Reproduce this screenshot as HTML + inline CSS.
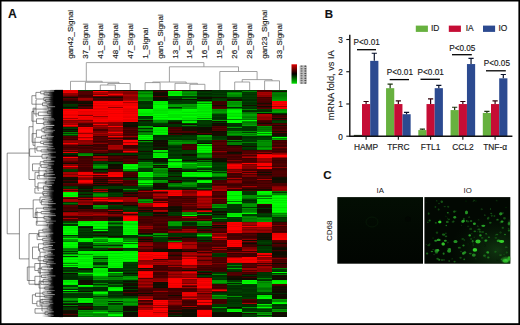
<!DOCTYPE html>
<html><head><meta charset="utf-8">
<style>
html,body{margin:0;padding:0;background:#fff;}
body{width:520px;height:325px;overflow:hidden;position:relative;font-family:"Liberation Sans",sans-serif;}
svg{position:absolute;left:0;top:0;}
svg text{stroke:#1a1a1a;stroke-width:0.15px;}
</style></head><body>
<svg width="520" height="325" viewBox="0 0 520 325" font-family="Liberation Sans, sans-serif">
<defs>
<linearGradient id="cbar" x1="0" y1="0" x2="0" y2="1">
<stop offset="0" stop-color="#e00000"/><stop offset="0.5" stop-color="#000"/><stop offset="1" stop-color="#00e000"/>
</linearGradient>
<linearGradient id="dg" x1="0" y1="0" x2="1" y2="0">
<stop offset="0" stop-color="#000" stop-opacity="0"/><stop offset="0.28" stop-color="#000" stop-opacity="0.35"/><stop offset="0.46" stop-color="#000" stop-opacity="0.8"/><stop offset="0.56" stop-color="#000" stop-opacity="1"/><stop offset="1" stop-color="#000" stop-opacity="1"/>
</linearGradient>
<radialGradient id="haze" cx="0.85" cy="0.8" r="0.55">
<stop offset="0" stop-color="#1c5a1c" stop-opacity="0.55"/><stop offset="1" stop-color="#0a2a0a" stop-opacity="0"/>
</radialGradient>
<radialGradient id="blob"><stop offset="0" stop-color="#3fd03f" stop-opacity="0.85"/><stop offset="0.6" stop-color="#1f8f1f" stop-opacity="0.5"/><stop offset="1" stop-color="#0a3a0a" stop-opacity="0"/></radialGradient>
<radialGradient id="blob2"><stop offset="0" stop-color="#2a9a2a" stop-opacity="0.6"/><stop offset="1" stop-color="#0a3a0a" stop-opacity="0"/></radialGradient>
<filter id="hblur" x="-1%" y="-1%" width="102%" height="102%"><feGaussianBlur stdDeviation="0.25 0.35"/></filter>
<clipPath id="ioclip"><rect x="424.4" y="197.1" width="85.9" height="66.6"/></clipPath>
<linearGradient id="iag" x1="0" y1="0" x2="0" y2="1">
<stop offset="0" stop-color="#030e03"/><stop offset="0.5" stop-color="#020902"/><stop offset="1" stop-color="#010501"/>
</linearGradient>
<filter id="soft" x="-5%" y="-5%" width="110%" height="110%"><feGaussianBlur stdDeviation="0.7"/></filter>
</defs>
<rect x="0" y="0" width="520" height="325" fill="#fff"/>
<g filter="url(#hblur)"><g shape-rendering="crispEdges">
<rect x="63.00" y="90" width="14.98" height="1.02" fill="#ea0000"/>
<rect x="63.00" y="91" width="14.98" height="1.02" fill="#e70000"/>
<rect x="63.00" y="92" width="14.98" height="1.02" fill="#f20000"/>
<rect x="63.00" y="93" width="14.98" height="1.02" fill="#960000"/>
<rect x="63.00" y="94" width="14.98" height="1.02" fill="#920000"/>
<rect x="63.00" y="95" width="14.98" height="1.02" fill="#7d0000"/>
<rect x="63.00" y="96" width="14.98" height="1.02" fill="#510000"/>
<rect x="63.00" y="97" width="14.98" height="1.02" fill="#100800"/>
<rect x="63.00" y="98" width="14.98" height="1.02" fill="#540000"/>
<rect x="63.00" y="99" width="14.98" height="1.02" fill="#450000"/>
<rect x="63.00" y="100" width="14.98" height="1.02" fill="#3a0000"/>
<rect x="63.00" y="101" width="14.98" height="1.02" fill="#100900"/>
<rect x="63.00" y="102" width="14.98" height="1.02" fill="#0f0800"/>
<rect x="63.00" y="103" width="14.98" height="1.02" fill="#140b00"/>
<rect x="63.00" y="104" width="14.98" height="1.02" fill="#003800"/>
<rect x="63.00" y="105" width="14.98" height="1.02" fill="#003400"/>
<rect x="63.00" y="106" width="14.98" height="1.02" fill="#002d00"/>
<rect x="63.00" y="107" width="14.98" height="1.02" fill="#0f0800"/>
<rect x="63.00" y="108" width="14.98" height="1.02" fill="#003500"/>
<rect x="63.00" y="109" width="14.98" height="1.02" fill="#fb0000"/>
<rect x="63.00" y="110" width="14.98" height="1.02" fill="#f00000"/>
<rect x="63.00" y="111" width="14.98" height="1.02" fill="#ff0000"/>
<rect x="63.00" y="112" width="14.98" height="1.02" fill="#fa0000"/>
<rect x="63.00" y="113" width="14.98" height="1.02" fill="#ff0000"/>
<rect x="63.00" y="114" width="14.98" height="1.02" fill="#ef0000"/>
<rect x="63.00" y="115" width="14.98" height="1.02" fill="#e80000"/>
<rect x="63.00" y="116" width="14.98" height="1.02" fill="#ff0000"/>
<rect x="63.00" y="117" width="14.98" height="1.02" fill="#f70000"/>
<rect x="63.00" y="118" width="14.98" height="1.02" fill="#a00000"/>
<rect x="63.00" y="119" width="14.98" height="1.02" fill="#fa0000"/>
<rect x="63.00" y="120" width="14.98" height="1.02" fill="#8a0000"/>
<rect x="63.00" y="121" width="14.98" height="1.02" fill="#9b0000"/>
<rect x="63.00" y="122" width="14.98" height="1.02" fill="#930000"/>
<rect x="63.00" y="123" width="14.98" height="1.02" fill="#b00000"/>
<rect x="63.00" y="124" width="14.98" height="1.02" fill="#9f0000"/>
<rect x="63.00" y="125" width="14.98" height="1.02" fill="#ff0000"/>
<rect x="63.00" y="126" width="14.98" height="1.02" fill="#b30000"/>
<rect x="63.00" y="127" width="14.98" height="1.02" fill="#003200"/>
<rect x="63.00" y="128" width="14.98" height="1.02" fill="#003a00"/>
<rect x="63.00" y="129" width="14.98" height="1.02" fill="#110900"/>
<rect x="63.00" y="130" width="14.98" height="1.02" fill="#002e00"/>
<rect x="63.00" y="131" width="14.98" height="1.02" fill="#130b00"/>
<rect x="63.00" y="132" width="14.98" height="1.02" fill="#007d00"/>
<rect x="63.00" y="133" width="14.98" height="1.02" fill="#003f00"/>
<rect x="63.00" y="134" width="14.98" height="1.02" fill="#008900"/>
<rect x="63.00" y="135" width="14.98" height="1.02" fill="#003f00"/>
<rect x="63.00" y="136" width="14.98" height="1.02" fill="#520000"/>
<rect x="63.00" y="137" width="14.98" height="1.02" fill="#450000"/>
<rect x="63.00" y="138" width="14.98" height="1.02" fill="#530000"/>
<rect x="63.00" y="139" width="14.98" height="1.02" fill="#3d0000"/>
<rect x="63.00" y="140" width="14.98" height="1.02" fill="#850000"/>
<rect x="63.00" y="141" width="14.98" height="1.02" fill="#950000"/>
<rect x="63.00" y="142" width="14.98" height="1.02" fill="#870000"/>
<rect x="63.00" y="143" width="14.98" height="1.02" fill="#f40000"/>
<rect x="63.00" y="144" width="14.98" height="1.02" fill="#990000"/>
<rect x="63.00" y="145" width="14.98" height="1.02" fill="#4d0000"/>
<rect x="63.00" y="146" width="14.98" height="1.02" fill="#4b0000"/>
<rect x="63.00" y="147" width="14.98" height="1.02" fill="#3b0000"/>
<rect x="63.00" y="148" width="14.98" height="1.02" fill="#500000"/>
<rect x="63.00" y="149" width="14.98" height="1.02" fill="#500000"/>
<rect x="63.00" y="150" width="14.98" height="1.02" fill="#8f0000"/>
<rect x="63.00" y="151" width="14.98" height="1.02" fill="#4b0000"/>
<rect x="63.00" y="152" width="14.98" height="1.02" fill="#e60000"/>
<rect x="63.00" y="153" width="14.98" height="1.02" fill="#002f00"/>
<rect x="63.00" y="154" width="14.98" height="1.02" fill="#002d00"/>
<rect x="63.00" y="155" width="14.98" height="1.02" fill="#0f0800"/>
<rect x="63.00" y="156" width="14.98" height="1.02" fill="#440000"/>
<rect x="63.00" y="157" width="14.98" height="1.02" fill="#ff0000"/>
<rect x="63.00" y="158" width="14.98" height="1.02" fill="#800000"/>
<rect x="63.00" y="159" width="14.98" height="1.02" fill="#8c0000"/>
<rect x="63.00" y="160" width="14.98" height="1.02" fill="#7f0000"/>
<rect x="63.00" y="161" width="14.98" height="1.02" fill="#560000"/>
<rect x="63.00" y="162" width="14.98" height="1.02" fill="#470000"/>
<rect x="63.00" y="163" width="14.98" height="1.02" fill="#0f0800"/>
<rect x="63.00" y="164" width="14.98" height="1.02" fill="#870000"/>
<rect x="63.00" y="165" width="14.98" height="1.02" fill="#810000"/>
<rect x="63.00" y="166" width="14.98" height="1.02" fill="#ff0000"/>
<rect x="63.00" y="167" width="14.98" height="1.02" fill="#800000"/>
<rect x="63.00" y="168" width="14.98" height="1.02" fill="#790000"/>
<rect x="63.00" y="169" width="14.98" height="1.02" fill="#004100"/>
<rect x="63.00" y="170" width="14.98" height="1.02" fill="#003b00"/>
<rect x="63.00" y="171" width="14.98" height="1.02" fill="#003400"/>
<rect x="63.00" y="172" width="14.98" height="1.02" fill="#a60000"/>
<rect x="63.00" y="173" width="14.98" height="1.02" fill="#a60000"/>
<rect x="63.00" y="174" width="14.98" height="1.02" fill="#850000"/>
<rect x="63.00" y="175" width="14.98" height="1.02" fill="#b30000"/>
<rect x="63.00" y="176" width="14.98" height="1.02" fill="#a80000"/>
<rect x="63.00" y="177" width="14.98" height="1.02" fill="#130a00"/>
<rect x="63.00" y="178" width="14.98" height="1.02" fill="#120a00"/>
<rect x="63.00" y="179" width="14.98" height="1.02" fill="#0e0800"/>
<rect x="63.00" y="180" width="14.98" height="1.02" fill="#410000"/>
<rect x="63.00" y="181" width="14.98" height="1.02" fill="#130a00"/>
<rect x="63.00" y="182" width="14.98" height="1.02" fill="#110900"/>
<rect x="63.00" y="183" width="14.98" height="1.02" fill="#560000"/>
<rect x="63.00" y="184" width="14.98" height="1.02" fill="#440000"/>
<rect x="63.00" y="185" width="14.98" height="1.02" fill="#400000"/>
<rect x="63.00" y="186" width="14.98" height="1.02" fill="#003000"/>
<rect x="63.00" y="187" width="14.98" height="1.02" fill="#003f00"/>
<rect x="63.00" y="188" width="14.98" height="1.02" fill="#003600"/>
<rect x="63.00" y="189" width="14.98" height="1.02" fill="#a70000"/>
<rect x="63.00" y="190" width="14.98" height="1.02" fill="#4c0000"/>
<rect x="63.00" y="191" width="14.98" height="1.02" fill="#a60000"/>
<rect x="63.00" y="192" width="14.98" height="1.02" fill="#00f100"/>
<rect x="63.00" y="193" width="14.98" height="1.02" fill="#00fd00"/>
<rect x="63.00" y="194" width="14.98" height="1.02" fill="#00fd00"/>
<rect x="63.00" y="195" width="14.98" height="1.02" fill="#00ed00"/>
<rect x="63.00" y="196" width="14.98" height="1.02" fill="#00ff00"/>
<rect x="63.00" y="197" width="14.98" height="1.02" fill="#820000"/>
<rect x="63.00" y="198" width="14.98" height="1.02" fill="#3d0000"/>
<rect x="63.00" y="199" width="14.98" height="1.02" fill="#a80000"/>
<rect x="63.00" y="200" width="14.98" height="1.02" fill="#a90000"/>
<rect x="63.00" y="201" width="14.98" height="1.02" fill="#9f0000"/>
<rect x="63.00" y="202" width="14.98" height="1.02" fill="#003800"/>
<rect x="63.00" y="203" width="14.98" height="1.02" fill="#007000"/>
<rect x="63.00" y="204" width="14.98" height="1.02" fill="#003a00"/>
<rect x="63.00" y="205" width="14.98" height="1.02" fill="#540000"/>
<rect x="63.00" y="206" width="14.98" height="1.02" fill="#520000"/>
<rect x="63.00" y="207" width="14.98" height="1.02" fill="#3f0000"/>
<rect x="63.00" y="208" width="14.98" height="1.02" fill="#420000"/>
<rect x="63.00" y="209" width="14.98" height="1.02" fill="#4a0000"/>
<rect x="63.00" y="210" width="14.98" height="1.02" fill="#450000"/>
<rect x="63.00" y="211" width="14.98" height="1.02" fill="#140b00"/>
<rect x="63.00" y="212" width="14.98" height="1.02" fill="#930000"/>
<rect x="63.00" y="213" width="14.98" height="1.02" fill="#ae0000"/>
<rect x="63.00" y="214" width="14.98" height="1.02" fill="#af0000"/>
<rect x="63.00" y="215" width="14.98" height="1.02" fill="#970000"/>
<rect x="63.00" y="216" width="14.98" height="1.02" fill="#3a0000"/>
<rect x="63.00" y="217" width="14.98" height="1.02" fill="#3e0000"/>
<rect x="63.00" y="218" width="14.98" height="1.02" fill="#a70000"/>
<rect x="63.00" y="219" width="14.98" height="1.02" fill="#470000"/>
<rect x="63.00" y="220" width="14.98" height="1.02" fill="#490000"/>
<rect x="63.00" y="221" width="14.98" height="1.02" fill="#003700"/>
<rect x="63.00" y="222" width="14.98" height="1.02" fill="#003d00"/>
<rect x="63.00" y="223" width="14.98" height="1.02" fill="#008f00"/>
<rect x="63.00" y="224" width="14.98" height="1.02" fill="#003200"/>
<rect x="63.00" y="225" width="14.98" height="1.02" fill="#003700"/>
<rect x="63.00" y="226" width="14.98" height="1.02" fill="#00fc00"/>
<rect x="63.00" y="227" width="14.98" height="1.02" fill="#00ef00"/>
<rect x="63.00" y="228" width="14.98" height="1.02" fill="#00f200"/>
<rect x="63.00" y="229" width="14.98" height="1.02" fill="#00f900"/>
<rect x="63.00" y="230" width="14.98" height="1.02" fill="#00f300"/>
<rect x="63.00" y="231" width="14.98" height="1.02" fill="#00ff00"/>
<rect x="63.00" y="232" width="14.98" height="1.02" fill="#00ff00"/>
<rect x="63.00" y="233" width="14.98" height="1.02" fill="#00e800"/>
<rect x="63.00" y="234" width="14.98" height="1.02" fill="#00ff00"/>
<rect x="63.00" y="235" width="14.98" height="1.02" fill="#002f00"/>
<rect x="63.00" y="236" width="14.98" height="1.02" fill="#008800"/>
<rect x="63.00" y="237" width="14.98" height="1.02" fill="#007d00"/>
<rect x="63.00" y="238" width="14.98" height="1.02" fill="#00f800"/>
<rect x="63.00" y="239" width="14.98" height="1.02" fill="#00a200"/>
<rect x="63.00" y="240" width="14.98" height="1.02" fill="#009800"/>
<rect x="63.00" y="241" width="14.98" height="1.02" fill="#007800"/>
<rect x="63.00" y="242" width="14.98" height="1.02" fill="#00ff00"/>
<rect x="63.00" y="243" width="14.98" height="1.02" fill="#00ff00"/>
<rect x="63.00" y="244" width="14.98" height="1.02" fill="#00f100"/>
<rect x="63.00" y="245" width="14.98" height="1.02" fill="#00fe00"/>
<rect x="63.00" y="246" width="14.98" height="1.02" fill="#00ef00"/>
<rect x="63.00" y="247" width="14.98" height="1.02" fill="#00eb00"/>
<rect x="63.00" y="248" width="14.98" height="1.02" fill="#008100"/>
<rect x="63.00" y="249" width="14.98" height="1.02" fill="#007100"/>
<rect x="63.00" y="250" width="14.98" height="1.02" fill="#008800"/>
<rect x="63.00" y="251" width="14.98" height="1.02" fill="#003300"/>
<rect x="63.00" y="252" width="14.98" height="1.02" fill="#008c00"/>
<rect x="63.00" y="253" width="14.98" height="1.02" fill="#004100"/>
<rect x="63.00" y="254" width="14.98" height="1.02" fill="#00a600"/>
<rect x="63.00" y="255" width="14.98" height="1.02" fill="#00e800"/>
<rect x="63.00" y="256" width="14.98" height="1.02" fill="#003d00"/>
<rect x="63.00" y="257" width="14.98" height="1.02" fill="#00e300"/>
<rect x="63.00" y="258" width="14.98" height="1.02" fill="#00ff00"/>
<rect x="63.00" y="259" width="14.98" height="1.02" fill="#00e800"/>
<rect x="63.00" y="260" width="14.98" height="1.02" fill="#00ff00"/>
<rect x="63.00" y="261" width="14.98" height="1.02" fill="#00f900"/>
<rect x="63.00" y="262" width="14.98" height="1.02" fill="#00e000"/>
<rect x="63.00" y="263" width="14.98" height="1.02" fill="#008700"/>
<rect x="63.00" y="264" width="14.98" height="1.02" fill="#00ff00"/>
<rect x="63.00" y="265" width="14.98" height="1.02" fill="#009c00"/>
<rect x="63.00" y="266" width="14.98" height="1.02" fill="#00ff00"/>
<rect x="63.00" y="267" width="14.98" height="1.02" fill="#003e00"/>
<rect x="63.00" y="268" width="14.98" height="1.02" fill="#003300"/>
<rect x="63.00" y="269" width="14.98" height="1.02" fill="#004000"/>
<rect x="63.00" y="270" width="14.98" height="1.02" fill="#002e00"/>
<rect x="63.00" y="271" width="14.98" height="1.02" fill="#003100"/>
<rect x="63.00" y="272" width="14.98" height="1.02" fill="#007900"/>
<rect x="63.00" y="273" width="14.98" height="1.02" fill="#0f0800"/>
<rect x="63.00" y="274" width="14.98" height="1.02" fill="#003200"/>
<rect x="63.00" y="275" width="14.98" height="1.02" fill="#003200"/>
<rect x="63.00" y="276" width="14.98" height="1.02" fill="#002f00"/>
<rect x="63.00" y="277" width="14.98" height="1.02" fill="#002c00"/>
<rect x="63.00" y="278" width="14.98" height="1.02" fill="#002c00"/>
<rect x="63.00" y="279" width="14.98" height="1.02" fill="#003800"/>
<rect x="63.00" y="280" width="14.98" height="1.02" fill="#00f100"/>
<rect x="63.00" y="281" width="14.98" height="1.02" fill="#00e200"/>
<rect x="63.00" y="282" width="14.98" height="1.02" fill="#00ef00"/>
<rect x="63.00" y="283" width="14.98" height="1.02" fill="#00fe00"/>
<rect x="63.00" y="284" width="14.98" height="1.02" fill="#00f200"/>
<rect x="63.00" y="285" width="14.98" height="1.02" fill="#004100"/>
<rect x="63.00" y="286" width="14.98" height="1.02" fill="#003e00"/>
<rect x="63.00" y="287" width="14.98" height="1.02" fill="#009300"/>
<rect x="63.00" y="288" width="14.98" height="1.02" fill="#008300"/>
<rect x="63.00" y="289" width="14.98" height="1.02" fill="#002e00"/>
<rect x="63.00" y="290" width="14.98" height="1.02" fill="#00fb00"/>
<rect x="63.00" y="291" width="14.98" height="1.02" fill="#002f00"/>
<rect x="63.00" y="292" width="14.98" height="1.02" fill="#009f00"/>
<rect x="63.00" y="293" width="14.98" height="1.02" fill="#003a00"/>
<rect x="63.00" y="294" width="14.98" height="1.02" fill="#003100"/>
<rect x="63.00" y="295" width="14.98" height="1.02" fill="#003600"/>
<rect x="63.00" y="296" width="14.98" height="1.02" fill="#003500"/>
<rect x="63.00" y="297" width="14.98" height="1.02" fill="#004100"/>
<rect x="63.00" y="298" width="14.98" height="1.02" fill="#008e00"/>
<rect x="63.00" y="299" width="14.98" height="1.02" fill="#00a600"/>
<rect x="63.00" y="300" width="14.98" height="1.02" fill="#008300"/>
<rect x="63.00" y="301" width="14.98" height="1.02" fill="#003400"/>
<rect x="63.00" y="302" width="14.98" height="1.02" fill="#008c00"/>
<rect x="63.00" y="303" width="14.98" height="1.02" fill="#003700"/>
<rect x="63.00" y="304" width="14.98" height="1.02" fill="#100900"/>
<rect x="63.00" y="305" width="14.98" height="1.02" fill="#008600"/>
<rect x="63.00" y="306" width="14.98" height="1.02" fill="#0e0800"/>
<rect x="63.00" y="307" width="14.98" height="1.02" fill="#003100"/>
<rect x="63.00" y="308" width="14.98" height="1.02" fill="#003700"/>
<rect x="63.00" y="309" width="14.98" height="1.02" fill="#003a00"/>
<rect x="63.00" y="310" width="14.98" height="1.02" fill="#140b00"/>
<rect x="63.00" y="311" width="14.98" height="1.02" fill="#100900"/>
<rect x="63.00" y="312" width="14.98" height="1.02" fill="#0f0800"/>
<rect x="63.00" y="313" width="14.98" height="1.02" fill="#130a00"/>
<rect x="63.00" y="314" width="14.98" height="1.02" fill="#510000"/>
<rect x="63.00" y="315" width="14.98" height="1.02" fill="#120a00"/>
<rect x="63.00" y="316" width="14.98" height="1.02" fill="#140b00"/>
<rect x="77.93" y="90" width="14.98" height="1.02" fill="#003700"/>
<rect x="77.93" y="91" width="14.98" height="1.02" fill="#510000"/>
<rect x="77.93" y="92" width="14.98" height="1.02" fill="#510000"/>
<rect x="77.93" y="93" width="14.98" height="1.02" fill="#530000"/>
<rect x="77.93" y="94" width="14.98" height="1.02" fill="#4d0000"/>
<rect x="77.93" y="95" width="14.98" height="1.02" fill="#3a0000"/>
<rect x="77.93" y="96" width="14.98" height="1.02" fill="#430000"/>
<rect x="77.93" y="97" width="14.98" height="1.02" fill="#510000"/>
<rect x="77.93" y="98" width="14.98" height="1.02" fill="#9d0000"/>
<rect x="77.93" y="99" width="14.98" height="1.02" fill="#a00000"/>
<rect x="77.93" y="100" width="14.98" height="1.02" fill="#780000"/>
<rect x="77.93" y="101" width="14.98" height="1.02" fill="#130a00"/>
<rect x="77.93" y="102" width="14.98" height="1.02" fill="#120a00"/>
<rect x="77.93" y="103" width="14.98" height="1.02" fill="#0e0800"/>
<rect x="77.93" y="104" width="14.98" height="1.02" fill="#400000"/>
<rect x="77.93" y="105" width="14.98" height="1.02" fill="#100900"/>
<rect x="77.93" y="106" width="14.98" height="1.02" fill="#3f0000"/>
<rect x="77.93" y="107" width="14.98" height="1.02" fill="#550000"/>
<rect x="77.93" y="108" width="14.98" height="1.02" fill="#440000"/>
<rect x="77.93" y="109" width="14.98" height="1.02" fill="#ff0000"/>
<rect x="77.93" y="110" width="14.98" height="1.02" fill="#fc0000"/>
<rect x="77.93" y="111" width="14.98" height="1.02" fill="#e70000"/>
<rect x="77.93" y="112" width="14.98" height="1.02" fill="#ee0000"/>
<rect x="77.93" y="113" width="14.98" height="1.02" fill="#f00000"/>
<rect x="77.93" y="114" width="14.98" height="1.02" fill="#e40000"/>
<rect x="77.93" y="115" width="14.98" height="1.02" fill="#880000"/>
<rect x="77.93" y="116" width="14.98" height="1.02" fill="#ff0000"/>
<rect x="77.93" y="117" width="14.98" height="1.02" fill="#ef0000"/>
<rect x="77.93" y="118" width="14.98" height="1.02" fill="#f60000"/>
<rect x="77.93" y="119" width="14.98" height="1.02" fill="#e80000"/>
<rect x="77.93" y="120" width="14.98" height="1.02" fill="#830000"/>
<rect x="77.93" y="121" width="14.98" height="1.02" fill="#b00000"/>
<rect x="77.93" y="122" width="14.98" height="1.02" fill="#930000"/>
<rect x="77.93" y="123" width="14.98" height="1.02" fill="#550000"/>
<rect x="77.93" y="124" width="14.98" height="1.02" fill="#410000"/>
<rect x="77.93" y="125" width="14.98" height="1.02" fill="#540000"/>
<rect x="77.93" y="126" width="14.98" height="1.02" fill="#4a0000"/>
<rect x="77.93" y="127" width="14.98" height="1.02" fill="#f80000"/>
<rect x="77.93" y="128" width="14.98" height="1.02" fill="#e90000"/>
<rect x="77.93" y="129" width="14.98" height="1.02" fill="#f80000"/>
<rect x="77.93" y="130" width="14.98" height="1.02" fill="#ff0000"/>
<rect x="77.93" y="131" width="14.98" height="1.02" fill="#ff0000"/>
<rect x="77.93" y="132" width="14.98" height="1.02" fill="#e50000"/>
<rect x="77.93" y="133" width="14.98" height="1.02" fill="#950000"/>
<rect x="77.93" y="134" width="14.98" height="1.02" fill="#f00000"/>
<rect x="77.93" y="135" width="14.98" height="1.02" fill="#f10000"/>
<rect x="77.93" y="136" width="14.98" height="1.02" fill="#ff0000"/>
<rect x="77.93" y="137" width="14.98" height="1.02" fill="#a50000"/>
<rect x="77.93" y="138" width="14.98" height="1.02" fill="#e80000"/>
<rect x="77.93" y="139" width="14.98" height="1.02" fill="#ff0000"/>
<rect x="77.93" y="140" width="14.98" height="1.02" fill="#890000"/>
<rect x="77.93" y="141" width="14.98" height="1.02" fill="#8f0000"/>
<rect x="77.93" y="142" width="14.98" height="1.02" fill="#9b0000"/>
<rect x="77.93" y="143" width="14.98" height="1.02" fill="#910000"/>
<rect x="77.93" y="144" width="14.98" height="1.02" fill="#7a0000"/>
<rect x="77.93" y="145" width="14.98" height="1.02" fill="#140b00"/>
<rect x="77.93" y="146" width="14.98" height="1.02" fill="#540000"/>
<rect x="77.93" y="147" width="14.98" height="1.02" fill="#410000"/>
<rect x="77.93" y="148" width="14.98" height="1.02" fill="#3f0000"/>
<rect x="77.93" y="149" width="14.98" height="1.02" fill="#550000"/>
<rect x="77.93" y="150" width="14.98" height="1.02" fill="#500000"/>
<rect x="77.93" y="151" width="14.98" height="1.02" fill="#530000"/>
<rect x="77.93" y="152" width="14.98" height="1.02" fill="#490000"/>
<rect x="77.93" y="153" width="14.98" height="1.02" fill="#007200"/>
<rect x="77.93" y="154" width="14.98" height="1.02" fill="#008900"/>
<rect x="77.93" y="155" width="14.98" height="1.02" fill="#009400"/>
<rect x="77.93" y="156" width="14.98" height="1.02" fill="#3b0000"/>
<rect x="77.93" y="157" width="14.98" height="1.02" fill="#3d0000"/>
<rect x="77.93" y="158" width="14.98" height="1.02" fill="#430000"/>
<rect x="77.93" y="159" width="14.98" height="1.02" fill="#4e0000"/>
<rect x="77.93" y="160" width="14.98" height="1.02" fill="#410000"/>
<rect x="77.93" y="161" width="14.98" height="1.02" fill="#420000"/>
<rect x="77.93" y="162" width="14.98" height="1.02" fill="#440000"/>
<rect x="77.93" y="163" width="14.98" height="1.02" fill="#3e0000"/>
<rect x="77.93" y="164" width="14.98" height="1.02" fill="#530000"/>
<rect x="77.93" y="165" width="14.98" height="1.02" fill="#3f0000"/>
<rect x="77.93" y="166" width="14.98" height="1.02" fill="#560000"/>
<rect x="77.93" y="167" width="14.98" height="1.02" fill="#3d0000"/>
<rect x="77.93" y="168" width="14.98" height="1.02" fill="#3c0000"/>
<rect x="77.93" y="169" width="14.98" height="1.02" fill="#3c0000"/>
<rect x="77.93" y="170" width="14.98" height="1.02" fill="#410000"/>
<rect x="77.93" y="171" width="14.98" height="1.02" fill="#530000"/>
<rect x="77.93" y="172" width="14.98" height="1.02" fill="#f40000"/>
<rect x="77.93" y="173" width="14.98" height="1.02" fill="#f80000"/>
<rect x="77.93" y="174" width="14.98" height="1.02" fill="#f10000"/>
<rect x="77.93" y="175" width="14.98" height="1.02" fill="#880000"/>
<rect x="77.93" y="176" width="14.98" height="1.02" fill="#e90000"/>
<rect x="77.93" y="177" width="14.98" height="1.02" fill="#9d0000"/>
<rect x="77.93" y="178" width="14.98" height="1.02" fill="#840000"/>
<rect x="77.93" y="179" width="14.98" height="1.02" fill="#860000"/>
<rect x="77.93" y="180" width="14.98" height="1.02" fill="#f50000"/>
<rect x="77.93" y="181" width="14.98" height="1.02" fill="#ff0000"/>
<rect x="77.93" y="182" width="14.98" height="1.02" fill="#e50000"/>
<rect x="77.93" y="183" width="14.98" height="1.02" fill="#a20000"/>
<rect x="77.93" y="184" width="14.98" height="1.02" fill="#470000"/>
<rect x="77.93" y="185" width="14.98" height="1.02" fill="#390000"/>
<rect x="77.93" y="186" width="14.98" height="1.02" fill="#150b00"/>
<rect x="77.93" y="187" width="14.98" height="1.02" fill="#140b00"/>
<rect x="77.93" y="188" width="14.98" height="1.02" fill="#100800"/>
<rect x="77.93" y="189" width="14.98" height="1.02" fill="#002f00"/>
<rect x="77.93" y="190" width="14.98" height="1.02" fill="#130a00"/>
<rect x="77.93" y="191" width="14.98" height="1.02" fill="#130a00"/>
<rect x="77.93" y="192" width="14.98" height="1.02" fill="#003c00"/>
<rect x="77.93" y="193" width="14.98" height="1.02" fill="#003800"/>
<rect x="77.93" y="194" width="14.98" height="1.02" fill="#140b00"/>
<rect x="77.93" y="195" width="14.98" height="1.02" fill="#004000"/>
<rect x="77.93" y="196" width="14.98" height="1.02" fill="#003200"/>
<rect x="77.93" y="197" width="14.98" height="1.02" fill="#400000"/>
<rect x="77.93" y="198" width="14.98" height="1.02" fill="#a10000"/>
<rect x="77.93" y="199" width="14.98" height="1.02" fill="#3b0000"/>
<rect x="77.93" y="200" width="14.98" height="1.02" fill="#9a0000"/>
<rect x="77.93" y="201" width="14.98" height="1.02" fill="#850000"/>
<rect x="77.93" y="202" width="14.98" height="1.02" fill="#780000"/>
<rect x="77.93" y="203" width="14.98" height="1.02" fill="#930000"/>
<rect x="77.93" y="204" width="14.98" height="1.02" fill="#9e0000"/>
<rect x="77.93" y="205" width="14.98" height="1.02" fill="#110900"/>
<rect x="77.93" y="206" width="14.98" height="1.02" fill="#100800"/>
<rect x="77.93" y="207" width="14.98" height="1.02" fill="#130a00"/>
<rect x="77.93" y="208" width="14.98" height="1.02" fill="#0e0800"/>
<rect x="77.93" y="209" width="14.98" height="1.02" fill="#4d0000"/>
<rect x="77.93" y="210" width="14.98" height="1.02" fill="#410000"/>
<rect x="77.93" y="211" width="14.98" height="1.02" fill="#540000"/>
<rect x="77.93" y="212" width="14.98" height="1.02" fill="#7a0000"/>
<rect x="77.93" y="213" width="14.98" height="1.02" fill="#910000"/>
<rect x="77.93" y="214" width="14.98" height="1.02" fill="#830000"/>
<rect x="77.93" y="215" width="14.98" height="1.02" fill="#a40000"/>
<rect x="77.93" y="216" width="14.98" height="1.02" fill="#3f0000"/>
<rect x="77.93" y="217" width="14.98" height="1.02" fill="#420000"/>
<rect x="77.93" y="218" width="14.98" height="1.02" fill="#400000"/>
<rect x="77.93" y="219" width="14.98" height="1.02" fill="#4f0000"/>
<rect x="77.93" y="220" width="14.98" height="1.02" fill="#550000"/>
<rect x="77.93" y="221" width="14.98" height="1.02" fill="#00e500"/>
<rect x="77.93" y="222" width="14.98" height="1.02" fill="#00ee00"/>
<rect x="77.93" y="223" width="14.98" height="1.02" fill="#00ff00"/>
<rect x="77.93" y="224" width="14.98" height="1.02" fill="#00ed00"/>
<rect x="77.93" y="225" width="14.98" height="1.02" fill="#00ff00"/>
<rect x="77.93" y="226" width="14.98" height="1.02" fill="#002d00"/>
<rect x="77.93" y="227" width="14.98" height="1.02" fill="#110900"/>
<rect x="77.93" y="228" width="14.98" height="1.02" fill="#003f00"/>
<rect x="77.93" y="229" width="14.98" height="1.02" fill="#004100"/>
<rect x="77.93" y="230" width="14.98" height="1.02" fill="#003300"/>
<rect x="77.93" y="231" width="14.98" height="1.02" fill="#004000"/>
<rect x="77.93" y="232" width="14.98" height="1.02" fill="#002c00"/>
<rect x="77.93" y="233" width="14.98" height="1.02" fill="#003400"/>
<rect x="77.93" y="234" width="14.98" height="1.02" fill="#003300"/>
<rect x="77.93" y="235" width="14.98" height="1.02" fill="#002c00"/>
<rect x="77.93" y="236" width="14.98" height="1.02" fill="#003300"/>
<rect x="77.93" y="237" width="14.98" height="1.02" fill="#002e00"/>
<rect x="77.93" y="238" width="14.98" height="1.02" fill="#00e600"/>
<rect x="77.93" y="239" width="14.98" height="1.02" fill="#00fe00"/>
<rect x="77.93" y="240" width="14.98" height="1.02" fill="#00ef00"/>
<rect x="77.93" y="241" width="14.98" height="1.02" fill="#00f000"/>
<rect x="77.93" y="242" width="14.98" height="1.02" fill="#004000"/>
<rect x="77.93" y="243" width="14.98" height="1.02" fill="#003400"/>
<rect x="77.93" y="244" width="14.98" height="1.02" fill="#002c00"/>
<rect x="77.93" y="245" width="14.98" height="1.02" fill="#003d00"/>
<rect x="77.93" y="246" width="14.98" height="1.02" fill="#002c00"/>
<rect x="77.93" y="247" width="14.98" height="1.02" fill="#0e0800"/>
<rect x="77.93" y="248" width="14.98" height="1.02" fill="#003100"/>
<rect x="77.93" y="249" width="14.98" height="1.02" fill="#003f00"/>
<rect x="77.93" y="250" width="14.98" height="1.02" fill="#003100"/>
<rect x="77.93" y="251" width="14.98" height="1.02" fill="#00f600"/>
<rect x="77.93" y="252" width="14.98" height="1.02" fill="#00fa00"/>
<rect x="77.93" y="253" width="14.98" height="1.02" fill="#00e900"/>
<rect x="77.93" y="254" width="14.98" height="1.02" fill="#009a00"/>
<rect x="77.93" y="255" width="14.98" height="1.02" fill="#00f700"/>
<rect x="77.93" y="256" width="14.98" height="1.02" fill="#00df00"/>
<rect x="77.93" y="257" width="14.98" height="1.02" fill="#00f100"/>
<rect x="77.93" y="258" width="14.98" height="1.02" fill="#00ff00"/>
<rect x="77.93" y="259" width="14.98" height="1.02" fill="#00e800"/>
<rect x="77.93" y="260" width="14.98" height="1.02" fill="#00f100"/>
<rect x="77.93" y="261" width="14.98" height="1.02" fill="#00e500"/>
<rect x="77.93" y="262" width="14.98" height="1.02" fill="#00fb00"/>
<rect x="77.93" y="263" width="14.98" height="1.02" fill="#00fc00"/>
<rect x="77.93" y="264" width="14.98" height="1.02" fill="#00eb00"/>
<rect x="77.93" y="265" width="14.98" height="1.02" fill="#00ec00"/>
<rect x="77.93" y="266" width="14.98" height="1.02" fill="#00e100"/>
<rect x="77.93" y="267" width="14.98" height="1.02" fill="#00fb00"/>
<rect x="77.93" y="268" width="14.98" height="1.02" fill="#002d00"/>
<rect x="77.93" y="269" width="14.98" height="1.02" fill="#120a00"/>
<rect x="77.93" y="270" width="14.98" height="1.02" fill="#004100"/>
<rect x="77.93" y="271" width="14.98" height="1.02" fill="#004100"/>
<rect x="77.93" y="272" width="14.98" height="1.02" fill="#007400"/>
<rect x="77.93" y="273" width="14.98" height="1.02" fill="#00f100"/>
<rect x="77.93" y="274" width="14.98" height="1.02" fill="#008900"/>
<rect x="77.93" y="275" width="14.98" height="1.02" fill="#008700"/>
<rect x="77.93" y="276" width="14.98" height="1.02" fill="#003a00"/>
<rect x="77.93" y="277" width="14.98" height="1.02" fill="#003e00"/>
<rect x="77.93" y="278" width="14.98" height="1.02" fill="#002e00"/>
<rect x="77.93" y="279" width="14.98" height="1.02" fill="#003200"/>
<rect x="77.93" y="280" width="14.98" height="1.02" fill="#110900"/>
<rect x="77.93" y="281" width="14.98" height="1.02" fill="#0f0800"/>
<rect x="77.93" y="282" width="14.98" height="1.02" fill="#100800"/>
<rect x="77.93" y="283" width="14.98" height="1.02" fill="#140b00"/>
<rect x="77.93" y="284" width="14.98" height="1.02" fill="#100900"/>
<rect x="77.93" y="285" width="14.98" height="1.02" fill="#00ff00"/>
<rect x="77.93" y="286" width="14.98" height="1.02" fill="#00e700"/>
<rect x="77.93" y="287" width="14.98" height="1.02" fill="#003a00"/>
<rect x="77.93" y="288" width="14.98" height="1.02" fill="#002e00"/>
<rect x="77.93" y="289" width="14.98" height="1.02" fill="#003e00"/>
<rect x="77.93" y="290" width="14.98" height="1.02" fill="#004000"/>
<rect x="77.93" y="291" width="14.98" height="1.02" fill="#100900"/>
<rect x="77.93" y="292" width="14.98" height="1.02" fill="#007a00"/>
<rect x="77.93" y="293" width="14.98" height="1.02" fill="#003800"/>
<rect x="77.93" y="294" width="14.98" height="1.02" fill="#003400"/>
<rect x="77.93" y="295" width="14.98" height="1.02" fill="#003500"/>
<rect x="77.93" y="296" width="14.98" height="1.02" fill="#003d00"/>
<rect x="77.93" y="297" width="14.98" height="1.02" fill="#002e00"/>
<rect x="77.93" y="298" width="14.98" height="1.02" fill="#00f600"/>
<rect x="77.93" y="299" width="14.98" height="1.02" fill="#00ec00"/>
<rect x="77.93" y="300" width="14.98" height="1.02" fill="#00e600"/>
<rect x="77.93" y="301" width="14.98" height="1.02" fill="#00f500"/>
<rect x="77.93" y="302" width="14.98" height="1.02" fill="#00e600"/>
<rect x="77.93" y="303" width="14.98" height="1.02" fill="#100900"/>
<rect x="77.93" y="304" width="14.98" height="1.02" fill="#003000"/>
<rect x="77.93" y="305" width="14.98" height="1.02" fill="#003000"/>
<rect x="77.93" y="306" width="14.98" height="1.02" fill="#120a00"/>
<rect x="77.93" y="307" width="14.98" height="1.02" fill="#3c0000"/>
<rect x="77.93" y="308" width="14.98" height="1.02" fill="#120a00"/>
<rect x="77.93" y="309" width="14.98" height="1.02" fill="#0f0800"/>
<rect x="77.93" y="310" width="14.98" height="1.02" fill="#009600"/>
<rect x="77.93" y="311" width="14.98" height="1.02" fill="#007f00"/>
<rect x="77.93" y="312" width="14.98" height="1.02" fill="#00a500"/>
<rect x="77.93" y="313" width="14.98" height="1.02" fill="#008f00"/>
<rect x="77.93" y="314" width="14.98" height="1.02" fill="#008700"/>
<rect x="77.93" y="315" width="14.98" height="1.02" fill="#00a700"/>
<rect x="77.93" y="316" width="14.98" height="1.02" fill="#007b00"/>
<rect x="92.87" y="90" width="14.98" height="1.02" fill="#0f0800"/>
<rect x="92.87" y="91" width="14.98" height="1.02" fill="#ff0000"/>
<rect x="92.87" y="92" width="14.98" height="1.02" fill="#a90000"/>
<rect x="92.87" y="93" width="14.98" height="1.02" fill="#ac0000"/>
<rect x="92.87" y="94" width="14.98" height="1.02" fill="#810000"/>
<rect x="92.87" y="95" width="14.98" height="1.02" fill="#fa0000"/>
<rect x="92.87" y="96" width="14.98" height="1.02" fill="#530000"/>
<rect x="92.87" y="97" width="14.98" height="1.02" fill="#120a00"/>
<rect x="92.87" y="98" width="14.98" height="1.02" fill="#480000"/>
<rect x="92.87" y="99" width="14.98" height="1.02" fill="#410000"/>
<rect x="92.87" y="100" width="14.98" height="1.02" fill="#540000"/>
<rect x="92.87" y="101" width="14.98" height="1.02" fill="#f70000"/>
<rect x="92.87" y="102" width="14.98" height="1.02" fill="#ff0000"/>
<rect x="92.87" y="103" width="14.98" height="1.02" fill="#e90000"/>
<rect x="92.87" y="104" width="14.98" height="1.02" fill="#ff0000"/>
<rect x="92.87" y="105" width="14.98" height="1.02" fill="#e60000"/>
<rect x="92.87" y="106" width="14.98" height="1.02" fill="#f30000"/>
<rect x="92.87" y="107" width="14.98" height="1.02" fill="#fc0000"/>
<rect x="92.87" y="108" width="14.98" height="1.02" fill="#ea0000"/>
<rect x="92.87" y="109" width="14.98" height="1.02" fill="#ec0000"/>
<rect x="92.87" y="110" width="14.98" height="1.02" fill="#ff0000"/>
<rect x="92.87" y="111" width="14.98" height="1.02" fill="#eb0000"/>
<rect x="92.87" y="112" width="14.98" height="1.02" fill="#f40000"/>
<rect x="92.87" y="113" width="14.98" height="1.02" fill="#f30000"/>
<rect x="92.87" y="114" width="14.98" height="1.02" fill="#ed0000"/>
<rect x="92.87" y="115" width="14.98" height="1.02" fill="#ff0000"/>
<rect x="92.87" y="116" width="14.98" height="1.02" fill="#990000"/>
<rect x="92.87" y="117" width="14.98" height="1.02" fill="#e50000"/>
<rect x="92.87" y="118" width="14.98" height="1.02" fill="#e80000"/>
<rect x="92.87" y="119" width="14.98" height="1.02" fill="#f90000"/>
<rect x="92.87" y="120" width="14.98" height="1.02" fill="#f00000"/>
<rect x="92.87" y="121" width="14.98" height="1.02" fill="#fb0000"/>
<rect x="92.87" y="122" width="14.98" height="1.02" fill="#9f0000"/>
<rect x="92.87" y="123" width="14.98" height="1.02" fill="#920000"/>
<rect x="92.87" y="124" width="14.98" height="1.02" fill="#fc0000"/>
<rect x="92.87" y="125" width="14.98" height="1.02" fill="#860000"/>
<rect x="92.87" y="126" width="14.98" height="1.02" fill="#a60000"/>
<rect x="92.87" y="127" width="14.98" height="1.02" fill="#820000"/>
<rect x="92.87" y="128" width="14.98" height="1.02" fill="#7e0000"/>
<rect x="92.87" y="129" width="14.98" height="1.02" fill="#460000"/>
<rect x="92.87" y="130" width="14.98" height="1.02" fill="#460000"/>
<rect x="92.87" y="131" width="14.98" height="1.02" fill="#7a0000"/>
<rect x="92.87" y="132" width="14.98" height="1.02" fill="#7c0000"/>
<rect x="92.87" y="133" width="14.98" height="1.02" fill="#a60000"/>
<rect x="92.87" y="134" width="14.98" height="1.02" fill="#7b0000"/>
<rect x="92.87" y="135" width="14.98" height="1.02" fill="#8e0000"/>
<rect x="92.87" y="136" width="14.98" height="1.02" fill="#3d0000"/>
<rect x="92.87" y="137" width="14.98" height="1.02" fill="#560000"/>
<rect x="92.87" y="138" width="14.98" height="1.02" fill="#510000"/>
<rect x="92.87" y="139" width="14.98" height="1.02" fill="#550000"/>
<rect x="92.87" y="140" width="14.98" height="1.02" fill="#550000"/>
<rect x="92.87" y="141" width="14.98" height="1.02" fill="#3e0000"/>
<rect x="92.87" y="142" width="14.98" height="1.02" fill="#540000"/>
<rect x="92.87" y="143" width="14.98" height="1.02" fill="#8d0000"/>
<rect x="92.87" y="144" width="14.98" height="1.02" fill="#3e0000"/>
<rect x="92.87" y="145" width="14.98" height="1.02" fill="#410000"/>
<rect x="92.87" y="146" width="14.98" height="1.02" fill="#3d0000"/>
<rect x="92.87" y="147" width="14.98" height="1.02" fill="#540000"/>
<rect x="92.87" y="148" width="14.98" height="1.02" fill="#410000"/>
<rect x="92.87" y="149" width="14.98" height="1.02" fill="#420000"/>
<rect x="92.87" y="150" width="14.98" height="1.02" fill="#820000"/>
<rect x="92.87" y="151" width="14.98" height="1.02" fill="#540000"/>
<rect x="92.87" y="152" width="14.98" height="1.02" fill="#530000"/>
<rect x="92.87" y="153" width="14.98" height="1.02" fill="#140b00"/>
<rect x="92.87" y="154" width="14.98" height="1.02" fill="#003700"/>
<rect x="92.87" y="155" width="14.98" height="1.02" fill="#100900"/>
<rect x="92.87" y="156" width="14.98" height="1.02" fill="#990000"/>
<rect x="92.87" y="157" width="14.98" height="1.02" fill="#ac0000"/>
<rect x="92.87" y="158" width="14.98" height="1.02" fill="#560000"/>
<rect x="92.87" y="159" width="14.98" height="1.02" fill="#8f0000"/>
<rect x="92.87" y="160" width="14.98" height="1.02" fill="#870000"/>
<rect x="92.87" y="161" width="14.98" height="1.02" fill="#003800"/>
<rect x="92.87" y="162" width="14.98" height="1.02" fill="#003c00"/>
<rect x="92.87" y="163" width="14.98" height="1.02" fill="#002f00"/>
<rect x="92.87" y="164" width="14.98" height="1.02" fill="#007200"/>
<rect x="92.87" y="165" width="14.98" height="1.02" fill="#007e00"/>
<rect x="92.87" y="166" width="14.98" height="1.02" fill="#00a700"/>
<rect x="92.87" y="167" width="14.98" height="1.02" fill="#009500"/>
<rect x="92.87" y="168" width="14.98" height="1.02" fill="#007000"/>
<rect x="92.87" y="169" width="14.98" height="1.02" fill="#0f0800"/>
<rect x="92.87" y="170" width="14.98" height="1.02" fill="#003500"/>
<rect x="92.87" y="171" width="14.98" height="1.02" fill="#003f00"/>
<rect x="92.87" y="172" width="14.98" height="1.02" fill="#400000"/>
<rect x="92.87" y="173" width="14.98" height="1.02" fill="#790000"/>
<rect x="92.87" y="174" width="14.98" height="1.02" fill="#f20000"/>
<rect x="92.87" y="175" width="14.98" height="1.02" fill="#430000"/>
<rect x="92.87" y="176" width="14.98" height="1.02" fill="#9b0000"/>
<rect x="92.87" y="177" width="14.98" height="1.02" fill="#3f0000"/>
<rect x="92.87" y="178" width="14.98" height="1.02" fill="#470000"/>
<rect x="92.87" y="179" width="14.98" height="1.02" fill="#150b00"/>
<rect x="92.87" y="180" width="14.98" height="1.02" fill="#3d0000"/>
<rect x="92.87" y="181" width="14.98" height="1.02" fill="#120a00"/>
<rect x="92.87" y="182" width="14.98" height="1.02" fill="#500000"/>
<rect x="92.87" y="183" width="14.98" height="1.02" fill="#100900"/>
<rect x="92.87" y="184" width="14.98" height="1.02" fill="#4c0000"/>
<rect x="92.87" y="185" width="14.98" height="1.02" fill="#100900"/>
<rect x="92.87" y="186" width="14.98" height="1.02" fill="#003500"/>
<rect x="92.87" y="187" width="14.98" height="1.02" fill="#003c00"/>
<rect x="92.87" y="188" width="14.98" height="1.02" fill="#003f00"/>
<rect x="92.87" y="189" width="14.98" height="1.02" fill="#970000"/>
<rect x="92.87" y="190" width="14.98" height="1.02" fill="#400000"/>
<rect x="92.87" y="191" width="14.98" height="1.02" fill="#a60000"/>
<rect x="92.87" y="192" width="14.98" height="1.02" fill="#003800"/>
<rect x="92.87" y="193" width="14.98" height="1.02" fill="#007700"/>
<rect x="92.87" y="194" width="14.98" height="1.02" fill="#009200"/>
<rect x="92.87" y="195" width="14.98" height="1.02" fill="#009300"/>
<rect x="92.87" y="196" width="14.98" height="1.02" fill="#007900"/>
<rect x="92.87" y="197" width="14.98" height="1.02" fill="#8a0000"/>
<rect x="92.87" y="198" width="14.98" height="1.02" fill="#ff0000"/>
<rect x="92.87" y="199" width="14.98" height="1.02" fill="#a20000"/>
<rect x="92.87" y="200" width="14.98" height="1.02" fill="#ff0000"/>
<rect x="92.87" y="201" width="14.98" height="1.02" fill="#930000"/>
<rect x="92.87" y="202" width="14.98" height="1.02" fill="#460000"/>
<rect x="92.87" y="203" width="14.98" height="1.02" fill="#3c0000"/>
<rect x="92.87" y="204" width="14.98" height="1.02" fill="#3a0000"/>
<rect x="92.87" y="205" width="14.98" height="1.02" fill="#009900"/>
<rect x="92.87" y="206" width="14.98" height="1.02" fill="#009f00"/>
<rect x="92.87" y="207" width="14.98" height="1.02" fill="#007e00"/>
<rect x="92.87" y="208" width="14.98" height="1.02" fill="#008800"/>
<rect x="92.87" y="209" width="14.98" height="1.02" fill="#480000"/>
<rect x="92.87" y="210" width="14.98" height="1.02" fill="#4c0000"/>
<rect x="92.87" y="211" width="14.98" height="1.02" fill="#3f0000"/>
<rect x="92.87" y="212" width="14.98" height="1.02" fill="#780000"/>
<rect x="92.87" y="213" width="14.98" height="1.02" fill="#860000"/>
<rect x="92.87" y="214" width="14.98" height="1.02" fill="#b00000"/>
<rect x="92.87" y="215" width="14.98" height="1.02" fill="#8b0000"/>
<rect x="92.87" y="216" width="14.98" height="1.02" fill="#430000"/>
<rect x="92.87" y="217" width="14.98" height="1.02" fill="#530000"/>
<rect x="92.87" y="218" width="14.98" height="1.02" fill="#4d0000"/>
<rect x="92.87" y="219" width="14.98" height="1.02" fill="#550000"/>
<rect x="92.87" y="220" width="14.98" height="1.02" fill="#510000"/>
<rect x="92.87" y="221" width="14.98" height="1.02" fill="#00ff00"/>
<rect x="92.87" y="222" width="14.98" height="1.02" fill="#00fa00"/>
<rect x="92.87" y="223" width="14.98" height="1.02" fill="#00ea00"/>
<rect x="92.87" y="224" width="14.98" height="1.02" fill="#00f600"/>
<rect x="92.87" y="225" width="14.98" height="1.02" fill="#00ff00"/>
<rect x="92.87" y="226" width="14.98" height="1.02" fill="#00df00"/>
<rect x="92.87" y="227" width="14.98" height="1.02" fill="#00ff00"/>
<rect x="92.87" y="228" width="14.98" height="1.02" fill="#00e400"/>
<rect x="92.87" y="229" width="14.98" height="1.02" fill="#007200"/>
<rect x="92.87" y="230" width="14.98" height="1.02" fill="#00f700"/>
<rect x="92.87" y="231" width="14.98" height="1.02" fill="#003c00"/>
<rect x="92.87" y="232" width="14.98" height="1.02" fill="#120a00"/>
<rect x="92.87" y="233" width="14.98" height="1.02" fill="#003d00"/>
<rect x="92.87" y="234" width="14.98" height="1.02" fill="#003f00"/>
<rect x="92.87" y="235" width="14.98" height="1.02" fill="#140b00"/>
<rect x="92.87" y="236" width="14.98" height="1.02" fill="#004000"/>
<rect x="92.87" y="237" width="14.98" height="1.02" fill="#007b00"/>
<rect x="92.87" y="238" width="14.98" height="1.02" fill="#00df00"/>
<rect x="92.87" y="239" width="14.98" height="1.02" fill="#009d00"/>
<rect x="92.87" y="240" width="14.98" height="1.02" fill="#009e00"/>
<rect x="92.87" y="241" width="14.98" height="1.02" fill="#008000"/>
<rect x="92.87" y="242" width="14.98" height="1.02" fill="#00e200"/>
<rect x="92.87" y="243" width="14.98" height="1.02" fill="#007b00"/>
<rect x="92.87" y="244" width="14.98" height="1.02" fill="#008700"/>
<rect x="92.87" y="245" width="14.98" height="1.02" fill="#003100"/>
<rect x="92.87" y="246" width="14.98" height="1.02" fill="#009800"/>
<rect x="92.87" y="247" width="14.98" height="1.02" fill="#008100"/>
<rect x="92.87" y="248" width="14.98" height="1.02" fill="#003700"/>
<rect x="92.87" y="249" width="14.98" height="1.02" fill="#003900"/>
<rect x="92.87" y="250" width="14.98" height="1.02" fill="#110900"/>
<rect x="92.87" y="251" width="14.98" height="1.02" fill="#00fc00"/>
<rect x="92.87" y="252" width="14.98" height="1.02" fill="#00f900"/>
<rect x="92.87" y="253" width="14.98" height="1.02" fill="#00e700"/>
<rect x="92.87" y="254" width="14.98" height="1.02" fill="#00e200"/>
<rect x="92.87" y="255" width="14.98" height="1.02" fill="#00e500"/>
<rect x="92.87" y="256" width="14.98" height="1.02" fill="#007b00"/>
<rect x="92.87" y="257" width="14.98" height="1.02" fill="#00a600"/>
<rect x="92.87" y="258" width="14.98" height="1.02" fill="#003600"/>
<rect x="92.87" y="259" width="14.98" height="1.02" fill="#009c00"/>
<rect x="92.87" y="260" width="14.98" height="1.02" fill="#008b00"/>
<rect x="92.87" y="261" width="14.98" height="1.02" fill="#009e00"/>
<rect x="92.87" y="262" width="14.98" height="1.02" fill="#004000"/>
<rect x="92.87" y="263" width="14.98" height="1.02" fill="#003000"/>
<rect x="92.87" y="264" width="14.98" height="1.02" fill="#003600"/>
<rect x="92.87" y="265" width="14.98" height="1.02" fill="#009300"/>
<rect x="92.87" y="266" width="14.98" height="1.02" fill="#009c00"/>
<rect x="92.87" y="267" width="14.98" height="1.02" fill="#003d00"/>
<rect x="92.87" y="268" width="14.98" height="1.02" fill="#00ec00"/>
<rect x="92.87" y="269" width="14.98" height="1.02" fill="#00ed00"/>
<rect x="92.87" y="270" width="14.98" height="1.02" fill="#00e100"/>
<rect x="92.87" y="271" width="14.98" height="1.02" fill="#00df00"/>
<rect x="92.87" y="272" width="14.98" height="1.02" fill="#00e800"/>
<rect x="92.87" y="273" width="14.98" height="1.02" fill="#00f200"/>
<rect x="92.87" y="274" width="14.98" height="1.02" fill="#00ff00"/>
<rect x="92.87" y="275" width="14.98" height="1.02" fill="#00f000"/>
<rect x="92.87" y="276" width="14.98" height="1.02" fill="#009a00"/>
<rect x="92.87" y="277" width="14.98" height="1.02" fill="#009400"/>
<rect x="92.87" y="278" width="14.98" height="1.02" fill="#008200"/>
<rect x="92.87" y="279" width="14.98" height="1.02" fill="#009f00"/>
<rect x="92.87" y="280" width="14.98" height="1.02" fill="#003c00"/>
<rect x="92.87" y="281" width="14.98" height="1.02" fill="#003500"/>
<rect x="92.87" y="282" width="14.98" height="1.02" fill="#003800"/>
<rect x="92.87" y="283" width="14.98" height="1.02" fill="#008900"/>
<rect x="92.87" y="284" width="14.98" height="1.02" fill="#003100"/>
<rect x="92.87" y="285" width="14.98" height="1.02" fill="#008000"/>
<rect x="92.87" y="286" width="14.98" height="1.02" fill="#009f00"/>
<rect x="92.87" y="287" width="14.98" height="1.02" fill="#002f00"/>
<rect x="92.87" y="288" width="14.98" height="1.02" fill="#003300"/>
<rect x="92.87" y="289" width="14.98" height="1.02" fill="#002f00"/>
<rect x="92.87" y="290" width="14.98" height="1.02" fill="#003000"/>
<rect x="92.87" y="291" width="14.98" height="1.02" fill="#009800"/>
<rect x="92.87" y="292" width="14.98" height="1.02" fill="#00ff00"/>
<rect x="92.87" y="293" width="14.98" height="1.02" fill="#00ed00"/>
<rect x="92.87" y="294" width="14.98" height="1.02" fill="#009c00"/>
<rect x="92.87" y="295" width="14.98" height="1.02" fill="#008800"/>
<rect x="92.87" y="296" width="14.98" height="1.02" fill="#003a00"/>
<rect x="92.87" y="297" width="14.98" height="1.02" fill="#007b00"/>
<rect x="92.87" y="298" width="14.98" height="1.02" fill="#007100"/>
<rect x="92.87" y="299" width="14.98" height="1.02" fill="#009c00"/>
<rect x="92.87" y="300" width="14.98" height="1.02" fill="#008c00"/>
<rect x="92.87" y="301" width="14.98" height="1.02" fill="#008900"/>
<rect x="92.87" y="302" width="14.98" height="1.02" fill="#009100"/>
<rect x="92.87" y="303" width="14.98" height="1.02" fill="#009900"/>
<rect x="92.87" y="304" width="14.98" height="1.02" fill="#008800"/>
<rect x="92.87" y="305" width="14.98" height="1.02" fill="#009900"/>
<rect x="92.87" y="306" width="14.98" height="1.02" fill="#003100"/>
<rect x="92.87" y="307" width="14.98" height="1.02" fill="#003f00"/>
<rect x="92.87" y="308" width="14.98" height="1.02" fill="#003b00"/>
<rect x="92.87" y="309" width="14.98" height="1.02" fill="#003a00"/>
<rect x="92.87" y="310" width="14.98" height="1.02" fill="#008900"/>
<rect x="92.87" y="311" width="14.98" height="1.02" fill="#009300"/>
<rect x="92.87" y="312" width="14.98" height="1.02" fill="#00ee00"/>
<rect x="92.87" y="313" width="14.98" height="1.02" fill="#009700"/>
<rect x="92.87" y="314" width="14.98" height="1.02" fill="#007e00"/>
<rect x="92.87" y="315" width="14.98" height="1.02" fill="#008900"/>
<rect x="92.87" y="316" width="14.98" height="1.02" fill="#008600"/>
<rect x="107.80" y="90" width="14.98" height="1.02" fill="#150b00"/>
<rect x="107.80" y="91" width="14.98" height="1.02" fill="#9f0000"/>
<rect x="107.80" y="92" width="14.98" height="1.02" fill="#8f0000"/>
<rect x="107.80" y="93" width="14.98" height="1.02" fill="#b20000"/>
<rect x="107.80" y="94" width="14.98" height="1.02" fill="#f90000"/>
<rect x="107.80" y="95" width="14.98" height="1.02" fill="#a60000"/>
<rect x="107.80" y="96" width="14.98" height="1.02" fill="#480000"/>
<rect x="107.80" y="97" width="14.98" height="1.02" fill="#120a00"/>
<rect x="107.80" y="98" width="14.98" height="1.02" fill="#4e0000"/>
<rect x="107.80" y="99" width="14.98" height="1.02" fill="#4c0000"/>
<rect x="107.80" y="100" width="14.98" height="1.02" fill="#480000"/>
<rect x="107.80" y="101" width="14.98" height="1.02" fill="#ff0000"/>
<rect x="107.80" y="102" width="14.98" height="1.02" fill="#ff0000"/>
<rect x="107.80" y="103" width="14.98" height="1.02" fill="#ff0000"/>
<rect x="107.80" y="104" width="14.98" height="1.02" fill="#ff0000"/>
<rect x="107.80" y="105" width="14.98" height="1.02" fill="#e60000"/>
<rect x="107.80" y="106" width="14.98" height="1.02" fill="#f40000"/>
<rect x="107.80" y="107" width="14.98" height="1.02" fill="#910000"/>
<rect x="107.80" y="108" width="14.98" height="1.02" fill="#ff0000"/>
<rect x="107.80" y="109" width="14.98" height="1.02" fill="#ee0000"/>
<rect x="107.80" y="110" width="14.98" height="1.02" fill="#ff0000"/>
<rect x="107.80" y="111" width="14.98" height="1.02" fill="#f90000"/>
<rect x="107.80" y="112" width="14.98" height="1.02" fill="#ff0000"/>
<rect x="107.80" y="113" width="14.98" height="1.02" fill="#ec0000"/>
<rect x="107.80" y="114" width="14.98" height="1.02" fill="#ff0000"/>
<rect x="107.80" y="115" width="14.98" height="1.02" fill="#fd0000"/>
<rect x="107.80" y="116" width="14.98" height="1.02" fill="#fa0000"/>
<rect x="107.80" y="117" width="14.98" height="1.02" fill="#ff0000"/>
<rect x="107.80" y="118" width="14.98" height="1.02" fill="#fd0000"/>
<rect x="107.80" y="119" width="14.98" height="1.02" fill="#ff0000"/>
<rect x="107.80" y="120" width="14.98" height="1.02" fill="#ef0000"/>
<rect x="107.80" y="121" width="14.98" height="1.02" fill="#e90000"/>
<rect x="107.80" y="122" width="14.98" height="1.02" fill="#8d0000"/>
<rect x="107.80" y="123" width="14.98" height="1.02" fill="#880000"/>
<rect x="107.80" y="124" width="14.98" height="1.02" fill="#870000"/>
<rect x="107.80" y="125" width="14.98" height="1.02" fill="#830000"/>
<rect x="107.80" y="126" width="14.98" height="1.02" fill="#ff0000"/>
<rect x="107.80" y="127" width="14.98" height="1.02" fill="#860000"/>
<rect x="107.80" y="128" width="14.98" height="1.02" fill="#940000"/>
<rect x="107.80" y="129" width="14.98" height="1.02" fill="#9e0000"/>
<rect x="107.80" y="130" width="14.98" height="1.02" fill="#8d0000"/>
<rect x="107.80" y="131" width="14.98" height="1.02" fill="#ab0000"/>
<rect x="107.80" y="132" width="14.98" height="1.02" fill="#ff0000"/>
<rect x="107.80" y="133" width="14.98" height="1.02" fill="#a70000"/>
<rect x="107.80" y="134" width="14.98" height="1.02" fill="#a90000"/>
<rect x="107.80" y="135" width="14.98" height="1.02" fill="#780000"/>
<rect x="107.80" y="136" width="14.98" height="1.02" fill="#ff0000"/>
<rect x="107.80" y="137" width="14.98" height="1.02" fill="#870000"/>
<rect x="107.80" y="138" width="14.98" height="1.02" fill="#3d0000"/>
<rect x="107.80" y="139" width="14.98" height="1.02" fill="#a60000"/>
<rect x="107.80" y="140" width="14.98" height="1.02" fill="#3d0000"/>
<rect x="107.80" y="141" width="14.98" height="1.02" fill="#500000"/>
<rect x="107.80" y="142" width="14.98" height="1.02" fill="#530000"/>
<rect x="107.80" y="143" width="14.98" height="1.02" fill="#500000"/>
<rect x="107.80" y="144" width="14.98" height="1.02" fill="#530000"/>
<rect x="107.80" y="145" width="14.98" height="1.02" fill="#aa0000"/>
<rect x="107.80" y="146" width="14.98" height="1.02" fill="#a10000"/>
<rect x="107.80" y="147" width="14.98" height="1.02" fill="#a40000"/>
<rect x="107.80" y="148" width="14.98" height="1.02" fill="#ac0000"/>
<rect x="107.80" y="149" width="14.98" height="1.02" fill="#870000"/>
<rect x="107.80" y="150" width="14.98" height="1.02" fill="#3d0000"/>
<rect x="107.80" y="151" width="14.98" height="1.02" fill="#3b0000"/>
<rect x="107.80" y="152" width="14.98" height="1.02" fill="#3d0000"/>
<rect x="107.80" y="153" width="14.98" height="1.02" fill="#003600"/>
<rect x="107.80" y="154" width="14.98" height="1.02" fill="#003e00"/>
<rect x="107.80" y="155" width="14.98" height="1.02" fill="#140b00"/>
<rect x="107.80" y="156" width="14.98" height="1.02" fill="#490000"/>
<rect x="107.80" y="157" width="14.98" height="1.02" fill="#510000"/>
<rect x="107.80" y="158" width="14.98" height="1.02" fill="#450000"/>
<rect x="107.80" y="159" width="14.98" height="1.02" fill="#3b0000"/>
<rect x="107.80" y="160" width="14.98" height="1.02" fill="#4b0000"/>
<rect x="107.80" y="161" width="14.98" height="1.02" fill="#120a00"/>
<rect x="107.80" y="162" width="14.98" height="1.02" fill="#004000"/>
<rect x="107.80" y="163" width="14.98" height="1.02" fill="#004100"/>
<rect x="107.80" y="164" width="14.98" height="1.02" fill="#110900"/>
<rect x="107.80" y="165" width="14.98" height="1.02" fill="#0e0800"/>
<rect x="107.80" y="166" width="14.98" height="1.02" fill="#120a00"/>
<rect x="107.80" y="167" width="14.98" height="1.02" fill="#140b00"/>
<rect x="107.80" y="168" width="14.98" height="1.02" fill="#110900"/>
<rect x="107.80" y="169" width="14.98" height="1.02" fill="#4f0000"/>
<rect x="107.80" y="170" width="14.98" height="1.02" fill="#460000"/>
<rect x="107.80" y="171" width="14.98" height="1.02" fill="#490000"/>
<rect x="107.80" y="172" width="14.98" height="1.02" fill="#ef0000"/>
<rect x="107.80" y="173" width="14.98" height="1.02" fill="#f40000"/>
<rect x="107.80" y="174" width="14.98" height="1.02" fill="#ee0000"/>
<rect x="107.80" y="175" width="14.98" height="1.02" fill="#ff0000"/>
<rect x="107.80" y="176" width="14.98" height="1.02" fill="#ff0000"/>
<rect x="107.80" y="177" width="14.98" height="1.02" fill="#420000"/>
<rect x="107.80" y="178" width="14.98" height="1.02" fill="#4a0000"/>
<rect x="107.80" y="179" width="14.98" height="1.02" fill="#500000"/>
<rect x="107.80" y="180" width="14.98" height="1.02" fill="#a30000"/>
<rect x="107.80" y="181" width="14.98" height="1.02" fill="#490000"/>
<rect x="107.80" y="182" width="14.98" height="1.02" fill="#8a0000"/>
<rect x="107.80" y="183" width="14.98" height="1.02" fill="#3f0000"/>
<rect x="107.80" y="184" width="14.98" height="1.02" fill="#120a00"/>
<rect x="107.80" y="185" width="14.98" height="1.02" fill="#140b00"/>
<rect x="107.80" y="186" width="14.98" height="1.02" fill="#003900"/>
<rect x="107.80" y="187" width="14.98" height="1.02" fill="#003900"/>
<rect x="107.80" y="188" width="14.98" height="1.02" fill="#003900"/>
<rect x="107.80" y="189" width="14.98" height="1.02" fill="#0f0800"/>
<rect x="107.80" y="190" width="14.98" height="1.02" fill="#110900"/>
<rect x="107.80" y="191" width="14.98" height="1.02" fill="#0f0800"/>
<rect x="107.80" y="192" width="14.98" height="1.02" fill="#002c00"/>
<rect x="107.80" y="193" width="14.98" height="1.02" fill="#004000"/>
<rect x="107.80" y="194" width="14.98" height="1.02" fill="#003400"/>
<rect x="107.80" y="195" width="14.98" height="1.02" fill="#003d00"/>
<rect x="107.80" y="196" width="14.98" height="1.02" fill="#003100"/>
<rect x="107.80" y="197" width="14.98" height="1.02" fill="#910000"/>
<rect x="107.80" y="198" width="14.98" height="1.02" fill="#910000"/>
<rect x="107.80" y="199" width="14.98" height="1.02" fill="#b00000"/>
<rect x="107.80" y="200" width="14.98" height="1.02" fill="#fa0000"/>
<rect x="107.80" y="201" width="14.98" height="1.02" fill="#e80000"/>
<rect x="107.80" y="202" width="14.98" height="1.02" fill="#120a00"/>
<rect x="107.80" y="203" width="14.98" height="1.02" fill="#110900"/>
<rect x="107.80" y="204" width="14.98" height="1.02" fill="#440000"/>
<rect x="107.80" y="205" width="14.98" height="1.02" fill="#004000"/>
<rect x="107.80" y="206" width="14.98" height="1.02" fill="#003600"/>
<rect x="107.80" y="207" width="14.98" height="1.02" fill="#002e00"/>
<rect x="107.80" y="208" width="14.98" height="1.02" fill="#003000"/>
<rect x="107.80" y="209" width="14.98" height="1.02" fill="#3a0000"/>
<rect x="107.80" y="210" width="14.98" height="1.02" fill="#a10000"/>
<rect x="107.80" y="211" width="14.98" height="1.02" fill="#150b00"/>
<rect x="107.80" y="212" width="14.98" height="1.02" fill="#520000"/>
<rect x="107.80" y="213" width="14.98" height="1.02" fill="#3a0000"/>
<rect x="107.80" y="214" width="14.98" height="1.02" fill="#860000"/>
<rect x="107.80" y="215" width="14.98" height="1.02" fill="#830000"/>
<rect x="107.80" y="216" width="14.98" height="1.02" fill="#4f0000"/>
<rect x="107.80" y="217" width="14.98" height="1.02" fill="#140b00"/>
<rect x="107.80" y="218" width="14.98" height="1.02" fill="#0f0800"/>
<rect x="107.80" y="219" width="14.98" height="1.02" fill="#130a00"/>
<rect x="107.80" y="220" width="14.98" height="1.02" fill="#150b00"/>
<rect x="107.80" y="221" width="14.98" height="1.02" fill="#00a600"/>
<rect x="107.80" y="222" width="14.98" height="1.02" fill="#007000"/>
<rect x="107.80" y="223" width="14.98" height="1.02" fill="#003a00"/>
<rect x="107.80" y="224" width="14.98" height="1.02" fill="#007400"/>
<rect x="107.80" y="225" width="14.98" height="1.02" fill="#009800"/>
<rect x="107.80" y="226" width="14.98" height="1.02" fill="#003e00"/>
<rect x="107.80" y="227" width="14.98" height="1.02" fill="#002d00"/>
<rect x="107.80" y="228" width="14.98" height="1.02" fill="#003800"/>
<rect x="107.80" y="229" width="14.98" height="1.02" fill="#003a00"/>
<rect x="107.80" y="230" width="14.98" height="1.02" fill="#003d00"/>
<rect x="107.80" y="231" width="14.98" height="1.02" fill="#003a00"/>
<rect x="107.80" y="232" width="14.98" height="1.02" fill="#003500"/>
<rect x="107.80" y="233" width="14.98" height="1.02" fill="#003d00"/>
<rect x="107.80" y="234" width="14.98" height="1.02" fill="#003d00"/>
<rect x="107.80" y="235" width="14.98" height="1.02" fill="#003200"/>
<rect x="107.80" y="236" width="14.98" height="1.02" fill="#150b00"/>
<rect x="107.80" y="237" width="14.98" height="1.02" fill="#003e00"/>
<rect x="107.80" y="238" width="14.98" height="1.02" fill="#00f600"/>
<rect x="107.80" y="239" width="14.98" height="1.02" fill="#00fe00"/>
<rect x="107.80" y="240" width="14.98" height="1.02" fill="#00ea00"/>
<rect x="107.80" y="241" width="14.98" height="1.02" fill="#00ff00"/>
<rect x="107.80" y="242" width="14.98" height="1.02" fill="#009600"/>
<rect x="107.80" y="243" width="14.98" height="1.02" fill="#00a200"/>
<rect x="107.80" y="244" width="14.98" height="1.02" fill="#007f00"/>
<rect x="107.80" y="245" width="14.98" height="1.02" fill="#003100"/>
<rect x="107.80" y="246" width="14.98" height="1.02" fill="#009000"/>
<rect x="107.80" y="247" width="14.98" height="1.02" fill="#00a100"/>
<rect x="107.80" y="248" width="14.98" height="1.02" fill="#510000"/>
<rect x="107.80" y="249" width="14.98" height="1.02" fill="#140b00"/>
<rect x="107.80" y="250" width="14.98" height="1.02" fill="#100900"/>
<rect x="107.80" y="251" width="14.98" height="1.02" fill="#00fd00"/>
<rect x="107.80" y="252" width="14.98" height="1.02" fill="#00ff00"/>
<rect x="107.80" y="253" width="14.98" height="1.02" fill="#00e100"/>
<rect x="107.80" y="254" width="14.98" height="1.02" fill="#00fd00"/>
<rect x="107.80" y="255" width="14.98" height="1.02" fill="#00fb00"/>
<rect x="107.80" y="256" width="14.98" height="1.02" fill="#00e700"/>
<rect x="107.80" y="257" width="14.98" height="1.02" fill="#00f800"/>
<rect x="107.80" y="258" width="14.98" height="1.02" fill="#00e600"/>
<rect x="107.80" y="259" width="14.98" height="1.02" fill="#00fb00"/>
<rect x="107.80" y="260" width="14.98" height="1.02" fill="#00f000"/>
<rect x="107.80" y="261" width="14.98" height="1.02" fill="#00fd00"/>
<rect x="107.80" y="262" width="14.98" height="1.02" fill="#00e700"/>
<rect x="107.80" y="263" width="14.98" height="1.02" fill="#00ff00"/>
<rect x="107.80" y="264" width="14.98" height="1.02" fill="#00f200"/>
<rect x="107.80" y="265" width="14.98" height="1.02" fill="#00f500"/>
<rect x="107.80" y="266" width="14.98" height="1.02" fill="#00e600"/>
<rect x="107.80" y="267" width="14.98" height="1.02" fill="#00f900"/>
<rect x="107.80" y="268" width="14.98" height="1.02" fill="#003800"/>
<rect x="107.80" y="269" width="14.98" height="1.02" fill="#003700"/>
<rect x="107.80" y="270" width="14.98" height="1.02" fill="#002c00"/>
<rect x="107.80" y="271" width="14.98" height="1.02" fill="#003400"/>
<rect x="107.80" y="272" width="14.98" height="1.02" fill="#00f700"/>
<rect x="107.80" y="273" width="14.98" height="1.02" fill="#007800"/>
<rect x="107.80" y="274" width="14.98" height="1.02" fill="#008300"/>
<rect x="107.80" y="275" width="14.98" height="1.02" fill="#007100"/>
<rect x="107.80" y="276" width="14.98" height="1.02" fill="#004100"/>
<rect x="107.80" y="277" width="14.98" height="1.02" fill="#008b00"/>
<rect x="107.80" y="278" width="14.98" height="1.02" fill="#007e00"/>
<rect x="107.80" y="279" width="14.98" height="1.02" fill="#008700"/>
<rect x="107.80" y="280" width="14.98" height="1.02" fill="#003c00"/>
<rect x="107.80" y="281" width="14.98" height="1.02" fill="#004100"/>
<rect x="107.80" y="282" width="14.98" height="1.02" fill="#002c00"/>
<rect x="107.80" y="283" width="14.98" height="1.02" fill="#002f00"/>
<rect x="107.80" y="284" width="14.98" height="1.02" fill="#007200"/>
<rect x="107.80" y="285" width="14.98" height="1.02" fill="#003f00"/>
<rect x="107.80" y="286" width="14.98" height="1.02" fill="#004000"/>
<rect x="107.80" y="287" width="14.98" height="1.02" fill="#00e100"/>
<rect x="107.80" y="288" width="14.98" height="1.02" fill="#00ee00"/>
<rect x="107.80" y="289" width="14.98" height="1.02" fill="#00ff00"/>
<rect x="107.80" y="290" width="14.98" height="1.02" fill="#00f400"/>
<rect x="107.80" y="291" width="14.98" height="1.02" fill="#004100"/>
<rect x="107.80" y="292" width="14.98" height="1.02" fill="#003400"/>
<rect x="107.80" y="293" width="14.98" height="1.02" fill="#002f00"/>
<rect x="107.80" y="294" width="14.98" height="1.02" fill="#004100"/>
<rect x="107.80" y="295" width="14.98" height="1.02" fill="#002c00"/>
<rect x="107.80" y="296" width="14.98" height="1.02" fill="#003300"/>
<rect x="107.80" y="297" width="14.98" height="1.02" fill="#003f00"/>
<rect x="107.80" y="298" width="14.98" height="1.02" fill="#007200"/>
<rect x="107.80" y="299" width="14.98" height="1.02" fill="#009700"/>
<rect x="107.80" y="300" width="14.98" height="1.02" fill="#00a700"/>
<rect x="107.80" y="301" width="14.98" height="1.02" fill="#002f00"/>
<rect x="107.80" y="302" width="14.98" height="1.02" fill="#00a400"/>
<rect x="107.80" y="303" width="14.98" height="1.02" fill="#003200"/>
<rect x="107.80" y="304" width="14.98" height="1.02" fill="#003c00"/>
<rect x="107.80" y="305" width="14.98" height="1.02" fill="#008200"/>
<rect x="107.80" y="306" width="14.98" height="1.02" fill="#007600"/>
<rect x="107.80" y="307" width="14.98" height="1.02" fill="#007900"/>
<rect x="107.80" y="308" width="14.98" height="1.02" fill="#007800"/>
<rect x="107.80" y="309" width="14.98" height="1.02" fill="#007000"/>
<rect x="107.80" y="310" width="14.98" height="1.02" fill="#007a00"/>
<rect x="107.80" y="311" width="14.98" height="1.02" fill="#004000"/>
<rect x="107.80" y="312" width="14.98" height="1.02" fill="#00a400"/>
<rect x="107.80" y="313" width="14.98" height="1.02" fill="#00a100"/>
<rect x="107.80" y="314" width="14.98" height="1.02" fill="#00ef00"/>
<rect x="107.80" y="315" width="14.98" height="1.02" fill="#00ff00"/>
<rect x="107.80" y="316" width="14.98" height="1.02" fill="#009300"/>
<rect x="122.73" y="90" width="14.98" height="1.02" fill="#100900"/>
<rect x="122.73" y="91" width="14.98" height="1.02" fill="#940000"/>
<rect x="122.73" y="92" width="14.98" height="1.02" fill="#800000"/>
<rect x="122.73" y="93" width="14.98" height="1.02" fill="#7b0000"/>
<rect x="122.73" y="94" width="14.98" height="1.02" fill="#990000"/>
<rect x="122.73" y="95" width="14.98" height="1.02" fill="#ac0000"/>
<rect x="122.73" y="96" width="14.98" height="1.02" fill="#900000"/>
<rect x="122.73" y="97" width="14.98" height="1.02" fill="#880000"/>
<rect x="122.73" y="98" width="14.98" height="1.02" fill="#8c0000"/>
<rect x="122.73" y="99" width="14.98" height="1.02" fill="#950000"/>
<rect x="122.73" y="100" width="14.98" height="1.02" fill="#ae0000"/>
<rect x="122.73" y="101" width="14.98" height="1.02" fill="#ff0000"/>
<rect x="122.73" y="102" width="14.98" height="1.02" fill="#ad0000"/>
<rect x="122.73" y="103" width="14.98" height="1.02" fill="#ec0000"/>
<rect x="122.73" y="104" width="14.98" height="1.02" fill="#ef0000"/>
<rect x="122.73" y="105" width="14.98" height="1.02" fill="#ec0000"/>
<rect x="122.73" y="106" width="14.98" height="1.02" fill="#ff0000"/>
<rect x="122.73" y="107" width="14.98" height="1.02" fill="#ff0000"/>
<rect x="122.73" y="108" width="14.98" height="1.02" fill="#ef0000"/>
<rect x="122.73" y="109" width="14.98" height="1.02" fill="#e60000"/>
<rect x="122.73" y="110" width="14.98" height="1.02" fill="#ef0000"/>
<rect x="122.73" y="111" width="14.98" height="1.02" fill="#e40000"/>
<rect x="122.73" y="112" width="14.98" height="1.02" fill="#f10000"/>
<rect x="122.73" y="113" width="14.98" height="1.02" fill="#e40000"/>
<rect x="122.73" y="114" width="14.98" height="1.02" fill="#f90000"/>
<rect x="122.73" y="115" width="14.98" height="1.02" fill="#f50000"/>
<rect x="122.73" y="116" width="14.98" height="1.02" fill="#ec0000"/>
<rect x="122.73" y="117" width="14.98" height="1.02" fill="#e90000"/>
<rect x="122.73" y="118" width="14.98" height="1.02" fill="#ff0000"/>
<rect x="122.73" y="119" width="14.98" height="1.02" fill="#eb0000"/>
<rect x="122.73" y="120" width="14.98" height="1.02" fill="#e70000"/>
<rect x="122.73" y="121" width="14.98" height="1.02" fill="#f70000"/>
<rect x="122.73" y="122" width="14.98" height="1.02" fill="#0f0800"/>
<rect x="122.73" y="123" width="14.98" height="1.02" fill="#130a00"/>
<rect x="122.73" y="124" width="14.98" height="1.02" fill="#120a00"/>
<rect x="122.73" y="125" width="14.98" height="1.02" fill="#0e0800"/>
<rect x="122.73" y="126" width="14.98" height="1.02" fill="#110900"/>
<rect x="122.73" y="127" width="14.98" height="1.02" fill="#3b0000"/>
<rect x="122.73" y="128" width="14.98" height="1.02" fill="#430000"/>
<rect x="122.73" y="129" width="14.98" height="1.02" fill="#520000"/>
<rect x="122.73" y="130" width="14.98" height="1.02" fill="#3a0000"/>
<rect x="122.73" y="131" width="14.98" height="1.02" fill="#470000"/>
<rect x="122.73" y="132" width="14.98" height="1.02" fill="#410000"/>
<rect x="122.73" y="133" width="14.98" height="1.02" fill="#510000"/>
<rect x="122.73" y="134" width="14.98" height="1.02" fill="#3e0000"/>
<rect x="122.73" y="135" width="14.98" height="1.02" fill="#4a0000"/>
<rect x="122.73" y="136" width="14.98" height="1.02" fill="#970000"/>
<rect x="122.73" y="137" width="14.98" height="1.02" fill="#480000"/>
<rect x="122.73" y="138" width="14.98" height="1.02" fill="#130a00"/>
<rect x="122.73" y="139" width="14.98" height="1.02" fill="#520000"/>
<rect x="122.73" y="140" width="14.98" height="1.02" fill="#ff0000"/>
<rect x="122.73" y="141" width="14.98" height="1.02" fill="#ff0000"/>
<rect x="122.73" y="142" width="14.98" height="1.02" fill="#ac0000"/>
<rect x="122.73" y="143" width="14.98" height="1.02" fill="#f70000"/>
<rect x="122.73" y="144" width="14.98" height="1.02" fill="#f90000"/>
<rect x="122.73" y="145" width="14.98" height="1.02" fill="#3a0000"/>
<rect x="122.73" y="146" width="14.98" height="1.02" fill="#400000"/>
<rect x="122.73" y="147" width="14.98" height="1.02" fill="#3c0000"/>
<rect x="122.73" y="148" width="14.98" height="1.02" fill="#510000"/>
<rect x="122.73" y="149" width="14.98" height="1.02" fill="#7d0000"/>
<rect x="122.73" y="150" width="14.98" height="1.02" fill="#830000"/>
<rect x="122.73" y="151" width="14.98" height="1.02" fill="#fb0000"/>
<rect x="122.73" y="152" width="14.98" height="1.02" fill="#970000"/>
<rect x="122.73" y="153" width="14.98" height="1.02" fill="#002e00"/>
<rect x="122.73" y="154" width="14.98" height="1.02" fill="#003b00"/>
<rect x="122.73" y="155" width="14.98" height="1.02" fill="#0f0800"/>
<rect x="122.73" y="156" width="14.98" height="1.02" fill="#480000"/>
<rect x="122.73" y="157" width="14.98" height="1.02" fill="#3d0000"/>
<rect x="122.73" y="158" width="14.98" height="1.02" fill="#3d0000"/>
<rect x="122.73" y="159" width="14.98" height="1.02" fill="#520000"/>
<rect x="122.73" y="160" width="14.98" height="1.02" fill="#4a0000"/>
<rect x="122.73" y="161" width="14.98" height="1.02" fill="#3e0000"/>
<rect x="122.73" y="162" width="14.98" height="1.02" fill="#540000"/>
<rect x="122.73" y="163" width="14.98" height="1.02" fill="#450000"/>
<rect x="122.73" y="164" width="14.98" height="1.02" fill="#00f200"/>
<rect x="122.73" y="165" width="14.98" height="1.02" fill="#00ff00"/>
<rect x="122.73" y="166" width="14.98" height="1.02" fill="#00eb00"/>
<rect x="122.73" y="167" width="14.98" height="1.02" fill="#00eb00"/>
<rect x="122.73" y="168" width="14.98" height="1.02" fill="#00ff00"/>
<rect x="122.73" y="169" width="14.98" height="1.02" fill="#00a300"/>
<rect x="122.73" y="170" width="14.98" height="1.02" fill="#009f00"/>
<rect x="122.73" y="171" width="14.98" height="1.02" fill="#003700"/>
<rect x="122.73" y="172" width="14.98" height="1.02" fill="#540000"/>
<rect x="122.73" y="173" width="14.98" height="1.02" fill="#450000"/>
<rect x="122.73" y="174" width="14.98" height="1.02" fill="#440000"/>
<rect x="122.73" y="175" width="14.98" height="1.02" fill="#3b0000"/>
<rect x="122.73" y="176" width="14.98" height="1.02" fill="#480000"/>
<rect x="122.73" y="177" width="14.98" height="1.02" fill="#0f0800"/>
<rect x="122.73" y="178" width="14.98" height="1.02" fill="#003d00"/>
<rect x="122.73" y="179" width="14.98" height="1.02" fill="#003900"/>
<rect x="122.73" y="180" width="14.98" height="1.02" fill="#530000"/>
<rect x="122.73" y="181" width="14.98" height="1.02" fill="#3a0000"/>
<rect x="122.73" y="182" width="14.98" height="1.02" fill="#410000"/>
<rect x="122.73" y="183" width="14.98" height="1.02" fill="#410000"/>
<rect x="122.73" y="184" width="14.98" height="1.02" fill="#540000"/>
<rect x="122.73" y="185" width="14.98" height="1.02" fill="#400000"/>
<rect x="122.73" y="186" width="14.98" height="1.02" fill="#003500"/>
<rect x="122.73" y="187" width="14.98" height="1.02" fill="#003200"/>
<rect x="122.73" y="188" width="14.98" height="1.02" fill="#003a00"/>
<rect x="122.73" y="189" width="14.98" height="1.02" fill="#009100"/>
<rect x="122.73" y="190" width="14.98" height="1.02" fill="#003700"/>
<rect x="122.73" y="191" width="14.98" height="1.02" fill="#003600"/>
<rect x="122.73" y="192" width="14.98" height="1.02" fill="#3d0000"/>
<rect x="122.73" y="193" width="14.98" height="1.02" fill="#0f0800"/>
<rect x="122.73" y="194" width="14.98" height="1.02" fill="#450000"/>
<rect x="122.73" y="195" width="14.98" height="1.02" fill="#400000"/>
<rect x="122.73" y="196" width="14.98" height="1.02" fill="#120a00"/>
<rect x="122.73" y="197" width="14.98" height="1.02" fill="#9c0000"/>
<rect x="122.73" y="198" width="14.98" height="1.02" fill="#9f0000"/>
<rect x="122.73" y="199" width="14.98" height="1.02" fill="#a20000"/>
<rect x="122.73" y="200" width="14.98" height="1.02" fill="#980000"/>
<rect x="122.73" y="201" width="14.98" height="1.02" fill="#940000"/>
<rect x="122.73" y="202" width="14.98" height="1.02" fill="#400000"/>
<rect x="122.73" y="203" width="14.98" height="1.02" fill="#480000"/>
<rect x="122.73" y="204" width="14.98" height="1.02" fill="#4a0000"/>
<rect x="122.73" y="205" width="14.98" height="1.02" fill="#100900"/>
<rect x="122.73" y="206" width="14.98" height="1.02" fill="#003100"/>
<rect x="122.73" y="207" width="14.98" height="1.02" fill="#003600"/>
<rect x="122.73" y="208" width="14.98" height="1.02" fill="#004100"/>
<rect x="122.73" y="209" width="14.98" height="1.02" fill="#003c00"/>
<rect x="122.73" y="210" width="14.98" height="1.02" fill="#002d00"/>
<rect x="122.73" y="211" width="14.98" height="1.02" fill="#003500"/>
<rect x="122.73" y="212" width="14.98" height="1.02" fill="#f30000"/>
<rect x="122.73" y="213" width="14.98" height="1.02" fill="#a40000"/>
<rect x="122.73" y="214" width="14.98" height="1.02" fill="#400000"/>
<rect x="122.73" y="215" width="14.98" height="1.02" fill="#a40000"/>
<rect x="122.73" y="216" width="14.98" height="1.02" fill="#f10000"/>
<rect x="122.73" y="217" width="14.98" height="1.02" fill="#fe0000"/>
<rect x="122.73" y="218" width="14.98" height="1.02" fill="#ff0000"/>
<rect x="122.73" y="219" width="14.98" height="1.02" fill="#f80000"/>
<rect x="122.73" y="220" width="14.98" height="1.02" fill="#ff0000"/>
<rect x="122.73" y="221" width="14.98" height="1.02" fill="#00f100"/>
<rect x="122.73" y="222" width="14.98" height="1.02" fill="#00fa00"/>
<rect x="122.73" y="223" width="14.98" height="1.02" fill="#00e300"/>
<rect x="122.73" y="224" width="14.98" height="1.02" fill="#00de00"/>
<rect x="122.73" y="225" width="14.98" height="1.02" fill="#00f500"/>
<rect x="122.73" y="226" width="14.98" height="1.02" fill="#00ff00"/>
<rect x="122.73" y="227" width="14.98" height="1.02" fill="#00ee00"/>
<rect x="122.73" y="228" width="14.98" height="1.02" fill="#00ff00"/>
<rect x="122.73" y="229" width="14.98" height="1.02" fill="#00ed00"/>
<rect x="122.73" y="230" width="14.98" height="1.02" fill="#00f000"/>
<rect x="122.73" y="231" width="14.98" height="1.02" fill="#00e900"/>
<rect x="122.73" y="232" width="14.98" height="1.02" fill="#00f400"/>
<rect x="122.73" y="233" width="14.98" height="1.02" fill="#00eb00"/>
<rect x="122.73" y="234" width="14.98" height="1.02" fill="#00ff00"/>
<rect x="122.73" y="235" width="14.98" height="1.02" fill="#003500"/>
<rect x="122.73" y="236" width="14.98" height="1.02" fill="#003200"/>
<rect x="122.73" y="237" width="14.98" height="1.02" fill="#003800"/>
<rect x="122.73" y="238" width="14.98" height="1.02" fill="#007400"/>
<rect x="122.73" y="239" width="14.98" height="1.02" fill="#008200"/>
<rect x="122.73" y="240" width="14.98" height="1.02" fill="#009e00"/>
<rect x="122.73" y="241" width="14.98" height="1.02" fill="#007b00"/>
<rect x="122.73" y="242" width="14.98" height="1.02" fill="#00ff00"/>
<rect x="122.73" y="243" width="14.98" height="1.02" fill="#007200"/>
<rect x="122.73" y="244" width="14.98" height="1.02" fill="#00f100"/>
<rect x="122.73" y="245" width="14.98" height="1.02" fill="#00fc00"/>
<rect x="122.73" y="246" width="14.98" height="1.02" fill="#00ff00"/>
<rect x="122.73" y="247" width="14.98" height="1.02" fill="#00f200"/>
<rect x="122.73" y="248" width="14.98" height="1.02" fill="#003400"/>
<rect x="122.73" y="249" width="14.98" height="1.02" fill="#003900"/>
<rect x="122.73" y="250" width="14.98" height="1.02" fill="#004000"/>
<rect x="122.73" y="251" width="14.98" height="1.02" fill="#00f200"/>
<rect x="122.73" y="252" width="14.98" height="1.02" fill="#00ed00"/>
<rect x="122.73" y="253" width="14.98" height="1.02" fill="#00f400"/>
<rect x="122.73" y="254" width="14.98" height="1.02" fill="#00ff00"/>
<rect x="122.73" y="255" width="14.98" height="1.02" fill="#00f100"/>
<rect x="122.73" y="256" width="14.98" height="1.02" fill="#00f600"/>
<rect x="122.73" y="257" width="14.98" height="1.02" fill="#00eb00"/>
<rect x="122.73" y="258" width="14.98" height="1.02" fill="#00fe00"/>
<rect x="122.73" y="259" width="14.98" height="1.02" fill="#00ea00"/>
<rect x="122.73" y="260" width="14.98" height="1.02" fill="#00fe00"/>
<rect x="122.73" y="261" width="14.98" height="1.02" fill="#00e200"/>
<rect x="122.73" y="262" width="14.98" height="1.02" fill="#003b00"/>
<rect x="122.73" y="263" width="14.98" height="1.02" fill="#004100"/>
<rect x="122.73" y="264" width="14.98" height="1.02" fill="#003500"/>
<rect x="122.73" y="265" width="14.98" height="1.02" fill="#003200"/>
<rect x="122.73" y="266" width="14.98" height="1.02" fill="#003700"/>
<rect x="122.73" y="267" width="14.98" height="1.02" fill="#003000"/>
<rect x="122.73" y="268" width="14.98" height="1.02" fill="#003900"/>
<rect x="122.73" y="269" width="14.98" height="1.02" fill="#004100"/>
<rect x="122.73" y="270" width="14.98" height="1.02" fill="#002c00"/>
<rect x="122.73" y="271" width="14.98" height="1.02" fill="#003d00"/>
<rect x="122.73" y="272" width="14.98" height="1.02" fill="#003b00"/>
<rect x="122.73" y="273" width="14.98" height="1.02" fill="#100900"/>
<rect x="122.73" y="274" width="14.98" height="1.02" fill="#003800"/>
<rect x="122.73" y="275" width="14.98" height="1.02" fill="#003000"/>
<rect x="122.73" y="276" width="14.98" height="1.02" fill="#008e00"/>
<rect x="122.73" y="277" width="14.98" height="1.02" fill="#009400"/>
<rect x="122.73" y="278" width="14.98" height="1.02" fill="#00a700"/>
<rect x="122.73" y="279" width="14.98" height="1.02" fill="#008700"/>
<rect x="122.73" y="280" width="14.98" height="1.02" fill="#002f00"/>
<rect x="122.73" y="281" width="14.98" height="1.02" fill="#0f0800"/>
<rect x="122.73" y="282" width="14.98" height="1.02" fill="#002f00"/>
<rect x="122.73" y="283" width="14.98" height="1.02" fill="#140b00"/>
<rect x="122.73" y="284" width="14.98" height="1.02" fill="#140b00"/>
<rect x="122.73" y="285" width="14.98" height="1.02" fill="#0e0800"/>
<rect x="122.73" y="286" width="14.98" height="1.02" fill="#003300"/>
<rect x="122.73" y="287" width="14.98" height="1.02" fill="#100900"/>
<rect x="122.73" y="288" width="14.98" height="1.02" fill="#100900"/>
<rect x="122.73" y="289" width="14.98" height="1.02" fill="#003f00"/>
<rect x="122.73" y="290" width="14.98" height="1.02" fill="#100900"/>
<rect x="122.73" y="291" width="14.98" height="1.02" fill="#110900"/>
<rect x="122.73" y="292" width="14.98" height="1.02" fill="#530000"/>
<rect x="122.73" y="293" width="14.98" height="1.02" fill="#150b00"/>
<rect x="122.73" y="294" width="14.98" height="1.02" fill="#120a00"/>
<rect x="122.73" y="295" width="14.98" height="1.02" fill="#0e0800"/>
<rect x="122.73" y="296" width="14.98" height="1.02" fill="#003e00"/>
<rect x="122.73" y="297" width="14.98" height="1.02" fill="#003f00"/>
<rect x="122.73" y="298" width="14.98" height="1.02" fill="#008100"/>
<rect x="122.73" y="299" width="14.98" height="1.02" fill="#00a500"/>
<rect x="122.73" y="300" width="14.98" height="1.02" fill="#00a500"/>
<rect x="122.73" y="301" width="14.98" height="1.02" fill="#008500"/>
<rect x="122.73" y="302" width="14.98" height="1.02" fill="#007c00"/>
<rect x="122.73" y="303" width="14.98" height="1.02" fill="#00a100"/>
<rect x="122.73" y="304" width="14.98" height="1.02" fill="#009c00"/>
<rect x="122.73" y="305" width="14.98" height="1.02" fill="#007900"/>
<rect x="122.73" y="306" width="14.98" height="1.02" fill="#0f0800"/>
<rect x="122.73" y="307" width="14.98" height="1.02" fill="#100900"/>
<rect x="122.73" y="308" width="14.98" height="1.02" fill="#0f0800"/>
<rect x="122.73" y="309" width="14.98" height="1.02" fill="#110900"/>
<rect x="122.73" y="310" width="14.98" height="1.02" fill="#0e0800"/>
<rect x="122.73" y="311" width="14.98" height="1.02" fill="#003e00"/>
<rect x="122.73" y="312" width="14.98" height="1.02" fill="#100800"/>
<rect x="122.73" y="313" width="14.98" height="1.02" fill="#100900"/>
<rect x="122.73" y="314" width="14.98" height="1.02" fill="#0e0800"/>
<rect x="122.73" y="315" width="14.98" height="1.02" fill="#100900"/>
<rect x="122.73" y="316" width="14.98" height="1.02" fill="#130a00"/>
<rect x="137.67" y="90" width="14.98" height="1.02" fill="#003100"/>
<rect x="137.67" y="91" width="14.98" height="1.02" fill="#007700"/>
<rect x="137.67" y="92" width="14.98" height="1.02" fill="#009e00"/>
<rect x="137.67" y="93" width="14.98" height="1.02" fill="#007800"/>
<rect x="137.67" y="94" width="14.98" height="1.02" fill="#009800"/>
<rect x="137.67" y="95" width="14.98" height="1.02" fill="#00a500"/>
<rect x="137.67" y="96" width="14.98" height="1.02" fill="#00a500"/>
<rect x="137.67" y="97" width="14.98" height="1.02" fill="#007c00"/>
<rect x="137.67" y="98" width="14.98" height="1.02" fill="#007700"/>
<rect x="137.67" y="99" width="14.98" height="1.02" fill="#007e00"/>
<rect x="137.67" y="100" width="14.98" height="1.02" fill="#009000"/>
<rect x="137.67" y="101" width="14.98" height="1.02" fill="#003100"/>
<rect x="137.67" y="102" width="14.98" height="1.02" fill="#003000"/>
<rect x="137.67" y="103" width="14.98" height="1.02" fill="#002e00"/>
<rect x="137.67" y="104" width="14.98" height="1.02" fill="#003700"/>
<rect x="137.67" y="105" width="14.98" height="1.02" fill="#003c00"/>
<rect x="137.67" y="106" width="14.98" height="1.02" fill="#003a00"/>
<rect x="137.67" y="107" width="14.98" height="1.02" fill="#003200"/>
<rect x="137.67" y="108" width="14.98" height="1.02" fill="#002d00"/>
<rect x="137.67" y="109" width="14.98" height="1.02" fill="#00ff00"/>
<rect x="137.67" y="110" width="14.98" height="1.02" fill="#00f800"/>
<rect x="137.67" y="111" width="14.98" height="1.02" fill="#00f400"/>
<rect x="137.67" y="112" width="14.98" height="1.02" fill="#00f200"/>
<rect x="137.67" y="113" width="14.98" height="1.02" fill="#00e100"/>
<rect x="137.67" y="114" width="14.98" height="1.02" fill="#00e700"/>
<rect x="137.67" y="115" width="14.98" height="1.02" fill="#00fa00"/>
<rect x="137.67" y="116" width="14.98" height="1.02" fill="#003400"/>
<rect x="137.67" y="117" width="14.98" height="1.02" fill="#003d00"/>
<rect x="137.67" y="118" width="14.98" height="1.02" fill="#003e00"/>
<rect x="137.67" y="119" width="14.98" height="1.02" fill="#007f00"/>
<rect x="137.67" y="120" width="14.98" height="1.02" fill="#130a00"/>
<rect x="137.67" y="121" width="14.98" height="1.02" fill="#003300"/>
<rect x="137.67" y="122" width="14.98" height="1.02" fill="#003a00"/>
<rect x="137.67" y="123" width="14.98" height="1.02" fill="#003100"/>
<rect x="137.67" y="124" width="14.98" height="1.02" fill="#003300"/>
<rect x="137.67" y="125" width="14.98" height="1.02" fill="#002f00"/>
<rect x="137.67" y="126" width="14.98" height="1.02" fill="#00a300"/>
<rect x="137.67" y="127" width="14.98" height="1.02" fill="#009700"/>
<rect x="137.67" y="128" width="14.98" height="1.02" fill="#002c00"/>
<rect x="137.67" y="129" width="14.98" height="1.02" fill="#007b00"/>
<rect x="137.67" y="130" width="14.98" height="1.02" fill="#008500"/>
<rect x="137.67" y="131" width="14.98" height="1.02" fill="#003200"/>
<rect x="137.67" y="132" width="14.98" height="1.02" fill="#007a00"/>
<rect x="137.67" y="133" width="14.98" height="1.02" fill="#008f00"/>
<rect x="137.67" y="134" width="14.98" height="1.02" fill="#007e00"/>
<rect x="137.67" y="135" width="14.98" height="1.02" fill="#00f900"/>
<rect x="137.67" y="136" width="14.98" height="1.02" fill="#00de00"/>
<rect x="137.67" y="137" width="14.98" height="1.02" fill="#00fc00"/>
<rect x="137.67" y="138" width="14.98" height="1.02" fill="#00e000"/>
<rect x="137.67" y="139" width="14.98" height="1.02" fill="#00f600"/>
<rect x="137.67" y="140" width="14.98" height="1.02" fill="#100800"/>
<rect x="137.67" y="141" width="14.98" height="1.02" fill="#009c00"/>
<rect x="137.67" y="142" width="14.98" height="1.02" fill="#004000"/>
<rect x="137.67" y="143" width="14.98" height="1.02" fill="#002d00"/>
<rect x="137.67" y="144" width="14.98" height="1.02" fill="#003400"/>
<rect x="137.67" y="145" width="14.98" height="1.02" fill="#003e00"/>
<rect x="137.67" y="146" width="14.98" height="1.02" fill="#002d00"/>
<rect x="137.67" y="147" width="14.98" height="1.02" fill="#003500"/>
<rect x="137.67" y="148" width="14.98" height="1.02" fill="#003b00"/>
<rect x="137.67" y="149" width="14.98" height="1.02" fill="#003e00"/>
<rect x="137.67" y="150" width="14.98" height="1.02" fill="#003500"/>
<rect x="137.67" y="151" width="14.98" height="1.02" fill="#130a00"/>
<rect x="137.67" y="152" width="14.98" height="1.02" fill="#003700"/>
<rect x="137.67" y="153" width="14.98" height="1.02" fill="#002e00"/>
<rect x="137.67" y="154" width="14.98" height="1.02" fill="#002c00"/>
<rect x="137.67" y="155" width="14.98" height="1.02" fill="#003d00"/>
<rect x="137.67" y="156" width="14.98" height="1.02" fill="#003800"/>
<rect x="137.67" y="157" width="14.98" height="1.02" fill="#003a00"/>
<rect x="137.67" y="158" width="14.98" height="1.02" fill="#003100"/>
<rect x="137.67" y="159" width="14.98" height="1.02" fill="#100900"/>
<rect x="137.67" y="160" width="14.98" height="1.02" fill="#003000"/>
<rect x="137.67" y="161" width="14.98" height="1.02" fill="#002f00"/>
<rect x="137.67" y="162" width="14.98" height="1.02" fill="#009500"/>
<rect x="137.67" y="163" width="14.98" height="1.02" fill="#007d00"/>
<rect x="137.67" y="164" width="14.98" height="1.02" fill="#008800"/>
<rect x="137.67" y="165" width="14.98" height="1.02" fill="#008300"/>
<rect x="137.67" y="166" width="14.98" height="1.02" fill="#00a100"/>
<rect x="137.67" y="167" width="14.98" height="1.02" fill="#008f00"/>
<rect x="137.67" y="168" width="14.98" height="1.02" fill="#003d00"/>
<rect x="137.67" y="169" width="14.98" height="1.02" fill="#003c00"/>
<rect x="137.67" y="170" width="14.98" height="1.02" fill="#003a00"/>
<rect x="137.67" y="171" width="14.98" height="1.02" fill="#003600"/>
<rect x="137.67" y="172" width="14.98" height="1.02" fill="#00fe00"/>
<rect x="137.67" y="173" width="14.98" height="1.02" fill="#00e900"/>
<rect x="137.67" y="174" width="14.98" height="1.02" fill="#00e600"/>
<rect x="137.67" y="175" width="14.98" height="1.02" fill="#00e900"/>
<rect x="137.67" y="176" width="14.98" height="1.02" fill="#00f900"/>
<rect x="137.67" y="177" width="14.98" height="1.02" fill="#007600"/>
<rect x="137.67" y="178" width="14.98" height="1.02" fill="#008a00"/>
<rect x="137.67" y="179" width="14.98" height="1.02" fill="#007900"/>
<rect x="137.67" y="180" width="14.98" height="1.02" fill="#00df00"/>
<rect x="137.67" y="181" width="14.98" height="1.02" fill="#00fb00"/>
<rect x="137.67" y="182" width="14.98" height="1.02" fill="#00fa00"/>
<rect x="137.67" y="183" width="14.98" height="1.02" fill="#008f00"/>
<rect x="137.67" y="184" width="14.98" height="1.02" fill="#00f100"/>
<rect x="137.67" y="185" width="14.98" height="1.02" fill="#007a00"/>
<rect x="137.67" y="186" width="14.98" height="1.02" fill="#007000"/>
<rect x="137.67" y="187" width="14.98" height="1.02" fill="#003a00"/>
<rect x="137.67" y="188" width="14.98" height="1.02" fill="#004000"/>
<rect x="137.67" y="189" width="14.98" height="1.02" fill="#003100"/>
<rect x="137.67" y="190" width="14.98" height="1.02" fill="#3d0000"/>
<rect x="137.67" y="191" width="14.98" height="1.02" fill="#a60000"/>
<rect x="137.67" y="192" width="14.98" height="1.02" fill="#420000"/>
<rect x="137.67" y="193" width="14.98" height="1.02" fill="#4b0000"/>
<rect x="137.67" y="194" width="14.98" height="1.02" fill="#540000"/>
<rect x="137.67" y="195" width="14.98" height="1.02" fill="#500000"/>
<rect x="137.67" y="196" width="14.98" height="1.02" fill="#4e0000"/>
<rect x="137.67" y="197" width="14.98" height="1.02" fill="#3e0000"/>
<rect x="137.67" y="198" width="14.98" height="1.02" fill="#420000"/>
<rect x="137.67" y="199" width="14.98" height="1.02" fill="#008e00"/>
<rect x="137.67" y="200" width="14.98" height="1.02" fill="#009e00"/>
<rect x="137.67" y="201" width="14.98" height="1.02" fill="#007200"/>
<rect x="137.67" y="202" width="14.98" height="1.02" fill="#009300"/>
<rect x="137.67" y="203" width="14.98" height="1.02" fill="#a20000"/>
<rect x="137.67" y="204" width="14.98" height="1.02" fill="#b00000"/>
<rect x="137.67" y="205" width="14.98" height="1.02" fill="#950000"/>
<rect x="137.67" y="206" width="14.98" height="1.02" fill="#890000"/>
<rect x="137.67" y="207" width="14.98" height="1.02" fill="#3b0000"/>
<rect x="137.67" y="208" width="14.98" height="1.02" fill="#3e0000"/>
<rect x="137.67" y="209" width="14.98" height="1.02" fill="#550000"/>
<rect x="137.67" y="210" width="14.98" height="1.02" fill="#0e0800"/>
<rect x="137.67" y="211" width="14.98" height="1.02" fill="#3f0000"/>
<rect x="137.67" y="212" width="14.98" height="1.02" fill="#002c00"/>
<rect x="137.67" y="213" width="14.98" height="1.02" fill="#003e00"/>
<rect x="137.67" y="214" width="14.98" height="1.02" fill="#003500"/>
<rect x="137.67" y="215" width="14.98" height="1.02" fill="#003a00"/>
<rect x="137.67" y="216" width="14.98" height="1.02" fill="#450000"/>
<rect x="137.67" y="217" width="14.98" height="1.02" fill="#460000"/>
<rect x="137.67" y="218" width="14.98" height="1.02" fill="#510000"/>
<rect x="137.67" y="219" width="14.98" height="1.02" fill="#3e0000"/>
<rect x="137.67" y="220" width="14.98" height="1.02" fill="#460000"/>
<rect x="137.67" y="221" width="14.98" height="1.02" fill="#430000"/>
<rect x="137.67" y="222" width="14.98" height="1.02" fill="#3c0000"/>
<rect x="137.67" y="223" width="14.98" height="1.02" fill="#460000"/>
<rect x="137.67" y="224" width="14.98" height="1.02" fill="#530000"/>
<rect x="137.67" y="225" width="14.98" height="1.02" fill="#550000"/>
<rect x="137.67" y="226" width="14.98" height="1.02" fill="#9d0000"/>
<rect x="137.67" y="227" width="14.98" height="1.02" fill="#7b0000"/>
<rect x="137.67" y="228" width="14.98" height="1.02" fill="#9c0000"/>
<rect x="137.67" y="229" width="14.98" height="1.02" fill="#4a0000"/>
<rect x="137.67" y="230" width="14.98" height="1.02" fill="#470000"/>
<rect x="137.67" y="231" width="14.98" height="1.02" fill="#420000"/>
<rect x="137.67" y="232" width="14.98" height="1.02" fill="#530000"/>
<rect x="137.67" y="233" width="14.98" height="1.02" fill="#0f0800"/>
<rect x="137.67" y="234" width="14.98" height="1.02" fill="#003500"/>
<rect x="137.67" y="235" width="14.98" height="1.02" fill="#009400"/>
<rect x="137.67" y="236" width="14.98" height="1.02" fill="#003800"/>
<rect x="137.67" y="237" width="14.98" height="1.02" fill="#480000"/>
<rect x="137.67" y="238" width="14.98" height="1.02" fill="#450000"/>
<rect x="137.67" y="239" width="14.98" height="1.02" fill="#0f0800"/>
<rect x="137.67" y="240" width="14.98" height="1.02" fill="#490000"/>
<rect x="137.67" y="241" width="14.98" height="1.02" fill="#140b00"/>
<rect x="137.67" y="242" width="14.98" height="1.02" fill="#7d0000"/>
<rect x="137.67" y="243" width="14.98" height="1.02" fill="#870000"/>
<rect x="137.67" y="244" width="14.98" height="1.02" fill="#990000"/>
<rect x="137.67" y="245" width="14.98" height="1.02" fill="#9a0000"/>
<rect x="137.67" y="246" width="14.98" height="1.02" fill="#480000"/>
<rect x="137.67" y="247" width="14.98" height="1.02" fill="#7c0000"/>
<rect x="137.67" y="248" width="14.98" height="1.02" fill="#7c0000"/>
<rect x="137.67" y="249" width="14.98" height="1.02" fill="#520000"/>
<rect x="137.67" y="250" width="14.98" height="1.02" fill="#4e0000"/>
<rect x="137.67" y="251" width="14.98" height="1.02" fill="#3c0000"/>
<rect x="137.67" y="252" width="14.98" height="1.02" fill="#ff0000"/>
<rect x="137.67" y="253" width="14.98" height="1.02" fill="#ff0000"/>
<rect x="137.67" y="254" width="14.98" height="1.02" fill="#ea0000"/>
<rect x="137.67" y="255" width="14.98" height="1.02" fill="#fa0000"/>
<rect x="137.67" y="256" width="14.98" height="1.02" fill="#e90000"/>
<rect x="137.67" y="257" width="14.98" height="1.02" fill="#e60000"/>
<rect x="137.67" y="258" width="14.98" height="1.02" fill="#f20000"/>
<rect x="137.67" y="259" width="14.98" height="1.02" fill="#fb0000"/>
<rect x="137.67" y="260" width="14.98" height="1.02" fill="#890000"/>
<rect x="137.67" y="261" width="14.98" height="1.02" fill="#910000"/>
<rect x="137.67" y="262" width="14.98" height="1.02" fill="#9d0000"/>
<rect x="137.67" y="263" width="14.98" height="1.02" fill="#990000"/>
<rect x="137.67" y="264" width="14.98" height="1.02" fill="#ac0000"/>
<rect x="137.67" y="265" width="14.98" height="1.02" fill="#ff0000"/>
<rect x="137.67" y="266" width="14.98" height="1.02" fill="#ff0000"/>
<rect x="137.67" y="267" width="14.98" height="1.02" fill="#ff0000"/>
<rect x="137.67" y="268" width="14.98" height="1.02" fill="#110900"/>
<rect x="137.67" y="269" width="14.98" height="1.02" fill="#540000"/>
<rect x="137.67" y="270" width="14.98" height="1.02" fill="#3a0000"/>
<rect x="137.67" y="271" width="14.98" height="1.02" fill="#e80000"/>
<rect x="137.67" y="272" width="14.98" height="1.02" fill="#ff0000"/>
<rect x="137.67" y="273" width="14.98" height="1.02" fill="#ff0000"/>
<rect x="137.67" y="274" width="14.98" height="1.02" fill="#ee0000"/>
<rect x="137.67" y="275" width="14.98" height="1.02" fill="#f50000"/>
<rect x="137.67" y="276" width="14.98" height="1.02" fill="#fb0000"/>
<rect x="137.67" y="277" width="14.98" height="1.02" fill="#e40000"/>
<rect x="137.67" y="278" width="14.98" height="1.02" fill="#500000"/>
<rect x="137.67" y="279" width="14.98" height="1.02" fill="#990000"/>
<rect x="137.67" y="280" width="14.98" height="1.02" fill="#a10000"/>
<rect x="137.67" y="281" width="14.98" height="1.02" fill="#800000"/>
<rect x="137.67" y="282" width="14.98" height="1.02" fill="#980000"/>
<rect x="137.67" y="283" width="14.98" height="1.02" fill="#a80000"/>
<rect x="137.67" y="284" width="14.98" height="1.02" fill="#780000"/>
<rect x="137.67" y="285" width="14.98" height="1.02" fill="#810000"/>
<rect x="137.67" y="286" width="14.98" height="1.02" fill="#ac0000"/>
<rect x="137.67" y="287" width="14.98" height="1.02" fill="#7a0000"/>
<rect x="137.67" y="288" width="14.98" height="1.02" fill="#510000"/>
<rect x="137.67" y="289" width="14.98" height="1.02" fill="#440000"/>
<rect x="137.67" y="290" width="14.98" height="1.02" fill="#3e0000"/>
<rect x="137.67" y="291" width="14.98" height="1.02" fill="#440000"/>
<rect x="137.67" y="292" width="14.98" height="1.02" fill="#4b0000"/>
<rect x="137.67" y="293" width="14.98" height="1.02" fill="#100900"/>
<rect x="137.67" y="294" width="14.98" height="1.02" fill="#530000"/>
<rect x="137.67" y="295" width="14.98" height="1.02" fill="#3a0000"/>
<rect x="137.67" y="296" width="14.98" height="1.02" fill="#8d0000"/>
<rect x="137.67" y="297" width="14.98" height="1.02" fill="#9a0000"/>
<rect x="137.67" y="298" width="14.98" height="1.02" fill="#8d0000"/>
<rect x="137.67" y="299" width="14.98" height="1.02" fill="#fb0000"/>
<rect x="137.67" y="300" width="14.98" height="1.02" fill="#3a0000"/>
<rect x="137.67" y="301" width="14.98" height="1.02" fill="#560000"/>
<rect x="137.67" y="302" width="14.98" height="1.02" fill="#800000"/>
<rect x="137.67" y="303" width="14.98" height="1.02" fill="#410000"/>
<rect x="137.67" y="304" width="14.98" height="1.02" fill="#480000"/>
<rect x="137.67" y="305" width="14.98" height="1.02" fill="#9a0000"/>
<rect x="137.67" y="306" width="14.98" height="1.02" fill="#b10000"/>
<rect x="137.67" y="307" width="14.98" height="1.02" fill="#7a0000"/>
<rect x="137.67" y="308" width="14.98" height="1.02" fill="#a60000"/>
<rect x="137.67" y="309" width="14.98" height="1.02" fill="#a60000"/>
<rect x="137.67" y="310" width="14.98" height="1.02" fill="#fd0000"/>
<rect x="137.67" y="311" width="14.98" height="1.02" fill="#ef0000"/>
<rect x="137.67" y="312" width="14.98" height="1.02" fill="#ff0000"/>
<rect x="137.67" y="313" width="14.98" height="1.02" fill="#ff0000"/>
<rect x="137.67" y="314" width="14.98" height="1.02" fill="#ff0000"/>
<rect x="137.67" y="315" width="14.98" height="1.02" fill="#f80000"/>
<rect x="137.67" y="316" width="14.98" height="1.02" fill="#f20000"/>
<rect x="152.60" y="90" width="14.98" height="1.02" fill="#110900"/>
<rect x="152.60" y="91" width="14.98" height="1.02" fill="#430000"/>
<rect x="152.60" y="92" width="14.98" height="1.02" fill="#150b00"/>
<rect x="152.60" y="93" width="14.98" height="1.02" fill="#110900"/>
<rect x="152.60" y="94" width="14.98" height="1.02" fill="#100800"/>
<rect x="152.60" y="95" width="14.98" height="1.02" fill="#0f0800"/>
<rect x="152.60" y="96" width="14.98" height="1.02" fill="#520000"/>
<rect x="152.60" y="97" width="14.98" height="1.02" fill="#110900"/>
<rect x="152.60" y="98" width="14.98" height="1.02" fill="#100900"/>
<rect x="152.60" y="99" width="14.98" height="1.02" fill="#0e0800"/>
<rect x="152.60" y="100" width="14.98" height="1.02" fill="#100900"/>
<rect x="152.60" y="101" width="14.98" height="1.02" fill="#00f300"/>
<rect x="152.60" y="102" width="14.98" height="1.02" fill="#00eb00"/>
<rect x="152.60" y="103" width="14.98" height="1.02" fill="#00f500"/>
<rect x="152.60" y="104" width="14.98" height="1.02" fill="#00e500"/>
<rect x="152.60" y="105" width="14.98" height="1.02" fill="#00ff00"/>
<rect x="152.60" y="106" width="14.98" height="1.02" fill="#00fc00"/>
<rect x="152.60" y="107" width="14.98" height="1.02" fill="#00ff00"/>
<rect x="152.60" y="108" width="14.98" height="1.02" fill="#00f100"/>
<rect x="152.60" y="109" width="14.98" height="1.02" fill="#00e900"/>
<rect x="152.60" y="110" width="14.98" height="1.02" fill="#00df00"/>
<rect x="152.60" y="111" width="14.98" height="1.02" fill="#00e900"/>
<rect x="152.60" y="112" width="14.98" height="1.02" fill="#00e700"/>
<rect x="152.60" y="113" width="14.98" height="1.02" fill="#00e600"/>
<rect x="152.60" y="114" width="14.98" height="1.02" fill="#00ff00"/>
<rect x="152.60" y="115" width="14.98" height="1.02" fill="#00e600"/>
<rect x="152.60" y="116" width="14.98" height="1.02" fill="#00ff00"/>
<rect x="152.60" y="117" width="14.98" height="1.02" fill="#00e100"/>
<rect x="152.60" y="118" width="14.98" height="1.02" fill="#00ff00"/>
<rect x="152.60" y="119" width="14.98" height="1.02" fill="#00e300"/>
<rect x="152.60" y="120" width="14.98" height="1.02" fill="#008e00"/>
<rect x="152.60" y="121" width="14.98" height="1.02" fill="#009300"/>
<rect x="152.60" y="122" width="14.98" height="1.02" fill="#007b00"/>
<rect x="152.60" y="123" width="14.98" height="1.02" fill="#003c00"/>
<rect x="152.60" y="124" width="14.98" height="1.02" fill="#003400"/>
<rect x="152.60" y="125" width="14.98" height="1.02" fill="#003300"/>
<rect x="152.60" y="126" width="14.98" height="1.02" fill="#110900"/>
<rect x="152.60" y="127" width="14.98" height="1.02" fill="#00f600"/>
<rect x="152.60" y="128" width="14.98" height="1.02" fill="#00f100"/>
<rect x="152.60" y="129" width="14.98" height="1.02" fill="#00e800"/>
<rect x="152.60" y="130" width="14.98" height="1.02" fill="#00df00"/>
<rect x="152.60" y="131" width="14.98" height="1.02" fill="#00f400"/>
<rect x="152.60" y="132" width="14.98" height="1.02" fill="#00e000"/>
<rect x="152.60" y="133" width="14.98" height="1.02" fill="#00fa00"/>
<rect x="152.60" y="134" width="14.98" height="1.02" fill="#00e200"/>
<rect x="152.60" y="135" width="14.98" height="1.02" fill="#002f00"/>
<rect x="152.60" y="136" width="14.98" height="1.02" fill="#002d00"/>
<rect x="152.60" y="137" width="14.98" height="1.02" fill="#003500"/>
<rect x="152.60" y="138" width="14.98" height="1.02" fill="#003800"/>
<rect x="152.60" y="139" width="14.98" height="1.02" fill="#003a00"/>
<rect x="152.60" y="140" width="14.98" height="1.02" fill="#100900"/>
<rect x="152.60" y="141" width="14.98" height="1.02" fill="#100900"/>
<rect x="152.60" y="142" width="14.98" height="1.02" fill="#130b00"/>
<rect x="152.60" y="143" width="14.98" height="1.02" fill="#100900"/>
<rect x="152.60" y="144" width="14.98" height="1.02" fill="#150b00"/>
<rect x="152.60" y="145" width="14.98" height="1.02" fill="#100900"/>
<rect x="152.60" y="146" width="14.98" height="1.02" fill="#150b00"/>
<rect x="152.60" y="147" width="14.98" height="1.02" fill="#002c00"/>
<rect x="152.60" y="148" width="14.98" height="1.02" fill="#130a00"/>
<rect x="152.60" y="149" width="14.98" height="1.02" fill="#110900"/>
<rect x="152.60" y="150" width="14.98" height="1.02" fill="#00e700"/>
<rect x="152.60" y="151" width="14.98" height="1.02" fill="#00e200"/>
<rect x="152.60" y="152" width="14.98" height="1.02" fill="#007700"/>
<rect x="152.60" y="153" width="14.98" height="1.02" fill="#00f200"/>
<rect x="152.60" y="154" width="14.98" height="1.02" fill="#00e500"/>
<rect x="152.60" y="155" width="14.98" height="1.02" fill="#00ec00"/>
<rect x="152.60" y="156" width="14.98" height="1.02" fill="#00e500"/>
<rect x="152.60" y="157" width="14.98" height="1.02" fill="#00ff00"/>
<rect x="152.60" y="158" width="14.98" height="1.02" fill="#0e0800"/>
<rect x="152.60" y="159" width="14.98" height="1.02" fill="#100800"/>
<rect x="152.60" y="160" width="14.98" height="1.02" fill="#110900"/>
<rect x="152.60" y="161" width="14.98" height="1.02" fill="#100900"/>
<rect x="152.60" y="162" width="14.98" height="1.02" fill="#003600"/>
<rect x="152.60" y="163" width="14.98" height="1.02" fill="#003f00"/>
<rect x="152.60" y="164" width="14.98" height="1.02" fill="#009900"/>
<rect x="152.60" y="165" width="14.98" height="1.02" fill="#130a00"/>
<rect x="152.60" y="166" width="14.98" height="1.02" fill="#003f00"/>
<rect x="152.60" y="167" width="14.98" height="1.02" fill="#120a00"/>
<rect x="152.60" y="168" width="14.98" height="1.02" fill="#00a300"/>
<rect x="152.60" y="169" width="14.98" height="1.02" fill="#009300"/>
<rect x="152.60" y="170" width="14.98" height="1.02" fill="#007e00"/>
<rect x="152.60" y="171" width="14.98" height="1.02" fill="#008800"/>
<rect x="152.60" y="172" width="14.98" height="1.02" fill="#007b00"/>
<rect x="152.60" y="173" width="14.98" height="1.02" fill="#009300"/>
<rect x="152.60" y="174" width="14.98" height="1.02" fill="#00a700"/>
<rect x="152.60" y="175" width="14.98" height="1.02" fill="#008f00"/>
<rect x="152.60" y="176" width="14.98" height="1.02" fill="#00a000"/>
<rect x="152.60" y="177" width="14.98" height="1.02" fill="#003100"/>
<rect x="152.60" y="178" width="14.98" height="1.02" fill="#003e00"/>
<rect x="152.60" y="179" width="14.98" height="1.02" fill="#003300"/>
<rect x="152.60" y="180" width="14.98" height="1.02" fill="#00a100"/>
<rect x="152.60" y="181" width="14.98" height="1.02" fill="#009600"/>
<rect x="152.60" y="182" width="14.98" height="1.02" fill="#008900"/>
<rect x="152.60" y="183" width="14.98" height="1.02" fill="#140b00"/>
<rect x="152.60" y="184" width="14.98" height="1.02" fill="#140b00"/>
<rect x="152.60" y="185" width="14.98" height="1.02" fill="#140b00"/>
<rect x="152.60" y="186" width="14.98" height="1.02" fill="#0f0800"/>
<rect x="152.60" y="187" width="14.98" height="1.02" fill="#150b00"/>
<rect x="152.60" y="188" width="14.98" height="1.02" fill="#0e0800"/>
<rect x="152.60" y="189" width="14.98" height="1.02" fill="#004100"/>
<rect x="152.60" y="190" width="14.98" height="1.02" fill="#ff0000"/>
<rect x="152.60" y="191" width="14.98" height="1.02" fill="#a40000"/>
<rect x="152.60" y="192" width="14.98" height="1.02" fill="#3e0000"/>
<rect x="152.60" y="193" width="14.98" height="1.02" fill="#7d0000"/>
<rect x="152.60" y="194" width="14.98" height="1.02" fill="#af0000"/>
<rect x="152.60" y="195" width="14.98" height="1.02" fill="#ac0000"/>
<rect x="152.60" y="196" width="14.98" height="1.02" fill="#790000"/>
<rect x="152.60" y="197" width="14.98" height="1.02" fill="#a70000"/>
<rect x="152.60" y="198" width="14.98" height="1.02" fill="#7a0000"/>
<rect x="152.60" y="199" width="14.98" height="1.02" fill="#400000"/>
<rect x="152.60" y="200" width="14.98" height="1.02" fill="#3c0000"/>
<rect x="152.60" y="201" width="14.98" height="1.02" fill="#b30000"/>
<rect x="152.60" y="202" width="14.98" height="1.02" fill="#520000"/>
<rect x="152.60" y="203" width="14.98" height="1.02" fill="#f70000"/>
<rect x="152.60" y="204" width="14.98" height="1.02" fill="#f50000"/>
<rect x="152.60" y="205" width="14.98" height="1.02" fill="#ff0000"/>
<rect x="152.60" y="206" width="14.98" height="1.02" fill="#ff0000"/>
<rect x="152.60" y="207" width="14.98" height="1.02" fill="#3c0000"/>
<rect x="152.60" y="208" width="14.98" height="1.02" fill="#470000"/>
<rect x="152.60" y="209" width="14.98" height="1.02" fill="#430000"/>
<rect x="152.60" y="210" width="14.98" height="1.02" fill="#b20000"/>
<rect x="152.60" y="211" width="14.98" height="1.02" fill="#a30000"/>
<rect x="152.60" y="212" width="14.98" height="1.02" fill="#0f0800"/>
<rect x="152.60" y="213" width="14.98" height="1.02" fill="#0e0800"/>
<rect x="152.60" y="214" width="14.98" height="1.02" fill="#480000"/>
<rect x="152.60" y="215" width="14.98" height="1.02" fill="#120a00"/>
<rect x="152.60" y="216" width="14.98" height="1.02" fill="#390000"/>
<rect x="152.60" y="217" width="14.98" height="1.02" fill="#4c0000"/>
<rect x="152.60" y="218" width="14.98" height="1.02" fill="#490000"/>
<rect x="152.60" y="219" width="14.98" height="1.02" fill="#550000"/>
<rect x="152.60" y="220" width="14.98" height="1.02" fill="#4e0000"/>
<rect x="152.60" y="221" width="14.98" height="1.02" fill="#420000"/>
<rect x="152.60" y="222" width="14.98" height="1.02" fill="#550000"/>
<rect x="152.60" y="223" width="14.98" height="1.02" fill="#440000"/>
<rect x="152.60" y="224" width="14.98" height="1.02" fill="#3d0000"/>
<rect x="152.60" y="225" width="14.98" height="1.02" fill="#390000"/>
<rect x="152.60" y="226" width="14.98" height="1.02" fill="#540000"/>
<rect x="152.60" y="227" width="14.98" height="1.02" fill="#4b0000"/>
<rect x="152.60" y="228" width="14.98" height="1.02" fill="#400000"/>
<rect x="152.60" y="229" width="14.98" height="1.02" fill="#3c0000"/>
<rect x="152.60" y="230" width="14.98" height="1.02" fill="#500000"/>
<rect x="152.60" y="231" width="14.98" height="1.02" fill="#3b0000"/>
<rect x="152.60" y="232" width="14.98" height="1.02" fill="#420000"/>
<rect x="152.60" y="233" width="14.98" height="1.02" fill="#008e00"/>
<rect x="152.60" y="234" width="14.98" height="1.02" fill="#00a600"/>
<rect x="152.60" y="235" width="14.98" height="1.02" fill="#003c00"/>
<rect x="152.60" y="236" width="14.98" height="1.02" fill="#008c00"/>
<rect x="152.60" y="237" width="14.98" height="1.02" fill="#004100"/>
<rect x="152.60" y="238" width="14.98" height="1.02" fill="#003900"/>
<rect x="152.60" y="239" width="14.98" height="1.02" fill="#003400"/>
<rect x="152.60" y="240" width="14.98" height="1.02" fill="#003400"/>
<rect x="152.60" y="241" width="14.98" height="1.02" fill="#003900"/>
<rect x="152.60" y="242" width="14.98" height="1.02" fill="#420000"/>
<rect x="152.60" y="243" width="14.98" height="1.02" fill="#490000"/>
<rect x="152.60" y="244" width="14.98" height="1.02" fill="#4b0000"/>
<rect x="152.60" y="245" width="14.98" height="1.02" fill="#530000"/>
<rect x="152.60" y="246" width="14.98" height="1.02" fill="#4e0000"/>
<rect x="152.60" y="247" width="14.98" height="1.02" fill="#470000"/>
<rect x="152.60" y="248" width="14.98" height="1.02" fill="#3d0000"/>
<rect x="152.60" y="249" width="14.98" height="1.02" fill="#120a00"/>
<rect x="152.60" y="250" width="14.98" height="1.02" fill="#120a00"/>
<rect x="152.60" y="251" width="14.98" height="1.02" fill="#100800"/>
<rect x="152.60" y="252" width="14.98" height="1.02" fill="#ff0000"/>
<rect x="152.60" y="253" width="14.98" height="1.02" fill="#fd0000"/>
<rect x="152.60" y="254" width="14.98" height="1.02" fill="#ff0000"/>
<rect x="152.60" y="255" width="14.98" height="1.02" fill="#e50000"/>
<rect x="152.60" y="256" width="14.98" height="1.02" fill="#ff0000"/>
<rect x="152.60" y="257" width="14.98" height="1.02" fill="#e90000"/>
<rect x="152.60" y="258" width="14.98" height="1.02" fill="#ee0000"/>
<rect x="152.60" y="259" width="14.98" height="1.02" fill="#430000"/>
<rect x="152.60" y="260" width="14.98" height="1.02" fill="#970000"/>
<rect x="152.60" y="261" width="14.98" height="1.02" fill="#7d0000"/>
<rect x="152.60" y="262" width="14.98" height="1.02" fill="#b30000"/>
<rect x="152.60" y="263" width="14.98" height="1.02" fill="#920000"/>
<rect x="152.60" y="264" width="14.98" height="1.02" fill="#a70000"/>
<rect x="152.60" y="265" width="14.98" height="1.02" fill="#3d0000"/>
<rect x="152.60" y="266" width="14.98" height="1.02" fill="#440000"/>
<rect x="152.60" y="267" width="14.98" height="1.02" fill="#400000"/>
<rect x="152.60" y="268" width="14.98" height="1.02" fill="#430000"/>
<rect x="152.60" y="269" width="14.98" height="1.02" fill="#3a0000"/>
<rect x="152.60" y="270" width="14.98" height="1.02" fill="#4a0000"/>
<rect x="152.60" y="271" width="14.98" height="1.02" fill="#820000"/>
<rect x="152.60" y="272" width="14.98" height="1.02" fill="#410000"/>
<rect x="152.60" y="273" width="14.98" height="1.02" fill="#400000"/>
<rect x="152.60" y="274" width="14.98" height="1.02" fill="#3c0000"/>
<rect x="152.60" y="275" width="14.98" height="1.02" fill="#520000"/>
<rect x="152.60" y="276" width="14.98" height="1.02" fill="#450000"/>
<rect x="152.60" y="277" width="14.98" height="1.02" fill="#4b0000"/>
<rect x="152.60" y="278" width="14.98" height="1.02" fill="#7a0000"/>
<rect x="152.60" y="279" width="14.98" height="1.02" fill="#8e0000"/>
<rect x="152.60" y="280" width="14.98" height="1.02" fill="#890000"/>
<rect x="152.60" y="281" width="14.98" height="1.02" fill="#9e0000"/>
<rect x="152.60" y="282" width="14.98" height="1.02" fill="#100900"/>
<rect x="152.60" y="283" width="14.98" height="1.02" fill="#120a00"/>
<rect x="152.60" y="284" width="14.98" height="1.02" fill="#0f0800"/>
<rect x="152.60" y="285" width="14.98" height="1.02" fill="#130a00"/>
<rect x="152.60" y="286" width="14.98" height="1.02" fill="#130a00"/>
<rect x="152.60" y="287" width="14.98" height="1.02" fill="#0e0800"/>
<rect x="152.60" y="288" width="14.98" height="1.02" fill="#440000"/>
<rect x="152.60" y="289" width="14.98" height="1.02" fill="#470000"/>
<rect x="152.60" y="290" width="14.98" height="1.02" fill="#4f0000"/>
<rect x="152.60" y="291" width="14.98" height="1.02" fill="#9b0000"/>
<rect x="152.60" y="292" width="14.98" height="1.02" fill="#460000"/>
<rect x="152.60" y="293" width="14.98" height="1.02" fill="#450000"/>
<rect x="152.60" y="294" width="14.98" height="1.02" fill="#530000"/>
<rect x="152.60" y="295" width="14.98" height="1.02" fill="#470000"/>
<rect x="152.60" y="296" width="14.98" height="1.02" fill="#510000"/>
<rect x="152.60" y="297" width="14.98" height="1.02" fill="#4e0000"/>
<rect x="152.60" y="298" width="14.98" height="1.02" fill="#3a0000"/>
<rect x="152.60" y="299" width="14.98" height="1.02" fill="#490000"/>
<rect x="152.60" y="300" width="14.98" height="1.02" fill="#ff0000"/>
<rect x="152.60" y="301" width="14.98" height="1.02" fill="#ec0000"/>
<rect x="152.60" y="302" width="14.98" height="1.02" fill="#ff0000"/>
<rect x="152.60" y="303" width="14.98" height="1.02" fill="#e70000"/>
<rect x="152.60" y="304" width="14.98" height="1.02" fill="#fa0000"/>
<rect x="152.60" y="305" width="14.98" height="1.02" fill="#a00000"/>
<rect x="152.60" y="306" width="14.98" height="1.02" fill="#f70000"/>
<rect x="152.60" y="307" width="14.98" height="1.02" fill="#a10000"/>
<rect x="152.60" y="308" width="14.98" height="1.02" fill="#fb0000"/>
<rect x="152.60" y="309" width="14.98" height="1.02" fill="#ff0000"/>
<rect x="152.60" y="310" width="14.98" height="1.02" fill="#e90000"/>
<rect x="152.60" y="311" width="14.98" height="1.02" fill="#f80000"/>
<rect x="152.60" y="312" width="14.98" height="1.02" fill="#b30000"/>
<rect x="152.60" y="313" width="14.98" height="1.02" fill="#ee0000"/>
<rect x="152.60" y="314" width="14.98" height="1.02" fill="#ee0000"/>
<rect x="152.60" y="315" width="14.98" height="1.02" fill="#fa0000"/>
<rect x="152.60" y="316" width="14.98" height="1.02" fill="#f40000"/>
<rect x="167.53" y="90" width="14.98" height="1.02" fill="#420000"/>
<rect x="167.53" y="91" width="14.98" height="1.02" fill="#00fd00"/>
<rect x="167.53" y="92" width="14.98" height="1.02" fill="#00e800"/>
<rect x="167.53" y="93" width="14.98" height="1.02" fill="#00e000"/>
<rect x="167.53" y="94" width="14.98" height="1.02" fill="#00ed00"/>
<rect x="167.53" y="95" width="14.98" height="1.02" fill="#00f100"/>
<rect x="167.53" y="96" width="14.98" height="1.02" fill="#003400"/>
<rect x="167.53" y="97" width="14.98" height="1.02" fill="#003000"/>
<rect x="167.53" y="98" width="14.98" height="1.02" fill="#003800"/>
<rect x="167.53" y="99" width="14.98" height="1.02" fill="#100900"/>
<rect x="167.53" y="100" width="14.98" height="1.02" fill="#003400"/>
<rect x="167.53" y="101" width="14.98" height="1.02" fill="#003300"/>
<rect x="167.53" y="102" width="14.98" height="1.02" fill="#003d00"/>
<rect x="167.53" y="103" width="14.98" height="1.02" fill="#003b00"/>
<rect x="167.53" y="104" width="14.98" height="1.02" fill="#009100"/>
<rect x="167.53" y="105" width="14.98" height="1.02" fill="#00a400"/>
<rect x="167.53" y="106" width="14.98" height="1.02" fill="#00a100"/>
<rect x="167.53" y="107" width="14.98" height="1.02" fill="#003500"/>
<rect x="167.53" y="108" width="14.98" height="1.02" fill="#007200"/>
<rect x="167.53" y="109" width="14.98" height="1.02" fill="#00e100"/>
<rect x="167.53" y="110" width="14.98" height="1.02" fill="#00e500"/>
<rect x="167.53" y="111" width="14.98" height="1.02" fill="#00f400"/>
<rect x="167.53" y="112" width="14.98" height="1.02" fill="#00f100"/>
<rect x="167.53" y="113" width="14.98" height="1.02" fill="#00f800"/>
<rect x="167.53" y="114" width="14.98" height="1.02" fill="#00e600"/>
<rect x="167.53" y="115" width="14.98" height="1.02" fill="#00e400"/>
<rect x="167.53" y="116" width="14.98" height="1.02" fill="#00e600"/>
<rect x="167.53" y="117" width="14.98" height="1.02" fill="#00e200"/>
<rect x="167.53" y="118" width="14.98" height="1.02" fill="#00ff00"/>
<rect x="167.53" y="119" width="14.98" height="1.02" fill="#00f800"/>
<rect x="167.53" y="120" width="14.98" height="1.02" fill="#003f00"/>
<rect x="167.53" y="121" width="14.98" height="1.02" fill="#002f00"/>
<rect x="167.53" y="122" width="14.98" height="1.02" fill="#130a00"/>
<rect x="167.53" y="123" width="14.98" height="1.02" fill="#140b00"/>
<rect x="167.53" y="124" width="14.98" height="1.02" fill="#003100"/>
<rect x="167.53" y="125" width="14.98" height="1.02" fill="#003300"/>
<rect x="167.53" y="126" width="14.98" height="1.02" fill="#002f00"/>
<rect x="167.53" y="127" width="14.98" height="1.02" fill="#420000"/>
<rect x="167.53" y="128" width="14.98" height="1.02" fill="#3d0000"/>
<rect x="167.53" y="129" width="14.98" height="1.02" fill="#550000"/>
<rect x="167.53" y="130" width="14.98" height="1.02" fill="#3a0000"/>
<rect x="167.53" y="131" width="14.98" height="1.02" fill="#4c0000"/>
<rect x="167.53" y="132" width="14.98" height="1.02" fill="#490000"/>
<rect x="167.53" y="133" width="14.98" height="1.02" fill="#110900"/>
<rect x="167.53" y="134" width="14.98" height="1.02" fill="#450000"/>
<rect x="167.53" y="135" width="14.98" height="1.02" fill="#002e00"/>
<rect x="167.53" y="136" width="14.98" height="1.02" fill="#002e00"/>
<rect x="167.53" y="137" width="14.98" height="1.02" fill="#004100"/>
<rect x="167.53" y="138" width="14.98" height="1.02" fill="#003700"/>
<rect x="167.53" y="139" width="14.98" height="1.02" fill="#003300"/>
<rect x="167.53" y="140" width="14.98" height="1.02" fill="#008b00"/>
<rect x="167.53" y="141" width="14.98" height="1.02" fill="#007500"/>
<rect x="167.53" y="142" width="14.98" height="1.02" fill="#00a000"/>
<rect x="167.53" y="143" width="14.98" height="1.02" fill="#008e00"/>
<rect x="167.53" y="144" width="14.98" height="1.02" fill="#007700"/>
<rect x="167.53" y="145" width="14.98" height="1.02" fill="#003f00"/>
<rect x="167.53" y="146" width="14.98" height="1.02" fill="#003000"/>
<rect x="167.53" y="147" width="14.98" height="1.02" fill="#002c00"/>
<rect x="167.53" y="148" width="14.98" height="1.02" fill="#004100"/>
<rect x="167.53" y="149" width="14.98" height="1.02" fill="#004000"/>
<rect x="167.53" y="150" width="14.98" height="1.02" fill="#002d00"/>
<rect x="167.53" y="151" width="14.98" height="1.02" fill="#003500"/>
<rect x="167.53" y="152" width="14.98" height="1.02" fill="#003c00"/>
<rect x="167.53" y="153" width="14.98" height="1.02" fill="#003d00"/>
<rect x="167.53" y="154" width="14.98" height="1.02" fill="#002d00"/>
<rect x="167.53" y="155" width="14.98" height="1.02" fill="#002e00"/>
<rect x="167.53" y="156" width="14.98" height="1.02" fill="#003d00"/>
<rect x="167.53" y="157" width="14.98" height="1.02" fill="#003600"/>
<rect x="167.53" y="158" width="14.98" height="1.02" fill="#003700"/>
<rect x="167.53" y="159" width="14.98" height="1.02" fill="#00f700"/>
<rect x="167.53" y="160" width="14.98" height="1.02" fill="#00f500"/>
<rect x="167.53" y="161" width="14.98" height="1.02" fill="#008400"/>
<rect x="167.53" y="162" width="14.98" height="1.02" fill="#00e400"/>
<rect x="167.53" y="163" width="14.98" height="1.02" fill="#00ff00"/>
<rect x="167.53" y="164" width="14.98" height="1.02" fill="#00ff00"/>
<rect x="167.53" y="165" width="14.98" height="1.02" fill="#00f100"/>
<rect x="167.53" y="166" width="14.98" height="1.02" fill="#00e200"/>
<rect x="167.53" y="167" width="14.98" height="1.02" fill="#00e300"/>
<rect x="167.53" y="168" width="14.98" height="1.02" fill="#120a00"/>
<rect x="167.53" y="169" width="14.98" height="1.02" fill="#003600"/>
<rect x="167.53" y="170" width="14.98" height="1.02" fill="#120a00"/>
<rect x="167.53" y="171" width="14.98" height="1.02" fill="#110900"/>
<rect x="167.53" y="172" width="14.98" height="1.02" fill="#003400"/>
<rect x="167.53" y="173" width="14.98" height="1.02" fill="#002e00"/>
<rect x="167.53" y="174" width="14.98" height="1.02" fill="#003f00"/>
<rect x="167.53" y="175" width="14.98" height="1.02" fill="#003f00"/>
<rect x="167.53" y="176" width="14.98" height="1.02" fill="#150b00"/>
<rect x="167.53" y="177" width="14.98" height="1.02" fill="#003d00"/>
<rect x="167.53" y="178" width="14.98" height="1.02" fill="#003b00"/>
<rect x="167.53" y="179" width="14.98" height="1.02" fill="#003c00"/>
<rect x="167.53" y="180" width="14.98" height="1.02" fill="#100900"/>
<rect x="167.53" y="181" width="14.98" height="1.02" fill="#440000"/>
<rect x="167.53" y="182" width="14.98" height="1.02" fill="#100900"/>
<rect x="167.53" y="183" width="14.98" height="1.02" fill="#007400"/>
<rect x="167.53" y="184" width="14.98" height="1.02" fill="#007d00"/>
<rect x="167.53" y="185" width="14.98" height="1.02" fill="#009b00"/>
<rect x="167.53" y="186" width="14.98" height="1.02" fill="#007300"/>
<rect x="167.53" y="187" width="14.98" height="1.02" fill="#003900"/>
<rect x="167.53" y="188" width="14.98" height="1.02" fill="#002c00"/>
<rect x="167.53" y="189" width="14.98" height="1.02" fill="#003b00"/>
<rect x="167.53" y="190" width="14.98" height="1.02" fill="#f10000"/>
<rect x="167.53" y="191" width="14.98" height="1.02" fill="#f60000"/>
<rect x="167.53" y="192" width="14.98" height="1.02" fill="#e40000"/>
<rect x="167.53" y="193" width="14.98" height="1.02" fill="#f40000"/>
<rect x="167.53" y="194" width="14.98" height="1.02" fill="#e70000"/>
<rect x="167.53" y="195" width="14.98" height="1.02" fill="#ff0000"/>
<rect x="167.53" y="196" width="14.98" height="1.02" fill="#3d0000"/>
<rect x="167.53" y="197" width="14.98" height="1.02" fill="#3d0000"/>
<rect x="167.53" y="198" width="14.98" height="1.02" fill="#3f0000"/>
<rect x="167.53" y="199" width="14.98" height="1.02" fill="#550000"/>
<rect x="167.53" y="200" width="14.98" height="1.02" fill="#500000"/>
<rect x="167.53" y="201" width="14.98" height="1.02" fill="#470000"/>
<rect x="167.53" y="202" width="14.98" height="1.02" fill="#530000"/>
<rect x="167.53" y="203" width="14.98" height="1.02" fill="#4b0000"/>
<rect x="167.53" y="204" width="14.98" height="1.02" fill="#4b0000"/>
<rect x="167.53" y="205" width="14.98" height="1.02" fill="#500000"/>
<rect x="167.53" y="206" width="14.98" height="1.02" fill="#130a00"/>
<rect x="167.53" y="207" width="14.98" height="1.02" fill="#0f0800"/>
<rect x="167.53" y="208" width="14.98" height="1.02" fill="#130a00"/>
<rect x="167.53" y="209" width="14.98" height="1.02" fill="#0f0800"/>
<rect x="167.53" y="210" width="14.98" height="1.02" fill="#150b00"/>
<rect x="167.53" y="211" width="14.98" height="1.02" fill="#130a00"/>
<rect x="167.53" y="212" width="14.98" height="1.02" fill="#003d00"/>
<rect x="167.53" y="213" width="14.98" height="1.02" fill="#003500"/>
<rect x="167.53" y="214" width="14.98" height="1.02" fill="#003d00"/>
<rect x="167.53" y="215" width="14.98" height="1.02" fill="#003200"/>
<rect x="167.53" y="216" width="14.98" height="1.02" fill="#480000"/>
<rect x="167.53" y="217" width="14.98" height="1.02" fill="#3c0000"/>
<rect x="167.53" y="218" width="14.98" height="1.02" fill="#500000"/>
<rect x="167.53" y="219" width="14.98" height="1.02" fill="#510000"/>
<rect x="167.53" y="220" width="14.98" height="1.02" fill="#3f0000"/>
<rect x="167.53" y="221" width="14.98" height="1.02" fill="#007d00"/>
<rect x="167.53" y="222" width="14.98" height="1.02" fill="#00a200"/>
<rect x="167.53" y="223" width="14.98" height="1.02" fill="#009700"/>
<rect x="167.53" y="224" width="14.98" height="1.02" fill="#009b00"/>
<rect x="167.53" y="225" width="14.98" height="1.02" fill="#009600"/>
<rect x="167.53" y="226" width="14.98" height="1.02" fill="#003e00"/>
<rect x="167.53" y="227" width="14.98" height="1.02" fill="#002d00"/>
<rect x="167.53" y="228" width="14.98" height="1.02" fill="#003e00"/>
<rect x="167.53" y="229" width="14.98" height="1.02" fill="#4a0000"/>
<rect x="167.53" y="230" width="14.98" height="1.02" fill="#500000"/>
<rect x="167.53" y="231" width="14.98" height="1.02" fill="#950000"/>
<rect x="167.53" y="232" width="14.98" height="1.02" fill="#7e0000"/>
<rect x="167.53" y="233" width="14.98" height="1.02" fill="#003500"/>
<rect x="167.53" y="234" width="14.98" height="1.02" fill="#003600"/>
<rect x="167.53" y="235" width="14.98" height="1.02" fill="#003000"/>
<rect x="167.53" y="236" width="14.98" height="1.02" fill="#003e00"/>
<rect x="167.53" y="237" width="14.98" height="1.02" fill="#420000"/>
<rect x="167.53" y="238" width="14.98" height="1.02" fill="#100900"/>
<rect x="167.53" y="239" width="14.98" height="1.02" fill="#460000"/>
<rect x="167.53" y="240" width="14.98" height="1.02" fill="#003d00"/>
<rect x="167.53" y="241" width="14.98" height="1.02" fill="#009600"/>
<rect x="167.53" y="242" width="14.98" height="1.02" fill="#a90000"/>
<rect x="167.53" y="243" width="14.98" height="1.02" fill="#ee0000"/>
<rect x="167.53" y="244" width="14.98" height="1.02" fill="#f20000"/>
<rect x="167.53" y="245" width="14.98" height="1.02" fill="#ff0000"/>
<rect x="167.53" y="246" width="14.98" height="1.02" fill="#ff0000"/>
<rect x="167.53" y="247" width="14.98" height="1.02" fill="#f70000"/>
<rect x="167.53" y="248" width="14.98" height="1.02" fill="#f80000"/>
<rect x="167.53" y="249" width="14.98" height="1.02" fill="#0f0800"/>
<rect x="167.53" y="250" width="14.98" height="1.02" fill="#0f0800"/>
<rect x="167.53" y="251" width="14.98" height="1.02" fill="#0e0800"/>
<rect x="167.53" y="252" width="14.98" height="1.02" fill="#540000"/>
<rect x="167.53" y="253" width="14.98" height="1.02" fill="#500000"/>
<rect x="167.53" y="254" width="14.98" height="1.02" fill="#430000"/>
<rect x="167.53" y="255" width="14.98" height="1.02" fill="#120a00"/>
<rect x="167.53" y="256" width="14.98" height="1.02" fill="#480000"/>
<rect x="167.53" y="257" width="14.98" height="1.02" fill="#540000"/>
<rect x="167.53" y="258" width="14.98" height="1.02" fill="#4c0000"/>
<rect x="167.53" y="259" width="14.98" height="1.02" fill="#4b0000"/>
<rect x="167.53" y="260" width="14.98" height="1.02" fill="#b10000"/>
<rect x="167.53" y="261" width="14.98" height="1.02" fill="#9f0000"/>
<rect x="167.53" y="262" width="14.98" height="1.02" fill="#8e0000"/>
<rect x="167.53" y="263" width="14.98" height="1.02" fill="#a00000"/>
<rect x="167.53" y="264" width="14.98" height="1.02" fill="#950000"/>
<rect x="167.53" y="265" width="14.98" height="1.02" fill="#550000"/>
<rect x="167.53" y="266" width="14.98" height="1.02" fill="#aa0000"/>
<rect x="167.53" y="267" width="14.98" height="1.02" fill="#490000"/>
<rect x="167.53" y="268" width="14.98" height="1.02" fill="#4f0000"/>
<rect x="167.53" y="269" width="14.98" height="1.02" fill="#4e0000"/>
<rect x="167.53" y="270" width="14.98" height="1.02" fill="#3a0000"/>
<rect x="167.53" y="271" width="14.98" height="1.02" fill="#800000"/>
<rect x="167.53" y="272" width="14.98" height="1.02" fill="#ad0000"/>
<rect x="167.53" y="273" width="14.98" height="1.02" fill="#9b0000"/>
<rect x="167.53" y="274" width="14.98" height="1.02" fill="#7a0000"/>
<rect x="167.53" y="275" width="14.98" height="1.02" fill="#a40000"/>
<rect x="167.53" y="276" width="14.98" height="1.02" fill="#880000"/>
<rect x="167.53" y="277" width="14.98" height="1.02" fill="#890000"/>
<rect x="167.53" y="278" width="14.98" height="1.02" fill="#f40000"/>
<rect x="167.53" y="279" width="14.98" height="1.02" fill="#fd0000"/>
<rect x="167.53" y="280" width="14.98" height="1.02" fill="#ff0000"/>
<rect x="167.53" y="281" width="14.98" height="1.02" fill="#ff0000"/>
<rect x="167.53" y="282" width="14.98" height="1.02" fill="#ff0000"/>
<rect x="167.53" y="283" width="14.98" height="1.02" fill="#ea0000"/>
<rect x="167.53" y="284" width="14.98" height="1.02" fill="#ff0000"/>
<rect x="167.53" y="285" width="14.98" height="1.02" fill="#f10000"/>
<rect x="167.53" y="286" width="14.98" height="1.02" fill="#f80000"/>
<rect x="167.53" y="287" width="14.98" height="1.02" fill="#ea0000"/>
<rect x="167.53" y="288" width="14.98" height="1.02" fill="#3e0000"/>
<rect x="167.53" y="289" width="14.98" height="1.02" fill="#3b0000"/>
<rect x="167.53" y="290" width="14.98" height="1.02" fill="#440000"/>
<rect x="167.53" y="291" width="14.98" height="1.02" fill="#550000"/>
<rect x="167.53" y="292" width="14.98" height="1.02" fill="#420000"/>
<rect x="167.53" y="293" width="14.98" height="1.02" fill="#3f0000"/>
<rect x="167.53" y="294" width="14.98" height="1.02" fill="#460000"/>
<rect x="167.53" y="295" width="14.98" height="1.02" fill="#100900"/>
<rect x="167.53" y="296" width="14.98" height="1.02" fill="#440000"/>
<rect x="167.53" y="297" width="14.98" height="1.02" fill="#410000"/>
<rect x="167.53" y="298" width="14.98" height="1.02" fill="#530000"/>
<rect x="167.53" y="299" width="14.98" height="1.02" fill="#510000"/>
<rect x="167.53" y="300" width="14.98" height="1.02" fill="#a60000"/>
<rect x="167.53" y="301" width="14.98" height="1.02" fill="#810000"/>
<rect x="167.53" y="302" width="14.98" height="1.02" fill="#940000"/>
<rect x="167.53" y="303" width="14.98" height="1.02" fill="#a00000"/>
<rect x="167.53" y="304" width="14.98" height="1.02" fill="#880000"/>
<rect x="167.53" y="305" width="14.98" height="1.02" fill="#540000"/>
<rect x="167.53" y="306" width="14.98" height="1.02" fill="#410000"/>
<rect x="167.53" y="307" width="14.98" height="1.02" fill="#410000"/>
<rect x="167.53" y="308" width="14.98" height="1.02" fill="#3a0000"/>
<rect x="167.53" y="309" width="14.98" height="1.02" fill="#490000"/>
<rect x="167.53" y="310" width="14.98" height="1.02" fill="#150b00"/>
<rect x="167.53" y="311" width="14.98" height="1.02" fill="#100800"/>
<rect x="167.53" y="312" width="14.98" height="1.02" fill="#490000"/>
<rect x="167.53" y="313" width="14.98" height="1.02" fill="#130a00"/>
<rect x="167.53" y="314" width="14.98" height="1.02" fill="#140b00"/>
<rect x="167.53" y="315" width="14.98" height="1.02" fill="#003200"/>
<rect x="167.53" y="316" width="14.98" height="1.02" fill="#150b00"/>
<rect x="182.47" y="90" width="14.98" height="1.02" fill="#130a00"/>
<rect x="182.47" y="91" width="14.98" height="1.02" fill="#008600"/>
<rect x="182.47" y="92" width="14.98" height="1.02" fill="#009900"/>
<rect x="182.47" y="93" width="14.98" height="1.02" fill="#008500"/>
<rect x="182.47" y="94" width="14.98" height="1.02" fill="#008300"/>
<rect x="182.47" y="95" width="14.98" height="1.02" fill="#00a000"/>
<rect x="182.47" y="96" width="14.98" height="1.02" fill="#003700"/>
<rect x="182.47" y="97" width="14.98" height="1.02" fill="#003f00"/>
<rect x="182.47" y="98" width="14.98" height="1.02" fill="#008200"/>
<rect x="182.47" y="99" width="14.98" height="1.02" fill="#110900"/>
<rect x="182.47" y="100" width="14.98" height="1.02" fill="#003e00"/>
<rect x="182.47" y="101" width="14.98" height="1.02" fill="#003800"/>
<rect x="182.47" y="102" width="14.98" height="1.02" fill="#003800"/>
<rect x="182.47" y="103" width="14.98" height="1.02" fill="#003e00"/>
<rect x="182.47" y="104" width="14.98" height="1.02" fill="#009e00"/>
<rect x="182.47" y="105" width="14.98" height="1.02" fill="#009500"/>
<rect x="182.47" y="106" width="14.98" height="1.02" fill="#008c00"/>
<rect x="182.47" y="107" width="14.98" height="1.02" fill="#00a200"/>
<rect x="182.47" y="108" width="14.98" height="1.02" fill="#009d00"/>
<rect x="182.47" y="109" width="14.98" height="1.02" fill="#00ff00"/>
<rect x="182.47" y="110" width="14.98" height="1.02" fill="#00f900"/>
<rect x="182.47" y="111" width="14.98" height="1.02" fill="#00f600"/>
<rect x="182.47" y="112" width="14.98" height="1.02" fill="#00e100"/>
<rect x="182.47" y="113" width="14.98" height="1.02" fill="#00fe00"/>
<rect x="182.47" y="114" width="14.98" height="1.02" fill="#00e600"/>
<rect x="182.47" y="115" width="14.98" height="1.02" fill="#00e200"/>
<rect x="182.47" y="116" width="14.98" height="1.02" fill="#00ff00"/>
<rect x="182.47" y="117" width="14.98" height="1.02" fill="#00ec00"/>
<rect x="182.47" y="118" width="14.98" height="1.02" fill="#00e100"/>
<rect x="182.47" y="119" width="14.98" height="1.02" fill="#00eb00"/>
<rect x="182.47" y="120" width="14.98" height="1.02" fill="#009300"/>
<rect x="182.47" y="121" width="14.98" height="1.02" fill="#00e900"/>
<rect x="182.47" y="122" width="14.98" height="1.02" fill="#00ef00"/>
<rect x="182.47" y="123" width="14.98" height="1.02" fill="#003d00"/>
<rect x="182.47" y="124" width="14.98" height="1.02" fill="#140b00"/>
<rect x="182.47" y="125" width="14.98" height="1.02" fill="#007c00"/>
<rect x="182.47" y="126" width="14.98" height="1.02" fill="#003300"/>
<rect x="182.47" y="127" width="14.98" height="1.02" fill="#120a00"/>
<rect x="182.47" y="128" width="14.98" height="1.02" fill="#140b00"/>
<rect x="182.47" y="129" width="14.98" height="1.02" fill="#140b00"/>
<rect x="182.47" y="130" width="14.98" height="1.02" fill="#120a00"/>
<rect x="182.47" y="131" width="14.98" height="1.02" fill="#500000"/>
<rect x="182.47" y="132" width="14.98" height="1.02" fill="#480000"/>
<rect x="182.47" y="133" width="14.98" height="1.02" fill="#0e0800"/>
<rect x="182.47" y="134" width="14.98" height="1.02" fill="#130a00"/>
<rect x="182.47" y="135" width="14.98" height="1.02" fill="#003400"/>
<rect x="182.47" y="136" width="14.98" height="1.02" fill="#003800"/>
<rect x="182.47" y="137" width="14.98" height="1.02" fill="#003f00"/>
<rect x="182.47" y="138" width="14.98" height="1.02" fill="#003d00"/>
<rect x="182.47" y="139" width="14.98" height="1.02" fill="#003300"/>
<rect x="182.47" y="140" width="14.98" height="1.02" fill="#007300"/>
<rect x="182.47" y="141" width="14.98" height="1.02" fill="#007700"/>
<rect x="182.47" y="142" width="14.98" height="1.02" fill="#009600"/>
<rect x="182.47" y="143" width="14.98" height="1.02" fill="#008900"/>
<rect x="182.47" y="144" width="14.98" height="1.02" fill="#3f0000"/>
<rect x="182.47" y="145" width="14.98" height="1.02" fill="#410000"/>
<rect x="182.47" y="146" width="14.98" height="1.02" fill="#4e0000"/>
<rect x="182.47" y="147" width="14.98" height="1.02" fill="#460000"/>
<rect x="182.47" y="148" width="14.98" height="1.02" fill="#4d0000"/>
<rect x="182.47" y="149" width="14.98" height="1.02" fill="#410000"/>
<rect x="182.47" y="150" width="14.98" height="1.02" fill="#003b00"/>
<rect x="182.47" y="151" width="14.98" height="1.02" fill="#003c00"/>
<rect x="182.47" y="152" width="14.98" height="1.02" fill="#004000"/>
<rect x="182.47" y="153" width="14.98" height="1.02" fill="#003b00"/>
<rect x="182.47" y="154" width="14.98" height="1.02" fill="#0f0800"/>
<rect x="182.47" y="155" width="14.98" height="1.02" fill="#140b00"/>
<rect x="182.47" y="156" width="14.98" height="1.02" fill="#003900"/>
<rect x="182.47" y="157" width="14.98" height="1.02" fill="#003300"/>
<rect x="182.47" y="158" width="14.98" height="1.02" fill="#003900"/>
<rect x="182.47" y="159" width="14.98" height="1.02" fill="#003200"/>
<rect x="182.47" y="160" width="14.98" height="1.02" fill="#0f0800"/>
<rect x="182.47" y="161" width="14.98" height="1.02" fill="#003f00"/>
<rect x="182.47" y="162" width="14.98" height="1.02" fill="#008900"/>
<rect x="182.47" y="163" width="14.98" height="1.02" fill="#00e200"/>
<rect x="182.47" y="164" width="14.98" height="1.02" fill="#009b00"/>
<rect x="182.47" y="165" width="14.98" height="1.02" fill="#00a700"/>
<rect x="182.47" y="166" width="14.98" height="1.02" fill="#009c00"/>
<rect x="182.47" y="167" width="14.98" height="1.02" fill="#009e00"/>
<rect x="182.47" y="168" width="14.98" height="1.02" fill="#007600"/>
<rect x="182.47" y="169" width="14.98" height="1.02" fill="#003700"/>
<rect x="182.47" y="170" width="14.98" height="1.02" fill="#003100"/>
<rect x="182.47" y="171" width="14.98" height="1.02" fill="#140b00"/>
<rect x="182.47" y="172" width="14.98" height="1.02" fill="#00ff00"/>
<rect x="182.47" y="173" width="14.98" height="1.02" fill="#00ef00"/>
<rect x="182.47" y="174" width="14.98" height="1.02" fill="#00ed00"/>
<rect x="182.47" y="175" width="14.98" height="1.02" fill="#00ff00"/>
<rect x="182.47" y="176" width="14.98" height="1.02" fill="#00df00"/>
<rect x="182.47" y="177" width="14.98" height="1.02" fill="#003800"/>
<rect x="182.47" y="178" width="14.98" height="1.02" fill="#002c00"/>
<rect x="182.47" y="179" width="14.98" height="1.02" fill="#003d00"/>
<rect x="182.47" y="180" width="14.98" height="1.02" fill="#002c00"/>
<rect x="182.47" y="181" width="14.98" height="1.02" fill="#003700"/>
<rect x="182.47" y="182" width="14.98" height="1.02" fill="#008200"/>
<rect x="182.47" y="183" width="14.98" height="1.02" fill="#00a100"/>
<rect x="182.47" y="184" width="14.98" height="1.02" fill="#009300"/>
<rect x="182.47" y="185" width="14.98" height="1.02" fill="#007d00"/>
<rect x="182.47" y="186" width="14.98" height="1.02" fill="#008500"/>
<rect x="182.47" y="187" width="14.98" height="1.02" fill="#003900"/>
<rect x="182.47" y="188" width="14.98" height="1.02" fill="#003000"/>
<rect x="182.47" y="189" width="14.98" height="1.02" fill="#120a00"/>
<rect x="182.47" y="190" width="14.98" height="1.02" fill="#a20000"/>
<rect x="182.47" y="191" width="14.98" height="1.02" fill="#7c0000"/>
<rect x="182.47" y="192" width="14.98" height="1.02" fill="#7b0000"/>
<rect x="182.47" y="193" width="14.98" height="1.02" fill="#900000"/>
<rect x="182.47" y="194" width="14.98" height="1.02" fill="#a20000"/>
<rect x="182.47" y="195" width="14.98" height="1.02" fill="#9e0000"/>
<rect x="182.47" y="196" width="14.98" height="1.02" fill="#470000"/>
<rect x="182.47" y="197" width="14.98" height="1.02" fill="#530000"/>
<rect x="182.47" y="198" width="14.98" height="1.02" fill="#3b0000"/>
<rect x="182.47" y="199" width="14.98" height="1.02" fill="#560000"/>
<rect x="182.47" y="200" width="14.98" height="1.02" fill="#440000"/>
<rect x="182.47" y="201" width="14.98" height="1.02" fill="#510000"/>
<rect x="182.47" y="202" width="14.98" height="1.02" fill="#4e0000"/>
<rect x="182.47" y="203" width="14.98" height="1.02" fill="#7d0000"/>
<rect x="182.47" y="204" width="14.98" height="1.02" fill="#500000"/>
<rect x="182.47" y="205" width="14.98" height="1.02" fill="#7a0000"/>
<rect x="182.47" y="206" width="14.98" height="1.02" fill="#540000"/>
<rect x="182.47" y="207" width="14.98" height="1.02" fill="#4c0000"/>
<rect x="182.47" y="208" width="14.98" height="1.02" fill="#4b0000"/>
<rect x="182.47" y="209" width="14.98" height="1.02" fill="#410000"/>
<rect x="182.47" y="210" width="14.98" height="1.02" fill="#790000"/>
<rect x="182.47" y="211" width="14.98" height="1.02" fill="#7e0000"/>
<rect x="182.47" y="212" width="14.98" height="1.02" fill="#009700"/>
<rect x="182.47" y="213" width="14.98" height="1.02" fill="#009d00"/>
<rect x="182.47" y="214" width="14.98" height="1.02" fill="#008c00"/>
<rect x="182.47" y="215" width="14.98" height="1.02" fill="#00fd00"/>
<rect x="182.47" y="216" width="14.98" height="1.02" fill="#530000"/>
<rect x="182.47" y="217" width="14.98" height="1.02" fill="#ab0000"/>
<rect x="182.47" y="218" width="14.98" height="1.02" fill="#510000"/>
<rect x="182.47" y="219" width="14.98" height="1.02" fill="#4b0000"/>
<rect x="182.47" y="220" width="14.98" height="1.02" fill="#500000"/>
<rect x="182.47" y="221" width="14.98" height="1.02" fill="#007300"/>
<rect x="182.47" y="222" width="14.98" height="1.02" fill="#003200"/>
<rect x="182.47" y="223" width="14.98" height="1.02" fill="#002c00"/>
<rect x="182.47" y="224" width="14.98" height="1.02" fill="#002c00"/>
<rect x="182.47" y="225" width="14.98" height="1.02" fill="#003d00"/>
<rect x="182.47" y="226" width="14.98" height="1.02" fill="#3d0000"/>
<rect x="182.47" y="227" width="14.98" height="1.02" fill="#3f0000"/>
<rect x="182.47" y="228" width="14.98" height="1.02" fill="#3c0000"/>
<rect x="182.47" y="229" width="14.98" height="1.02" fill="#980000"/>
<rect x="182.47" y="230" width="14.98" height="1.02" fill="#7d0000"/>
<rect x="182.47" y="231" width="14.98" height="1.02" fill="#aa0000"/>
<rect x="182.47" y="232" width="14.98" height="1.02" fill="#7e0000"/>
<rect x="182.47" y="233" width="14.98" height="1.02" fill="#003200"/>
<rect x="182.47" y="234" width="14.98" height="1.02" fill="#002f00"/>
<rect x="182.47" y="235" width="14.98" height="1.02" fill="#004100"/>
<rect x="182.47" y="236" width="14.98" height="1.02" fill="#002c00"/>
<rect x="182.47" y="237" width="14.98" height="1.02" fill="#0f0800"/>
<rect x="182.47" y="238" width="14.98" height="1.02" fill="#4a0000"/>
<rect x="182.47" y="239" width="14.98" height="1.02" fill="#460000"/>
<rect x="182.47" y="240" width="14.98" height="1.02" fill="#4b0000"/>
<rect x="182.47" y="241" width="14.98" height="1.02" fill="#530000"/>
<rect x="182.47" y="242" width="14.98" height="1.02" fill="#a70000"/>
<rect x="182.47" y="243" width="14.98" height="1.02" fill="#aa0000"/>
<rect x="182.47" y="244" width="14.98" height="1.02" fill="#790000"/>
<rect x="182.47" y="245" width="14.98" height="1.02" fill="#aa0000"/>
<rect x="182.47" y="246" width="14.98" height="1.02" fill="#ac0000"/>
<rect x="182.47" y="247" width="14.98" height="1.02" fill="#b00000"/>
<rect x="182.47" y="248" width="14.98" height="1.02" fill="#a20000"/>
<rect x="182.47" y="249" width="14.98" height="1.02" fill="#420000"/>
<rect x="182.47" y="250" width="14.98" height="1.02" fill="#420000"/>
<rect x="182.47" y="251" width="14.98" height="1.02" fill="#110900"/>
<rect x="182.47" y="252" width="14.98" height="1.02" fill="#9f0000"/>
<rect x="182.47" y="253" width="14.98" height="1.02" fill="#a50000"/>
<rect x="182.47" y="254" width="14.98" height="1.02" fill="#b30000"/>
<rect x="182.47" y="255" width="14.98" height="1.02" fill="#880000"/>
<rect x="182.47" y="256" width="14.98" height="1.02" fill="#900000"/>
<rect x="182.47" y="257" width="14.98" height="1.02" fill="#ed0000"/>
<rect x="182.47" y="258" width="14.98" height="1.02" fill="#af0000"/>
<rect x="182.47" y="259" width="14.98" height="1.02" fill="#ff0000"/>
<rect x="182.47" y="260" width="14.98" height="1.02" fill="#ff0000"/>
<rect x="182.47" y="261" width="14.98" height="1.02" fill="#f90000"/>
<rect x="182.47" y="262" width="14.98" height="1.02" fill="#ff0000"/>
<rect x="182.47" y="263" width="14.98" height="1.02" fill="#fd0000"/>
<rect x="182.47" y="264" width="14.98" height="1.02" fill="#f90000"/>
<rect x="182.47" y="265" width="14.98" height="1.02" fill="#810000"/>
<rect x="182.47" y="266" width="14.98" height="1.02" fill="#9e0000"/>
<rect x="182.47" y="267" width="14.98" height="1.02" fill="#b00000"/>
<rect x="182.47" y="268" width="14.98" height="1.02" fill="#530000"/>
<rect x="182.47" y="269" width="14.98" height="1.02" fill="#550000"/>
<rect x="182.47" y="270" width="14.98" height="1.02" fill="#0f0800"/>
<rect x="182.47" y="271" width="14.98" height="1.02" fill="#ae0000"/>
<rect x="182.47" y="272" width="14.98" height="1.02" fill="#ee0000"/>
<rect x="182.47" y="273" width="14.98" height="1.02" fill="#b30000"/>
<rect x="182.47" y="274" width="14.98" height="1.02" fill="#920000"/>
<rect x="182.47" y="275" width="14.98" height="1.02" fill="#a10000"/>
<rect x="182.47" y="276" width="14.98" height="1.02" fill="#a50000"/>
<rect x="182.47" y="277" width="14.98" height="1.02" fill="#870000"/>
<rect x="182.47" y="278" width="14.98" height="1.02" fill="#ff0000"/>
<rect x="182.47" y="279" width="14.98" height="1.02" fill="#870000"/>
<rect x="182.47" y="280" width="14.98" height="1.02" fill="#9e0000"/>
<rect x="182.47" y="281" width="14.98" height="1.02" fill="#9f0000"/>
<rect x="182.47" y="282" width="14.98" height="1.02" fill="#a10000"/>
<rect x="182.47" y="283" width="14.98" height="1.02" fill="#7b0000"/>
<rect x="182.47" y="284" width="14.98" height="1.02" fill="#e40000"/>
<rect x="182.47" y="285" width="14.98" height="1.02" fill="#800000"/>
<rect x="182.47" y="286" width="14.98" height="1.02" fill="#470000"/>
<rect x="182.47" y="287" width="14.98" height="1.02" fill="#a10000"/>
<rect x="182.47" y="288" width="14.98" height="1.02" fill="#4f0000"/>
<rect x="182.47" y="289" width="14.98" height="1.02" fill="#3c0000"/>
<rect x="182.47" y="290" width="14.98" height="1.02" fill="#450000"/>
<rect x="182.47" y="291" width="14.98" height="1.02" fill="#460000"/>
<rect x="182.47" y="292" width="14.98" height="1.02" fill="#e70000"/>
<rect x="182.47" y="293" width="14.98" height="1.02" fill="#f10000"/>
<rect x="182.47" y="294" width="14.98" height="1.02" fill="#e50000"/>
<rect x="182.47" y="295" width="14.98" height="1.02" fill="#ed0000"/>
<rect x="182.47" y="296" width="14.98" height="1.02" fill="#a80000"/>
<rect x="182.47" y="297" width="14.98" height="1.02" fill="#880000"/>
<rect x="182.47" y="298" width="14.98" height="1.02" fill="#eb0000"/>
<rect x="182.47" y="299" width="14.98" height="1.02" fill="#810000"/>
<rect x="182.47" y="300" width="14.98" height="1.02" fill="#4a0000"/>
<rect x="182.47" y="301" width="14.98" height="1.02" fill="#3e0000"/>
<rect x="182.47" y="302" width="14.98" height="1.02" fill="#3c0000"/>
<rect x="182.47" y="303" width="14.98" height="1.02" fill="#440000"/>
<rect x="182.47" y="304" width="14.98" height="1.02" fill="#4a0000"/>
<rect x="182.47" y="305" width="14.98" height="1.02" fill="#3b0000"/>
<rect x="182.47" y="306" width="14.98" height="1.02" fill="#ab0000"/>
<rect x="182.47" y="307" width="14.98" height="1.02" fill="#150b00"/>
<rect x="182.47" y="308" width="14.98" height="1.02" fill="#4e0000"/>
<rect x="182.47" y="309" width="14.98" height="1.02" fill="#140b00"/>
<rect x="182.47" y="310" width="14.98" height="1.02" fill="#110900"/>
<rect x="182.47" y="311" width="14.98" height="1.02" fill="#0f0800"/>
<rect x="182.47" y="312" width="14.98" height="1.02" fill="#140b00"/>
<rect x="182.47" y="313" width="14.98" height="1.02" fill="#110900"/>
<rect x="182.47" y="314" width="14.98" height="1.02" fill="#100800"/>
<rect x="182.47" y="315" width="14.98" height="1.02" fill="#0f0800"/>
<rect x="182.47" y="316" width="14.98" height="1.02" fill="#110900"/>
<rect x="197.40" y="90" width="14.98" height="1.02" fill="#110900"/>
<rect x="197.40" y="91" width="14.98" height="1.02" fill="#002d00"/>
<rect x="197.40" y="92" width="14.98" height="1.02" fill="#003e00"/>
<rect x="197.40" y="93" width="14.98" height="1.02" fill="#002c00"/>
<rect x="197.40" y="94" width="14.98" height="1.02" fill="#002e00"/>
<rect x="197.40" y="95" width="14.98" height="1.02" fill="#003b00"/>
<rect x="197.40" y="96" width="14.98" height="1.02" fill="#002e00"/>
<rect x="197.40" y="97" width="14.98" height="1.02" fill="#0f0800"/>
<rect x="197.40" y="98" width="14.98" height="1.02" fill="#110900"/>
<rect x="197.40" y="99" width="14.98" height="1.02" fill="#002d00"/>
<rect x="197.40" y="100" width="14.98" height="1.02" fill="#110900"/>
<rect x="197.40" y="101" width="14.98" height="1.02" fill="#008f00"/>
<rect x="197.40" y="102" width="14.98" height="1.02" fill="#00e700"/>
<rect x="197.40" y="103" width="14.98" height="1.02" fill="#008f00"/>
<rect x="197.40" y="104" width="14.98" height="1.02" fill="#00ff00"/>
<rect x="197.40" y="105" width="14.98" height="1.02" fill="#00e200"/>
<rect x="197.40" y="106" width="14.98" height="1.02" fill="#00f200"/>
<rect x="197.40" y="107" width="14.98" height="1.02" fill="#00e500"/>
<rect x="197.40" y="108" width="14.98" height="1.02" fill="#00e600"/>
<rect x="197.40" y="109" width="14.98" height="1.02" fill="#00e800"/>
<rect x="197.40" y="110" width="14.98" height="1.02" fill="#00f000"/>
<rect x="197.40" y="111" width="14.98" height="1.02" fill="#00e100"/>
<rect x="197.40" y="112" width="14.98" height="1.02" fill="#00ea00"/>
<rect x="197.40" y="113" width="14.98" height="1.02" fill="#00f800"/>
<rect x="197.40" y="114" width="14.98" height="1.02" fill="#00e300"/>
<rect x="197.40" y="115" width="14.98" height="1.02" fill="#00f100"/>
<rect x="197.40" y="116" width="14.98" height="1.02" fill="#00df00"/>
<rect x="197.40" y="117" width="14.98" height="1.02" fill="#00f200"/>
<rect x="197.40" y="118" width="14.98" height="1.02" fill="#008a00"/>
<rect x="197.40" y="119" width="14.98" height="1.02" fill="#00f300"/>
<rect x="197.40" y="120" width="14.98" height="1.02" fill="#003600"/>
<rect x="197.40" y="121" width="14.98" height="1.02" fill="#003a00"/>
<rect x="197.40" y="122" width="14.98" height="1.02" fill="#003d00"/>
<rect x="197.40" y="123" width="14.98" height="1.02" fill="#003c00"/>
<rect x="197.40" y="124" width="14.98" height="1.02" fill="#003400"/>
<rect x="197.40" y="125" width="14.98" height="1.02" fill="#002f00"/>
<rect x="197.40" y="126" width="14.98" height="1.02" fill="#003900"/>
<rect x="197.40" y="127" width="14.98" height="1.02" fill="#0e0800"/>
<rect x="197.40" y="128" width="14.98" height="1.02" fill="#0e0800"/>
<rect x="197.40" y="129" width="14.98" height="1.02" fill="#0f0800"/>
<rect x="197.40" y="130" width="14.98" height="1.02" fill="#130a00"/>
<rect x="197.40" y="131" width="14.98" height="1.02" fill="#150b00"/>
<rect x="197.40" y="132" width="14.98" height="1.02" fill="#130a00"/>
<rect x="197.40" y="133" width="14.98" height="1.02" fill="#540000"/>
<rect x="197.40" y="134" width="14.98" height="1.02" fill="#110900"/>
<rect x="197.40" y="135" width="14.98" height="1.02" fill="#00a500"/>
<rect x="197.40" y="136" width="14.98" height="1.02" fill="#00a700"/>
<rect x="197.40" y="137" width="14.98" height="1.02" fill="#007c00"/>
<rect x="197.40" y="138" width="14.98" height="1.02" fill="#007b00"/>
<rect x="197.40" y="139" width="14.98" height="1.02" fill="#008900"/>
<rect x="197.40" y="140" width="14.98" height="1.02" fill="#004100"/>
<rect x="197.40" y="141" width="14.98" height="1.02" fill="#003400"/>
<rect x="197.40" y="142" width="14.98" height="1.02" fill="#003a00"/>
<rect x="197.40" y="143" width="14.98" height="1.02" fill="#110900"/>
<rect x="197.40" y="144" width="14.98" height="1.02" fill="#00fe00"/>
<rect x="197.40" y="145" width="14.98" height="1.02" fill="#009200"/>
<rect x="197.40" y="146" width="14.98" height="1.02" fill="#00f000"/>
<rect x="197.40" y="147" width="14.98" height="1.02" fill="#00fa00"/>
<rect x="197.40" y="148" width="14.98" height="1.02" fill="#00e700"/>
<rect x="197.40" y="149" width="14.98" height="1.02" fill="#00ff00"/>
<rect x="197.40" y="150" width="14.98" height="1.02" fill="#00e300"/>
<rect x="197.40" y="151" width="14.98" height="1.02" fill="#00f500"/>
<rect x="197.40" y="152" width="14.98" height="1.02" fill="#00e000"/>
<rect x="197.40" y="153" width="14.98" height="1.02" fill="#007900"/>
<rect x="197.40" y="154" width="14.98" height="1.02" fill="#008900"/>
<rect x="197.40" y="155" width="14.98" height="1.02" fill="#00a100"/>
<rect x="197.40" y="156" width="14.98" height="1.02" fill="#00a000"/>
<rect x="197.40" y="157" width="14.98" height="1.02" fill="#007f00"/>
<rect x="197.40" y="158" width="14.98" height="1.02" fill="#003400"/>
<rect x="197.40" y="159" width="14.98" height="1.02" fill="#140b00"/>
<rect x="197.40" y="160" width="14.98" height="1.02" fill="#007000"/>
<rect x="197.40" y="161" width="14.98" height="1.02" fill="#003200"/>
<rect x="197.40" y="162" width="14.98" height="1.02" fill="#00a000"/>
<rect x="197.40" y="163" width="14.98" height="1.02" fill="#008d00"/>
<rect x="197.40" y="164" width="14.98" height="1.02" fill="#009d00"/>
<rect x="197.40" y="165" width="14.98" height="1.02" fill="#008c00"/>
<rect x="197.40" y="166" width="14.98" height="1.02" fill="#00e800"/>
<rect x="197.40" y="167" width="14.98" height="1.02" fill="#009000"/>
<rect x="197.40" y="168" width="14.98" height="1.02" fill="#003f00"/>
<rect x="197.40" y="169" width="14.98" height="1.02" fill="#003000"/>
<rect x="197.40" y="170" width="14.98" height="1.02" fill="#00a200"/>
<rect x="197.40" y="171" width="14.98" height="1.02" fill="#002f00"/>
<rect x="197.40" y="172" width="14.98" height="1.02" fill="#00e800"/>
<rect x="197.40" y="173" width="14.98" height="1.02" fill="#00ec00"/>
<rect x="197.40" y="174" width="14.98" height="1.02" fill="#00f800"/>
<rect x="197.40" y="175" width="14.98" height="1.02" fill="#00fb00"/>
<rect x="197.40" y="176" width="14.98" height="1.02" fill="#00f000"/>
<rect x="197.40" y="177" width="14.98" height="1.02" fill="#003d00"/>
<rect x="197.40" y="178" width="14.98" height="1.02" fill="#110900"/>
<rect x="197.40" y="179" width="14.98" height="1.02" fill="#003b00"/>
<rect x="197.40" y="180" width="14.98" height="1.02" fill="#00e500"/>
<rect x="197.40" y="181" width="14.98" height="1.02" fill="#00fd00"/>
<rect x="197.40" y="182" width="14.98" height="1.02" fill="#00ef00"/>
<rect x="197.40" y="183" width="14.98" height="1.02" fill="#003000"/>
<rect x="197.40" y="184" width="14.98" height="1.02" fill="#004100"/>
<rect x="197.40" y="185" width="14.98" height="1.02" fill="#003100"/>
<rect x="197.40" y="186" width="14.98" height="1.02" fill="#003300"/>
<rect x="197.40" y="187" width="14.98" height="1.02" fill="#003c00"/>
<rect x="197.40" y="188" width="14.98" height="1.02" fill="#007c00"/>
<rect x="197.40" y="189" width="14.98" height="1.02" fill="#003100"/>
<rect x="197.40" y="190" width="14.98" height="1.02" fill="#800000"/>
<rect x="197.40" y="191" width="14.98" height="1.02" fill="#f40000"/>
<rect x="197.40" y="192" width="14.98" height="1.02" fill="#fb0000"/>
<rect x="197.40" y="193" width="14.98" height="1.02" fill="#fb0000"/>
<rect x="197.40" y="194" width="14.98" height="1.02" fill="#ff0000"/>
<rect x="197.40" y="195" width="14.98" height="1.02" fill="#eb0000"/>
<rect x="197.40" y="196" width="14.98" height="1.02" fill="#790000"/>
<rect x="197.40" y="197" width="14.98" height="1.02" fill="#810000"/>
<rect x="197.40" y="198" width="14.98" height="1.02" fill="#b10000"/>
<rect x="197.40" y="199" width="14.98" height="1.02" fill="#aa0000"/>
<rect x="197.40" y="200" width="14.98" height="1.02" fill="#9e0000"/>
<rect x="197.40" y="201" width="14.98" height="1.02" fill="#b10000"/>
<rect x="197.40" y="202" width="14.98" height="1.02" fill="#a50000"/>
<rect x="197.40" y="203" width="14.98" height="1.02" fill="#870000"/>
<rect x="197.40" y="204" width="14.98" height="1.02" fill="#9c0000"/>
<rect x="197.40" y="205" width="14.98" height="1.02" fill="#ac0000"/>
<rect x="197.40" y="206" width="14.98" height="1.02" fill="#830000"/>
<rect x="197.40" y="207" width="14.98" height="1.02" fill="#980000"/>
<rect x="197.40" y="208" width="14.98" height="1.02" fill="#410000"/>
<rect x="197.40" y="209" width="14.98" height="1.02" fill="#0e0800"/>
<rect x="197.40" y="210" width="14.98" height="1.02" fill="#a10000"/>
<rect x="197.40" y="211" width="14.98" height="1.02" fill="#ed0000"/>
<rect x="197.40" y="212" width="14.98" height="1.02" fill="#003b00"/>
<rect x="197.40" y="213" width="14.98" height="1.02" fill="#002c00"/>
<rect x="197.40" y="214" width="14.98" height="1.02" fill="#00a400"/>
<rect x="197.40" y="215" width="14.98" height="1.02" fill="#002f00"/>
<rect x="197.40" y="216" width="14.98" height="1.02" fill="#480000"/>
<rect x="197.40" y="217" width="14.98" height="1.02" fill="#450000"/>
<rect x="197.40" y="218" width="14.98" height="1.02" fill="#410000"/>
<rect x="197.40" y="219" width="14.98" height="1.02" fill="#7d0000"/>
<rect x="197.40" y="220" width="14.98" height="1.02" fill="#3c0000"/>
<rect x="197.40" y="221" width="14.98" height="1.02" fill="#009700"/>
<rect x="197.40" y="222" width="14.98" height="1.02" fill="#009c00"/>
<rect x="197.40" y="223" width="14.98" height="1.02" fill="#008300"/>
<rect x="197.40" y="224" width="14.98" height="1.02" fill="#007a00"/>
<rect x="197.40" y="225" width="14.98" height="1.02" fill="#008f00"/>
<rect x="197.40" y="226" width="14.98" height="1.02" fill="#0f0800"/>
<rect x="197.40" y="227" width="14.98" height="1.02" fill="#003400"/>
<rect x="197.40" y="228" width="14.98" height="1.02" fill="#003100"/>
<rect x="197.40" y="229" width="14.98" height="1.02" fill="#500000"/>
<rect x="197.40" y="230" width="14.98" height="1.02" fill="#120a00"/>
<rect x="197.40" y="231" width="14.98" height="1.02" fill="#4d0000"/>
<rect x="197.40" y="232" width="14.98" height="1.02" fill="#500000"/>
<rect x="197.40" y="233" width="14.98" height="1.02" fill="#007500"/>
<rect x="197.40" y="234" width="14.98" height="1.02" fill="#008f00"/>
<rect x="197.40" y="235" width="14.98" height="1.02" fill="#00e600"/>
<rect x="197.40" y="236" width="14.98" height="1.02" fill="#007600"/>
<rect x="197.40" y="237" width="14.98" height="1.02" fill="#003100"/>
<rect x="197.40" y="238" width="14.98" height="1.02" fill="#003500"/>
<rect x="197.40" y="239" width="14.98" height="1.02" fill="#003b00"/>
<rect x="197.40" y="240" width="14.98" height="1.02" fill="#130a00"/>
<rect x="197.40" y="241" width="14.98" height="1.02" fill="#003200"/>
<rect x="197.40" y="242" width="14.98" height="1.02" fill="#4d0000"/>
<rect x="197.40" y="243" width="14.98" height="1.02" fill="#530000"/>
<rect x="197.40" y="244" width="14.98" height="1.02" fill="#420000"/>
<rect x="197.40" y="245" width="14.98" height="1.02" fill="#410000"/>
<rect x="197.40" y="246" width="14.98" height="1.02" fill="#400000"/>
<rect x="197.40" y="247" width="14.98" height="1.02" fill="#510000"/>
<rect x="197.40" y="248" width="14.98" height="1.02" fill="#550000"/>
<rect x="197.40" y="249" width="14.98" height="1.02" fill="#420000"/>
<rect x="197.40" y="250" width="14.98" height="1.02" fill="#4e0000"/>
<rect x="197.40" y="251" width="14.98" height="1.02" fill="#9c0000"/>
<rect x="197.40" y="252" width="14.98" height="1.02" fill="#3b0000"/>
<rect x="197.40" y="253" width="14.98" height="1.02" fill="#810000"/>
<rect x="197.40" y="254" width="14.98" height="1.02" fill="#ac0000"/>
<rect x="197.40" y="255" width="14.98" height="1.02" fill="#830000"/>
<rect x="197.40" y="256" width="14.98" height="1.02" fill="#480000"/>
<rect x="197.40" y="257" width="14.98" height="1.02" fill="#8d0000"/>
<rect x="197.40" y="258" width="14.98" height="1.02" fill="#970000"/>
<rect x="197.40" y="259" width="14.98" height="1.02" fill="#7e0000"/>
<rect x="197.40" y="260" width="14.98" height="1.02" fill="#440000"/>
<rect x="197.40" y="261" width="14.98" height="1.02" fill="#870000"/>
<rect x="197.40" y="262" width="14.98" height="1.02" fill="#850000"/>
<rect x="197.40" y="263" width="14.98" height="1.02" fill="#940000"/>
<rect x="197.40" y="264" width="14.98" height="1.02" fill="#a60000"/>
<rect x="197.40" y="265" width="14.98" height="1.02" fill="#460000"/>
<rect x="197.40" y="266" width="14.98" height="1.02" fill="#540000"/>
<rect x="197.40" y="267" width="14.98" height="1.02" fill="#3c0000"/>
<rect x="197.40" y="268" width="14.98" height="1.02" fill="#4b0000"/>
<rect x="197.40" y="269" width="14.98" height="1.02" fill="#3a0000"/>
<rect x="197.40" y="270" width="14.98" height="1.02" fill="#530000"/>
<rect x="197.40" y="271" width="14.98" height="1.02" fill="#003600"/>
<rect x="197.40" y="272" width="14.98" height="1.02" fill="#100900"/>
<rect x="197.40" y="273" width="14.98" height="1.02" fill="#4f0000"/>
<rect x="197.40" y="274" width="14.98" height="1.02" fill="#110900"/>
<rect x="197.40" y="275" width="14.98" height="1.02" fill="#003400"/>
<rect x="197.40" y="276" width="14.98" height="1.02" fill="#004100"/>
<rect x="197.40" y="277" width="14.98" height="1.02" fill="#410000"/>
<rect x="197.40" y="278" width="14.98" height="1.02" fill="#e90000"/>
<rect x="197.40" y="279" width="14.98" height="1.02" fill="#e60000"/>
<rect x="197.40" y="280" width="14.98" height="1.02" fill="#f90000"/>
<rect x="197.40" y="281" width="14.98" height="1.02" fill="#ea0000"/>
<rect x="197.40" y="282" width="14.98" height="1.02" fill="#ff0000"/>
<rect x="197.40" y="283" width="14.98" height="1.02" fill="#f10000"/>
<rect x="197.40" y="284" width="14.98" height="1.02" fill="#ed0000"/>
<rect x="197.40" y="285" width="14.98" height="1.02" fill="#e80000"/>
<rect x="197.40" y="286" width="14.98" height="1.02" fill="#ff0000"/>
<rect x="197.40" y="287" width="14.98" height="1.02" fill="#ff0000"/>
<rect x="197.40" y="288" width="14.98" height="1.02" fill="#b10000"/>
<rect x="197.40" y="289" width="14.98" height="1.02" fill="#890000"/>
<rect x="197.40" y="290" width="14.98" height="1.02" fill="#a20000"/>
<rect x="197.40" y="291" width="14.98" height="1.02" fill="#7f0000"/>
<rect x="197.40" y="292" width="14.98" height="1.02" fill="#b10000"/>
<rect x="197.40" y="293" width="14.98" height="1.02" fill="#510000"/>
<rect x="197.40" y="294" width="14.98" height="1.02" fill="#860000"/>
<rect x="197.40" y="295" width="14.98" height="1.02" fill="#940000"/>
<rect x="197.40" y="296" width="14.98" height="1.02" fill="#800000"/>
<rect x="197.40" y="297" width="14.98" height="1.02" fill="#8b0000"/>
<rect x="197.40" y="298" width="14.98" height="1.02" fill="#a40000"/>
<rect x="197.40" y="299" width="14.98" height="1.02" fill="#830000"/>
<rect x="197.40" y="300" width="14.98" height="1.02" fill="#ff0000"/>
<rect x="197.40" y="301" width="14.98" height="1.02" fill="#fa0000"/>
<rect x="197.40" y="302" width="14.98" height="1.02" fill="#a50000"/>
<rect x="197.40" y="303" width="14.98" height="1.02" fill="#ff0000"/>
<rect x="197.40" y="304" width="14.98" height="1.02" fill="#f10000"/>
<rect x="197.40" y="305" width="14.98" height="1.02" fill="#510000"/>
<rect x="197.40" y="306" width="14.98" height="1.02" fill="#440000"/>
<rect x="197.40" y="307" width="14.98" height="1.02" fill="#430000"/>
<rect x="197.40" y="308" width="14.98" height="1.02" fill="#3c0000"/>
<rect x="197.40" y="309" width="14.98" height="1.02" fill="#530000"/>
<rect x="197.40" y="310" width="14.98" height="1.02" fill="#fd0000"/>
<rect x="197.40" y="311" width="14.98" height="1.02" fill="#ff0000"/>
<rect x="197.40" y="312" width="14.98" height="1.02" fill="#ff0000"/>
<rect x="197.40" y="313" width="14.98" height="1.02" fill="#ff0000"/>
<rect x="197.40" y="314" width="14.98" height="1.02" fill="#ff0000"/>
<rect x="197.40" y="315" width="14.98" height="1.02" fill="#ee0000"/>
<rect x="197.40" y="316" width="14.98" height="1.02" fill="#f30000"/>
<rect x="212.33" y="90" width="14.98" height="1.02" fill="#002e00"/>
<rect x="212.33" y="91" width="14.98" height="1.02" fill="#003300"/>
<rect x="212.33" y="92" width="14.98" height="1.02" fill="#003300"/>
<rect x="212.33" y="93" width="14.98" height="1.02" fill="#003e00"/>
<rect x="212.33" y="94" width="14.98" height="1.02" fill="#002f00"/>
<rect x="212.33" y="95" width="14.98" height="1.02" fill="#003c00"/>
<rect x="212.33" y="96" width="14.98" height="1.02" fill="#003a00"/>
<rect x="212.33" y="97" width="14.98" height="1.02" fill="#140b00"/>
<rect x="212.33" y="98" width="14.98" height="1.02" fill="#003600"/>
<rect x="212.33" y="99" width="14.98" height="1.02" fill="#003d00"/>
<rect x="212.33" y="100" width="14.98" height="1.02" fill="#003f00"/>
<rect x="212.33" y="101" width="14.98" height="1.02" fill="#430000"/>
<rect x="212.33" y="102" width="14.98" height="1.02" fill="#3c0000"/>
<rect x="212.33" y="103" width="14.98" height="1.02" fill="#3a0000"/>
<rect x="212.33" y="104" width="14.98" height="1.02" fill="#400000"/>
<rect x="212.33" y="105" width="14.98" height="1.02" fill="#0e0800"/>
<rect x="212.33" y="106" width="14.98" height="1.02" fill="#3f0000"/>
<rect x="212.33" y="107" width="14.98" height="1.02" fill="#450000"/>
<rect x="212.33" y="108" width="14.98" height="1.02" fill="#550000"/>
<rect x="212.33" y="109" width="14.98" height="1.02" fill="#009300"/>
<rect x="212.33" y="110" width="14.98" height="1.02" fill="#008a00"/>
<rect x="212.33" y="111" width="14.98" height="1.02" fill="#009900"/>
<rect x="212.33" y="112" width="14.98" height="1.02" fill="#00a000"/>
<rect x="212.33" y="113" width="14.98" height="1.02" fill="#007500"/>
<rect x="212.33" y="114" width="14.98" height="1.02" fill="#003e00"/>
<rect x="212.33" y="115" width="14.98" height="1.02" fill="#003600"/>
<rect x="212.33" y="116" width="14.98" height="1.02" fill="#003f00"/>
<rect x="212.33" y="117" width="14.98" height="1.02" fill="#003000"/>
<rect x="212.33" y="118" width="14.98" height="1.02" fill="#003300"/>
<rect x="212.33" y="119" width="14.98" height="1.02" fill="#003b00"/>
<rect x="212.33" y="120" width="14.98" height="1.02" fill="#00a300"/>
<rect x="212.33" y="121" width="14.98" height="1.02" fill="#120a00"/>
<rect x="212.33" y="122" width="14.98" height="1.02" fill="#003b00"/>
<rect x="212.33" y="123" width="14.98" height="1.02" fill="#0f0800"/>
<rect x="212.33" y="124" width="14.98" height="1.02" fill="#140b00"/>
<rect x="212.33" y="125" width="14.98" height="1.02" fill="#100900"/>
<rect x="212.33" y="126" width="14.98" height="1.02" fill="#4f0000"/>
<rect x="212.33" y="127" width="14.98" height="1.02" fill="#3f0000"/>
<rect x="212.33" y="128" width="14.98" height="1.02" fill="#560000"/>
<rect x="212.33" y="129" width="14.98" height="1.02" fill="#440000"/>
<rect x="212.33" y="130" width="14.98" height="1.02" fill="#540000"/>
<rect x="212.33" y="131" width="14.98" height="1.02" fill="#100900"/>
<rect x="212.33" y="132" width="14.98" height="1.02" fill="#130a00"/>
<rect x="212.33" y="133" width="14.98" height="1.02" fill="#120a00"/>
<rect x="212.33" y="134" width="14.98" height="1.02" fill="#130a00"/>
<rect x="212.33" y="135" width="14.98" height="1.02" fill="#150b00"/>
<rect x="212.33" y="136" width="14.98" height="1.02" fill="#003800"/>
<rect x="212.33" y="137" width="14.98" height="1.02" fill="#003000"/>
<rect x="212.33" y="138" width="14.98" height="1.02" fill="#003800"/>
<rect x="212.33" y="139" width="14.98" height="1.02" fill="#003f00"/>
<rect x="212.33" y="140" width="14.98" height="1.02" fill="#540000"/>
<rect x="212.33" y="141" width="14.98" height="1.02" fill="#3a0000"/>
<rect x="212.33" y="142" width="14.98" height="1.02" fill="#530000"/>
<rect x="212.33" y="143" width="14.98" height="1.02" fill="#550000"/>
<rect x="212.33" y="144" width="14.98" height="1.02" fill="#540000"/>
<rect x="212.33" y="145" width="14.98" height="1.02" fill="#3d0000"/>
<rect x="212.33" y="146" width="14.98" height="1.02" fill="#500000"/>
<rect x="212.33" y="147" width="14.98" height="1.02" fill="#4a0000"/>
<rect x="212.33" y="148" width="14.98" height="1.02" fill="#410000"/>
<rect x="212.33" y="149" width="14.98" height="1.02" fill="#480000"/>
<rect x="212.33" y="150" width="14.98" height="1.02" fill="#3c0000"/>
<rect x="212.33" y="151" width="14.98" height="1.02" fill="#8c0000"/>
<rect x="212.33" y="152" width="14.98" height="1.02" fill="#4f0000"/>
<rect x="212.33" y="153" width="14.98" height="1.02" fill="#400000"/>
<rect x="212.33" y="154" width="14.98" height="1.02" fill="#3e0000"/>
<rect x="212.33" y="155" width="14.98" height="1.02" fill="#530000"/>
<rect x="212.33" y="156" width="14.98" height="1.02" fill="#4a0000"/>
<rect x="212.33" y="157" width="14.98" height="1.02" fill="#4f0000"/>
<rect x="212.33" y="158" width="14.98" height="1.02" fill="#130a00"/>
<rect x="212.33" y="159" width="14.98" height="1.02" fill="#140b00"/>
<rect x="212.33" y="160" width="14.98" height="1.02" fill="#0e0800"/>
<rect x="212.33" y="161" width="14.98" height="1.02" fill="#110900"/>
<rect x="212.33" y="162" width="14.98" height="1.02" fill="#002d00"/>
<rect x="212.33" y="163" width="14.98" height="1.02" fill="#003a00"/>
<rect x="212.33" y="164" width="14.98" height="1.02" fill="#003600"/>
<rect x="212.33" y="165" width="14.98" height="1.02" fill="#004100"/>
<rect x="212.33" y="166" width="14.98" height="1.02" fill="#003c00"/>
<rect x="212.33" y="167" width="14.98" height="1.02" fill="#003000"/>
<rect x="212.33" y="168" width="14.98" height="1.02" fill="#003500"/>
<rect x="212.33" y="169" width="14.98" height="1.02" fill="#003200"/>
<rect x="212.33" y="170" width="14.98" height="1.02" fill="#003000"/>
<rect x="212.33" y="171" width="14.98" height="1.02" fill="#007a00"/>
<rect x="212.33" y="172" width="14.98" height="1.02" fill="#003700"/>
<rect x="212.33" y="173" width="14.98" height="1.02" fill="#008a00"/>
<rect x="212.33" y="174" width="14.98" height="1.02" fill="#00a600"/>
<rect x="212.33" y="175" width="14.98" height="1.02" fill="#00a400"/>
<rect x="212.33" y="176" width="14.98" height="1.02" fill="#007b00"/>
<rect x="212.33" y="177" width="14.98" height="1.02" fill="#002f00"/>
<rect x="212.33" y="178" width="14.98" height="1.02" fill="#002d00"/>
<rect x="212.33" y="179" width="14.98" height="1.02" fill="#004100"/>
<rect x="212.33" y="180" width="14.98" height="1.02" fill="#430000"/>
<rect x="212.33" y="181" width="14.98" height="1.02" fill="#430000"/>
<rect x="212.33" y="182" width="14.98" height="1.02" fill="#440000"/>
<rect x="212.33" y="183" width="14.98" height="1.02" fill="#520000"/>
<rect x="212.33" y="184" width="14.98" height="1.02" fill="#390000"/>
<rect x="212.33" y="185" width="14.98" height="1.02" fill="#4e0000"/>
<rect x="212.33" y="186" width="14.98" height="1.02" fill="#9d0000"/>
<rect x="212.33" y="187" width="14.98" height="1.02" fill="#900000"/>
<rect x="212.33" y="188" width="14.98" height="1.02" fill="#890000"/>
<rect x="212.33" y="189" width="14.98" height="1.02" fill="#9f0000"/>
<rect x="212.33" y="190" width="14.98" height="1.02" fill="#b00000"/>
<rect x="212.33" y="191" width="14.98" height="1.02" fill="#440000"/>
<rect x="212.33" y="192" width="14.98" height="1.02" fill="#500000"/>
<rect x="212.33" y="193" width="14.98" height="1.02" fill="#4d0000"/>
<rect x="212.33" y="194" width="14.98" height="1.02" fill="#540000"/>
<rect x="212.33" y="195" width="14.98" height="1.02" fill="#450000"/>
<rect x="212.33" y="196" width="14.98" height="1.02" fill="#3c0000"/>
<rect x="212.33" y="197" width="14.98" height="1.02" fill="#500000"/>
<rect x="212.33" y="198" width="14.98" height="1.02" fill="#8b0000"/>
<rect x="212.33" y="199" width="14.98" height="1.02" fill="#470000"/>
<rect x="212.33" y="200" width="14.98" height="1.02" fill="#530000"/>
<rect x="212.33" y="201" width="14.98" height="1.02" fill="#480000"/>
<rect x="212.33" y="202" width="14.98" height="1.02" fill="#4c0000"/>
<rect x="212.33" y="203" width="14.98" height="1.02" fill="#430000"/>
<rect x="212.33" y="204" width="14.98" height="1.02" fill="#009200"/>
<rect x="212.33" y="205" width="14.98" height="1.02" fill="#007e00"/>
<rect x="212.33" y="206" width="14.98" height="1.02" fill="#008500"/>
<rect x="212.33" y="207" width="14.98" height="1.02" fill="#00a300"/>
<rect x="212.33" y="208" width="14.98" height="1.02" fill="#003200"/>
<rect x="212.33" y="209" width="14.98" height="1.02" fill="#003e00"/>
<rect x="212.33" y="210" width="14.98" height="1.02" fill="#003b00"/>
<rect x="212.33" y="211" width="14.98" height="1.02" fill="#0f0800"/>
<rect x="212.33" y="212" width="14.98" height="1.02" fill="#140b00"/>
<rect x="212.33" y="213" width="14.98" height="1.02" fill="#003100"/>
<rect x="212.33" y="214" width="14.98" height="1.02" fill="#100900"/>
<rect x="212.33" y="215" width="14.98" height="1.02" fill="#003b00"/>
<rect x="212.33" y="216" width="14.98" height="1.02" fill="#004000"/>
<rect x="212.33" y="217" width="14.98" height="1.02" fill="#004000"/>
<rect x="212.33" y="218" width="14.98" height="1.02" fill="#00a300"/>
<rect x="212.33" y="219" width="14.98" height="1.02" fill="#003000"/>
<rect x="212.33" y="220" width="14.98" height="1.02" fill="#003e00"/>
<rect x="212.33" y="221" width="14.98" height="1.02" fill="#002e00"/>
<rect x="212.33" y="222" width="14.98" height="1.02" fill="#4f0000"/>
<rect x="212.33" y="223" width="14.98" height="1.02" fill="#550000"/>
<rect x="212.33" y="224" width="14.98" height="1.02" fill="#7b0000"/>
<rect x="212.33" y="225" width="14.98" height="1.02" fill="#0e0800"/>
<rect x="212.33" y="226" width="14.98" height="1.02" fill="#4b0000"/>
<rect x="212.33" y="227" width="14.98" height="1.02" fill="#0f0800"/>
<rect x="212.33" y="228" width="14.98" height="1.02" fill="#4b0000"/>
<rect x="212.33" y="229" width="14.98" height="1.02" fill="#550000"/>
<rect x="212.33" y="230" width="14.98" height="1.02" fill="#550000"/>
<rect x="212.33" y="231" width="14.98" height="1.02" fill="#440000"/>
<rect x="212.33" y="232" width="14.98" height="1.02" fill="#400000"/>
<rect x="212.33" y="233" width="14.98" height="1.02" fill="#b30000"/>
<rect x="212.33" y="234" width="14.98" height="1.02" fill="#820000"/>
<rect x="212.33" y="235" width="14.98" height="1.02" fill="#810000"/>
<rect x="212.33" y="236" width="14.98" height="1.02" fill="#a40000"/>
<rect x="212.33" y="237" width="14.98" height="1.02" fill="#f90000"/>
<rect x="212.33" y="238" width="14.98" height="1.02" fill="#7a0000"/>
<rect x="212.33" y="239" width="14.98" height="1.02" fill="#a70000"/>
<rect x="212.33" y="240" width="14.98" height="1.02" fill="#460000"/>
<rect x="212.33" y="241" width="14.98" height="1.02" fill="#4a0000"/>
<rect x="212.33" y="242" width="14.98" height="1.02" fill="#450000"/>
<rect x="212.33" y="243" width="14.98" height="1.02" fill="#520000"/>
<rect x="212.33" y="244" width="14.98" height="1.02" fill="#490000"/>
<rect x="212.33" y="245" width="14.98" height="1.02" fill="#3e0000"/>
<rect x="212.33" y="246" width="14.98" height="1.02" fill="#4d0000"/>
<rect x="212.33" y="247" width="14.98" height="1.02" fill="#a80000"/>
<rect x="212.33" y="248" width="14.98" height="1.02" fill="#480000"/>
<rect x="212.33" y="249" width="14.98" height="1.02" fill="#a70000"/>
<rect x="212.33" y="250" width="14.98" height="1.02" fill="#4c0000"/>
<rect x="212.33" y="251" width="14.98" height="1.02" fill="#4e0000"/>
<rect x="212.33" y="252" width="14.98" height="1.02" fill="#550000"/>
<rect x="212.33" y="253" width="14.98" height="1.02" fill="#004000"/>
<rect x="212.33" y="254" width="14.98" height="1.02" fill="#003200"/>
<rect x="212.33" y="255" width="14.98" height="1.02" fill="#003100"/>
<rect x="212.33" y="256" width="14.98" height="1.02" fill="#003d00"/>
<rect x="212.33" y="257" width="14.98" height="1.02" fill="#510000"/>
<rect x="212.33" y="258" width="14.98" height="1.02" fill="#4d0000"/>
<rect x="212.33" y="259" width="14.98" height="1.02" fill="#4f0000"/>
<rect x="212.33" y="260" width="14.98" height="1.02" fill="#4b0000"/>
<rect x="212.33" y="261" width="14.98" height="1.02" fill="#520000"/>
<rect x="212.33" y="262" width="14.98" height="1.02" fill="#410000"/>
<rect x="212.33" y="263" width="14.98" height="1.02" fill="#7c0000"/>
<rect x="212.33" y="264" width="14.98" height="1.02" fill="#4f0000"/>
<rect x="212.33" y="265" width="14.98" height="1.02" fill="#4f0000"/>
<rect x="212.33" y="266" width="14.98" height="1.02" fill="#530000"/>
<rect x="212.33" y="267" width="14.98" height="1.02" fill="#450000"/>
<rect x="212.33" y="268" width="14.98" height="1.02" fill="#3c0000"/>
<rect x="212.33" y="269" width="14.98" height="1.02" fill="#3c0000"/>
<rect x="212.33" y="270" width="14.98" height="1.02" fill="#3c0000"/>
<rect x="212.33" y="271" width="14.98" height="1.02" fill="#460000"/>
<rect x="212.33" y="272" width="14.98" height="1.02" fill="#003100"/>
<rect x="212.33" y="273" width="14.98" height="1.02" fill="#003a00"/>
<rect x="212.33" y="274" width="14.98" height="1.02" fill="#008b00"/>
<rect x="212.33" y="275" width="14.98" height="1.02" fill="#003000"/>
<rect x="212.33" y="276" width="14.98" height="1.02" fill="#003200"/>
<rect x="212.33" y="277" width="14.98" height="1.02" fill="#004000"/>
<rect x="212.33" y="278" width="14.98" height="1.02" fill="#004100"/>
<rect x="212.33" y="279" width="14.98" height="1.02" fill="#003800"/>
<rect x="212.33" y="280" width="14.98" height="1.02" fill="#009a00"/>
<rect x="212.33" y="281" width="14.98" height="1.02" fill="#00a000"/>
<rect x="212.33" y="282" width="14.98" height="1.02" fill="#00a500"/>
<rect x="212.33" y="283" width="14.98" height="1.02" fill="#007600"/>
<rect x="212.33" y="284" width="14.98" height="1.02" fill="#3d0000"/>
<rect x="212.33" y="285" width="14.98" height="1.02" fill="#3b0000"/>
<rect x="212.33" y="286" width="14.98" height="1.02" fill="#490000"/>
<rect x="212.33" y="287" width="14.98" height="1.02" fill="#3d0000"/>
<rect x="212.33" y="288" width="14.98" height="1.02" fill="#440000"/>
<rect x="212.33" y="289" width="14.98" height="1.02" fill="#a80000"/>
<rect x="212.33" y="290" width="14.98" height="1.02" fill="#f70000"/>
<rect x="212.33" y="291" width="14.98" height="1.02" fill="#520000"/>
<rect x="212.33" y="292" width="14.98" height="1.02" fill="#002c00"/>
<rect x="212.33" y="293" width="14.98" height="1.02" fill="#003600"/>
<rect x="212.33" y="294" width="14.98" height="1.02" fill="#003c00"/>
<rect x="212.33" y="295" width="14.98" height="1.02" fill="#00a400"/>
<rect x="212.33" y="296" width="14.98" height="1.02" fill="#007700"/>
<rect x="212.33" y="297" width="14.98" height="1.02" fill="#007600"/>
<rect x="212.33" y="298" width="14.98" height="1.02" fill="#008c00"/>
<rect x="212.33" y="299" width="14.98" height="1.02" fill="#3e0000"/>
<rect x="212.33" y="300" width="14.98" height="1.02" fill="#470000"/>
<rect x="212.33" y="301" width="14.98" height="1.02" fill="#400000"/>
<rect x="212.33" y="302" width="14.98" height="1.02" fill="#3f0000"/>
<rect x="212.33" y="303" width="14.98" height="1.02" fill="#4b0000"/>
<rect x="212.33" y="304" width="14.98" height="1.02" fill="#003c00"/>
<rect x="212.33" y="305" width="14.98" height="1.02" fill="#003700"/>
<rect x="212.33" y="306" width="14.98" height="1.02" fill="#003500"/>
<rect x="212.33" y="307" width="14.98" height="1.02" fill="#00a300"/>
<rect x="212.33" y="308" width="14.98" height="1.02" fill="#003b00"/>
<rect x="212.33" y="309" width="14.98" height="1.02" fill="#003100"/>
<rect x="212.33" y="310" width="14.98" height="1.02" fill="#003e00"/>
<rect x="212.33" y="311" width="14.98" height="1.02" fill="#004000"/>
<rect x="212.33" y="312" width="14.98" height="1.02" fill="#130a00"/>
<rect x="212.33" y="313" width="14.98" height="1.02" fill="#110900"/>
<rect x="212.33" y="314" width="14.98" height="1.02" fill="#0f0800"/>
<rect x="212.33" y="315" width="14.98" height="1.02" fill="#110900"/>
<rect x="212.33" y="316" width="14.98" height="1.02" fill="#110900"/>
<rect x="227.27" y="90" width="14.98" height="1.02" fill="#003c00"/>
<rect x="227.27" y="91" width="14.98" height="1.02" fill="#002f00"/>
<rect x="227.27" y="92" width="14.98" height="1.02" fill="#008400"/>
<rect x="227.27" y="93" width="14.98" height="1.02" fill="#00a600"/>
<rect x="227.27" y="94" width="14.98" height="1.02" fill="#009000"/>
<rect x="227.27" y="95" width="14.98" height="1.02" fill="#008500"/>
<rect x="227.27" y="96" width="14.98" height="1.02" fill="#008100"/>
<rect x="227.27" y="97" width="14.98" height="1.02" fill="#003000"/>
<rect x="227.27" y="98" width="14.98" height="1.02" fill="#003200"/>
<rect x="227.27" y="99" width="14.98" height="1.02" fill="#120a00"/>
<rect x="227.27" y="100" width="14.98" height="1.02" fill="#130a00"/>
<rect x="227.27" y="101" width="14.98" height="1.02" fill="#00a500"/>
<rect x="227.27" y="102" width="14.98" height="1.02" fill="#008e00"/>
<rect x="227.27" y="103" width="14.98" height="1.02" fill="#009500"/>
<rect x="227.27" y="104" width="14.98" height="1.02" fill="#009100"/>
<rect x="227.27" y="105" width="14.98" height="1.02" fill="#00a600"/>
<rect x="227.27" y="106" width="14.98" height="1.02" fill="#00a600"/>
<rect x="227.27" y="107" width="14.98" height="1.02" fill="#002c00"/>
<rect x="227.27" y="108" width="14.98" height="1.02" fill="#007b00"/>
<rect x="227.27" y="109" width="14.98" height="1.02" fill="#00e300"/>
<rect x="227.27" y="110" width="14.98" height="1.02" fill="#00f800"/>
<rect x="227.27" y="111" width="14.98" height="1.02" fill="#00ff00"/>
<rect x="227.27" y="112" width="14.98" height="1.02" fill="#00f800"/>
<rect x="227.27" y="113" width="14.98" height="1.02" fill="#00de00"/>
<rect x="227.27" y="114" width="14.98" height="1.02" fill="#00ef00"/>
<rect x="227.27" y="115" width="14.98" height="1.02" fill="#00ea00"/>
<rect x="227.27" y="116" width="14.98" height="1.02" fill="#00de00"/>
<rect x="227.27" y="117" width="14.98" height="1.02" fill="#00ff00"/>
<rect x="227.27" y="118" width="14.98" height="1.02" fill="#00fe00"/>
<rect x="227.27" y="119" width="14.98" height="1.02" fill="#007b00"/>
<rect x="227.27" y="120" width="14.98" height="1.02" fill="#00fe00"/>
<rect x="227.27" y="121" width="14.98" height="1.02" fill="#00ff00"/>
<rect x="227.27" y="122" width="14.98" height="1.02" fill="#00ff00"/>
<rect x="227.27" y="123" width="14.98" height="1.02" fill="#003300"/>
<rect x="227.27" y="124" width="14.98" height="1.02" fill="#003400"/>
<rect x="227.27" y="125" width="14.98" height="1.02" fill="#002d00"/>
<rect x="227.27" y="126" width="14.98" height="1.02" fill="#004100"/>
<rect x="227.27" y="127" width="14.98" height="1.02" fill="#009900"/>
<rect x="227.27" y="128" width="14.98" height="1.02" fill="#002f00"/>
<rect x="227.27" y="129" width="14.98" height="1.02" fill="#003a00"/>
<rect x="227.27" y="130" width="14.98" height="1.02" fill="#004100"/>
<rect x="227.27" y="131" width="14.98" height="1.02" fill="#009200"/>
<rect x="227.27" y="132" width="14.98" height="1.02" fill="#007900"/>
<rect x="227.27" y="133" width="14.98" height="1.02" fill="#008e00"/>
<rect x="227.27" y="134" width="14.98" height="1.02" fill="#00a200"/>
<rect x="227.27" y="135" width="14.98" height="1.02" fill="#007700"/>
<rect x="227.27" y="136" width="14.98" height="1.02" fill="#0f0800"/>
<rect x="227.27" y="137" width="14.98" height="1.02" fill="#140b00"/>
<rect x="227.27" y="138" width="14.98" height="1.02" fill="#120a00"/>
<rect x="227.27" y="139" width="14.98" height="1.02" fill="#120a00"/>
<rect x="227.27" y="140" width="14.98" height="1.02" fill="#008e00"/>
<rect x="227.27" y="141" width="14.98" height="1.02" fill="#002d00"/>
<rect x="227.27" y="142" width="14.98" height="1.02" fill="#007d00"/>
<rect x="227.27" y="143" width="14.98" height="1.02" fill="#007d00"/>
<rect x="227.27" y="144" width="14.98" height="1.02" fill="#007d00"/>
<rect x="227.27" y="145" width="14.98" height="1.02" fill="#110900"/>
<rect x="227.27" y="146" width="14.98" height="1.02" fill="#430000"/>
<rect x="227.27" y="147" width="14.98" height="1.02" fill="#400000"/>
<rect x="227.27" y="148" width="14.98" height="1.02" fill="#510000"/>
<rect x="227.27" y="149" width="14.98" height="1.02" fill="#480000"/>
<rect x="227.27" y="150" width="14.98" height="1.02" fill="#4a0000"/>
<rect x="227.27" y="151" width="14.98" height="1.02" fill="#3b0000"/>
<rect x="227.27" y="152" width="14.98" height="1.02" fill="#100900"/>
<rect x="227.27" y="153" width="14.98" height="1.02" fill="#130a00"/>
<rect x="227.27" y="154" width="14.98" height="1.02" fill="#420000"/>
<rect x="227.27" y="155" width="14.98" height="1.02" fill="#540000"/>
<rect x="227.27" y="156" width="14.98" height="1.02" fill="#3e0000"/>
<rect x="227.27" y="157" width="14.98" height="1.02" fill="#420000"/>
<rect x="227.27" y="158" width="14.98" height="1.02" fill="#4d0000"/>
<rect x="227.27" y="159" width="14.98" height="1.02" fill="#3e0000"/>
<rect x="227.27" y="160" width="14.98" height="1.02" fill="#7f0000"/>
<rect x="227.27" y="161" width="14.98" height="1.02" fill="#4c0000"/>
<rect x="227.27" y="162" width="14.98" height="1.02" fill="#4b0000"/>
<rect x="227.27" y="163" width="14.98" height="1.02" fill="#960000"/>
<rect x="227.27" y="164" width="14.98" height="1.02" fill="#e80000"/>
<rect x="227.27" y="165" width="14.98" height="1.02" fill="#ff0000"/>
<rect x="227.27" y="166" width="14.98" height="1.02" fill="#ea0000"/>
<rect x="227.27" y="167" width="14.98" height="1.02" fill="#f50000"/>
<rect x="227.27" y="168" width="14.98" height="1.02" fill="#e70000"/>
<rect x="227.27" y="169" width="14.98" height="1.02" fill="#780000"/>
<rect x="227.27" y="170" width="14.98" height="1.02" fill="#8f0000"/>
<rect x="227.27" y="171" width="14.98" height="1.02" fill="#7d0000"/>
<rect x="227.27" y="172" width="14.98" height="1.02" fill="#b30000"/>
<rect x="227.27" y="173" width="14.98" height="1.02" fill="#410000"/>
<rect x="227.27" y="174" width="14.98" height="1.02" fill="#400000"/>
<rect x="227.27" y="175" width="14.98" height="1.02" fill="#4d0000"/>
<rect x="227.27" y="176" width="14.98" height="1.02" fill="#3e0000"/>
<rect x="227.27" y="177" width="14.98" height="1.02" fill="#490000"/>
<rect x="227.27" y="178" width="14.98" height="1.02" fill="#af0000"/>
<rect x="227.27" y="179" width="14.98" height="1.02" fill="#480000"/>
<rect x="227.27" y="180" width="14.98" height="1.02" fill="#830000"/>
<rect x="227.27" y="181" width="14.98" height="1.02" fill="#950000"/>
<rect x="227.27" y="182" width="14.98" height="1.02" fill="#890000"/>
<rect x="227.27" y="183" width="14.98" height="1.02" fill="#510000"/>
<rect x="227.27" y="184" width="14.98" height="1.02" fill="#3d0000"/>
<rect x="227.27" y="185" width="14.98" height="1.02" fill="#3d0000"/>
<rect x="227.27" y="186" width="14.98" height="1.02" fill="#4d0000"/>
<rect x="227.27" y="187" width="14.98" height="1.02" fill="#550000"/>
<rect x="227.27" y="188" width="14.98" height="1.02" fill="#a20000"/>
<rect x="227.27" y="189" width="14.98" height="1.02" fill="#3c0000"/>
<rect x="227.27" y="190" width="14.98" height="1.02" fill="#3b0000"/>
<rect x="227.27" y="191" width="14.98" height="1.02" fill="#00fa00"/>
<rect x="227.27" y="192" width="14.98" height="1.02" fill="#00f900"/>
<rect x="227.27" y="193" width="14.98" height="1.02" fill="#00fa00"/>
<rect x="227.27" y="194" width="14.98" height="1.02" fill="#00ff00"/>
<rect x="227.27" y="195" width="14.98" height="1.02" fill="#00de00"/>
<rect x="227.27" y="196" width="14.98" height="1.02" fill="#00fa00"/>
<rect x="227.27" y="197" width="14.98" height="1.02" fill="#00f700"/>
<rect x="227.27" y="198" width="14.98" height="1.02" fill="#00ff00"/>
<rect x="227.27" y="199" width="14.98" height="1.02" fill="#00e300"/>
<rect x="227.27" y="200" width="14.98" height="1.02" fill="#00f800"/>
<rect x="227.27" y="201" width="14.98" height="1.02" fill="#007200"/>
<rect x="227.27" y="202" width="14.98" height="1.02" fill="#00ff00"/>
<rect x="227.27" y="203" width="14.98" height="1.02" fill="#00ea00"/>
<rect x="227.27" y="204" width="14.98" height="1.02" fill="#003d00"/>
<rect x="227.27" y="205" width="14.98" height="1.02" fill="#003800"/>
<rect x="227.27" y="206" width="14.98" height="1.02" fill="#003a00"/>
<rect x="227.27" y="207" width="14.98" height="1.02" fill="#003800"/>
<rect x="227.27" y="208" width="14.98" height="1.02" fill="#003700"/>
<rect x="227.27" y="209" width="14.98" height="1.02" fill="#003300"/>
<rect x="227.27" y="210" width="14.98" height="1.02" fill="#003700"/>
<rect x="227.27" y="211" width="14.98" height="1.02" fill="#003000"/>
<rect x="227.27" y="212" width="14.98" height="1.02" fill="#003700"/>
<rect x="227.27" y="213" width="14.98" height="1.02" fill="#00ee00"/>
<rect x="227.27" y="214" width="14.98" height="1.02" fill="#00e500"/>
<rect x="227.27" y="215" width="14.98" height="1.02" fill="#00e900"/>
<rect x="227.27" y="216" width="14.98" height="1.02" fill="#00f900"/>
<rect x="227.27" y="217" width="14.98" height="1.02" fill="#003700"/>
<rect x="227.27" y="218" width="14.98" height="1.02" fill="#004000"/>
<rect x="227.27" y="219" width="14.98" height="1.02" fill="#003400"/>
<rect x="227.27" y="220" width="14.98" height="1.02" fill="#003400"/>
<rect x="227.27" y="221" width="14.98" height="1.02" fill="#003e00"/>
<rect x="227.27" y="222" width="14.98" height="1.02" fill="#ff0000"/>
<rect x="227.27" y="223" width="14.98" height="1.02" fill="#f60000"/>
<rect x="227.27" y="224" width="14.98" height="1.02" fill="#f00000"/>
<rect x="227.27" y="225" width="14.98" height="1.02" fill="#ff0000"/>
<rect x="227.27" y="226" width="14.98" height="1.02" fill="#ec0000"/>
<rect x="227.27" y="227" width="14.98" height="1.02" fill="#ff0000"/>
<rect x="227.27" y="228" width="14.98" height="1.02" fill="#fe0000"/>
<rect x="227.27" y="229" width="14.98" height="1.02" fill="#ff0000"/>
<rect x="227.27" y="230" width="14.98" height="1.02" fill="#e60000"/>
<rect x="227.27" y="231" width="14.98" height="1.02" fill="#e50000"/>
<rect x="227.27" y="232" width="14.98" height="1.02" fill="#f80000"/>
<rect x="227.27" y="233" width="14.98" height="1.02" fill="#550000"/>
<rect x="227.27" y="234" width="14.98" height="1.02" fill="#400000"/>
<rect x="227.27" y="235" width="14.98" height="1.02" fill="#3c0000"/>
<rect x="227.27" y="236" width="14.98" height="1.02" fill="#4e0000"/>
<rect x="227.27" y="237" width="14.98" height="1.02" fill="#440000"/>
<rect x="227.27" y="238" width="14.98" height="1.02" fill="#470000"/>
<rect x="227.27" y="239" width="14.98" height="1.02" fill="#530000"/>
<rect x="227.27" y="240" width="14.98" height="1.02" fill="#ff0000"/>
<rect x="227.27" y="241" width="14.98" height="1.02" fill="#f40000"/>
<rect x="227.27" y="242" width="14.98" height="1.02" fill="#ff0000"/>
<rect x="227.27" y="243" width="14.98" height="1.02" fill="#ea0000"/>
<rect x="227.27" y="244" width="14.98" height="1.02" fill="#ff0000"/>
<rect x="227.27" y="245" width="14.98" height="1.02" fill="#f10000"/>
<rect x="227.27" y="246" width="14.98" height="1.02" fill="#ff0000"/>
<rect x="227.27" y="247" width="14.98" height="1.02" fill="#3f0000"/>
<rect x="227.27" y="248" width="14.98" height="1.02" fill="#440000"/>
<rect x="227.27" y="249" width="14.98" height="1.02" fill="#140b00"/>
<rect x="227.27" y="250" width="14.98" height="1.02" fill="#450000"/>
<rect x="227.27" y="251" width="14.98" height="1.02" fill="#400000"/>
<rect x="227.27" y="252" width="14.98" height="1.02" fill="#8f0000"/>
<rect x="227.27" y="253" width="14.98" height="1.02" fill="#390000"/>
<rect x="227.27" y="254" width="14.98" height="1.02" fill="#4f0000"/>
<rect x="227.27" y="255" width="14.98" height="1.02" fill="#4d0000"/>
<rect x="227.27" y="256" width="14.98" height="1.02" fill="#3f0000"/>
<rect x="227.27" y="257" width="14.98" height="1.02" fill="#a00000"/>
<rect x="227.27" y="258" width="14.98" height="1.02" fill="#ef0000"/>
<rect x="227.27" y="259" width="14.98" height="1.02" fill="#ff0000"/>
<rect x="227.27" y="260" width="14.98" height="1.02" fill="#ed0000"/>
<rect x="227.27" y="261" width="14.98" height="1.02" fill="#fa0000"/>
<rect x="227.27" y="262" width="14.98" height="1.02" fill="#e50000"/>
<rect x="227.27" y="263" width="14.98" height="1.02" fill="#003a00"/>
<rect x="227.27" y="264" width="14.98" height="1.02" fill="#003700"/>
<rect x="227.27" y="265" width="14.98" height="1.02" fill="#007b00"/>
<rect x="227.27" y="266" width="14.98" height="1.02" fill="#003500"/>
<rect x="227.27" y="267" width="14.98" height="1.02" fill="#003f00"/>
<rect x="227.27" y="268" width="14.98" height="1.02" fill="#00a700"/>
<rect x="227.27" y="269" width="14.98" height="1.02" fill="#003e00"/>
<rect x="227.27" y="270" width="14.98" height="1.02" fill="#003800"/>
<rect x="227.27" y="271" width="14.98" height="1.02" fill="#002c00"/>
<rect x="227.27" y="272" width="14.98" height="1.02" fill="#500000"/>
<rect x="227.27" y="273" width="14.98" height="1.02" fill="#4f0000"/>
<rect x="227.27" y="274" width="14.98" height="1.02" fill="#560000"/>
<rect x="227.27" y="275" width="14.98" height="1.02" fill="#440000"/>
<rect x="227.27" y="276" width="14.98" height="1.02" fill="#120a00"/>
<rect x="227.27" y="277" width="14.98" height="1.02" fill="#140b00"/>
<rect x="227.27" y="278" width="14.98" height="1.02" fill="#110900"/>
<rect x="227.27" y="279" width="14.98" height="1.02" fill="#0f0800"/>
<rect x="227.27" y="280" width="14.98" height="1.02" fill="#003c00"/>
<rect x="227.27" y="281" width="14.98" height="1.02" fill="#004100"/>
<rect x="227.27" y="282" width="14.98" height="1.02" fill="#008900"/>
<rect x="227.27" y="283" width="14.98" height="1.02" fill="#002c00"/>
<rect x="227.27" y="284" width="14.98" height="1.02" fill="#007500"/>
<rect x="227.27" y="285" width="14.98" height="1.02" fill="#003500"/>
<rect x="227.27" y="286" width="14.98" height="1.02" fill="#003200"/>
<rect x="227.27" y="287" width="14.98" height="1.02" fill="#003700"/>
<rect x="227.27" y="288" width="14.98" height="1.02" fill="#002f00"/>
<rect x="227.27" y="289" width="14.98" height="1.02" fill="#003600"/>
<rect x="227.27" y="290" width="14.98" height="1.02" fill="#003e00"/>
<rect x="227.27" y="291" width="14.98" height="1.02" fill="#003f00"/>
<rect x="227.27" y="292" width="14.98" height="1.02" fill="#003300"/>
<rect x="227.27" y="293" width="14.98" height="1.02" fill="#003800"/>
<rect x="227.27" y="294" width="14.98" height="1.02" fill="#002d00"/>
<rect x="227.27" y="295" width="14.98" height="1.02" fill="#003400"/>
<rect x="227.27" y="296" width="14.98" height="1.02" fill="#009400"/>
<rect x="227.27" y="297" width="14.98" height="1.02" fill="#003300"/>
<rect x="227.27" y="298" width="14.98" height="1.02" fill="#003e00"/>
<rect x="227.27" y="299" width="14.98" height="1.02" fill="#003500"/>
<rect x="227.27" y="300" width="14.98" height="1.02" fill="#003300"/>
<rect x="227.27" y="301" width="14.98" height="1.02" fill="#002f00"/>
<rect x="227.27" y="302" width="14.98" height="1.02" fill="#003a00"/>
<rect x="227.27" y="303" width="14.98" height="1.02" fill="#003400"/>
<rect x="227.27" y="304" width="14.98" height="1.02" fill="#003d00"/>
<rect x="227.27" y="305" width="14.98" height="1.02" fill="#003e00"/>
<rect x="227.27" y="306" width="14.98" height="1.02" fill="#003c00"/>
<rect x="227.27" y="307" width="14.98" height="1.02" fill="#0f0800"/>
<rect x="227.27" y="308" width="14.98" height="1.02" fill="#003b00"/>
<rect x="227.27" y="309" width="14.98" height="1.02" fill="#00f100"/>
<rect x="227.27" y="310" width="14.98" height="1.02" fill="#00e600"/>
<rect x="227.27" y="311" width="14.98" height="1.02" fill="#00f700"/>
<rect x="227.27" y="312" width="14.98" height="1.02" fill="#100900"/>
<rect x="227.27" y="313" width="14.98" height="1.02" fill="#0f0800"/>
<rect x="227.27" y="314" width="14.98" height="1.02" fill="#0f0800"/>
<rect x="227.27" y="315" width="14.98" height="1.02" fill="#100900"/>
<rect x="227.27" y="316" width="14.98" height="1.02" fill="#0f0800"/>
<rect x="242.20" y="90" width="14.98" height="1.02" fill="#003900"/>
<rect x="242.20" y="91" width="14.98" height="1.02" fill="#008100"/>
<rect x="242.20" y="92" width="14.98" height="1.02" fill="#003800"/>
<rect x="242.20" y="93" width="14.98" height="1.02" fill="#003d00"/>
<rect x="242.20" y="94" width="14.98" height="1.02" fill="#003000"/>
<rect x="242.20" y="95" width="14.98" height="1.02" fill="#003e00"/>
<rect x="242.20" y="96" width="14.98" height="1.02" fill="#003c00"/>
<rect x="242.20" y="97" width="14.98" height="1.02" fill="#003500"/>
<rect x="242.20" y="98" width="14.98" height="1.02" fill="#003e00"/>
<rect x="242.20" y="99" width="14.98" height="1.02" fill="#002e00"/>
<rect x="242.20" y="100" width="14.98" height="1.02" fill="#002c00"/>
<rect x="242.20" y="101" width="14.98" height="1.02" fill="#004100"/>
<rect x="242.20" y="102" width="14.98" height="1.02" fill="#003100"/>
<rect x="242.20" y="103" width="14.98" height="1.02" fill="#002f00"/>
<rect x="242.20" y="104" width="14.98" height="1.02" fill="#003700"/>
<rect x="242.20" y="105" width="14.98" height="1.02" fill="#140b00"/>
<rect x="242.20" y="106" width="14.98" height="1.02" fill="#003e00"/>
<rect x="242.20" y="107" width="14.98" height="1.02" fill="#003700"/>
<rect x="242.20" y="108" width="14.98" height="1.02" fill="#003000"/>
<rect x="242.20" y="109" width="14.98" height="1.02" fill="#008200"/>
<rect x="242.20" y="110" width="14.98" height="1.02" fill="#003300"/>
<rect x="242.20" y="111" width="14.98" height="1.02" fill="#002d00"/>
<rect x="242.20" y="112" width="14.98" height="1.02" fill="#007600"/>
<rect x="242.20" y="113" width="14.98" height="1.02" fill="#008000"/>
<rect x="242.20" y="114" width="14.98" height="1.02" fill="#00a300"/>
<rect x="242.20" y="115" width="14.98" height="1.02" fill="#00a000"/>
<rect x="242.20" y="116" width="14.98" height="1.02" fill="#008800"/>
<rect x="242.20" y="117" width="14.98" height="1.02" fill="#007f00"/>
<rect x="242.20" y="118" width="14.98" height="1.02" fill="#009d00"/>
<rect x="242.20" y="119" width="14.98" height="1.02" fill="#007c00"/>
<rect x="242.20" y="120" width="14.98" height="1.02" fill="#00ff00"/>
<rect x="242.20" y="121" width="14.98" height="1.02" fill="#009200"/>
<rect x="242.20" y="122" width="14.98" height="1.02" fill="#007800"/>
<rect x="242.20" y="123" width="14.98" height="1.02" fill="#008900"/>
<rect x="242.20" y="124" width="14.98" height="1.02" fill="#008900"/>
<rect x="242.20" y="125" width="14.98" height="1.02" fill="#00a500"/>
<rect x="242.20" y="126" width="14.98" height="1.02" fill="#003c00"/>
<rect x="242.20" y="127" width="14.98" height="1.02" fill="#003100"/>
<rect x="242.20" y="128" width="14.98" height="1.02" fill="#003400"/>
<rect x="242.20" y="129" width="14.98" height="1.02" fill="#003000"/>
<rect x="242.20" y="130" width="14.98" height="1.02" fill="#003400"/>
<rect x="242.20" y="131" width="14.98" height="1.02" fill="#008c00"/>
<rect x="242.20" y="132" width="14.98" height="1.02" fill="#003c00"/>
<rect x="242.20" y="133" width="14.98" height="1.02" fill="#00a100"/>
<rect x="242.20" y="134" width="14.98" height="1.02" fill="#007b00"/>
<rect x="242.20" y="135" width="14.98" height="1.02" fill="#009900"/>
<rect x="242.20" y="136" width="14.98" height="1.02" fill="#003400"/>
<rect x="242.20" y="137" width="14.98" height="1.02" fill="#002f00"/>
<rect x="242.20" y="138" width="14.98" height="1.02" fill="#003600"/>
<rect x="242.20" y="139" width="14.98" height="1.02" fill="#003d00"/>
<rect x="242.20" y="140" width="14.98" height="1.02" fill="#003b00"/>
<rect x="242.20" y="141" width="14.98" height="1.02" fill="#003d00"/>
<rect x="242.20" y="142" width="14.98" height="1.02" fill="#007f00"/>
<rect x="242.20" y="143" width="14.98" height="1.02" fill="#003600"/>
<rect x="242.20" y="144" width="14.98" height="1.02" fill="#003800"/>
<rect x="242.20" y="145" width="14.98" height="1.02" fill="#003500"/>
<rect x="242.20" y="146" width="14.98" height="1.02" fill="#140b00"/>
<rect x="242.20" y="147" width="14.98" height="1.02" fill="#003e00"/>
<rect x="242.20" y="148" width="14.98" height="1.02" fill="#003900"/>
<rect x="242.20" y="149" width="14.98" height="1.02" fill="#002e00"/>
<rect x="242.20" y="150" width="14.98" height="1.02" fill="#420000"/>
<rect x="242.20" y="151" width="14.98" height="1.02" fill="#500000"/>
<rect x="242.20" y="152" width="14.98" height="1.02" fill="#510000"/>
<rect x="242.20" y="153" width="14.98" height="1.02" fill="#4c0000"/>
<rect x="242.20" y="154" width="14.98" height="1.02" fill="#830000"/>
<rect x="242.20" y="155" width="14.98" height="1.02" fill="#450000"/>
<rect x="242.20" y="156" width="14.98" height="1.02" fill="#800000"/>
<rect x="242.20" y="157" width="14.98" height="1.02" fill="#ab0000"/>
<rect x="242.20" y="158" width="14.98" height="1.02" fill="#3d0000"/>
<rect x="242.20" y="159" width="14.98" height="1.02" fill="#4a0000"/>
<rect x="242.20" y="160" width="14.98" height="1.02" fill="#470000"/>
<rect x="242.20" y="161" width="14.98" height="1.02" fill="#460000"/>
<rect x="242.20" y="162" width="14.98" height="1.02" fill="#510000"/>
<rect x="242.20" y="163" width="14.98" height="1.02" fill="#ff0000"/>
<rect x="242.20" y="164" width="14.98" height="1.02" fill="#7a0000"/>
<rect x="242.20" y="165" width="14.98" height="1.02" fill="#9a0000"/>
<rect x="242.20" y="166" width="14.98" height="1.02" fill="#850000"/>
<rect x="242.20" y="167" width="14.98" height="1.02" fill="#8a0000"/>
<rect x="242.20" y="168" width="14.98" height="1.02" fill="#850000"/>
<rect x="242.20" y="169" width="14.98" height="1.02" fill="#4c0000"/>
<rect x="242.20" y="170" width="14.98" height="1.02" fill="#470000"/>
<rect x="242.20" y="171" width="14.98" height="1.02" fill="#9e0000"/>
<rect x="242.20" y="172" width="14.98" height="1.02" fill="#3e0000"/>
<rect x="242.20" y="173" width="14.98" height="1.02" fill="#a30000"/>
<rect x="242.20" y="174" width="14.98" height="1.02" fill="#510000"/>
<rect x="242.20" y="175" width="14.98" height="1.02" fill="#7b0000"/>
<rect x="242.20" y="176" width="14.98" height="1.02" fill="#7d0000"/>
<rect x="242.20" y="177" width="14.98" height="1.02" fill="#3c0000"/>
<rect x="242.20" y="178" width="14.98" height="1.02" fill="#400000"/>
<rect x="242.20" y="179" width="14.98" height="1.02" fill="#460000"/>
<rect x="242.20" y="180" width="14.98" height="1.02" fill="#500000"/>
<rect x="242.20" y="181" width="14.98" height="1.02" fill="#3c0000"/>
<rect x="242.20" y="182" width="14.98" height="1.02" fill="#390000"/>
<rect x="242.20" y="183" width="14.98" height="1.02" fill="#3c0000"/>
<rect x="242.20" y="184" width="14.98" height="1.02" fill="#500000"/>
<rect x="242.20" y="185" width="14.98" height="1.02" fill="#3f0000"/>
<rect x="242.20" y="186" width="14.98" height="1.02" fill="#a50000"/>
<rect x="242.20" y="187" width="14.98" height="1.02" fill="#540000"/>
<rect x="242.20" y="188" width="14.98" height="1.02" fill="#420000"/>
<rect x="242.20" y="189" width="14.98" height="1.02" fill="#150b00"/>
<rect x="242.20" y="190" width="14.98" height="1.02" fill="#460000"/>
<rect x="242.20" y="191" width="14.98" height="1.02" fill="#003c00"/>
<rect x="242.20" y="192" width="14.98" height="1.02" fill="#003600"/>
<rect x="242.20" y="193" width="14.98" height="1.02" fill="#003400"/>
<rect x="242.20" y="194" width="14.98" height="1.02" fill="#003400"/>
<rect x="242.20" y="195" width="14.98" height="1.02" fill="#008f00"/>
<rect x="242.20" y="196" width="14.98" height="1.02" fill="#009000"/>
<rect x="242.20" y="197" width="14.98" height="1.02" fill="#008f00"/>
<rect x="242.20" y="198" width="14.98" height="1.02" fill="#007400"/>
<rect x="242.20" y="199" width="14.98" height="1.02" fill="#003f00"/>
<rect x="242.20" y="200" width="14.98" height="1.02" fill="#002c00"/>
<rect x="242.20" y="201" width="14.98" height="1.02" fill="#003900"/>
<rect x="242.20" y="202" width="14.98" height="1.02" fill="#003600"/>
<rect x="242.20" y="203" width="14.98" height="1.02" fill="#008000"/>
<rect x="242.20" y="204" width="14.98" height="1.02" fill="#009800"/>
<rect x="242.20" y="205" width="14.98" height="1.02" fill="#009300"/>
<rect x="242.20" y="206" width="14.98" height="1.02" fill="#009400"/>
<rect x="242.20" y="207" width="14.98" height="1.02" fill="#003500"/>
<rect x="242.20" y="208" width="14.98" height="1.02" fill="#009100"/>
<rect x="242.20" y="209" width="14.98" height="1.02" fill="#007700"/>
<rect x="242.20" y="210" width="14.98" height="1.02" fill="#008000"/>
<rect x="242.20" y="211" width="14.98" height="1.02" fill="#008100"/>
<rect x="242.20" y="212" width="14.98" height="1.02" fill="#009d00"/>
<rect x="242.20" y="213" width="14.98" height="1.02" fill="#00fa00"/>
<rect x="242.20" y="214" width="14.98" height="1.02" fill="#004000"/>
<rect x="242.20" y="215" width="14.98" height="1.02" fill="#003b00"/>
<rect x="242.20" y="216" width="14.98" height="1.02" fill="#007a00"/>
<rect x="242.20" y="217" width="14.98" height="1.02" fill="#008c00"/>
<rect x="242.20" y="218" width="14.98" height="1.02" fill="#007600"/>
<rect x="242.20" y="219" width="14.98" height="1.02" fill="#008000"/>
<rect x="242.20" y="220" width="14.98" height="1.02" fill="#008500"/>
<rect x="242.20" y="221" width="14.98" height="1.02" fill="#007c00"/>
<rect x="242.20" y="222" width="14.98" height="1.02" fill="#8b0000"/>
<rect x="242.20" y="223" width="14.98" height="1.02" fill="#a90000"/>
<rect x="242.20" y="224" width="14.98" height="1.02" fill="#a50000"/>
<rect x="242.20" y="225" width="14.98" height="1.02" fill="#7e0000"/>
<rect x="242.20" y="226" width="14.98" height="1.02" fill="#f50000"/>
<rect x="242.20" y="227" width="14.98" height="1.02" fill="#840000"/>
<rect x="242.20" y="228" width="14.98" height="1.02" fill="#a50000"/>
<rect x="242.20" y="229" width="14.98" height="1.02" fill="#810000"/>
<rect x="242.20" y="230" width="14.98" height="1.02" fill="#910000"/>
<rect x="242.20" y="231" width="14.98" height="1.02" fill="#ad0000"/>
<rect x="242.20" y="232" width="14.98" height="1.02" fill="#990000"/>
<rect x="242.20" y="233" width="14.98" height="1.02" fill="#3a0000"/>
<rect x="242.20" y="234" width="14.98" height="1.02" fill="#530000"/>
<rect x="242.20" y="235" width="14.98" height="1.02" fill="#4a0000"/>
<rect x="242.20" y="236" width="14.98" height="1.02" fill="#3b0000"/>
<rect x="242.20" y="237" width="14.98" height="1.02" fill="#3c0000"/>
<rect x="242.20" y="238" width="14.98" height="1.02" fill="#4e0000"/>
<rect x="242.20" y="239" width="14.98" height="1.02" fill="#8e0000"/>
<rect x="242.20" y="240" width="14.98" height="1.02" fill="#110900"/>
<rect x="242.20" y="241" width="14.98" height="1.02" fill="#810000"/>
<rect x="242.20" y="242" width="14.98" height="1.02" fill="#3b0000"/>
<rect x="242.20" y="243" width="14.98" height="1.02" fill="#0f0800"/>
<rect x="242.20" y="244" width="14.98" height="1.02" fill="#3d0000"/>
<rect x="242.20" y="245" width="14.98" height="1.02" fill="#450000"/>
<rect x="242.20" y="246" width="14.98" height="1.02" fill="#400000"/>
<rect x="242.20" y="247" width="14.98" height="1.02" fill="#7a0000"/>
<rect x="242.20" y="248" width="14.98" height="1.02" fill="#7d0000"/>
<rect x="242.20" y="249" width="14.98" height="1.02" fill="#900000"/>
<rect x="242.20" y="250" width="14.98" height="1.02" fill="#ab0000"/>
<rect x="242.20" y="251" width="14.98" height="1.02" fill="#3b0000"/>
<rect x="242.20" y="252" width="14.98" height="1.02" fill="#9b0000"/>
<rect x="242.20" y="253" width="14.98" height="1.02" fill="#410000"/>
<rect x="242.20" y="254" width="14.98" height="1.02" fill="#3e0000"/>
<rect x="242.20" y="255" width="14.98" height="1.02" fill="#410000"/>
<rect x="242.20" y="256" width="14.98" height="1.02" fill="#420000"/>
<rect x="242.20" y="257" width="14.98" height="1.02" fill="#fd0000"/>
<rect x="242.20" y="258" width="14.98" height="1.02" fill="#ff0000"/>
<rect x="242.20" y="259" width="14.98" height="1.02" fill="#ed0000"/>
<rect x="242.20" y="260" width="14.98" height="1.02" fill="#f80000"/>
<rect x="242.20" y="261" width="14.98" height="1.02" fill="#ff0000"/>
<rect x="242.20" y="262" width="14.98" height="1.02" fill="#f40000"/>
<rect x="242.20" y="263" width="14.98" height="1.02" fill="#410000"/>
<rect x="242.20" y="264" width="14.98" height="1.02" fill="#530000"/>
<rect x="242.20" y="265" width="14.98" height="1.02" fill="#540000"/>
<rect x="242.20" y="266" width="14.98" height="1.02" fill="#510000"/>
<rect x="242.20" y="267" width="14.98" height="1.02" fill="#3f0000"/>
<rect x="242.20" y="268" width="14.98" height="1.02" fill="#9e0000"/>
<rect x="242.20" y="269" width="14.98" height="1.02" fill="#990000"/>
<rect x="242.20" y="270" width="14.98" height="1.02" fill="#520000"/>
<rect x="242.20" y="271" width="14.98" height="1.02" fill="#870000"/>
<rect x="242.20" y="272" width="14.98" height="1.02" fill="#3f0000"/>
<rect x="242.20" y="273" width="14.98" height="1.02" fill="#4e0000"/>
<rect x="242.20" y="274" width="14.98" height="1.02" fill="#130a00"/>
<rect x="242.20" y="275" width="14.98" height="1.02" fill="#003600"/>
<rect x="242.20" y="276" width="14.98" height="1.02" fill="#130a00"/>
<rect x="242.20" y="277" width="14.98" height="1.02" fill="#3f0000"/>
<rect x="242.20" y="278" width="14.98" height="1.02" fill="#110900"/>
<rect x="242.20" y="279" width="14.98" height="1.02" fill="#110900"/>
<rect x="242.20" y="280" width="14.98" height="1.02" fill="#00fb00"/>
<rect x="242.20" y="281" width="14.98" height="1.02" fill="#00ee00"/>
<rect x="242.20" y="282" width="14.98" height="1.02" fill="#00f200"/>
<rect x="242.20" y="283" width="14.98" height="1.02" fill="#00ff00"/>
<rect x="242.20" y="284" width="14.98" height="1.02" fill="#003d00"/>
<rect x="242.20" y="285" width="14.98" height="1.02" fill="#003600"/>
<rect x="242.20" y="286" width="14.98" height="1.02" fill="#003100"/>
<rect x="242.20" y="287" width="14.98" height="1.02" fill="#003b00"/>
<rect x="242.20" y="288" width="14.98" height="1.02" fill="#003e00"/>
<rect x="242.20" y="289" width="14.98" height="1.02" fill="#003100"/>
<rect x="242.20" y="290" width="14.98" height="1.02" fill="#003600"/>
<rect x="242.20" y="291" width="14.98" height="1.02" fill="#003400"/>
<rect x="242.20" y="292" width="14.98" height="1.02" fill="#003e00"/>
<rect x="242.20" y="293" width="14.98" height="1.02" fill="#003a00"/>
<rect x="242.20" y="294" width="14.98" height="1.02" fill="#002f00"/>
<rect x="242.20" y="295" width="14.98" height="1.02" fill="#003000"/>
<rect x="242.20" y="296" width="14.98" height="1.02" fill="#002e00"/>
<rect x="242.20" y="297" width="14.98" height="1.02" fill="#003b00"/>
<rect x="242.20" y="298" width="14.98" height="1.02" fill="#003e00"/>
<rect x="242.20" y="299" width="14.98" height="1.02" fill="#520000"/>
<rect x="242.20" y="300" width="14.98" height="1.02" fill="#410000"/>
<rect x="242.20" y="301" width="14.98" height="1.02" fill="#390000"/>
<rect x="242.20" y="302" width="14.98" height="1.02" fill="#440000"/>
<rect x="242.20" y="303" width="14.98" height="1.02" fill="#ab0000"/>
<rect x="242.20" y="304" width="14.98" height="1.02" fill="#002c00"/>
<rect x="242.20" y="305" width="14.98" height="1.02" fill="#003100"/>
<rect x="242.20" y="306" width="14.98" height="1.02" fill="#002c00"/>
<rect x="242.20" y="307" width="14.98" height="1.02" fill="#009700"/>
<rect x="242.20" y="308" width="14.98" height="1.02" fill="#003700"/>
<rect x="242.20" y="309" width="14.98" height="1.02" fill="#003200"/>
<rect x="242.20" y="310" width="14.98" height="1.02" fill="#003400"/>
<rect x="242.20" y="311" width="14.98" height="1.02" fill="#003f00"/>
<rect x="242.20" y="312" width="14.98" height="1.02" fill="#009f00"/>
<rect x="242.20" y="313" width="14.98" height="1.02" fill="#130a00"/>
<rect x="242.20" y="314" width="14.98" height="1.02" fill="#003b00"/>
<rect x="242.20" y="315" width="14.98" height="1.02" fill="#003d00"/>
<rect x="242.20" y="316" width="14.98" height="1.02" fill="#003700"/>
<rect x="257.13" y="90" width="14.98" height="1.02" fill="#450000"/>
<rect x="257.13" y="91" width="14.98" height="1.02" fill="#4d0000"/>
<rect x="257.13" y="92" width="14.98" height="1.02" fill="#a60000"/>
<rect x="257.13" y="93" width="14.98" height="1.02" fill="#9b0000"/>
<rect x="257.13" y="94" width="14.98" height="1.02" fill="#a80000"/>
<rect x="257.13" y="95" width="14.98" height="1.02" fill="#8b0000"/>
<rect x="257.13" y="96" width="14.98" height="1.02" fill="#8e0000"/>
<rect x="257.13" y="97" width="14.98" height="1.02" fill="#430000"/>
<rect x="257.13" y="98" width="14.98" height="1.02" fill="#540000"/>
<rect x="257.13" y="99" width="14.98" height="1.02" fill="#4c0000"/>
<rect x="257.13" y="100" width="14.98" height="1.02" fill="#500000"/>
<rect x="257.13" y="101" width="14.98" height="1.02" fill="#460000"/>
<rect x="257.13" y="102" width="14.98" height="1.02" fill="#420000"/>
<rect x="257.13" y="103" width="14.98" height="1.02" fill="#120a00"/>
<rect x="257.13" y="104" width="14.98" height="1.02" fill="#400000"/>
<rect x="257.13" y="105" width="14.98" height="1.02" fill="#530000"/>
<rect x="257.13" y="106" width="14.98" height="1.02" fill="#0f0800"/>
<rect x="257.13" y="107" width="14.98" height="1.02" fill="#430000"/>
<rect x="257.13" y="108" width="14.98" height="1.02" fill="#560000"/>
<rect x="257.13" y="109" width="14.98" height="1.02" fill="#003d00"/>
<rect x="257.13" y="110" width="14.98" height="1.02" fill="#002f00"/>
<rect x="257.13" y="111" width="14.98" height="1.02" fill="#002f00"/>
<rect x="257.13" y="112" width="14.98" height="1.02" fill="#008900"/>
<rect x="257.13" y="113" width="14.98" height="1.02" fill="#110900"/>
<rect x="257.13" y="114" width="14.98" height="1.02" fill="#b10000"/>
<rect x="257.13" y="115" width="14.98" height="1.02" fill="#aa0000"/>
<rect x="257.13" y="116" width="14.98" height="1.02" fill="#9b0000"/>
<rect x="257.13" y="117" width="14.98" height="1.02" fill="#8a0000"/>
<rect x="257.13" y="118" width="14.98" height="1.02" fill="#8f0000"/>
<rect x="257.13" y="119" width="14.98" height="1.02" fill="#960000"/>
<rect x="257.13" y="120" width="14.98" height="1.02" fill="#4b0000"/>
<rect x="257.13" y="121" width="14.98" height="1.02" fill="#3f0000"/>
<rect x="257.13" y="122" width="14.98" height="1.02" fill="#390000"/>
<rect x="257.13" y="123" width="14.98" height="1.02" fill="#0e0800"/>
<rect x="257.13" y="124" width="14.98" height="1.02" fill="#510000"/>
<rect x="257.13" y="125" width="14.98" height="1.02" fill="#550000"/>
<rect x="257.13" y="126" width="14.98" height="1.02" fill="#009000"/>
<rect x="257.13" y="127" width="14.98" height="1.02" fill="#007000"/>
<rect x="257.13" y="128" width="14.98" height="1.02" fill="#007e00"/>
<rect x="257.13" y="129" width="14.98" height="1.02" fill="#007300"/>
<rect x="257.13" y="130" width="14.98" height="1.02" fill="#008500"/>
<rect x="257.13" y="131" width="14.98" height="1.02" fill="#008600"/>
<rect x="257.13" y="132" width="14.98" height="1.02" fill="#00fa00"/>
<rect x="257.13" y="133" width="14.98" height="1.02" fill="#009100"/>
<rect x="257.13" y="134" width="14.98" height="1.02" fill="#00f500"/>
<rect x="257.13" y="135" width="14.98" height="1.02" fill="#00a700"/>
<rect x="257.13" y="136" width="14.98" height="1.02" fill="#002d00"/>
<rect x="257.13" y="137" width="14.98" height="1.02" fill="#003a00"/>
<rect x="257.13" y="138" width="14.98" height="1.02" fill="#004000"/>
<rect x="257.13" y="139" width="14.98" height="1.02" fill="#003f00"/>
<rect x="257.13" y="140" width="14.98" height="1.02" fill="#009000"/>
<rect x="257.13" y="141" width="14.98" height="1.02" fill="#008000"/>
<rect x="257.13" y="142" width="14.98" height="1.02" fill="#009200"/>
<rect x="257.13" y="143" width="14.98" height="1.02" fill="#008e00"/>
<rect x="257.13" y="144" width="14.98" height="1.02" fill="#008f00"/>
<rect x="257.13" y="145" width="14.98" height="1.02" fill="#008f00"/>
<rect x="257.13" y="146" width="14.98" height="1.02" fill="#007100"/>
<rect x="257.13" y="147" width="14.98" height="1.02" fill="#008e00"/>
<rect x="257.13" y="148" width="14.98" height="1.02" fill="#00a600"/>
<rect x="257.13" y="149" width="14.98" height="1.02" fill="#008a00"/>
<rect x="257.13" y="150" width="14.98" height="1.02" fill="#480000"/>
<rect x="257.13" y="151" width="14.98" height="1.02" fill="#540000"/>
<rect x="257.13" y="152" width="14.98" height="1.02" fill="#8b0000"/>
<rect x="257.13" y="153" width="14.98" height="1.02" fill="#3b0000"/>
<rect x="257.13" y="154" width="14.98" height="1.02" fill="#e50000"/>
<rect x="257.13" y="155" width="14.98" height="1.02" fill="#ff0000"/>
<rect x="257.13" y="156" width="14.98" height="1.02" fill="#f30000"/>
<rect x="257.13" y="157" width="14.98" height="1.02" fill="#ff0000"/>
<rect x="257.13" y="158" width="14.98" height="1.02" fill="#9c0000"/>
<rect x="257.13" y="159" width="14.98" height="1.02" fill="#9b0000"/>
<rect x="257.13" y="160" width="14.98" height="1.02" fill="#a60000"/>
<rect x="257.13" y="161" width="14.98" height="1.02" fill="#860000"/>
<rect x="257.13" y="162" width="14.98" height="1.02" fill="#8f0000"/>
<rect x="257.13" y="163" width="14.98" height="1.02" fill="#ff0000"/>
<rect x="257.13" y="164" width="14.98" height="1.02" fill="#fa0000"/>
<rect x="257.13" y="165" width="14.98" height="1.02" fill="#ff0000"/>
<rect x="257.13" y="166" width="14.98" height="1.02" fill="#880000"/>
<rect x="257.13" y="167" width="14.98" height="1.02" fill="#ff0000"/>
<rect x="257.13" y="168" width="14.98" height="1.02" fill="#ff0000"/>
<rect x="257.13" y="169" width="14.98" height="1.02" fill="#490000"/>
<rect x="257.13" y="170" width="14.98" height="1.02" fill="#3b0000"/>
<rect x="257.13" y="171" width="14.98" height="1.02" fill="#3e0000"/>
<rect x="257.13" y="172" width="14.98" height="1.02" fill="#100900"/>
<rect x="257.13" y="173" width="14.98" height="1.02" fill="#4a0000"/>
<rect x="257.13" y="174" width="14.98" height="1.02" fill="#140b00"/>
<rect x="257.13" y="175" width="14.98" height="1.02" fill="#3d0000"/>
<rect x="257.13" y="176" width="14.98" height="1.02" fill="#510000"/>
<rect x="257.13" y="177" width="14.98" height="1.02" fill="#540000"/>
<rect x="257.13" y="178" width="14.98" height="1.02" fill="#400000"/>
<rect x="257.13" y="179" width="14.98" height="1.02" fill="#ac0000"/>
<rect x="257.13" y="180" width="14.98" height="1.02" fill="#3c0000"/>
<rect x="257.13" y="181" width="14.98" height="1.02" fill="#4f0000"/>
<rect x="257.13" y="182" width="14.98" height="1.02" fill="#510000"/>
<rect x="257.13" y="183" width="14.98" height="1.02" fill="#430000"/>
<rect x="257.13" y="184" width="14.98" height="1.02" fill="#540000"/>
<rect x="257.13" y="185" width="14.98" height="1.02" fill="#4d0000"/>
<rect x="257.13" y="186" width="14.98" height="1.02" fill="#520000"/>
<rect x="257.13" y="187" width="14.98" height="1.02" fill="#410000"/>
<rect x="257.13" y="188" width="14.98" height="1.02" fill="#490000"/>
<rect x="257.13" y="189" width="14.98" height="1.02" fill="#140b00"/>
<rect x="257.13" y="190" width="14.98" height="1.02" fill="#400000"/>
<rect x="257.13" y="191" width="14.98" height="1.02" fill="#00f800"/>
<rect x="257.13" y="192" width="14.98" height="1.02" fill="#00fc00"/>
<rect x="257.13" y="193" width="14.98" height="1.02" fill="#00ea00"/>
<rect x="257.13" y="194" width="14.98" height="1.02" fill="#00e900"/>
<rect x="257.13" y="195" width="14.98" height="1.02" fill="#008a00"/>
<rect x="257.13" y="196" width="14.98" height="1.02" fill="#007800"/>
<rect x="257.13" y="197" width="14.98" height="1.02" fill="#00ec00"/>
<rect x="257.13" y="198" width="14.98" height="1.02" fill="#007900"/>
<rect x="257.13" y="199" width="14.98" height="1.02" fill="#00fb00"/>
<rect x="257.13" y="200" width="14.98" height="1.02" fill="#00f800"/>
<rect x="257.13" y="201" width="14.98" height="1.02" fill="#00e800"/>
<rect x="257.13" y="202" width="14.98" height="1.02" fill="#00ff00"/>
<rect x="257.13" y="203" width="14.98" height="1.02" fill="#00f000"/>
<rect x="257.13" y="204" width="14.98" height="1.02" fill="#430000"/>
<rect x="257.13" y="205" width="14.98" height="1.02" fill="#140b00"/>
<rect x="257.13" y="206" width="14.98" height="1.02" fill="#140b00"/>
<rect x="257.13" y="207" width="14.98" height="1.02" fill="#130a00"/>
<rect x="257.13" y="208" width="14.98" height="1.02" fill="#003400"/>
<rect x="257.13" y="209" width="14.98" height="1.02" fill="#100900"/>
<rect x="257.13" y="210" width="14.98" height="1.02" fill="#0f0800"/>
<rect x="257.13" y="211" width="14.98" height="1.02" fill="#100900"/>
<rect x="257.13" y="212" width="14.98" height="1.02" fill="#120a00"/>
<rect x="257.13" y="213" width="14.98" height="1.02" fill="#003400"/>
<rect x="257.13" y="214" width="14.98" height="1.02" fill="#004000"/>
<rect x="257.13" y="215" width="14.98" height="1.02" fill="#003800"/>
<rect x="257.13" y="216" width="14.98" height="1.02" fill="#003100"/>
<rect x="257.13" y="217" width="14.98" height="1.02" fill="#007500"/>
<rect x="257.13" y="218" width="14.98" height="1.02" fill="#009b00"/>
<rect x="257.13" y="219" width="14.98" height="1.02" fill="#008800"/>
<rect x="257.13" y="220" width="14.98" height="1.02" fill="#008a00"/>
<rect x="257.13" y="221" width="14.98" height="1.02" fill="#009f00"/>
<rect x="257.13" y="222" width="14.98" height="1.02" fill="#f30000"/>
<rect x="257.13" y="223" width="14.98" height="1.02" fill="#fd0000"/>
<rect x="257.13" y="224" width="14.98" height="1.02" fill="#ff0000"/>
<rect x="257.13" y="225" width="14.98" height="1.02" fill="#f00000"/>
<rect x="257.13" y="226" width="14.98" height="1.02" fill="#ef0000"/>
<rect x="257.13" y="227" width="14.98" height="1.02" fill="#940000"/>
<rect x="257.13" y="228" width="14.98" height="1.02" fill="#ae0000"/>
<rect x="257.13" y="229" width="14.98" height="1.02" fill="#940000"/>
<rect x="257.13" y="230" width="14.98" height="1.02" fill="#800000"/>
<rect x="257.13" y="231" width="14.98" height="1.02" fill="#9e0000"/>
<rect x="257.13" y="232" width="14.98" height="1.02" fill="#900000"/>
<rect x="257.13" y="233" width="14.98" height="1.02" fill="#0e0800"/>
<rect x="257.13" y="234" width="14.98" height="1.02" fill="#140b00"/>
<rect x="257.13" y="235" width="14.98" height="1.02" fill="#140b00"/>
<rect x="257.13" y="236" width="14.98" height="1.02" fill="#130b00"/>
<rect x="257.13" y="237" width="14.98" height="1.02" fill="#110900"/>
<rect x="257.13" y="238" width="14.98" height="1.02" fill="#140b00"/>
<rect x="257.13" y="239" width="14.98" height="1.02" fill="#0f0800"/>
<rect x="257.13" y="240" width="14.98" height="1.02" fill="#003000"/>
<rect x="257.13" y="241" width="14.98" height="1.02" fill="#003500"/>
<rect x="257.13" y="242" width="14.98" height="1.02" fill="#003f00"/>
<rect x="257.13" y="243" width="14.98" height="1.02" fill="#003900"/>
<rect x="257.13" y="244" width="14.98" height="1.02" fill="#002e00"/>
<rect x="257.13" y="245" width="14.98" height="1.02" fill="#120a00"/>
<rect x="257.13" y="246" width="14.98" height="1.02" fill="#003500"/>
<rect x="257.13" y="247" width="14.98" height="1.02" fill="#003500"/>
<rect x="257.13" y="248" width="14.98" height="1.02" fill="#003500"/>
<rect x="257.13" y="249" width="14.98" height="1.02" fill="#004000"/>
<rect x="257.13" y="250" width="14.98" height="1.02" fill="#003700"/>
<rect x="257.13" y="251" width="14.98" height="1.02" fill="#003100"/>
<rect x="257.13" y="252" width="14.98" height="1.02" fill="#003600"/>
<rect x="257.13" y="253" width="14.98" height="1.02" fill="#ff0000"/>
<rect x="257.13" y="254" width="14.98" height="1.02" fill="#ec0000"/>
<rect x="257.13" y="255" width="14.98" height="1.02" fill="#810000"/>
<rect x="257.13" y="256" width="14.98" height="1.02" fill="#ff0000"/>
<rect x="257.13" y="257" width="14.98" height="1.02" fill="#860000"/>
<rect x="257.13" y="258" width="14.98" height="1.02" fill="#920000"/>
<rect x="257.13" y="259" width="14.98" height="1.02" fill="#970000"/>
<rect x="257.13" y="260" width="14.98" height="1.02" fill="#e60000"/>
<rect x="257.13" y="261" width="14.98" height="1.02" fill="#a10000"/>
<rect x="257.13" y="262" width="14.98" height="1.02" fill="#af0000"/>
<rect x="257.13" y="263" width="14.98" height="1.02" fill="#420000"/>
<rect x="257.13" y="264" width="14.98" height="1.02" fill="#990000"/>
<rect x="257.13" y="265" width="14.98" height="1.02" fill="#400000"/>
<rect x="257.13" y="266" width="14.98" height="1.02" fill="#950000"/>
<rect x="257.13" y="267" width="14.98" height="1.02" fill="#a40000"/>
<rect x="257.13" y="268" width="14.98" height="1.02" fill="#880000"/>
<rect x="257.13" y="269" width="14.98" height="1.02" fill="#850000"/>
<rect x="257.13" y="270" width="14.98" height="1.02" fill="#820000"/>
<rect x="257.13" y="271" width="14.98" height="1.02" fill="#930000"/>
<rect x="257.13" y="272" width="14.98" height="1.02" fill="#003300"/>
<rect x="257.13" y="273" width="14.98" height="1.02" fill="#003900"/>
<rect x="257.13" y="274" width="14.98" height="1.02" fill="#003400"/>
<rect x="257.13" y="275" width="14.98" height="1.02" fill="#003000"/>
<rect x="257.13" y="276" width="14.98" height="1.02" fill="#003a00"/>
<rect x="257.13" y="277" width="14.98" height="1.02" fill="#003a00"/>
<rect x="257.13" y="278" width="14.98" height="1.02" fill="#008200"/>
<rect x="257.13" y="279" width="14.98" height="1.02" fill="#003e00"/>
<rect x="257.13" y="280" width="14.98" height="1.02" fill="#003500"/>
<rect x="257.13" y="281" width="14.98" height="1.02" fill="#009b00"/>
<rect x="257.13" y="282" width="14.98" height="1.02" fill="#008000"/>
<rect x="257.13" y="283" width="14.98" height="1.02" fill="#009700"/>
<rect x="257.13" y="284" width="14.98" height="1.02" fill="#009800"/>
<rect x="257.13" y="285" width="14.98" height="1.02" fill="#009a00"/>
<rect x="257.13" y="286" width="14.98" height="1.02" fill="#009d00"/>
<rect x="257.13" y="287" width="14.98" height="1.02" fill="#008500"/>
<rect x="257.13" y="288" width="14.98" height="1.02" fill="#007000"/>
<rect x="257.13" y="289" width="14.98" height="1.02" fill="#007100"/>
<rect x="257.13" y="290" width="14.98" height="1.02" fill="#008500"/>
<rect x="257.13" y="291" width="14.98" height="1.02" fill="#008100"/>
<rect x="257.13" y="292" width="14.98" height="1.02" fill="#003d00"/>
<rect x="257.13" y="293" width="14.98" height="1.02" fill="#003c00"/>
<rect x="257.13" y="294" width="14.98" height="1.02" fill="#002c00"/>
<rect x="257.13" y="295" width="14.98" height="1.02" fill="#00e700"/>
<rect x="257.13" y="296" width="14.98" height="1.02" fill="#00de00"/>
<rect x="257.13" y="297" width="14.98" height="1.02" fill="#00f800"/>
<rect x="257.13" y="298" width="14.98" height="1.02" fill="#00f700"/>
<rect x="257.13" y="299" width="14.98" height="1.02" fill="#003c00"/>
<rect x="257.13" y="300" width="14.98" height="1.02" fill="#003000"/>
<rect x="257.13" y="301" width="14.98" height="1.02" fill="#003900"/>
<rect x="257.13" y="302" width="14.98" height="1.02" fill="#003000"/>
<rect x="257.13" y="303" width="14.98" height="1.02" fill="#003300"/>
<rect x="257.13" y="304" width="14.98" height="1.02" fill="#00ec00"/>
<rect x="257.13" y="305" width="14.98" height="1.02" fill="#009000"/>
<rect x="257.13" y="306" width="14.98" height="1.02" fill="#009800"/>
<rect x="257.13" y="307" width="14.98" height="1.02" fill="#00fb00"/>
<rect x="257.13" y="308" width="14.98" height="1.02" fill="#007500"/>
<rect x="257.13" y="309" width="14.98" height="1.02" fill="#003700"/>
<rect x="257.13" y="310" width="14.98" height="1.02" fill="#003f00"/>
<rect x="257.13" y="311" width="14.98" height="1.02" fill="#003200"/>
<rect x="257.13" y="312" width="14.98" height="1.02" fill="#009600"/>
<rect x="257.13" y="313" width="14.98" height="1.02" fill="#007e00"/>
<rect x="257.13" y="314" width="14.98" height="1.02" fill="#00a500"/>
<rect x="257.13" y="315" width="14.98" height="1.02" fill="#003300"/>
<rect x="257.13" y="316" width="14.98" height="1.02" fill="#007b00"/>
<rect x="272.07" y="90" width="14.98" height="1.02" fill="#003f00"/>
<rect x="272.07" y="91" width="14.98" height="1.02" fill="#140b00"/>
<rect x="272.07" y="92" width="14.98" height="1.02" fill="#007000"/>
<rect x="272.07" y="93" width="14.98" height="1.02" fill="#007f00"/>
<rect x="272.07" y="94" width="14.98" height="1.02" fill="#007600"/>
<rect x="272.07" y="95" width="14.98" height="1.02" fill="#007600"/>
<rect x="272.07" y="96" width="14.98" height="1.02" fill="#007e00"/>
<rect x="272.07" y="97" width="14.98" height="1.02" fill="#008800"/>
<rect x="272.07" y="98" width="14.98" height="1.02" fill="#008d00"/>
<rect x="272.07" y="99" width="14.98" height="1.02" fill="#009800"/>
<rect x="272.07" y="100" width="14.98" height="1.02" fill="#00a300"/>
<rect x="272.07" y="101" width="14.98" height="1.02" fill="#fa0000"/>
<rect x="272.07" y="102" width="14.98" height="1.02" fill="#f10000"/>
<rect x="272.07" y="103" width="14.98" height="1.02" fill="#ff0000"/>
<rect x="272.07" y="104" width="14.98" height="1.02" fill="#e80000"/>
<rect x="272.07" y="105" width="14.98" height="1.02" fill="#ff0000"/>
<rect x="272.07" y="106" width="14.98" height="1.02" fill="#a20000"/>
<rect x="272.07" y="107" width="14.98" height="1.02" fill="#f90000"/>
<rect x="272.07" y="108" width="14.98" height="1.02" fill="#f20000"/>
<rect x="272.07" y="109" width="14.98" height="1.02" fill="#009500"/>
<rect x="272.07" y="110" width="14.98" height="1.02" fill="#009300"/>
<rect x="272.07" y="111" width="14.98" height="1.02" fill="#00a700"/>
<rect x="272.07" y="112" width="14.98" height="1.02" fill="#009700"/>
<rect x="272.07" y="113" width="14.98" height="1.02" fill="#003200"/>
<rect x="272.07" y="114" width="14.98" height="1.02" fill="#0f0800"/>
<rect x="272.07" y="115" width="14.98" height="1.02" fill="#3e0000"/>
<rect x="272.07" y="116" width="14.98" height="1.02" fill="#3c0000"/>
<rect x="272.07" y="117" width="14.98" height="1.02" fill="#520000"/>
<rect x="272.07" y="118" width="14.98" height="1.02" fill="#0f0800"/>
<rect x="272.07" y="119" width="14.98" height="1.02" fill="#470000"/>
<rect x="272.07" y="120" width="14.98" height="1.02" fill="#003300"/>
<rect x="272.07" y="121" width="14.98" height="1.02" fill="#004100"/>
<rect x="272.07" y="122" width="14.98" height="1.02" fill="#004100"/>
<rect x="272.07" y="123" width="14.98" height="1.02" fill="#3f0000"/>
<rect x="272.07" y="124" width="14.98" height="1.02" fill="#540000"/>
<rect x="272.07" y="125" width="14.98" height="1.02" fill="#140b00"/>
<rect x="272.07" y="126" width="14.98" height="1.02" fill="#4f0000"/>
<rect x="272.07" y="127" width="14.98" height="1.02" fill="#3c0000"/>
<rect x="272.07" y="128" width="14.98" height="1.02" fill="#3c0000"/>
<rect x="272.07" y="129" width="14.98" height="1.02" fill="#4e0000"/>
<rect x="272.07" y="130" width="14.98" height="1.02" fill="#4d0000"/>
<rect x="272.07" y="131" width="14.98" height="1.02" fill="#130b00"/>
<rect x="272.07" y="132" width="14.98" height="1.02" fill="#540000"/>
<rect x="272.07" y="133" width="14.98" height="1.02" fill="#140b00"/>
<rect x="272.07" y="134" width="14.98" height="1.02" fill="#140b00"/>
<rect x="272.07" y="135" width="14.98" height="1.02" fill="#120a00"/>
<rect x="272.07" y="136" width="14.98" height="1.02" fill="#003600"/>
<rect x="272.07" y="137" width="14.98" height="1.02" fill="#00ff00"/>
<rect x="272.07" y="138" width="14.98" height="1.02" fill="#008700"/>
<rect x="272.07" y="139" width="14.98" height="1.02" fill="#00a500"/>
<rect x="272.07" y="140" width="14.98" height="1.02" fill="#3b0000"/>
<rect x="272.07" y="141" width="14.98" height="1.02" fill="#4e0000"/>
<rect x="272.07" y="142" width="14.98" height="1.02" fill="#3a0000"/>
<rect x="272.07" y="143" width="14.98" height="1.02" fill="#460000"/>
<rect x="272.07" y="144" width="14.98" height="1.02" fill="#510000"/>
<rect x="272.07" y="145" width="14.98" height="1.02" fill="#3a0000"/>
<rect x="272.07" y="146" width="14.98" height="1.02" fill="#410000"/>
<rect x="272.07" y="147" width="14.98" height="1.02" fill="#800000"/>
<rect x="272.07" y="148" width="14.98" height="1.02" fill="#4e0000"/>
<rect x="272.07" y="149" width="14.98" height="1.02" fill="#3d0000"/>
<rect x="272.07" y="150" width="14.98" height="1.02" fill="#4c0000"/>
<rect x="272.07" y="151" width="14.98" height="1.02" fill="#3d0000"/>
<rect x="272.07" y="152" width="14.98" height="1.02" fill="#540000"/>
<rect x="272.07" y="153" width="14.98" height="1.02" fill="#910000"/>
<rect x="272.07" y="154" width="14.98" height="1.02" fill="#b30000"/>
<rect x="272.07" y="155" width="14.98" height="1.02" fill="#ff0000"/>
<rect x="272.07" y="156" width="14.98" height="1.02" fill="#ff0000"/>
<rect x="272.07" y="157" width="14.98" height="1.02" fill="#a10000"/>
<rect x="272.07" y="158" width="14.98" height="1.02" fill="#470000"/>
<rect x="272.07" y="159" width="14.98" height="1.02" fill="#480000"/>
<rect x="272.07" y="160" width="14.98" height="1.02" fill="#3d0000"/>
<rect x="272.07" y="161" width="14.98" height="1.02" fill="#450000"/>
<rect x="272.07" y="162" width="14.98" height="1.02" fill="#400000"/>
<rect x="272.07" y="163" width="14.98" height="1.02" fill="#4c0000"/>
<rect x="272.07" y="164" width="14.98" height="1.02" fill="#530000"/>
<rect x="272.07" y="165" width="14.98" height="1.02" fill="#480000"/>
<rect x="272.07" y="166" width="14.98" height="1.02" fill="#3f0000"/>
<rect x="272.07" y="167" width="14.98" height="1.02" fill="#8b0000"/>
<rect x="272.07" y="168" width="14.98" height="1.02" fill="#3d0000"/>
<rect x="272.07" y="169" width="14.98" height="1.02" fill="#3a0000"/>
<rect x="272.07" y="170" width="14.98" height="1.02" fill="#470000"/>
<rect x="272.07" y="171" width="14.98" height="1.02" fill="#4d0000"/>
<rect x="272.07" y="172" width="14.98" height="1.02" fill="#4f0000"/>
<rect x="272.07" y="173" width="14.98" height="1.02" fill="#4e0000"/>
<rect x="272.07" y="174" width="14.98" height="1.02" fill="#490000"/>
<rect x="272.07" y="175" width="14.98" height="1.02" fill="#4f0000"/>
<rect x="272.07" y="176" width="14.98" height="1.02" fill="#430000"/>
<rect x="272.07" y="177" width="14.98" height="1.02" fill="#140b00"/>
<rect x="272.07" y="178" width="14.98" height="1.02" fill="#0f0800"/>
<rect x="272.07" y="179" width="14.98" height="1.02" fill="#0f0800"/>
<rect x="272.07" y="180" width="14.98" height="1.02" fill="#130a00"/>
<rect x="272.07" y="181" width="14.98" height="1.02" fill="#140b00"/>
<rect x="272.07" y="182" width="14.98" height="1.02" fill="#120a00"/>
<rect x="272.07" y="183" width="14.98" height="1.02" fill="#4c0000"/>
<rect x="272.07" y="184" width="14.98" height="1.02" fill="#4a0000"/>
<rect x="272.07" y="185" width="14.98" height="1.02" fill="#4f0000"/>
<rect x="272.07" y="186" width="14.98" height="1.02" fill="#7f0000"/>
<rect x="272.07" y="187" width="14.98" height="1.02" fill="#910000"/>
<rect x="272.07" y="188" width="14.98" height="1.02" fill="#990000"/>
<rect x="272.07" y="189" width="14.98" height="1.02" fill="#8f0000"/>
<rect x="272.07" y="190" width="14.98" height="1.02" fill="#8e0000"/>
<rect x="272.07" y="191" width="14.98" height="1.02" fill="#007500"/>
<rect x="272.07" y="192" width="14.98" height="1.02" fill="#003b00"/>
<rect x="272.07" y="193" width="14.98" height="1.02" fill="#008900"/>
<rect x="272.07" y="194" width="14.98" height="1.02" fill="#008400"/>
<rect x="272.07" y="195" width="14.98" height="1.02" fill="#00df00"/>
<rect x="272.07" y="196" width="14.98" height="1.02" fill="#00ff00"/>
<rect x="272.07" y="197" width="14.98" height="1.02" fill="#00f000"/>
<rect x="272.07" y="198" width="14.98" height="1.02" fill="#00e000"/>
<rect x="272.07" y="199" width="14.98" height="1.02" fill="#00ff00"/>
<rect x="272.07" y="200" width="14.98" height="1.02" fill="#00e800"/>
<rect x="272.07" y="201" width="14.98" height="1.02" fill="#00fd00"/>
<rect x="272.07" y="202" width="14.98" height="1.02" fill="#00ed00"/>
<rect x="272.07" y="203" width="14.98" height="1.02" fill="#00fd00"/>
<rect x="272.07" y="204" width="14.98" height="1.02" fill="#00ff00"/>
<rect x="272.07" y="205" width="14.98" height="1.02" fill="#00f500"/>
<rect x="272.07" y="206" width="14.98" height="1.02" fill="#00fa00"/>
<rect x="272.07" y="207" width="14.98" height="1.02" fill="#00e400"/>
<rect x="272.07" y="208" width="14.98" height="1.02" fill="#00fa00"/>
<rect x="272.07" y="209" width="14.98" height="1.02" fill="#00fd00"/>
<rect x="272.07" y="210" width="14.98" height="1.02" fill="#00f000"/>
<rect x="272.07" y="211" width="14.98" height="1.02" fill="#00ff00"/>
<rect x="272.07" y="212" width="14.98" height="1.02" fill="#00e200"/>
<rect x="272.07" y="213" width="14.98" height="1.02" fill="#008700"/>
<rect x="272.07" y="214" width="14.98" height="1.02" fill="#00a400"/>
<rect x="272.07" y="215" width="14.98" height="1.02" fill="#007600"/>
<rect x="272.07" y="216" width="14.98" height="1.02" fill="#008300"/>
<rect x="272.07" y="217" width="14.98" height="1.02" fill="#003300"/>
<rect x="272.07" y="218" width="14.98" height="1.02" fill="#003d00"/>
<rect x="272.07" y="219" width="14.98" height="1.02" fill="#003b00"/>
<rect x="272.07" y="220" width="14.98" height="1.02" fill="#004000"/>
<rect x="272.07" y="221" width="14.98" height="1.02" fill="#003300"/>
<rect x="272.07" y="222" width="14.98" height="1.02" fill="#3c0000"/>
<rect x="272.07" y="223" width="14.98" height="1.02" fill="#4b0000"/>
<rect x="272.07" y="224" width="14.98" height="1.02" fill="#430000"/>
<rect x="272.07" y="225" width="14.98" height="1.02" fill="#7f0000"/>
<rect x="272.07" y="226" width="14.98" height="1.02" fill="#3e0000"/>
<rect x="272.07" y="227" width="14.98" height="1.02" fill="#4b0000"/>
<rect x="272.07" y="228" width="14.98" height="1.02" fill="#480000"/>
<rect x="272.07" y="229" width="14.98" height="1.02" fill="#4a0000"/>
<rect x="272.07" y="230" width="14.98" height="1.02" fill="#500000"/>
<rect x="272.07" y="231" width="14.98" height="1.02" fill="#410000"/>
<rect x="272.07" y="232" width="14.98" height="1.02" fill="#530000"/>
<rect x="272.07" y="233" width="14.98" height="1.02" fill="#eb0000"/>
<rect x="272.07" y="234" width="14.98" height="1.02" fill="#ec0000"/>
<rect x="272.07" y="235" width="14.98" height="1.02" fill="#f30000"/>
<rect x="272.07" y="236" width="14.98" height="1.02" fill="#f40000"/>
<rect x="272.07" y="237" width="14.98" height="1.02" fill="#f30000"/>
<rect x="272.07" y="238" width="14.98" height="1.02" fill="#ff0000"/>
<rect x="272.07" y="239" width="14.98" height="1.02" fill="#ff0000"/>
<rect x="272.07" y="240" width="14.98" height="1.02" fill="#550000"/>
<rect x="272.07" y="241" width="14.98" height="1.02" fill="#4d0000"/>
<rect x="272.07" y="242" width="14.98" height="1.02" fill="#410000"/>
<rect x="272.07" y="243" width="14.98" height="1.02" fill="#140b00"/>
<rect x="272.07" y="244" width="14.98" height="1.02" fill="#4d0000"/>
<rect x="272.07" y="245" width="14.98" height="1.02" fill="#480000"/>
<rect x="272.07" y="246" width="14.98" height="1.02" fill="#3e0000"/>
<rect x="272.07" y="247" width="14.98" height="1.02" fill="#130a00"/>
<rect x="272.07" y="248" width="14.98" height="1.02" fill="#0e0800"/>
<rect x="272.07" y="249" width="14.98" height="1.02" fill="#110900"/>
<rect x="272.07" y="250" width="14.98" height="1.02" fill="#410000"/>
<rect x="272.07" y="251" width="14.98" height="1.02" fill="#140b00"/>
<rect x="272.07" y="252" width="14.98" height="1.02" fill="#100900"/>
<rect x="272.07" y="253" width="14.98" height="1.02" fill="#100900"/>
<rect x="272.07" y="254" width="14.98" height="1.02" fill="#100900"/>
<rect x="272.07" y="255" width="14.98" height="1.02" fill="#140b00"/>
<rect x="272.07" y="256" width="14.98" height="1.02" fill="#140b00"/>
<rect x="272.07" y="257" width="14.98" height="1.02" fill="#3c0000"/>
<rect x="272.07" y="258" width="14.98" height="1.02" fill="#810000"/>
<rect x="272.07" y="259" width="14.98" height="1.02" fill="#480000"/>
<rect x="272.07" y="260" width="14.98" height="1.02" fill="#4a0000"/>
<rect x="272.07" y="261" width="14.98" height="1.02" fill="#400000"/>
<rect x="272.07" y="262" width="14.98" height="1.02" fill="#4f0000"/>
<rect x="272.07" y="263" width="14.98" height="1.02" fill="#0e0800"/>
<rect x="272.07" y="264" width="14.98" height="1.02" fill="#400000"/>
<rect x="272.07" y="265" width="14.98" height="1.02" fill="#3c0000"/>
<rect x="272.07" y="266" width="14.98" height="1.02" fill="#430000"/>
<rect x="272.07" y="267" width="14.98" height="1.02" fill="#420000"/>
<rect x="272.07" y="268" width="14.98" height="1.02" fill="#007b00"/>
<rect x="272.07" y="269" width="14.98" height="1.02" fill="#004100"/>
<rect x="272.07" y="270" width="14.98" height="1.02" fill="#003a00"/>
<rect x="272.07" y="271" width="14.98" height="1.02" fill="#003100"/>
<rect x="272.07" y="272" width="14.98" height="1.02" fill="#00ff00"/>
<rect x="272.07" y="273" width="14.98" height="1.02" fill="#003900"/>
<rect x="272.07" y="274" width="14.98" height="1.02" fill="#007a00"/>
<rect x="272.07" y="275" width="14.98" height="1.02" fill="#150b00"/>
<rect x="272.07" y="276" width="14.98" height="1.02" fill="#0f0800"/>
<rect x="272.07" y="277" width="14.98" height="1.02" fill="#130a00"/>
<rect x="272.07" y="278" width="14.98" height="1.02" fill="#0f0800"/>
<rect x="272.07" y="279" width="14.98" height="1.02" fill="#0f0800"/>
<rect x="272.07" y="280" width="14.98" height="1.02" fill="#00e800"/>
<rect x="272.07" y="281" width="14.98" height="1.02" fill="#00f100"/>
<rect x="272.07" y="282" width="14.98" height="1.02" fill="#00fa00"/>
<rect x="272.07" y="283" width="14.98" height="1.02" fill="#00f000"/>
<rect x="272.07" y="284" width="14.98" height="1.02" fill="#510000"/>
<rect x="272.07" y="285" width="14.98" height="1.02" fill="#420000"/>
<rect x="272.07" y="286" width="14.98" height="1.02" fill="#120a00"/>
<rect x="272.07" y="287" width="14.98" height="1.02" fill="#0f0800"/>
<rect x="272.07" y="288" width="14.98" height="1.02" fill="#140b00"/>
<rect x="272.07" y="289" width="14.98" height="1.02" fill="#0f0800"/>
<rect x="272.07" y="290" width="14.98" height="1.02" fill="#140b00"/>
<rect x="272.07" y="291" width="14.98" height="1.02" fill="#0f0800"/>
<rect x="272.07" y="292" width="14.98" height="1.02" fill="#100900"/>
<rect x="272.07" y="293" width="14.98" height="1.02" fill="#002f00"/>
<rect x="272.07" y="294" width="14.98" height="1.02" fill="#0f0800"/>
<rect x="272.07" y="295" width="14.98" height="1.02" fill="#120a00"/>
<rect x="272.07" y="296" width="14.98" height="1.02" fill="#110900"/>
<rect x="272.07" y="297" width="14.98" height="1.02" fill="#0f0800"/>
<rect x="272.07" y="298" width="14.98" height="1.02" fill="#150b00"/>
<rect x="272.07" y="299" width="14.98" height="1.02" fill="#00a300"/>
<rect x="272.07" y="300" width="14.98" height="1.02" fill="#008e00"/>
<rect x="272.07" y="301" width="14.98" height="1.02" fill="#009000"/>
<rect x="272.07" y="302" width="14.98" height="1.02" fill="#00e800"/>
<rect x="272.07" y="303" width="14.98" height="1.02" fill="#00ff00"/>
<rect x="272.07" y="304" width="14.98" height="1.02" fill="#003400"/>
<rect x="272.07" y="305" width="14.98" height="1.02" fill="#002e00"/>
<rect x="272.07" y="306" width="14.98" height="1.02" fill="#003d00"/>
<rect x="272.07" y="307" width="14.98" height="1.02" fill="#003f00"/>
<rect x="272.07" y="308" width="14.98" height="1.02" fill="#002f00"/>
<rect x="272.07" y="309" width="14.98" height="1.02" fill="#009600"/>
<rect x="272.07" y="310" width="14.98" height="1.02" fill="#008300"/>
<rect x="272.07" y="311" width="14.98" height="1.02" fill="#009e00"/>
<rect x="272.07" y="312" width="14.98" height="1.02" fill="#140b00"/>
<rect x="272.07" y="313" width="14.98" height="1.02" fill="#100900"/>
<rect x="272.07" y="314" width="14.98" height="1.02" fill="#130a00"/>
<rect x="272.07" y="315" width="14.98" height="1.02" fill="#100900"/>
<rect x="272.07" y="316" width="14.98" height="1.02" fill="#110900"/>
</g></g>
<path d="M58.4 90.8L58.4 91.1M58.4 90.8L63.0 90.8M58.4 91.1L63.0 91.1M59.1 90.5L59.1 90.9M59.1 90.5L63.0 90.5M59.1 90.9L59.7 90.9M55.2 90.2L55.2 90.7M55.2 90.2L63.0 90.2M55.2 90.7L59.1 90.7M58.1 91.4L58.1 91.7M58.1 91.4L63.0 91.4M58.1 91.7L63.0 91.7M57.1 91.6L57.1 92.0M57.1 91.6L58.1 91.6M57.1 92.0L63.0 92.0M50.5 90.4L50.5 91.8M50.5 90.4L55.2 90.4M50.5 91.8L57.1 91.8M59.5 92.2L59.5 92.6M59.5 92.2L63.0 92.2M59.5 92.6L63.0 92.6M59.2 92.9L59.2 93.2M59.2 92.9L63.0 92.9M59.2 93.2L63.0 93.2M55.3 92.4L55.3 93.0M55.3 92.4L59.5 92.4M55.3 93.0L59.2 93.0M58.6 93.6L58.6 93.9M58.6 93.6L63.0 93.6M58.6 93.9L63.0 93.9M58.6 94.2L58.6 94.5M58.6 94.2L63.0 94.2M58.6 94.5L63.0 94.5M52.6 93.8L52.6 94.4M52.6 93.8L58.6 93.8M52.6 94.4L58.6 94.4M58.5 94.9L58.5 95.2M58.5 94.9L63.0 94.9M58.5 95.2L63.0 95.2M54.6 95.0L54.6 95.6M54.6 95.0L58.5 95.0M54.6 95.6L63.0 95.6M54.5 95.3L54.5 96.0M54.5 95.3L55.1 95.3M54.5 96.0L63.0 96.0M48.4 94.1L48.4 95.6M48.4 94.1L52.6 94.1M48.4 95.6L54.5 95.6M44.1 92.7L44.1 94.9M44.1 92.7L55.3 92.7M44.1 94.9L48.4 94.9M40.7 91.1L40.7 93.8M40.7 91.1L50.5 91.1M40.7 93.8L44.1 93.8M59.3 96.5L59.3 96.8M59.3 96.5L63.0 96.5M59.3 96.8L63.0 96.8M58.3 96.2L58.3 96.7M58.3 96.2L63.0 96.2M58.3 96.7L59.3 96.7M56.2 96.5L56.2 97.0M56.2 96.5L58.3 96.5M56.2 97.0L63.0 97.0M54.1 96.7L54.1 97.4M54.1 96.7L56.2 96.7M54.1 97.4L63.0 97.4M59.0 97.8L59.0 98.1M59.0 97.8L63.0 97.8M59.0 98.1L63.0 98.1M56.0 97.9L56.0 98.4M56.0 97.9L59.0 97.9M56.0 98.4L63.0 98.4M51.4 97.1L51.4 98.2M51.4 97.1L54.1 97.1M51.4 98.2L56.0 98.2M59.1 98.8L59.1 99.1M59.1 98.8L63.0 98.8M59.1 99.1L63.0 99.1M59.5 100.3L59.5 100.7M59.5 100.3L63.0 100.3M59.5 100.7L63.0 100.7M56.5 99.9L56.5 100.5M56.5 99.9L63.0 99.9M56.5 100.5L59.5 100.5M51.0 99.5L51.0 100.2M51.0 99.5L63.0 99.5M51.0 100.2L56.5 100.2M50.4 99.0L50.4 99.9M50.4 99.0L59.1 99.0M50.4 99.9L51.0 99.9M58.9 101.0L58.9 101.4M58.9 101.0L63.0 101.0M58.9 101.4L63.0 101.4M58.5 101.7L58.5 102.0M58.5 101.7L63.0 101.7M58.5 102.0L63.0 102.0M54.8 101.2L54.8 101.8M54.8 101.2L58.9 101.2M54.8 101.8L58.5 101.8M45.6 99.4L45.6 101.5M45.6 99.4L50.4 99.4M45.6 101.5L54.8 101.5M43.9 97.6L43.9 100.5M43.9 97.6L51.4 97.6M43.9 100.5L45.6 100.5M35.9 92.4L35.9 99.0M35.9 92.4L40.7 92.4M35.9 99.0L43.9 99.0M59.2 102.4L59.2 102.7M59.2 102.4L63.0 102.4M59.2 102.7L63.0 102.7M58.2 103.2L58.2 103.5M58.2 103.2L63.0 103.2M58.2 103.5L63.0 103.5M55.1 102.9L55.1 103.4M55.1 102.9L63.0 102.9M55.1 103.4L58.2 103.4M54.0 102.5L54.0 103.2M54.0 102.5L59.2 102.5M54.0 103.2L55.1 103.2M58.1 103.9L58.1 104.2M58.1 103.9L63.0 103.9M58.1 104.2L63.0 104.2M59.5 104.9L59.5 105.2M59.5 104.9L63.0 104.9M59.5 105.2L63.0 105.2M56.3 104.6L56.3 105.1M56.3 104.6L63.0 104.6M56.3 105.1L59.5 105.1M58.7 105.6L58.7 105.9M58.7 105.6L63.0 105.6M58.7 105.9L63.0 105.9M52.9 104.9L52.9 105.7M52.9 104.9L56.3 104.9M52.9 105.7L58.7 105.7M48.6 104.0L48.6 105.3M48.6 104.0L58.1 104.0M48.6 105.3L52.9 105.3M58.9 106.7L58.9 107.1M58.9 106.7L63.0 106.7M58.9 107.1L63.0 107.1M55.6 106.3L55.6 106.9M55.6 106.3L63.0 106.3M55.6 106.9L58.9 106.9M47.0 104.7L47.0 106.6M47.0 104.7L48.6 104.7M47.0 106.6L55.6 106.6M42.5 102.9L42.5 105.6M42.5 102.9L54.0 102.9M42.5 105.6L47.0 105.6M31.9 95.7L31.9 104.2M31.9 95.7L35.9 95.7M31.9 104.2L42.5 104.2M58.2 107.2L58.2 107.5M58.2 107.2L63.0 107.2M58.2 107.5L63.0 107.5M56.7 107.4L56.7 107.9M56.7 107.4L58.2 107.4M56.7 107.9L63.0 107.9M59.4 108.6L59.4 108.9M59.4 108.6L63.0 108.6M59.4 108.9L63.0 108.9M55.6 108.3L55.6 108.8M55.6 108.3L63.0 108.3M55.6 108.8L59.4 108.8M52.2 108.5L52.2 109.3M52.2 108.5L55.6 108.5M52.2 109.3L63.0 109.3M47.7 107.6L47.7 108.9M47.7 107.6L56.7 107.6M47.7 108.9L52.2 108.9M58.5 110.1L58.5 110.4M58.5 110.1L63.0 110.1M58.5 110.4L63.0 110.4M54.7 109.8L54.7 110.2M54.7 109.8L63.0 109.8M54.7 110.2L58.5 110.2M48.4 108.3L48.4 110.0M48.4 108.3L49.0 108.3M48.4 110.0L54.7 110.0M56.6 111.2L56.6 111.6M56.6 111.2L63.0 111.2M56.6 111.6L63.0 111.6M53.0 110.8L53.0 111.4M53.0 110.8L63.0 110.8M53.0 111.4L56.6 111.4M59.2 112.3L59.2 112.6M59.2 112.3L63.0 112.3M59.2 112.6L63.0 112.6M56.7 112.0L56.7 112.4M56.7 112.0L63.0 112.0M56.7 112.4L59.2 112.4M54.5 112.2L54.5 113.0M54.5 112.2L56.7 112.2M54.5 113.0L63.0 113.0M59.0 113.7L59.0 114.1M59.0 113.7L63.0 113.7M59.0 114.1L63.0 114.1M57.0 113.4L57.0 113.9M57.0 113.4L63.0 113.4M57.0 113.9L59.0 113.9M47.6 112.6L47.6 113.6M47.6 112.6L54.5 112.6M47.6 113.6L57.0 113.6M47.6 111.1L47.6 113.1M47.6 111.1L53.0 111.1M47.6 113.1L48.2 113.1M58.7 114.4L58.7 114.6M58.7 114.4L63.0 114.4M58.7 114.6L63.0 114.6M55.5 114.5L55.5 115.0M55.5 114.5L58.7 114.5M55.5 115.0L63.0 115.0M52.4 114.8L52.4 115.4M52.4 114.8L55.5 114.8M52.4 115.4L63.0 115.4M58.6 116.3L58.6 116.6M58.6 116.3L63.0 116.3M58.6 116.6L63.0 116.6M58.1 116.1L58.1 116.5M58.1 116.1L63.0 116.1M58.1 116.5L58.7 116.5M52.4 116.3L52.4 117.0M52.4 116.3L58.1 116.3M52.4 117.0L63.0 117.0M53.8 115.8L53.8 116.7M53.8 115.8L63.0 115.8M53.8 116.7L54.4 116.7M49.3 115.1L49.3 116.2M49.3 115.1L52.4 115.1M49.3 116.2L53.8 116.2M38.4 112.1L38.4 115.6M38.4 112.1L47.6 112.1M38.4 115.6L49.3 115.6M33.9 109.1L33.9 113.9M33.9 109.1L48.4 109.1M33.9 113.9L38.4 113.9M58.2 117.5L58.2 117.8M58.2 117.5L63.0 117.5M58.2 117.8L63.0 117.8M55.8 117.6L55.8 118.1M55.8 117.6L58.2 117.6M55.8 118.1L63.0 118.1M58.5 118.5L58.5 118.9M58.5 118.5L63.0 118.5M58.5 118.9L63.0 118.9M55.0 119.2L55.0 119.7M55.0 119.2L63.0 119.2M55.0 119.7L63.0 119.7M50.3 118.7L50.3 119.5M50.3 118.7L58.5 118.7M50.3 119.5L55.0 119.5M58.7 120.1L58.7 120.4M58.7 120.1L63.0 120.1M58.7 120.4L63.0 120.4M55.2 120.3L55.2 120.7M55.2 120.3L58.7 120.3M55.2 120.7L63.0 120.7M48.3 119.1L48.3 120.5M48.3 119.1L50.3 119.1M48.3 120.5L55.2 120.5M43.4 117.9L43.4 119.8M43.4 117.9L55.8 117.9M43.4 119.8L48.3 119.8M58.2 121.0L58.2 121.3M58.2 121.0L63.0 121.0M58.2 121.3L63.0 121.3M58.6 121.2L58.6 121.6M58.6 121.2L59.2 121.2M58.6 121.6L63.0 121.6M58.3 121.7L58.3 122.0M58.3 121.7L63.0 121.7M58.3 122.0L63.0 122.0M58.4 122.3L58.4 122.6M58.4 122.3L63.0 122.3M58.4 122.6L63.0 122.6M55.7 121.9L55.7 122.5M55.7 121.9L58.3 121.9M55.7 122.5L58.4 122.5M58.7 123.1L58.7 123.4M58.7 123.1L63.0 123.1M58.7 123.4L63.0 123.4M51.0 122.2L51.0 123.3M51.0 122.2L55.7 122.2M51.0 123.3L58.7 123.3M47.6 121.4L47.6 122.7M47.6 121.4L58.6 121.4M47.6 122.7L51.0 122.7M58.2 123.8L58.2 124.2M58.2 123.8L63.0 123.8M58.2 124.2L63.0 124.2M59.6 124.6L59.6 124.9M59.6 124.6L63.0 124.6M59.6 124.9L63.0 124.9M53.7 124.0L53.7 124.7M53.7 124.0L58.2 124.0M53.7 124.7L59.6 124.7M59.3 125.6L59.3 125.9M59.3 125.6L63.0 125.6M59.3 125.9L63.0 125.9M55.4 125.2L55.4 125.8M55.4 125.2L63.0 125.2M55.4 125.8L59.3 125.8M50.6 124.3L50.6 125.5M50.6 124.3L53.7 124.3M50.6 125.5L55.4 125.5M43.8 122.0L43.8 124.9M43.8 122.0L47.6 122.0M43.8 124.9L50.6 124.9M36.5 118.8L36.5 123.5M36.5 118.8L43.4 118.8M36.5 123.5L43.8 123.5M31.9 111.5L31.9 121.2M31.9 111.5L33.9 111.5M31.9 121.2L36.5 121.2M36.0 100.0L36.0 116.3M36.0 100.0L36.6 100.0M36.0 116.3L36.6 116.3M59.4 126.6L59.4 127.0M59.4 126.6L63.0 126.6M59.4 127.0L63.0 127.0M55.7 126.2L55.7 126.8M55.7 126.2L63.0 126.2M55.7 126.8L59.4 126.8M59.2 127.3L59.2 127.6M59.2 127.3L63.0 127.3M59.2 127.6L63.0 127.6M55.4 127.5L55.4 128.0M55.4 127.5L59.2 127.5M55.4 128.0L63.0 128.0M52.6 127.7L52.6 128.4M52.6 127.7L55.4 127.7M52.6 128.4L63.0 128.4M46.2 126.5L46.2 128.1M46.2 126.5L55.7 126.5M46.2 128.1L52.6 128.1M59.2 129.2L59.2 129.5M59.2 129.2L63.0 129.2M59.2 129.5L63.0 129.5M56.0 128.8L56.0 129.4M56.0 128.8L63.0 128.8M56.0 129.4L59.2 129.4M43.7 127.3L43.7 129.1M43.7 127.3L46.2 127.3M43.7 129.1L56.0 129.1M59.5 129.8L59.5 130.2M59.5 129.8L63.0 129.8M59.5 130.2L63.0 130.2M58.5 130.7L58.5 131.0M58.5 130.7L63.0 130.7M58.5 131.0L63.0 131.0M58.3 130.5L58.3 130.9M58.3 130.5L63.0 130.5M58.3 130.9L58.9 130.9M52.1 130.0L52.1 130.7M52.1 130.0L59.5 130.0M52.1 130.7L58.3 130.7M59.1 131.4L59.1 131.7M59.1 131.4L63.0 131.4M59.1 131.7L63.0 131.7M51.4 130.3L51.4 131.5M51.4 130.3L52.1 130.3M51.4 131.5L59.1 131.5M58.9 131.9L58.9 132.3M58.9 131.9L63.0 131.9M58.9 132.3L63.0 132.3M59.4 132.6L59.4 132.9M59.4 132.6L63.0 132.6M59.4 132.9L63.0 132.9M55.6 133.3L55.6 133.8M55.6 133.3L63.0 133.3M55.6 133.8L63.0 133.8M52.6 132.7L52.6 133.5M52.6 132.7L59.4 132.7M52.6 133.5L55.6 133.5M52.7 132.1L52.7 133.1M52.7 132.1L58.9 132.1M52.7 133.1L53.3 133.1M44.0 130.9L44.0 132.6M44.0 130.9L51.4 130.9M44.0 132.6L52.7 132.6M41.9 128.2L41.9 131.8M41.9 128.2L43.7 128.2M41.9 131.8L44.0 131.8M59.6 134.4L59.6 134.7M59.6 134.4L63.0 134.4M59.6 134.7L63.0 134.7M58.9 134.1L58.9 134.6M58.9 134.1L63.0 134.1M58.9 134.6L59.6 134.6M59.2 135.0L59.2 135.2M59.2 135.0L63.0 135.0M59.2 135.2L63.0 135.2M58.6 135.5L58.6 135.8M58.6 135.5L63.0 135.5M58.6 135.8L63.0 135.8M55.4 135.7L55.4 136.2M55.4 135.7L58.6 135.7M55.4 136.2L63.0 136.2M53.0 135.1L53.0 135.9M53.0 135.1L59.2 135.1M53.0 135.9L55.4 135.9M48.4 134.4L48.4 135.5M48.4 134.4L58.9 134.4M48.4 135.5L53.0 135.5M58.2 136.5L58.2 136.8M58.2 136.5L63.0 136.5M58.2 136.8L63.0 136.8M56.2 136.6L56.2 137.1M56.2 136.6L58.2 136.6M56.2 137.1L63.0 137.1M45.5 134.9L45.5 136.9M45.5 134.9L48.4 134.9M45.5 136.9L56.2 136.9M58.6 137.6L58.6 137.9M58.6 137.6L63.0 137.6M58.6 137.9L63.0 137.9M59.0 138.2L59.0 138.6M59.0 138.2L63.0 138.2M59.0 138.6L63.0 138.6M55.0 137.7L55.0 138.4M55.0 137.7L58.6 137.7M55.0 138.4L59.0 138.4M58.2 138.9L58.2 139.2M58.2 138.9L63.0 138.9M58.2 139.2L63.0 139.2M54.9 139.1L54.9 139.6M54.9 139.1L58.2 139.1M54.9 139.6L63.0 139.6M47.2 138.1L47.2 139.3M47.2 138.1L55.0 138.1M47.2 139.3L54.9 139.3M41.5 135.9L41.5 138.7M41.5 135.9L45.5 135.9M41.5 138.7L47.2 138.7M36.4 130.0L36.4 137.3M36.4 130.0L41.9 130.0M36.4 137.3L41.5 137.3M58.1 139.9L58.1 140.2M58.1 139.9L63.0 139.9M58.1 140.2L63.0 140.2M59.2 140.1L59.2 140.4M59.2 140.1L59.8 140.1M59.2 140.4L63.0 140.4M58.8 140.7L58.8 141.0M58.8 140.7L63.0 140.7M58.8 141.0L63.0 141.0M53.3 140.3L53.3 140.9M53.3 140.3L59.2 140.3M53.3 140.9L58.8 140.9M59.1 141.4L59.1 141.7M59.1 141.4L63.0 141.4M59.1 141.7L63.0 141.7M49.5 140.6L49.5 141.5M49.5 140.6L53.3 140.6M49.5 141.5L59.1 141.5M58.7 142.1L58.7 142.5M58.7 142.1L63.0 142.1M58.7 142.5L63.0 142.5M58.4 142.9L58.4 143.3M58.4 142.9L63.0 142.9M58.4 143.3L63.0 143.3M58.8 142.7L58.8 143.1M58.8 142.7L63.0 142.7M58.8 143.1L59.4 143.1M53.6 142.3L53.6 142.9M53.6 142.3L58.7 142.3M53.6 142.9L58.8 142.9M59.1 143.7L59.1 144.1M59.1 143.7L63.0 143.7M59.1 144.1L63.0 144.1M58.3 144.9L58.3 145.2M58.3 144.9L63.0 144.9M58.3 145.2L63.0 145.2M55.9 145.1L55.9 145.5M55.9 145.1L58.3 145.1M55.9 145.5L63.0 145.5M54.9 144.5L54.9 145.3M54.9 144.5L63.0 144.5M54.9 145.3L55.9 145.3M49.2 143.9L49.2 144.9M49.2 143.9L59.1 143.9M49.2 144.9L54.9 144.9M43.4 142.6L43.4 144.4M43.4 142.6L53.6 142.6M43.4 144.4L49.2 144.4M40.7 141.1L40.7 143.5M40.7 141.1L49.5 141.1M40.7 143.5L43.4 143.5M32.1 133.6L32.1 142.3M32.1 133.6L36.4 133.6M32.1 142.3L40.7 142.3M58.6 145.9L58.6 146.2M58.6 145.9L63.0 145.9M58.6 146.2L63.0 146.2M56.4 146.1L56.4 146.6M56.4 146.1L58.6 146.1M56.4 146.6L63.0 146.6M59.1 146.9L59.1 147.2M59.1 146.9L63.0 146.9M59.1 147.2L63.0 147.2M55.0 147.0L55.0 147.6M55.0 147.0L59.1 147.0M55.0 147.6L63.0 147.6M51.8 146.3L51.8 147.3M51.8 146.3L56.4 146.3M51.8 147.3L55.0 147.3M58.8 148.4L58.8 148.8M58.8 148.4L63.0 148.4M58.8 148.8L63.0 148.8M55.7 148.0L55.7 148.6M55.7 148.0L63.0 148.0M55.7 148.6L58.8 148.6M58.1 149.5L58.1 150.0M58.1 149.5L63.0 149.5M58.1 150.0L63.0 150.0M55.6 149.2L55.6 149.7M55.6 149.2L63.0 149.2M55.6 149.7L58.1 149.7M47.0 148.3L47.0 149.5M47.0 148.3L55.7 148.3M47.0 149.5L55.6 149.5M58.7 150.3L58.7 150.7M58.7 150.3L63.0 150.3M58.7 150.7L63.0 150.7M56.2 150.5L56.2 151.1M56.2 150.5L58.7 150.5M56.2 151.1L63.0 151.1M48.1 148.9L48.1 150.8M48.1 148.9L48.7 148.9M48.1 150.8L56.2 150.8M58.1 152.4L58.1 152.7M58.1 152.4L63.0 152.4M58.1 152.7L63.0 152.7M55.8 152.0L55.8 152.6M55.8 152.0L63.0 152.0M55.8 152.6L58.1 152.6M53.1 151.5L53.1 152.3M53.1 151.5L63.0 151.5M53.1 152.3L55.8 152.3M41.1 149.9L41.1 151.9M41.1 149.9L48.1 149.9M41.1 151.9L53.1 151.9M36.9 146.8L36.9 150.9M36.9 146.8L51.8 146.8M36.9 150.9L41.1 150.9M59.3 153.5L59.3 153.8M59.3 153.5L63.0 153.5M59.3 153.8L63.0 153.8M56.0 153.0L56.0 153.6M56.0 153.0L63.0 153.0M56.0 153.6L59.3 153.6M50.7 153.3L50.7 154.2M50.7 153.3L56.0 153.3M50.7 154.2L63.0 154.2M58.4 154.5L58.4 154.8M58.4 154.5L63.0 154.5M58.4 154.8L63.0 154.8M58.5 155.7L58.5 156.1M58.5 155.7L63.0 155.7M58.5 156.1L63.0 156.1M54.7 155.3L54.7 155.9M54.7 155.3L63.0 155.3M54.7 155.9L58.5 155.9M50.3 154.7L50.3 155.6M50.3 154.7L58.4 154.7M50.3 155.6L54.7 155.6M48.6 153.8L48.6 155.1M48.6 153.8L50.7 153.8M48.6 155.1L50.3 155.1M59.2 156.4L59.2 156.7M59.2 156.4L63.0 156.4M59.2 156.7L63.0 156.7M58.8 157.1L58.8 157.4M58.8 157.1L63.0 157.1M58.8 157.4L63.0 157.4M55.0 156.6L55.0 157.3M55.0 156.6L59.2 156.6M55.0 157.3L58.8 157.3M59.0 157.8L59.0 158.2M59.0 157.8L63.0 157.8M59.0 158.2L63.0 158.2M52.3 156.9L52.3 158.0M52.3 156.9L55.0 156.9M52.3 158.0L59.0 158.0M59.3 158.5L59.3 158.8M59.3 158.5L63.0 158.5M59.3 158.8L63.0 158.8M58.3 159.1L58.3 159.3M58.3 159.1L63.0 159.1M58.3 159.3L63.0 159.3M58.3 159.6L58.3 159.8M58.3 159.6L63.0 159.6M58.3 159.8L63.0 159.8M55.5 159.2L55.5 159.7M55.5 159.2L58.3 159.2M55.5 159.7L58.3 159.7M51.9 158.7L51.9 159.5M51.9 158.7L59.3 158.7M51.9 159.5L55.5 159.5M46.5 157.4L46.5 159.1M46.5 157.4L52.3 157.4M46.5 159.1L51.9 159.1M42.0 154.4L42.0 158.2M42.0 154.4L48.6 154.4M42.0 158.2L46.5 158.2M29.6 148.8L29.6 156.3M29.6 148.8L36.9 148.8M29.6 156.3L42.0 156.3M35.0 138.0L35.0 152.6M35.0 138.0L35.6 138.0M35.0 152.6L35.6 152.6M33.0 108.2L33.0 145.3M33.0 108.2L36.0 108.2M33.0 145.3L35.0 145.3M58.5 160.4L58.5 160.7M58.5 160.4L63.0 160.4M58.5 160.7L63.0 160.7M56.8 160.2L56.8 160.6M56.8 160.2L63.0 160.2M56.8 160.6L58.5 160.6M52.1 160.4L52.1 161.1M52.1 160.4L56.8 160.4M52.1 161.1L63.0 161.1M58.5 161.8L58.5 162.1M58.5 161.8L63.0 161.8M58.5 162.1L63.0 162.1M56.9 161.5L56.9 161.9M56.9 161.5L63.0 161.5M56.9 161.9L58.5 161.9M59.3 162.4L59.3 162.7M59.3 162.4L63.0 162.4M59.3 162.7L63.0 162.7M54.0 161.7L54.0 162.5M54.0 161.7L56.9 161.7M54.0 162.5L59.3 162.5M59.4 162.9L59.4 163.2M59.4 162.9L63.0 162.9M59.4 163.2L63.0 163.2M58.2 163.1L58.2 163.4M58.2 163.1L59.4 163.1M58.2 163.4L63.0 163.4M52.3 162.1L52.3 163.3M52.3 162.1L54.0 162.1M52.3 163.3L58.2 163.3M43.8 160.7L43.8 162.7M43.8 160.7L52.1 160.7M43.8 162.7L52.3 162.7M59.5 164.0L59.5 164.3M59.5 164.0L63.0 164.0M59.5 164.3L63.0 164.3M57.0 163.7L57.0 164.1M57.0 163.7L63.0 163.7M57.0 164.1L59.5 164.1M59.3 164.9L59.3 165.2M59.3 164.9L63.0 164.9M59.3 165.2L63.0 165.2M56.8 164.6L56.8 165.1M56.8 164.6L63.0 164.6M56.8 165.1L59.3 165.1M59.4 165.4L59.4 165.7M59.4 165.4L63.0 165.4M59.4 165.7L63.0 165.7M58.1 165.6L58.1 166.0M58.1 165.6L59.4 165.6M58.1 166.0L63.0 166.0M51.9 164.8L51.9 165.8M51.9 164.8L56.8 164.8M51.9 165.8L58.1 165.8M48.4 163.9L48.4 165.3M48.4 163.9L57.0 163.9M48.4 165.3L51.9 165.3M58.9 166.8L58.9 167.2M58.9 166.8L63.0 166.8M58.9 167.2L63.0 167.2M52.8 166.4L52.8 167.0M52.8 166.4L63.0 166.4M52.8 167.0L58.9 167.0M59.5 167.6L59.5 168.0M59.5 167.6L63.0 167.6M59.5 168.0L63.0 168.0M58.3 168.2L58.3 168.5M58.3 168.2L63.0 168.2M58.3 168.5L63.0 168.5M54.0 167.8L54.0 168.4M54.0 167.8L59.5 167.8M54.0 168.4L58.3 168.4M47.1 166.7L47.1 168.1M47.1 166.7L52.8 166.7M47.1 168.1L54.0 168.1M41.1 164.6L41.1 167.4M41.1 164.6L48.4 164.6M41.1 167.4L47.1 167.4M40.2 161.7L40.2 166.0M40.2 161.7L43.8 161.7M40.2 166.0L41.1 166.0M59.3 168.9L59.3 169.3M59.3 168.9L63.0 168.9M59.3 169.3L63.0 169.3M58.3 169.7L58.3 170.0M58.3 169.7L63.0 169.7M58.3 170.0L63.0 170.0M55.1 169.8L55.1 170.3M55.1 169.8L58.3 169.8M55.1 170.3L63.0 170.3M55.3 170.1L55.3 170.8M55.3 170.1L55.9 170.1M55.3 170.8L63.0 170.8M49.8 169.1L49.8 170.4M49.8 169.1L59.3 169.1M49.8 170.4L55.3 170.4M58.4 171.1L58.4 171.4M58.4 171.1L63.0 171.1M58.4 171.4L63.0 171.4M58.8 171.3L58.8 171.7M58.8 171.3L59.4 171.3M58.8 171.7L63.0 171.7M58.2 172.0L58.2 172.3M58.2 172.0L63.0 172.0M58.2 172.3L63.0 172.3M54.0 171.5L54.0 172.1M54.0 171.5L58.8 171.5M54.0 172.1L58.2 172.1M45.9 169.8L45.9 171.8M45.9 169.8L49.8 169.8M45.9 171.8L54.0 171.8M32.5 163.9L32.5 170.8M32.5 163.9L40.2 163.9M32.5 170.8L45.9 170.8M59.5 172.6L59.5 173.0M59.5 172.6L63.0 172.6M59.5 173.0L63.0 173.0M54.0 172.8L54.0 173.5M54.0 172.8L59.5 172.8M54.0 173.5L63.0 173.5M59.0 174.1L59.0 174.4M59.0 174.1L63.0 174.1M59.0 174.4L63.0 174.4M58.9 173.8L58.9 174.2M58.9 173.8L63.0 173.8M58.9 174.2L59.5 174.2M49.3 173.1L49.3 174.0M49.3 173.1L54.0 173.1M49.3 174.0L58.9 174.0M54.8 175.3L54.8 175.7M54.8 175.3L63.0 175.3M54.8 175.7L63.0 175.7M53.3 174.7L53.3 175.5M53.3 174.7L63.0 174.7M53.3 175.5L54.8 175.5M44.1 173.6L44.1 175.1M44.1 173.6L49.3 173.6M44.1 175.1L53.3 175.1M58.7 176.1L58.7 176.6M58.7 176.1L63.0 176.1M58.7 176.6L63.0 176.6M59.0 177.0L59.0 177.3M59.0 177.0L63.0 177.0M59.0 177.3L63.0 177.3M54.3 176.3L54.3 177.2M54.3 176.3L58.7 176.3M54.3 177.2L59.0 177.2M44.2 174.3L44.2 176.7M44.2 174.3L44.8 174.3M44.2 176.7L54.3 176.7M58.5 177.5L58.5 177.8M58.5 177.5L63.0 177.5M58.5 177.8L63.0 177.8M57.1 177.7L57.1 178.3M57.1 177.7L58.5 177.7M57.1 178.3L63.0 178.3M52.9 178.0L52.9 178.8M52.9 178.0L57.1 178.0M52.9 178.8L63.0 178.8M59.3 179.4L59.3 179.8M59.3 179.4L63.0 179.4M59.3 179.8L63.0 179.8M56.2 179.1L56.2 179.6M56.2 179.1L63.0 179.1M56.2 179.6L59.3 179.6M48.6 178.4L48.6 179.4M48.6 178.4L52.9 178.4M48.6 179.4L56.2 179.4M37.3 175.5L37.3 178.9M37.3 175.5L44.2 175.5M37.3 178.9L48.6 178.9M39.0 167.3L39.0 177.2M39.0 167.3L39.6 167.3M39.0 177.2L39.6 177.2M54.6 180.3L54.6 180.7M54.6 180.3L63.0 180.3M54.6 180.7L63.0 180.7M58.7 181.3L58.7 181.6M58.7 181.3L63.0 181.3M58.7 181.6L63.0 181.6M58.4 181.0L58.4 181.5M58.4 181.0L63.0 181.0M58.4 181.5L59.0 181.5M50.1 180.5L50.1 181.2M50.1 180.5L54.6 180.5M50.1 181.2L58.4 181.2M59.3 181.8L59.3 182.1M59.3 181.8L63.0 181.8M59.3 182.1L63.0 182.1M58.7 182.4L58.7 182.7M58.7 182.4L63.0 182.4M58.7 182.7L63.0 182.7M56.8 182.0L56.8 182.5M56.8 182.0L59.3 182.0M56.8 182.5L58.7 182.5M53.8 182.2L53.8 183.1M53.8 182.2L56.8 182.2M53.8 183.1L63.0 183.1M46.1 180.9L46.1 182.7M46.1 180.9L50.1 180.9M46.1 182.7L53.8 182.7M58.8 183.5L58.8 183.9M58.8 183.5L63.0 183.5M58.8 183.9L63.0 183.9M59.0 184.2L59.0 184.6M59.0 184.2L63.0 184.2M59.0 184.6L63.0 184.6M52.2 183.7L52.2 184.4M52.2 183.7L58.8 183.7M52.2 184.4L59.0 184.4M45.3 181.8L45.3 184.0M45.3 181.8L46.1 181.8M45.3 184.0L52.2 184.0M59.3 185.3L59.3 185.6M59.3 185.3L63.0 185.3M59.3 185.6L63.0 185.6M56.5 184.9L56.5 185.4M56.5 184.9L63.0 184.9M56.5 185.4L59.3 185.4M58.9 186.4L58.9 186.7M58.9 186.4L63.0 186.4M58.9 186.7L63.0 186.7M57.0 186.6L57.0 187.1M57.0 186.6L58.9 186.6M57.0 187.1L63.0 187.1M52.1 186.8L52.1 187.4M52.1 186.8L57.0 186.8M52.1 187.4L63.0 187.4M51.0 186.0L51.0 187.1M51.0 186.0L63.0 186.0M51.0 187.1L52.1 187.1M58.1 187.7L58.1 188.2M58.1 187.7L63.0 187.7M58.1 188.2L63.0 188.2M48.8 186.5L48.8 187.9M48.8 186.5L51.0 186.5M48.8 187.9L58.1 187.9M47.6 185.2L47.6 187.2M47.6 185.2L56.5 185.2M47.6 187.2L48.8 187.2M58.7 188.5L58.7 188.8M58.7 188.5L63.0 188.5M58.7 188.8L63.0 188.8M58.1 188.6L58.1 189.1M58.1 188.6L58.7 188.6M58.1 189.1L63.0 189.1M58.6 189.4L58.6 189.9M58.6 189.4L63.0 189.4M58.6 189.9L63.0 189.9M51.1 188.8L51.1 189.6M51.1 188.8L58.1 188.8M51.1 189.6L58.6 189.6M59.3 190.2L59.3 190.5M59.3 190.2L63.0 190.2M59.3 190.5L63.0 190.5M49.2 189.2L49.2 190.3M49.2 189.2L51.1 189.2M49.2 190.3L59.3 190.3M43.5 186.2L43.5 189.8M43.5 186.2L47.6 186.2M43.5 189.8L49.2 189.8M58.7 191.2L58.7 191.5M58.7 191.2L63.0 191.2M58.7 191.5L63.0 191.5M56.0 190.9L56.0 191.4M56.0 190.9L63.0 190.9M56.0 191.4L58.7 191.4M58.4 191.9L58.4 192.2M58.4 191.9L63.0 191.9M58.4 192.2L63.0 192.2M52.2 191.2L52.2 192.0M52.2 191.2L56.0 191.2M52.2 192.0L58.4 192.0M58.4 192.6L58.4 192.9M58.4 192.6L63.0 192.6M58.4 192.9L63.0 192.9M56.9 192.7L56.9 193.2M56.9 192.7L58.4 192.7M56.9 193.2L63.0 193.2M58.5 193.5L58.5 193.8M58.5 193.5L63.0 193.5M58.5 193.8L63.0 193.8M58.4 194.1L58.4 194.4M58.4 194.1L63.0 194.1M58.4 194.4L63.0 194.4M55.7 194.2L55.7 194.8M55.7 194.2L58.4 194.2M55.7 194.8L63.0 194.8M52.5 193.7L52.5 194.5M52.5 193.7L58.5 193.7M52.5 194.5L55.7 194.5M47.0 193.0L47.0 194.1M47.0 193.0L56.9 193.0M47.0 194.1L52.5 194.1M58.2 195.3L58.2 195.6M58.2 195.3L63.0 195.3M58.2 195.6L63.0 195.6M56.5 195.4L56.5 195.9M56.5 195.4L58.2 195.4M56.5 195.9L63.0 195.9M43.4 193.5L43.4 195.7M43.4 193.5L47.0 193.5M43.4 195.7L56.5 195.7M42.8 191.6L42.8 194.6M42.8 191.6L52.2 191.6M42.8 194.6L43.4 194.6M34.9 188.0L34.9 193.1M34.9 188.0L43.5 188.0M34.9 193.1L42.8 193.1M38.0 182.9L38.0 190.5M38.0 182.9L45.3 182.9M38.0 190.5L38.6 190.5M35.0 172.3L35.0 186.7M35.0 172.3L39.0 172.3M35.0 186.7L38.0 186.7M29.0 126.7L29.0 179.5M29.0 126.7L33.0 126.7M29.0 179.5L35.0 179.5M59.4 196.2L59.4 196.4M59.4 196.2L63.0 196.2M59.4 196.4L63.0 196.4M56.1 196.3L56.1 196.8M56.1 196.3L59.4 196.3M56.1 196.8L63.0 196.8M58.6 197.7L58.6 198.0M58.6 197.7L63.0 197.7M58.6 198.0L63.0 198.0M58.9 198.2L58.9 198.5M58.9 198.2L63.0 198.2M58.9 198.5L63.0 198.5M55.5 197.8L55.5 198.4M55.5 197.8L58.6 197.8M55.5 198.4L58.9 198.4M53.7 197.3L53.7 198.1M53.7 197.3L63.0 197.3M53.7 198.1L55.5 198.1M50.5 196.6L50.5 197.7M50.5 196.6L56.1 196.6M50.5 197.7L53.7 197.7M59.2 198.8L59.2 199.1M59.2 198.8L63.0 198.8M59.2 199.1L63.0 199.1M58.6 199.0L58.6 199.4M58.6 199.0L59.2 199.0M58.6 199.4L63.0 199.4M55.0 199.2L55.0 199.8M55.0 199.2L58.6 199.2M55.0 199.8L63.0 199.8M58.7 200.7L58.7 201.1M58.7 200.7L63.0 200.7M58.7 201.1L63.0 201.1M54.7 200.3L54.7 200.9M54.7 200.3L63.0 200.3M54.7 200.9L58.7 200.9M54.8 201.4L54.8 201.9M54.8 201.4L63.0 201.4M54.8 201.9L63.0 201.9M51.1 200.6L51.1 201.7M51.1 200.6L54.7 200.6M51.1 201.7L54.8 201.7M59.4 202.8L59.4 203.1M59.4 202.8L63.0 202.8M59.4 203.1L63.0 203.1M58.3 202.6L58.3 203.0M58.3 202.6L63.0 202.6M58.3 203.0L59.4 203.0M56.2 202.3L56.2 202.8M56.2 202.3L63.0 202.3M56.2 202.8L58.3 202.8M48.6 201.1L48.6 202.5M48.6 201.1L51.1 201.1M48.6 202.5L56.2 202.5M41.9 199.5L41.9 201.8M41.9 199.5L55.0 199.5M41.9 201.8L48.6 201.8M58.6 203.7L58.6 204.0M58.6 203.7L63.0 203.7M58.6 204.0L63.0 204.0M57.0 203.4L57.0 203.9M57.0 203.4L63.0 203.4M57.0 203.9L58.6 203.9M59.1 204.5L59.1 204.8M59.1 204.5L63.0 204.5M59.1 204.8L63.0 204.8M52.8 203.7L52.8 204.6M52.8 203.7L57.0 203.7M52.8 204.6L59.1 204.6M59.4 205.5L59.4 205.8M59.4 205.5L63.0 205.5M59.4 205.8L63.0 205.8M55.4 205.1L55.4 205.6M55.4 205.1L63.0 205.1M55.4 205.6L59.4 205.6M48.3 204.1L48.3 205.4M48.3 204.1L52.8 204.1M48.3 205.4L55.4 205.4M41.4 200.7L41.4 204.7M41.4 200.7L42.0 200.7M41.4 204.7L48.3 204.7M40.0 197.1L40.0 202.7M40.0 197.1L50.5 197.1M40.0 202.7L41.4 202.7M58.4 206.2L58.4 206.5M58.4 206.2L63.0 206.2M58.4 206.5L63.0 206.5M59.1 206.9L59.1 207.4M59.1 206.9L63.0 206.9M59.1 207.4L63.0 207.4M50.4 206.3L50.4 207.2M50.4 206.3L58.4 206.3M50.4 207.2L59.1 207.2M58.2 207.8L58.2 208.1M58.2 207.8L63.0 207.8M58.2 208.1L63.0 208.1M48.7 206.7L48.7 208.0M48.7 206.7L50.4 206.7M48.7 208.0L58.2 208.0M59.0 208.4L59.0 208.8M59.0 208.4L63.0 208.4M59.0 208.8L63.0 208.8M59.3 209.7L59.3 210.0M59.3 209.7L63.0 209.7M59.3 210.0L63.0 210.0M56.2 209.3L56.2 209.9M56.2 209.3L63.0 209.3M56.2 209.9L59.3 209.9M51.7 208.6L51.7 209.6M51.7 208.6L59.0 208.6M51.7 209.6L56.2 209.6M43.5 207.4L43.5 209.1M43.5 207.4L48.7 207.4M43.5 209.1L51.7 209.1M59.5 210.3L59.5 210.6M59.5 210.3L63.0 210.3M59.5 210.6L63.0 210.6M58.1 210.9L58.1 211.2M58.1 210.9L63.0 210.9M58.1 211.2L63.0 211.2M55.8 211.1L55.8 211.6M55.8 211.1L58.1 211.1M55.8 211.6L63.0 211.6M50.5 210.5L50.5 211.3M50.5 210.5L59.5 210.5M50.5 211.3L55.8 211.3M58.7 212.3L58.7 212.6M58.7 212.3L63.0 212.3M58.7 212.6L63.0 212.6M55.1 211.9L55.1 212.4M55.1 211.9L63.0 211.9M55.1 212.4L58.7 212.4M50.9 210.9L50.9 212.2M50.9 210.9L51.5 210.9M50.9 212.2L55.1 212.2M58.5 213.0L58.5 213.3M58.5 213.0L63.0 213.0M58.5 213.3L63.0 213.3M58.6 213.5L58.6 213.8M58.6 213.5L63.0 213.5M58.6 213.8L63.0 213.8M56.8 213.6L56.8 214.1M56.8 213.6L58.6 213.6M56.8 214.1L63.0 214.1M59.2 214.5L59.2 214.9M59.2 214.5L63.0 214.5M59.2 214.9L63.0 214.9M53.6 213.9L53.6 214.7M53.6 213.9L56.8 213.9M53.6 214.7L59.2 214.7M52.4 213.1L52.4 214.3M52.4 213.1L58.5 213.1M52.4 214.3L53.6 214.3M41.2 211.5L41.2 213.7M41.2 211.5L50.9 211.5M41.2 213.7L52.4 213.7M58.8 215.2L58.8 215.5M58.8 215.2L63.0 215.2M58.8 215.5L63.0 215.5M54.7 215.4L54.7 216.0M54.7 215.4L58.8 215.4M54.7 216.0L63.0 216.0M58.3 216.8L58.3 217.1M58.3 216.8L63.0 216.8M58.3 217.1L63.0 217.1M54.8 216.4L54.8 216.9M54.8 216.4L63.0 216.4M54.8 216.9L58.3 216.9M58.3 217.4L58.3 217.7M58.3 217.4L63.0 217.4M58.3 217.7L63.0 217.7M51.1 216.7L51.1 217.6M51.1 216.7L54.8 216.7M51.1 217.6L58.3 217.6M48.8 215.7L48.8 217.1M48.8 215.7L54.7 215.7M48.8 217.1L51.1 217.1M58.8 218.0L58.8 218.4M58.8 218.0L63.0 218.0M58.8 218.4L63.0 218.4M54.7 218.2L54.7 218.7M54.7 218.2L58.8 218.2M54.7 218.7L63.0 218.7M50.7 218.5L50.7 219.2M50.7 218.5L54.7 218.5M50.7 219.2L63.0 219.2M44.0 216.4L44.0 218.9M44.0 216.4L48.8 216.4M44.0 218.9L50.7 218.9M35.2 212.6L35.2 217.6M35.2 212.6L41.2 212.6M35.2 217.6L44.0 217.6M36.0 208.2L36.0 215.1M36.0 208.2L43.5 208.2M36.0 215.1L36.6 215.1M59.3 219.9L59.3 220.3M59.3 219.9L63.0 219.9M59.3 220.3L63.0 220.3M56.2 219.6L56.2 220.1M56.2 219.6L63.0 219.6M56.2 220.1L59.3 220.1M52.9 219.9L52.9 220.6M52.9 219.9L56.2 219.9M52.9 220.6L63.0 220.6M59.4 221.0L59.4 221.4M59.4 221.0L63.0 221.0M59.4 221.4L63.0 221.4M59.5 222.1L59.5 222.5M59.5 222.1L63.0 222.1M59.5 222.5L63.0 222.5M55.2 221.7L55.2 222.3M55.2 221.7L63.0 221.7M55.2 222.3L59.5 222.3M52.5 221.2L52.5 222.0M52.5 221.2L59.4 221.2M52.5 222.0L55.2 222.0M58.7 223.0L58.7 223.3M58.7 223.0L63.0 223.0M58.7 223.3L63.0 223.3M49.3 221.6L49.3 223.1M49.3 221.6L52.5 221.6M49.3 223.1L58.7 223.1M46.1 220.2L46.1 222.4M46.1 220.2L52.9 220.2M46.1 222.4L49.3 222.4M58.7 224.0L58.7 224.3M58.7 224.0L63.0 224.0M58.7 224.3L63.0 224.3M56.6 224.1L56.6 224.6M56.6 224.1L58.7 224.1M56.6 224.6L63.0 224.6M54.8 223.7L54.8 224.4M54.8 223.7L63.0 223.7M54.8 224.4L56.6 224.4M59.1 225.0L59.1 225.4M59.1 225.0L63.0 225.0M59.1 225.4L63.0 225.4M54.8 225.2L54.8 225.8M54.8 225.2L59.1 225.2M54.8 225.8L63.0 225.8M58.2 226.2L58.2 226.5M58.2 226.2L63.0 226.2M58.2 226.5L63.0 226.5M56.5 226.4L56.5 226.9M56.5 226.4L58.2 226.4M56.5 226.9L63.0 226.9M58.8 227.1L58.8 227.5M58.8 227.1L63.0 227.1M58.8 227.5L63.0 227.5M55.8 227.3L55.8 227.9M55.8 227.3L58.8 227.3M55.8 227.9L63.0 227.9M49.1 226.6L49.1 227.6M49.1 226.6L56.5 226.6M49.1 227.6L55.8 227.6M49.0 225.5L49.0 227.1M49.0 225.5L54.8 225.5M49.0 227.1L49.6 227.1M47.3 224.0L47.3 226.3M47.3 224.0L54.8 224.0M47.3 226.3L49.0 226.3M36.3 221.3L36.3 225.2M36.3 221.3L46.1 221.3M36.3 225.2L47.3 225.2M37.0 211.7L37.0 223.2M37.0 211.7L37.6 211.7M37.0 223.2L37.6 223.2M33.2 199.9L33.2 217.5M33.2 199.9L40.0 199.9M33.2 217.5L37.0 217.5M58.1 228.7L58.1 229.1M58.1 228.7L63.0 228.7M58.1 229.1L63.0 229.1M53.7 228.2L53.7 228.9M53.7 228.2L63.0 228.2M53.7 228.9L58.1 228.9M56.0 229.8L56.0 230.2M56.0 229.8L63.0 229.8M56.0 230.2L63.0 230.2M56.6 229.4L56.6 230.0M56.6 229.4L63.0 229.4M56.6 230.0L57.2 230.0M49.9 228.6L49.9 229.7M49.9 228.6L53.7 228.6M49.9 229.7L56.6 229.7M59.3 230.9L59.3 231.2M59.3 230.9L63.0 230.9M59.3 231.2L63.0 231.2M58.7 230.6L58.7 231.0M58.7 230.6L63.0 230.6M58.7 231.0L59.3 231.0M59.2 231.5L59.2 231.8M59.2 231.5L63.0 231.5M59.2 231.8L63.0 231.8M52.7 230.8L52.7 231.6M52.7 230.8L58.7 230.8M52.7 231.6L59.2 231.6M42.8 229.2L42.8 231.2M42.8 229.2L49.9 229.2M42.8 231.2L52.7 231.2M58.3 232.2L58.3 232.5M58.3 232.2L63.0 232.2M58.3 232.5L63.0 232.5M58.4 231.9L58.4 232.3M58.4 231.9L63.0 231.9M58.4 232.3L59.0 232.3M59.4 233.2L59.4 233.5M59.4 233.2L63.0 233.2M59.4 233.5L63.0 233.5M56.5 233.3L56.5 233.9M56.5 233.3L59.4 233.3M56.5 233.9L63.0 233.9M52.7 232.8L52.7 233.6M52.7 232.8L63.0 232.8M52.7 233.6L56.5 233.6M50.4 232.1L50.4 233.2M50.4 232.1L58.4 232.1M50.4 233.2L52.7 233.2M59.3 234.2L59.3 234.5M59.3 234.2L63.0 234.2M59.3 234.5L63.0 234.5M59.4 234.3L59.4 234.7M59.4 234.3L60.0 234.3M59.4 234.7L63.0 234.7M56.1 234.5L56.1 235.0M56.1 234.5L59.4 234.5M56.1 235.0L63.0 235.0M58.8 235.3L58.8 235.6M58.8 235.3L63.0 235.3M58.8 235.6L63.0 235.6M52.8 234.8L52.8 235.5M52.8 234.8L56.1 234.8M52.8 235.5L58.8 235.5M58.3 236.0L58.3 236.4M58.3 236.0L63.0 236.0M58.3 236.4L63.0 236.4M48.9 235.1L48.9 236.2M48.9 235.1L52.8 235.1M48.9 236.2L58.3 236.2M59.1 237.1L59.1 237.4M59.1 237.1L63.0 237.1M59.1 237.4L63.0 237.4M56.4 236.8L56.4 237.3M56.4 236.8L63.0 236.8M56.4 237.3L59.1 237.3M46.6 235.7L46.6 237.0M46.6 235.7L48.9 235.7M46.6 237.0L56.4 237.0M38.8 232.7L38.8 236.3M38.8 232.7L50.4 232.7M38.8 236.3L46.6 236.3M59.0 237.8L59.0 238.0M59.0 237.8L63.0 237.8M59.0 238.0L63.0 238.0M59.0 238.6L59.0 238.9M59.0 238.6L63.0 238.6M59.0 238.9L63.0 238.9M58.6 238.3L58.6 238.8M58.6 238.3L63.0 238.3M58.6 238.8L59.2 238.8M52.2 238.5L52.2 239.3M52.2 238.5L58.6 238.5M52.2 239.3L63.0 239.3M51.2 237.9L51.2 238.9M51.2 237.9L59.0 237.9M51.2 238.9L52.2 238.9M59.3 240.0L59.3 240.3M59.3 240.0L63.0 240.0M59.3 240.3L63.0 240.3M54.6 240.2L54.6 240.7M54.6 240.2L59.3 240.2M54.6 240.7L63.0 240.7M53.9 239.7L53.9 240.4M53.9 239.7L63.0 239.7M53.9 240.4L54.6 240.4M58.8 241.5L58.8 241.8M58.8 241.5L63.0 241.5M58.8 241.8L63.0 241.8M56.4 241.1L56.4 241.6M56.4 241.1L63.0 241.1M56.4 241.6L58.8 241.6M50.6 240.0L50.6 241.4M50.6 240.0L53.9 240.0M50.6 241.4L56.4 241.4M42.7 238.4L42.7 240.7M42.7 238.4L51.2 238.4M42.7 240.7L50.6 240.7M37.1 234.5L37.1 239.6M37.1 234.5L38.8 234.5M37.1 239.6L42.7 239.6M38.8 230.2L38.8 237.0M38.8 230.2L42.8 230.2M38.8 237.0L39.4 237.0M58.3 242.5L58.3 242.7M58.3 242.5L63.0 242.5M58.3 242.7L63.0 242.7M55.3 242.2L55.3 242.6M55.3 242.2L63.0 242.2M55.3 242.6L58.3 242.6M58.6 243.3L58.6 243.6M58.6 243.3L63.0 243.3M58.6 243.6L63.0 243.6M59.4 243.0L59.4 243.5M59.4 243.0L63.0 243.0M59.4 243.5L60.0 243.5M50.2 242.4L50.2 243.2M50.2 242.4L55.3 242.4M50.2 243.2L59.4 243.2M59.4 243.8L59.4 244.1M59.4 243.8L63.0 243.8M59.4 244.1L63.0 244.1M55.0 244.0L55.0 244.5M55.0 244.0L59.4 244.0M55.0 244.5L63.0 244.5M58.2 245.6L58.2 245.9M58.2 245.6L63.0 245.6M58.2 245.9L63.0 245.9M56.1 245.3L56.1 245.8M56.1 245.3L63.0 245.3M56.1 245.8L58.2 245.8M54.9 245.0L54.9 245.5M54.9 245.0L63.0 245.0M54.9 245.5L56.1 245.5M50.9 244.2L50.9 245.3M50.9 244.2L55.0 244.2M50.9 245.3L54.9 245.3M43.3 242.8L43.3 244.8M43.3 242.8L50.2 242.8M43.3 244.8L50.9 244.8M58.1 246.6L58.1 246.9M58.1 246.6L63.0 246.6M58.1 246.9L63.0 246.9M56.2 246.7L56.2 247.1M56.2 246.7L58.1 246.7M56.2 247.1L63.0 247.1M56.1 246.3L56.1 246.9M56.1 246.3L63.0 246.3M56.1 246.9L56.7 246.9M59.1 247.8L59.1 248.1M59.1 247.8L63.0 247.8M59.1 248.1L63.0 248.1M57.1 247.5L57.1 248.0M57.1 247.5L63.0 247.5M57.1 248.0L59.1 248.0M59.4 248.4L59.4 248.8M59.4 248.4L63.0 248.4M59.4 248.8L63.0 248.8M51.4 247.7L51.4 248.6M51.4 247.7L57.1 247.7M51.4 248.6L59.4 248.6M48.8 246.6L48.8 248.2M48.8 246.6L56.1 246.6M48.8 248.2L51.4 248.2M59.3 249.2L59.3 249.4M59.3 249.2L63.0 249.2M59.3 249.4L63.0 249.4M55.1 249.3L55.1 249.7M55.1 249.3L59.3 249.3M55.1 249.7L63.0 249.7M58.2 250.1L58.2 250.3M58.2 250.1L63.0 250.1M58.2 250.3L63.0 250.3M53.7 249.5L53.7 250.2M53.7 249.5L55.1 249.5M53.7 250.2L58.2 250.2M43.1 247.4L43.1 249.9M43.1 247.4L48.8 247.4M43.1 249.9L53.7 249.9M54.7 250.7L54.7 251.2M54.7 250.7L63.0 250.7M54.7 251.2L63.0 251.2M58.5 251.7L58.5 252.0M58.5 251.7L63.0 251.7M58.5 252.0L63.0 252.0M53.4 251.0L53.4 251.8M53.4 251.0L54.7 251.0M53.4 251.8L58.5 251.8M59.4 252.7L59.4 253.0M59.4 252.7L63.0 252.7M59.4 253.0L63.0 253.0M55.6 252.3L55.6 252.8M55.6 252.3L63.0 252.3M55.6 252.8L59.4 252.8M53.2 252.6L53.2 253.5M53.2 252.6L55.6 252.6M53.2 253.5L63.0 253.5M48.1 251.4L48.1 253.0M48.1 251.4L53.4 251.4M48.1 253.0L53.2 253.0M39.6 248.6L39.6 252.2M39.6 248.6L43.1 248.6M39.6 252.2L48.1 252.2M38.5 243.8L38.5 250.4M38.5 243.8L43.3 243.8M38.5 250.4L39.6 250.4M55.8 254.0L55.8 254.4M55.8 254.0L63.0 254.0M55.8 254.4L63.0 254.4M54.9 254.2L54.9 254.8M54.9 254.2L55.8 254.2M54.9 254.8L63.0 254.8M53.5 254.5L53.5 255.2M53.5 254.5L54.9 254.5M53.5 255.2L63.0 255.2M58.3 255.6L58.3 255.9M58.3 255.6L63.0 255.6M58.3 255.9L63.0 255.9M58.2 255.7L58.2 256.1M58.2 255.7L58.8 255.7M58.2 256.1L63.0 256.1M59.2 256.3L59.2 256.6M59.2 256.3L63.0 256.3M59.2 256.6L63.0 256.6M59.1 256.4L59.1 256.8M59.1 256.4L59.7 256.4M59.1 256.8L63.0 256.8M56.9 256.6L56.9 257.1M56.9 256.6L59.1 256.6M56.9 257.1L63.0 257.1M51.7 255.9L51.7 256.9M51.7 255.9L58.2 255.9M51.7 256.9L56.9 256.9M47.2 254.9L47.2 256.4M47.2 254.9L53.5 254.9M47.2 256.4L51.7 256.4M59.5 258.2L59.5 258.5M59.5 258.2L63.0 258.2M59.5 258.5L63.0 258.5M55.8 257.9L55.8 258.3M55.8 257.9L63.0 257.9M55.8 258.3L59.5 258.3M52.6 257.6L52.6 258.1M52.6 257.6L63.0 257.6M52.6 258.1L55.8 258.1M44.7 255.6L44.7 257.8M44.7 255.6L47.2 255.6M44.7 257.8L52.6 257.8M59.0 258.9L59.0 259.2M59.0 258.9L63.0 258.9M59.0 259.2L63.0 259.2M55.5 259.1L55.5 259.5M55.5 259.1L59.0 259.1M55.5 259.5L63.0 259.5M59.4 260.7L59.4 261.0M59.4 260.7L63.0 260.7M59.4 261.0L63.0 261.0M56.7 260.3L56.7 260.9M56.7 260.3L63.0 260.3M56.7 260.9L59.4 260.9M52.7 259.9L52.7 260.6M52.7 259.9L63.0 259.9M52.7 260.6L56.7 260.6M48.5 259.3L48.5 260.3M48.5 259.3L55.5 259.3M48.5 260.3L52.7 260.3M58.8 261.6L58.8 261.9M58.8 261.6L63.0 261.6M58.8 261.9L63.0 261.9M55.7 261.3L55.7 261.7M55.7 261.3L63.0 261.3M55.7 261.7L58.8 261.7M43.5 259.8L43.5 261.5M43.5 259.8L48.5 259.8M43.5 261.5L55.7 261.5M38.3 256.7L38.3 260.7M38.3 256.7L44.7 256.7M38.3 260.7L43.5 260.7M32.5 247.1L32.5 258.7M32.5 247.1L38.5 247.1M32.5 258.7L38.3 258.7M58.9 262.2L58.9 262.5M58.9 262.2L63.0 262.2M58.9 262.5L63.0 262.5M54.7 262.4L54.7 262.9M54.7 262.4L58.9 262.4M54.7 262.9L63.0 262.9M58.3 263.3L58.3 263.6M58.3 263.3L63.0 263.3M58.3 263.6L63.0 263.6M58.8 263.5L58.8 263.8M58.8 263.5L59.4 263.5M58.8 263.8L63.0 263.8M52.9 263.6L52.9 264.1M52.9 263.6L58.8 263.6M52.9 264.1L63.0 264.1M59.0 264.6L59.0 265.0M59.0 264.6L63.0 264.6M59.0 265.0L63.0 265.0M50.0 263.9L50.0 264.8M50.0 263.9L52.9 263.9M50.0 264.8L59.0 264.8M46.3 262.6L46.3 264.3M46.3 262.6L54.7 262.6M46.3 264.3L50.0 264.3M58.5 265.4L58.5 265.7M58.5 265.4L63.0 265.4M58.5 265.7L63.0 265.7M58.4 266.0L58.4 266.4M58.4 266.0L63.0 266.0M58.4 266.4L63.0 266.4M58.7 266.8L58.7 267.1M58.7 266.8L63.0 266.8M58.7 267.1L63.0 267.1M53.0 266.2L53.0 266.9M53.0 266.2L58.4 266.2M53.0 266.9L58.7 266.9M51.3 265.6L51.3 266.6M51.3 265.6L58.5 265.6M51.3 266.6L53.0 266.6M56.9 267.6L56.9 268.0M56.9 267.6L63.0 267.6M56.9 268.0L63.0 268.0M47.6 266.1L47.6 267.8M47.6 266.1L51.3 266.1M47.6 267.8L56.9 267.8M58.8 268.4L58.8 268.8M58.8 268.4L63.0 268.4M58.8 268.8L63.0 268.8M55.2 268.6L55.2 269.3M55.2 268.6L58.8 268.6M55.2 269.3L63.0 269.3M59.2 269.7L59.2 270.0M59.2 269.7L63.0 269.7M59.2 270.0L63.0 270.0M58.6 270.5L58.6 270.8M58.6 270.5L63.0 270.5M58.6 270.8L63.0 270.8M54.9 270.7L54.9 271.1M54.9 270.7L58.6 270.7M54.9 271.1L63.0 271.1M52.8 269.9L52.8 270.9M52.8 269.9L59.2 269.9M52.8 270.9L54.9 270.9M48.2 269.0L48.2 270.4M48.2 269.0L55.2 269.0M48.2 270.4L52.8 270.4M41.7 266.9L41.7 269.7M41.7 266.9L47.6 266.9M41.7 269.7L48.2 269.7M59.4 271.4L59.4 271.8M59.4 271.4L63.0 271.4M59.4 271.8L63.0 271.8M55.7 271.6L55.7 272.1M55.7 271.6L59.4 271.6M55.7 272.1L63.0 272.1M59.4 272.4L59.4 272.7M59.4 272.4L63.0 272.4M59.4 272.7L63.0 272.7M53.1 271.8L53.1 272.5M53.1 271.8L55.7 271.8M53.1 272.5L59.4 272.5M59.2 273.2L59.2 273.5M59.2 273.2L63.0 273.2M59.2 273.5L63.0 273.5M54.8 272.9L54.8 273.3M54.8 272.9L63.0 272.9M54.8 273.3L59.2 273.3M49.7 272.2L49.7 273.1M49.7 272.2L53.1 272.2M49.7 273.1L54.8 273.1M38.3 268.3L38.3 272.7M38.3 268.3L41.7 268.3M38.3 272.7L49.7 272.7M34.8 263.5L34.8 270.5M34.8 263.5L46.3 263.5M34.8 270.5L38.3 270.5M59.1 274.2L59.1 274.6M59.1 274.2L63.0 274.2M59.1 274.6L63.0 274.6M57.1 274.4L57.1 274.9M57.1 274.4L59.1 274.4M57.1 274.9L63.0 274.9M53.4 273.9L53.4 274.6M53.4 273.9L63.0 273.9M53.4 274.6L57.1 274.6M58.2 275.5L58.2 275.8M58.2 275.5L63.0 275.5M58.2 275.8L63.0 275.8M59.1 275.7L59.1 276.2M59.1 275.7L59.7 275.7M59.1 276.2L63.0 276.2M53.8 275.2L53.8 275.9M53.8 275.2L63.0 275.2M53.8 275.9L59.1 275.9M50.3 275.6L50.3 276.5M50.3 275.6L53.8 275.6M50.3 276.5L63.0 276.5M47.8 274.3L47.8 276.0M47.8 274.3L53.4 274.3M47.8 276.0L50.3 276.0M58.9 276.8L58.9 277.2M58.9 276.8L63.0 276.8M58.9 277.2L63.0 277.2M59.3 277.6L59.3 277.9M59.3 277.6L63.0 277.6M59.3 277.9L63.0 277.9M54.9 277.7L54.9 278.2M54.9 277.7L59.3 277.7M54.9 278.2L63.0 278.2M52.6 277.0L52.6 278.0M52.6 277.0L58.9 277.0M52.6 278.0L54.9 278.0M41.5 275.1L41.5 277.5M41.5 275.1L47.8 275.1M41.5 277.5L52.6 277.5M58.5 278.4L58.5 278.7M58.5 278.4L63.0 278.4M58.5 278.7L63.0 278.7M54.9 278.6L54.9 279.1M54.9 278.6L58.5 278.6M54.9 279.1L63.0 279.1M59.2 279.7L59.2 280.1M59.2 279.7L63.0 279.7M59.2 280.1L63.0 280.1M56.0 279.4L56.0 279.9M56.0 279.4L63.0 279.4M56.0 279.9L59.2 279.9M53.1 279.7L53.1 280.5M53.1 279.7L56.0 279.7M53.1 280.5L63.0 280.5M48.2 278.8L48.2 280.1M48.2 278.8L54.9 278.8M48.2 280.1L53.1 280.1M58.6 281.0L58.6 281.3M58.6 281.0L63.0 281.0M58.6 281.3L63.0 281.3M58.2 281.7L58.2 282.0M58.2 281.7L63.0 281.7M58.2 282.0L63.0 282.0M54.1 281.8L54.1 282.4M54.1 281.8L58.2 281.8M54.1 282.4L63.0 282.4M52.0 281.2L52.0 282.1M52.0 281.2L58.6 281.2M52.0 282.1L54.1 282.1M59.2 282.9L59.2 283.4M59.2 282.9L63.0 282.9M59.2 283.4L63.0 283.4M59.4 283.8L59.4 284.1M59.4 283.8L63.0 283.8M59.4 284.1L63.0 284.1M52.3 283.2L52.3 283.9M52.3 283.2L59.2 283.2M52.3 283.9L59.4 283.9M58.7 284.6L58.7 285.1M58.7 284.6L63.0 284.6M58.7 285.1L63.0 285.1M55.8 284.3L55.8 284.8M55.8 284.3L63.0 284.3M55.8 284.8L58.7 284.8M59.4 285.4L59.4 285.8M59.4 285.4L63.0 285.4M59.4 285.8L63.0 285.8M56.5 285.6L56.5 286.2M56.5 285.6L59.4 285.6M56.5 286.2L63.0 286.2M50.8 284.6L50.8 285.9M50.8 284.6L55.8 284.6M50.8 285.9L56.5 285.9M48.0 283.5L48.0 285.2M48.0 283.5L52.3 283.5M48.0 285.2L50.8 285.2M40.9 281.6L40.9 284.4M40.9 281.6L52.0 281.6M40.9 284.4L48.0 284.4M43.1 279.5L43.1 283.0M43.1 279.5L48.2 279.5M43.1 283.0L43.7 283.0M59.3 286.6L59.3 287.0M59.3 286.6L63.0 286.6M59.3 287.0L63.0 287.0M58.1 287.2L58.1 287.5M58.1 287.2L63.0 287.2M58.1 287.5L63.0 287.5M54.5 286.8L54.5 287.3M54.5 286.8L59.3 286.8M54.5 287.3L58.1 287.3M58.7 288.3L58.7 288.6M58.7 288.3L63.0 288.3M58.7 288.6L63.0 288.6M55.9 287.9L55.9 288.4M55.9 287.9L63.0 287.9M55.9 288.4L58.7 288.4M54.1 288.2L54.1 288.9M54.1 288.2L55.9 288.2M54.1 288.9L63.0 288.9M59.0 289.4L59.0 289.8M59.0 289.4L63.0 289.4M59.0 289.8L63.0 289.8M49.5 288.6L49.5 289.6M49.5 288.6L54.1 288.6M49.5 289.6L59.0 289.6M44.8 287.1L44.8 289.1M44.8 287.1L54.5 287.1M44.8 289.1L49.5 289.1M39.1 281.2L39.1 288.1M39.1 281.2L43.1 281.2M39.1 288.1L44.8 288.1M34.9 276.3L34.9 284.7M34.9 276.3L41.5 276.3M34.9 284.7L39.1 284.7M27.3 267.0L27.3 280.5M27.3 267.0L34.8 267.0M27.3 280.5L34.9 280.5M40.0 252.9L40.0 273.7M40.0 252.9L40.6 252.9M40.0 273.7L40.6 273.7M58.4 290.2L58.4 290.5M58.4 290.2L63.0 290.2M58.4 290.5L63.0 290.5M58.4 290.8L58.4 291.1M58.4 290.8L63.0 290.8M58.4 291.1L63.0 291.1M54.6 290.4L54.6 290.9M54.6 290.4L58.4 290.4M54.6 290.9L58.4 290.9M58.7 291.9L58.7 292.2M58.7 291.9L63.0 291.9M58.7 292.2L63.0 292.2M55.9 291.5L55.9 292.1M55.9 291.5L63.0 291.5M55.9 292.1L58.7 292.1M50.9 290.6L50.9 291.8M50.9 290.6L54.6 290.6M50.9 291.8L55.9 291.8M58.5 292.6L58.5 293.0M58.5 292.6L63.0 292.6M58.5 293.0L63.0 293.0M58.3 293.2L58.3 293.5M58.3 293.2L63.0 293.2M58.3 293.5L63.0 293.5M55.3 292.8L55.3 293.4M55.3 292.8L58.5 292.8M55.3 293.4L58.3 293.4M47.6 291.2L47.6 293.1M47.6 291.2L50.9 291.2M47.6 293.1L55.3 293.1M58.9 294.7L58.9 295.0M58.9 294.7L63.0 294.7M58.9 295.0L63.0 295.0M55.9 294.4L55.9 294.8M55.9 294.4L63.0 294.4M55.9 294.8L58.9 294.8M54.9 293.9L54.9 294.6M54.9 293.9L63.0 293.9M54.9 294.6L55.9 294.6M42.8 292.1L42.8 294.3M42.8 292.1L47.6 292.1M42.8 294.3L54.9 294.3M58.8 295.3L58.8 295.6M58.8 295.3L63.0 295.3M58.8 295.6L63.0 295.6M54.9 295.5L54.9 295.9M54.9 295.5L58.8 295.5M54.9 295.9L63.0 295.9M59.1 296.6L59.1 296.9M59.1 296.6L63.0 296.6M59.1 296.9L63.0 296.9M59.1 296.3L59.1 296.7M59.1 296.3L63.0 296.3M59.1 296.7L59.7 296.7M58.7 297.1L58.7 297.4M58.7 297.1L63.0 297.1M58.7 297.4L63.0 297.4M59.2 298.1L59.2 298.5M59.2 298.1L63.0 298.1M59.2 298.5L63.0 298.5M55.1 297.8L55.1 298.3M55.1 297.8L63.0 297.8M55.1 298.3L59.2 298.3M51.9 297.3L51.9 298.1M51.9 297.3L58.7 297.3M51.9 298.1L55.1 298.1M50.6 296.5L50.6 297.7M50.6 296.5L59.1 296.5M50.6 297.7L51.9 297.7M44.6 295.7L44.6 297.1M44.6 295.7L54.9 295.7M44.6 297.1L50.6 297.1M35.5 293.2L35.5 296.4M35.5 293.2L42.8 293.2M35.5 296.4L44.6 296.4M59.2 299.0L59.2 299.3M59.2 299.0L63.0 299.0M59.2 299.3L63.0 299.3M57.1 299.6L57.1 300.1M57.1 299.6L63.0 299.6M57.1 300.1L63.0 300.1M52.3 299.1L52.3 299.9M52.3 299.1L59.2 299.1M52.3 299.9L57.1 299.9M59.4 300.9L59.4 301.2M59.4 300.9L63.0 300.9M59.4 301.2L63.0 301.2M56.6 301.1L56.6 301.6M56.6 301.1L59.4 301.1M56.6 301.6L63.0 301.6M52.9 300.5L52.9 301.3M52.9 300.5L63.0 300.5M52.9 301.3L56.6 301.3M58.1 302.1L58.1 302.4M58.1 302.1L63.0 302.1M58.1 302.4L63.0 302.4M59.5 301.9L59.5 302.3M59.5 301.9L63.0 301.9M59.5 302.3L60.1 302.3M59.2 303.0L59.2 303.3M59.2 303.0L63.0 303.0M59.2 303.3L63.0 303.3M58.5 302.7L58.5 303.1M58.5 302.7L63.0 302.7M58.5 303.1L59.2 303.1M52.8 302.1L52.8 302.9M52.8 302.1L59.5 302.1M52.8 302.9L58.5 302.9M49.3 300.9L49.3 302.5M49.3 300.9L52.9 300.9M49.3 302.5L52.8 302.5M58.2 304.0L58.2 304.3M58.2 304.0L63.0 304.0M58.2 304.3L63.0 304.3M56.6 303.6L56.6 304.1M56.6 303.6L63.0 303.6M56.6 304.1L58.2 304.1M43.1 301.7L43.1 303.9M43.1 301.7L49.3 301.7M43.1 303.9L56.6 303.9M40.3 299.5L40.3 302.8M40.3 299.5L52.3 299.5M40.3 302.8L43.1 302.8M59.0 304.6L59.0 304.9M59.0 304.6L63.0 304.6M59.0 304.9L63.0 304.9M58.5 305.2L58.5 305.6M58.5 305.2L63.0 305.2M58.5 305.6L63.0 305.6M58.9 305.8L58.9 306.1M58.9 305.8L63.0 305.8M58.9 306.1L63.0 306.1M55.7 306.0L55.7 306.4M55.7 306.0L58.9 306.0M55.7 306.4L63.0 306.4M55.2 305.4L55.2 306.2M55.2 305.4L58.5 305.4M55.2 306.2L55.8 306.2M50.0 304.7L50.0 305.8M50.0 304.7L59.0 304.7M50.0 305.8L55.2 305.8M58.3 306.7L58.3 307.1M58.3 306.7L63.0 306.7M58.3 307.1L63.0 307.1M49.1 305.3L49.1 306.9M49.1 305.3L50.0 305.3M49.1 306.9L58.3 306.9M36.9 301.1L36.9 306.1M36.9 301.1L40.3 301.1M36.9 306.1L49.1 306.1M32.4 294.8L32.4 303.6M32.4 294.8L35.5 294.8M32.4 303.6L36.9 303.6M59.3 307.9L59.3 308.2M59.3 307.9L63.0 307.9M59.3 308.2L63.0 308.2M55.8 307.5L55.8 308.1M55.8 307.5L63.0 307.5M55.8 308.1L59.3 308.1M58.6 308.7L58.6 309.1M58.6 308.7L63.0 308.7M58.6 309.1L63.0 309.1M56.0 308.9L56.0 309.3M56.0 308.9L58.6 308.9M56.0 309.3L63.0 309.3M59.5 309.6L59.5 309.9M59.5 309.6L63.0 309.6M59.5 309.9L63.0 309.9M59.0 310.2L59.0 310.6M59.0 310.2L63.0 310.2M59.0 310.6L63.0 310.6M54.7 309.8L54.7 310.4M54.7 309.8L59.5 309.8M54.7 310.4L59.0 310.4M49.5 309.1L49.5 310.1M49.5 309.1L56.0 309.1M49.5 310.1L54.7 310.1M47.3 307.8L47.3 309.6M47.3 307.8L55.8 307.8M47.3 309.6L49.5 309.6M59.2 310.9L59.2 311.2M59.2 310.9L63.0 310.9M59.2 311.2L63.0 311.2M54.8 311.1L54.8 311.5M54.8 311.1L59.2 311.1M54.8 311.5L63.0 311.5M58.5 311.9L58.5 312.2M58.5 311.9L63.0 311.9M58.5 312.2L63.0 312.2M59.0 312.1L59.0 312.4M59.0 312.1L59.6 312.1M59.0 312.4L63.0 312.4M56.8 312.2L56.8 312.7M56.8 312.2L59.0 312.2M56.8 312.7L63.0 312.7M51.6 311.3L51.6 312.5M51.6 311.3L54.8 311.3M51.6 312.5L56.8 312.5M58.4 314.1L58.4 314.4M58.4 314.1L63.0 314.1M58.4 314.4L63.0 314.4M54.9 313.6L54.9 314.2M54.9 313.6L63.0 313.6M54.9 314.2L58.4 314.2M52.4 313.1L52.4 313.9M52.4 313.1L63.0 313.1M52.4 313.9L54.9 313.9M59.3 315.1L59.3 315.5M59.3 315.1L63.0 315.1M59.3 315.5L63.0 315.5M56.6 314.7L56.6 315.3M56.6 314.7L63.0 314.7M56.6 315.3L59.3 315.3M58.9 315.8L58.9 316.1M58.9 315.8L63.0 315.8M58.9 316.1L63.0 316.1M59.4 316.4L59.4 316.8M59.4 316.4L63.0 316.4M59.4 316.8L63.0 316.8M55.3 315.9L55.3 316.6M55.3 315.9L58.9 315.9M55.3 316.6L59.4 316.6M51.5 315.0L51.5 316.3M51.5 315.0L56.6 315.0M51.5 316.3L55.3 316.3M48.0 313.5L48.0 315.7M48.0 313.5L52.4 313.5M48.0 315.7L51.5 315.7M45.1 311.9L45.1 314.6M45.1 311.9L51.6 311.9M45.1 314.6L48.0 314.6M35.0 308.7L35.0 313.2M35.0 308.7L47.3 308.7M35.0 313.2L45.1 313.2M42.0 299.2L42.0 311.0M42.0 299.2L42.6 299.2M42.0 311.0L42.6 311.0M40.0 263.3L40.0 305.1M40.0 263.3L40.0 263.3M40.0 305.1L42.0 305.1M29.0 233.6L29.0 284.2M29.0 233.6L38.8 233.6M29.0 284.2L40.0 284.2M19.4 208.7L19.4 258.9M19.4 208.7L33.2 208.7M19.4 258.9L29.0 258.9M7.2 153.1L7.2 233.8M7.2 153.1L29.0 153.1M7.2 233.8L19.4 233.8" stroke="#444" stroke-width="0.6" fill="none"/>
<rect x="42" y="90" width="21" height="227" fill="url(#dg)"/>
<path d="M46.5 91.0H54.2" stroke="#fff" stroke-opacity="0.76" stroke-width="0.87"/><path d="M47.7 93.9H49.2" stroke="#fff" stroke-opacity="0.61" stroke-width="0.87"/><path d="M47.6 96.6H49.8" stroke="#fff" stroke-opacity="0.61" stroke-width="0.52"/><path d="M46.3 99.0H49.1" stroke="#fff" stroke-opacity="0.50" stroke-width="0.54"/><path d="M47.1 102.4H50.1" stroke="#fff" stroke-opacity="0.76" stroke-width="0.47"/><path d="M44.5 105.0H49.0" stroke="#fff" stroke-opacity="0.79" stroke-width="0.50"/><path d="M47.9 106.7H55.1" stroke="#fff" stroke-opacity="0.53" stroke-width="0.88"/><path d="M46.7 109.1H50.4" stroke="#fff" stroke-opacity="0.82" stroke-width="0.75"/><path d="M47.6 112.5H51.1" stroke="#fff" stroke-opacity="0.56" stroke-width="0.48"/><path d="M44.3 114.1H51.1" stroke="#fff" stroke-opacity="0.67" stroke-width="0.40"/><path d="M45.4 116.8H51.2" stroke="#fff" stroke-opacity="0.77" stroke-width="0.64"/><path d="M45.9 118.8H53.9" stroke="#fff" stroke-opacity="0.43" stroke-width="0.89"/><path d="M47.0 120.0H54.9" stroke="#fff" stroke-opacity="0.41" stroke-width="0.79"/><path d="M46.3 122.0H49.1" stroke="#fff" stroke-opacity="0.42" stroke-width="0.49"/><path d="M44.8 125.4H54.3" stroke="#fff" stroke-opacity="0.82" stroke-width="0.87"/><path d="M45.4 127.4H52.7" stroke="#fff" stroke-opacity="0.75" stroke-width="0.45"/><path d="M47.2 130.4H55.0" stroke="#fff" stroke-opacity="0.42" stroke-width="0.87"/><path d="M45.4 131.8H53.3" stroke="#fff" stroke-opacity="0.81" stroke-width="0.57"/><path d="M46.2 135.1H51.2" stroke="#fff" stroke-opacity="0.54" stroke-width="0.49"/><path d="M44.6 136.5H53.8" stroke="#fff" stroke-opacity="0.85" stroke-width="0.48"/><path d="M47.9 137.8H52.7" stroke="#fff" stroke-opacity="0.58" stroke-width="0.52"/><path d="M47.3 140.4H52.2" stroke="#fff" stroke-opacity="0.59" stroke-width="0.43"/><path d="M44.1 143.7H52.5" stroke="#fff" stroke-opacity="0.78" stroke-width="0.47"/><path d="M47.8 146.5H53.4" stroke="#fff" stroke-opacity="0.75" stroke-width="0.45"/><path d="M44.6 148.7H54.9" stroke="#fff" stroke-opacity="0.53" stroke-width="0.63"/><path d="M47.4 152.2H55.8" stroke="#fff" stroke-opacity="0.60" stroke-width="0.64"/><path d="M45.9 155.1H51.0" stroke="#fff" stroke-opacity="0.58" stroke-width="0.47"/><path d="M48.0 157.2H55.7" stroke="#fff" stroke-opacity="0.68" stroke-width="0.65"/><path d="M44.4 159.2H50.9" stroke="#fff" stroke-opacity="0.75" stroke-width="0.83"/><path d="M47.1 161.2H54.4" stroke="#fff" stroke-opacity="0.71" stroke-width="0.73"/><path d="M45.5 164.1H53.9" stroke="#fff" stroke-opacity="0.53" stroke-width="0.64"/><path d="M46.8 167.1H51.1" stroke="#fff" stroke-opacity="0.83" stroke-width="0.72"/><path d="M44.0 169.6H52.8" stroke="#fff" stroke-opacity="0.51" stroke-width="0.74"/><path d="M47.3 171.9H53.5" stroke="#fff" stroke-opacity="0.76" stroke-width="0.57"/><path d="M47.0 174.6H54.8" stroke="#fff" stroke-opacity="0.56" stroke-width="0.82"/><path d="M46.8 177.8H55.8" stroke="#fff" stroke-opacity="0.83" stroke-width="0.66"/><path d="M44.7 180.2H54.9" stroke="#fff" stroke-opacity="0.82" stroke-width="0.64"/><path d="M46.9 183.0H54.1" stroke="#fff" stroke-opacity="0.48" stroke-width="0.79"/><path d="M46.7 185.5H51.9" stroke="#fff" stroke-opacity="0.68" stroke-width="0.79"/><path d="M46.9 188.2H49.2" stroke="#fff" stroke-opacity="0.47" stroke-width="0.62"/><path d="M44.9 190.9H53.8" stroke="#fff" stroke-opacity="0.68" stroke-width="0.42"/><path d="M44.9 193.2H49.4" stroke="#fff" stroke-opacity="0.46" stroke-width="0.56"/><path d="M44.8 194.8H49.2" stroke="#fff" stroke-opacity="0.61" stroke-width="0.59"/><path d="M46.4 197.4H50.7" stroke="#fff" stroke-opacity="0.81" stroke-width="0.40"/><path d="M45.1 199.5H51.9" stroke="#fff" stroke-opacity="0.45" stroke-width="0.82"/><path d="M44.1 201.6H53.3" stroke="#fff" stroke-opacity="0.44" stroke-width="0.67"/><path d="M46.3 203.6H55.7" stroke="#fff" stroke-opacity="0.77" stroke-width="0.61"/><path d="M46.6 206.6H51.6" stroke="#fff" stroke-opacity="0.46" stroke-width="0.70"/><path d="M47.8 209.1H55.8" stroke="#fff" stroke-opacity="0.67" stroke-width="0.58"/><path d="M44.0 212.4H49.8" stroke="#fff" stroke-opacity="0.65" stroke-width="0.71"/><path d="M46.5 213.9H55.2" stroke="#fff" stroke-opacity="0.57" stroke-width="0.62"/><path d="M45.2 215.6H55.8" stroke="#fff" stroke-opacity="0.57" stroke-width="0.88"/><path d="M46.4 218.9H50.8" stroke="#fff" stroke-opacity="0.84" stroke-width="0.65"/><path d="M45.3 221.1H55.9" stroke="#fff" stroke-opacity="0.62" stroke-width="0.54"/><path d="M44.5 223.4H53.4" stroke="#fff" stroke-opacity="0.60" stroke-width="0.55"/><path d="M47.3 226.4H49.1" stroke="#fff" stroke-opacity="0.64" stroke-width="0.54"/><path d="M47.1 229.7H50.7" stroke="#fff" stroke-opacity="0.52" stroke-width="0.48"/><path d="M45.2 233.2H53.3" stroke="#fff" stroke-opacity="0.61" stroke-width="0.72"/><path d="M47.0 235.8H49.8" stroke="#fff" stroke-opacity="0.74" stroke-width="0.55"/><path d="M45.3 238.2H51.1" stroke="#fff" stroke-opacity="0.64" stroke-width="0.63"/><path d="M47.0 240.3H53.1" stroke="#fff" stroke-opacity="0.42" stroke-width="0.53"/><path d="M47.7 242.5H55.2" stroke="#fff" stroke-opacity="0.65" stroke-width="0.41"/><path d="M45.7 245.5H53.0" stroke="#fff" stroke-opacity="0.72" stroke-width="0.72"/><path d="M47.6 247.8H51.7" stroke="#fff" stroke-opacity="0.58" stroke-width="0.83"/><path d="M45.2 249.5H54.8" stroke="#fff" stroke-opacity="0.43" stroke-width="0.82"/><path d="M45.7 252.3H51.0" stroke="#fff" stroke-opacity="0.75" stroke-width="0.86"/><path d="M45.9 253.8H52.8" stroke="#fff" stroke-opacity="0.62" stroke-width="0.57"/><path d="M46.3 255.3H54.7" stroke="#fff" stroke-opacity="0.43" stroke-width="0.52"/><path d="M47.2 258.4H53.6" stroke="#fff" stroke-opacity="0.41" stroke-width="0.76"/><path d="M48.0 261.9H53.9" stroke="#fff" stroke-opacity="0.42" stroke-width="0.82"/><path d="M46.6 263.6H55.7" stroke="#fff" stroke-opacity="0.72" stroke-width="0.47"/><path d="M47.7 265.5H50.0" stroke="#fff" stroke-opacity="0.67" stroke-width="0.61"/><path d="M46.5 267.0H49.3" stroke="#fff" stroke-opacity="0.45" stroke-width="0.59"/><path d="M44.2 268.4H53.0" stroke="#fff" stroke-opacity="0.73" stroke-width="0.84"/><path d="M45.7 269.9H51.2" stroke="#fff" stroke-opacity="0.67" stroke-width="0.64"/><path d="M45.5 273.3H49.4" stroke="#fff" stroke-opacity="0.71" stroke-width="0.48"/><path d="M46.0 275.9H55.4" stroke="#fff" stroke-opacity="0.65" stroke-width="0.71"/><path d="M46.2 277.7H50.8" stroke="#fff" stroke-opacity="0.74" stroke-width="0.66"/><path d="M44.9 279.2H51.6" stroke="#fff" stroke-opacity="0.73" stroke-width="0.49"/><path d="M46.6 282.1H49.6" stroke="#fff" stroke-opacity="0.70" stroke-width="0.45"/><path d="M46.4 283.6H50.7" stroke="#fff" stroke-opacity="0.79" stroke-width="0.64"/><path d="M47.2 285.5H49.2" stroke="#fff" stroke-opacity="0.73" stroke-width="0.43"/><path d="M47.8 287.0H53.8" stroke="#fff" stroke-opacity="0.50" stroke-width="0.46"/><path d="M46.7 290.5H54.7" stroke="#fff" stroke-opacity="0.46" stroke-width="0.71"/><path d="M44.9 292.5H51.3" stroke="#fff" stroke-opacity="0.68" stroke-width="0.57"/><path d="M44.5 294.6H54.8" stroke="#fff" stroke-opacity="0.69" stroke-width="0.80"/><path d="M47.4 296.8H52.6" stroke="#fff" stroke-opacity="0.67" stroke-width="0.69"/><path d="M45.6 299.7H49.7" stroke="#fff" stroke-opacity="0.41" stroke-width="0.50"/><path d="M47.6 301.0H52.4" stroke="#fff" stroke-opacity="0.74" stroke-width="0.40"/><path d="M47.6 303.3H53.3" stroke="#fff" stroke-opacity="0.59" stroke-width="0.63"/><path d="M44.6 304.7H50.1" stroke="#fff" stroke-opacity="0.57" stroke-width="0.59"/><path d="M44.6 307.9H50.8" stroke="#fff" stroke-opacity="0.52" stroke-width="0.48"/><path d="M44.9 309.8H52.4" stroke="#fff" stroke-opacity="0.41" stroke-width="0.86"/><path d="M47.8 311.8H53.8" stroke="#fff" stroke-opacity="0.70" stroke-width="0.64"/><path d="M44.5 315.2H53.7" stroke="#fff" stroke-opacity="0.53" stroke-width="0.74"/>
<path d="M100.3 85.0L115.3 85.0M100.3 85.0L100.3 90.0M115.3 85.0L115.3 90.0M107.8 83.5L130.2 83.5M107.8 83.5L107.8 85.0M130.2 83.5L130.2 90.0M85.4 82.3L119.0 82.3M85.4 82.3L85.4 90.0M119.0 82.3L119.0 83.5M70.5 81.3L102.2 81.3M70.5 81.3L70.5 90.0M102.2 81.3L102.2 82.3M145.1 82.6L160.1 82.6M145.1 82.6L145.1 90.0M160.1 82.6L160.1 90.0M189.9 84.3L204.9 84.3M189.9 84.3L189.9 90.0M204.9 84.3L204.9 90.0M175.0 83.3L197.4 83.3M175.0 83.3L175.0 90.0M197.4 83.3L197.4 84.3M152.6 82.0L186.2 82.0M152.6 82.0L152.6 82.6M186.2 82.0L186.2 83.3M234.7 82.0L249.7 82.0M234.7 82.0L234.7 90.0M249.7 82.0L249.7 90.0M264.6 80.8L279.5 80.8M264.6 80.8L264.6 90.0M279.5 80.8L279.5 90.0M242.2 79.6L272.1 79.6M242.2 79.6L242.2 82.0M272.1 79.6L272.1 80.8M219.8 71.5L257.1 71.5M219.8 71.5L219.8 90.0M257.1 71.5L257.1 79.6M169.4 66.8L238.5 66.8M169.4 66.8L169.4 82.0M238.5 66.8L238.5 71.5M86.3 62.6L203.9 62.6M86.3 62.6L86.3 81.3M203.9 62.6L203.9 66.8" stroke="#8a8a8a" stroke-width="0.8" fill="none"/>
<g font-size="8" fill="#1a1a1a" style="stroke-width:0.1px"><text transform="translate(72.97 58.80) rotate(-90)" x="0" y="0">gan42_Signal</text><text transform="translate(87.90 58.80) rotate(-90)" x="0" y="0">37_Signal</text><text transform="translate(102.83 58.80) rotate(-90)" x="0" y="0">41_Signal</text><text transform="translate(117.77 58.80) rotate(-90)" x="0" y="0">48_Signal</text><text transform="translate(132.70 58.80) rotate(-90)" x="0" y="0">47_Signal</text><text transform="translate(147.63 58.80) rotate(-90)" x="0" y="0">1_Signal</text><text transform="translate(162.57 58.80) rotate(-90)" x="0" y="0">gan5_Signal</text><text transform="translate(177.50 58.80) rotate(-90)" x="0" y="0">13_Signal</text><text transform="translate(192.43 58.80) rotate(-90)" x="0" y="0">14_Signal</text><text transform="translate(207.37 58.80) rotate(-90)" x="0" y="0">16_Signal</text><text transform="translate(222.30 58.80) rotate(-90)" x="0" y="0">19_Signal</text><text transform="translate(237.23 58.80) rotate(-90)" x="0" y="0">26_Signal</text><text transform="translate(252.17 58.80) rotate(-90)" x="0" y="0">28_Signal</text><text transform="translate(267.10 58.80) rotate(-90)" x="0" y="0">gan23_Signal</text><text transform="translate(282.03 58.80) rotate(-90)" x="0" y="0">33_Signal</text></g>
<rect x="291.5" y="64.3" width="5.5" height="19.4" fill="url(#cbar)"/><rect x="299.6" y="65.2" width="7.3" height="18.8" fill="#bdbdbd" rx="1"/><ellipse cx="301.6" cy="66.30" rx="1.1" ry="0.75" fill="#6a6a6a"/><ellipse cx="305.3" cy="66.30" rx="1.0" ry="0.75" fill="#4a4a4a"/><ellipse cx="301.6" cy="68.67" rx="1.1" ry="0.75" fill="#6a6a6a"/><ellipse cx="305.3" cy="68.67" rx="1.0" ry="0.75" fill="#4a4a4a"/><ellipse cx="301.6" cy="71.04" rx="1.1" ry="0.75" fill="#6a6a6a"/><ellipse cx="305.3" cy="71.04" rx="1.0" ry="0.75" fill="#4a4a4a"/><ellipse cx="301.6" cy="73.41" rx="1.1" ry="0.75" fill="#6a6a6a"/><ellipse cx="305.3" cy="73.41" rx="1.0" ry="0.75" fill="#4a4a4a"/><ellipse cx="301.6" cy="75.78" rx="1.1" ry="0.75" fill="#6a6a6a"/><ellipse cx="305.3" cy="75.78" rx="1.0" ry="0.75" fill="#4a4a4a"/><ellipse cx="301.6" cy="78.15" rx="1.1" ry="0.75" fill="#6a6a6a"/><ellipse cx="305.3" cy="78.15" rx="1.0" ry="0.75" fill="#4a4a4a"/><ellipse cx="301.6" cy="80.52" rx="1.1" ry="0.75" fill="#6a6a6a"/><ellipse cx="305.3" cy="80.52" rx="1.0" ry="0.75" fill="#4a4a4a"/><ellipse cx="301.6" cy="82.89" rx="1.1" ry="0.75" fill="#6a6a6a"/><ellipse cx="305.3" cy="82.89" rx="1.0" ry="0.75" fill="#4a4a4a"/>
<text x="7.9" y="18.1" font-size="12.2" font-weight="bold" fill="#111" style="stroke-width:0.1px">A</text>
<text x="324.8" y="17.8" font-size="11.5" font-weight="bold" fill="#111">B</text>
<text x="323.3" y="179" font-size="11.5" font-weight="bold" fill="#111">C</text>
<g fill="#1a1a1a"><rect x="353.80" y="134.9" width="8.2" height="1.0" fill="#1c2e12"/><rect x="362.00" y="104.05" width="8.2" height="32.15" fill="#c50d35"/><path d="M366.10 104.05V101.51M363.50 101.51H368.70" stroke="#30000a" stroke-width="1.2" fill="none"/><rect x="370.20" y="60.87" width="8.2" height="75.33" fill="#2c4a90"/><path d="M374.30 60.87V53.25M371.70 53.25H376.90" stroke="#0a132c" stroke-width="1.2" fill="none"/><path d="M366.10 136.2V139.8" stroke="#111" stroke-width="1.1"/><text x="366.10" y="150.3" text-anchor="middle" font-size="8.4">HAMP</text><rect x="386.05" y="88.18" width="8.2" height="48.02" fill="#67b13f"/><path d="M390.15 88.18V84.05M387.55 84.05H392.75" stroke="#1e3510" stroke-width="1.2" fill="none"/><rect x="394.25" y="104.05" width="8.2" height="32.15" fill="#c50d35"/><path d="M398.35 104.05V100.88M395.75 100.88H400.95" stroke="#30000a" stroke-width="1.2" fill="none"/><rect x="402.45" y="114.21" width="8.2" height="21.99" fill="#2c4a90"/><path d="M406.55 114.21V112.31M403.95 112.31H409.15" stroke="#0a132c" stroke-width="1.2" fill="none"/><path d="M398.35 136.2V139.8" stroke="#111" stroke-width="1.1"/><text x="398.35" y="150.3" text-anchor="middle" font-size="8.4">TFRC</text><rect x="418.30" y="130.09" width="8.2" height="6.11" fill="#67b13f"/><path d="M422.40 130.09V129.13M419.80 129.13H425.00" stroke="#1e3510" stroke-width="1.2" fill="none"/><rect x="426.50" y="104.05" width="8.2" height="32.15" fill="#c50d35"/><path d="M430.60 104.05V98.97M428.00 98.97H433.20" stroke="#30000a" stroke-width="1.2" fill="none"/><rect x="434.70" y="88.18" width="8.2" height="48.02" fill="#2c4a90"/><path d="M438.80 88.18V85.32M436.20 85.32H441.40" stroke="#0a132c" stroke-width="1.2" fill="none"/><path d="M430.60 136.2V139.8" stroke="#111" stroke-width="1.1"/><text x="430.60" y="150.3" text-anchor="middle" font-size="8.4">FTL1</text><rect x="450.55" y="110.08" width="8.2" height="26.12" fill="#67b13f"/><path d="M454.65 110.08V107.23M452.05 107.23H457.25" stroke="#1e3510" stroke-width="1.2" fill="none"/><rect x="458.75" y="104.05" width="8.2" height="32.15" fill="#c50d35"/><path d="M462.85 104.05V101.51M460.25 101.51H465.45" stroke="#30000a" stroke-width="1.2" fill="none"/><rect x="466.95" y="64.05" width="8.2" height="72.15" fill="#2c4a90"/><path d="M471.05 64.05V58.33M468.45 58.33H473.65" stroke="#0a132c" stroke-width="1.2" fill="none"/><path d="M462.85 136.2V139.8" stroke="#111" stroke-width="1.1"/><text x="462.85" y="150.3" text-anchor="middle" font-size="8.4">CCL2</text><rect x="482.80" y="112.94" width="8.2" height="23.26" fill="#67b13f"/><path d="M486.90 112.94V111.35M484.30 111.35H489.50" stroke="#1e3510" stroke-width="1.2" fill="none"/><rect x="491.00" y="104.05" width="8.2" height="32.15" fill="#c50d35"/><path d="M495.10 104.05V100.88M492.50 100.88H497.70" stroke="#30000a" stroke-width="1.2" fill="none"/><rect x="499.20" y="78.33" width="8.2" height="57.87" fill="#2c4a90"/><path d="M503.30 78.33V74.52M500.70 74.52H505.90" stroke="#0a132c" stroke-width="1.2" fill="none"/><path d="M495.10 136.2V139.8" stroke="#111" stroke-width="1.1"/><text x="495.10" y="150.3" text-anchor="middle" font-size="8.4">TNF-α</text><path d="M349.8 34.8V136.9M349.1 136.2H512.4" stroke="#111" stroke-width="1.4" fill="none"/><path d="M346.3 136.20H349.8" stroke="#111" stroke-width="1.1"/><text x="342.9" y="139.50" text-anchor="end" font-size="8.2">0</text><path d="M346.3 103.97H349.8" stroke="#111" stroke-width="1.1"/><text x="342.9" y="107.27" text-anchor="end" font-size="8.2">1</text><path d="M346.3 71.74H349.8" stroke="#111" stroke-width="1.1"/><text x="342.9" y="75.04" text-anchor="end" font-size="8.2">2</text><path d="M346.3 39.51H349.8" stroke="#111" stroke-width="1.1"/><text x="342.9" y="42.81" text-anchor="end" font-size="8.2">3</text><text transform="translate(333.5 85.2) rotate(-90)" text-anchor="middle" font-size="9.25" style="stroke-width:0.12px">mRNA fold, vs IA</text><text x="353.60" y="44.90" font-size="8.2">P&lt;0.01</text><path d="M357.00 49.70H376.00" stroke="#000" stroke-width="1.3"/><text x="386.80" y="75.10" font-size="8.2">P&lt;0.01</text><path d="M389.70 79.60H409.00" stroke="#000" stroke-width="1.3"/><text x="417.60" y="75.10" font-size="8.2">P&lt;0.01</text><path d="M420.50 79.30H439.90" stroke="#000" stroke-width="1.3"/><text x="449.20" y="50.70" font-size="8.2">P&lt;0.05</text><path d="M452.00 54.70H471.80" stroke="#000" stroke-width="1.3"/><text x="483.80" y="66.00" font-size="8.2">P&lt;0.05</text><path d="M486.00 70.80H505.80" stroke="#000" stroke-width="1.3"/><rect x="415.8" y="25.6" width="12.1" height="6.3" fill="#67b13f"/><text x="431.0" y="31.3" font-size="8.4">ID</text><rect x="448.8" y="25.6" width="12.1" height="6.3" fill="#c50d35"/><text x="465.8" y="31.3" font-size="8.4">IA</text><rect x="483.0" y="25.6" width="12.1" height="6.3" fill="#2c4a90"/><text x="498.5" y="31.3" font-size="8.4">IO</text></g>
<text x="380.3" y="192.5" font-size="7.8" text-anchor="middle" fill="#1a1a1a" style="stroke-width:0">IA</text>
<text x="467.7" y="192.5" font-size="7.8" text-anchor="middle" fill="#1a1a1a" style="stroke-width:0">IO</text>
<text transform="translate(331.6 230.8) rotate(-90)" text-anchor="middle" font-size="8" fill="#1a1a1a" style="stroke-width:0.05px">CD68</text>
<rect x="337.3" y="197.1" width="85.7" height="66.6" fill="url(#iag)"/><ellipse cx="372" cy="222" rx="6" ry="5" fill="none" stroke="#081a08" stroke-width="0.8"/><ellipse cx="408" cy="219" rx="3" ry="2.5" fill="#020702"/><rect x="424.4" y="197.1" width="85.9" height="66.6" fill="#020802"/><rect x="424.4" y="197.1" width="85.9" height="66.6" fill="url(#haze)"/><g clip-path="url(#ioclip)"><g filter="url(#soft)"><ellipse cx="445.8" cy="233.3" rx="1.1" ry="0.7" fill="rgb(13,53,13)"/><ellipse cx="474.2" cy="237.2" rx="0.8" ry="0.6" fill="rgb(15,60,15)"/><ellipse cx="508.6" cy="228.6" rx="0.9" ry="0.8" fill="rgb(16,65,16)"/><ellipse cx="438.5" cy="239.0" rx="0.8" ry="0.5" fill="rgb(15,63,15)"/><ellipse cx="490.5" cy="209.0" rx="0.6" ry="0.9" fill="rgb(16,67,16)"/><ellipse cx="494.4" cy="216.0" rx="1.0" ry="0.9" fill="rgb(17,68,17)"/><ellipse cx="485.3" cy="257.0" rx="1.0" ry="0.8" fill="rgb(13,55,13)"/><ellipse cx="506.0" cy="207.5" rx="0.7" ry="0.6" fill="rgb(13,53,13)"/><ellipse cx="444.0" cy="259.8" rx="1.1" ry="0.9" fill="rgb(14,57,14)"/><ellipse cx="461.0" cy="251.5" rx="0.8" ry="0.8" fill="rgb(16,66,16)"/><ellipse cx="474.5" cy="256.0" rx="1.1" ry="1.0" fill="rgb(7,31,7)"/><ellipse cx="481.7" cy="209.3" rx="1.2" ry="1.0" fill="rgb(12,50,12)"/><ellipse cx="473.2" cy="244.0" rx="1.0" ry="1.0" fill="rgb(10,43,10)"/><ellipse cx="448.2" cy="206.8" rx="1.1" ry="1.0" fill="rgb(15,60,15)"/><ellipse cx="433.3" cy="249.4" rx="1.1" ry="0.5" fill="rgb(14,56,14)"/><ellipse cx="461.5" cy="225.2" rx="0.6" ry="0.8" fill="rgb(9,37,9)"/><ellipse cx="429.7" cy="244.3" rx="0.9" ry="1.0" fill="rgb(12,51,12)"/><ellipse cx="449.2" cy="213.9" rx="0.8" ry="0.5" fill="rgb(8,32,8)"/><ellipse cx="475.8" cy="201.0" rx="1.2" ry="0.6" fill="rgb(10,42,10)"/><ellipse cx="447.9" cy="242.5" rx="0.8" ry="1.0" fill="rgb(12,51,12)"/><ellipse cx="500.4" cy="222.8" rx="1.1" ry="0.7" fill="rgb(14,59,14)"/><ellipse cx="497.9" cy="241.9" rx="1.0" ry="1.0" fill="rgb(9,36,9)"/><ellipse cx="468.1" cy="226.2" rx="1.2" ry="0.7" fill="rgb(11,45,11)"/><ellipse cx="447.4" cy="218.1" rx="0.6" ry="0.7" fill="rgb(12,51,12)"/><ellipse cx="474.1" cy="200.3" rx="1.0" ry="0.6" fill="rgb(17,69,17)"/><ellipse cx="478.6" cy="219.9" rx="1.0" ry="0.7" fill="rgb(13,52,13)"/><ellipse cx="484.7" cy="245.5" rx="1.0" ry="1.0" fill="rgb(7,31,7)"/><ellipse cx="427.8" cy="222.3" rx="0.9" ry="0.8" fill="rgb(17,70,17)"/><ellipse cx="452.6" cy="221.9" rx="1.1" ry="0.9" fill="rgb(12,50,12)"/><ellipse cx="447.9" cy="248.6" rx="1.1" ry="0.5" fill="rgb(9,36,9)"/><ellipse cx="473.2" cy="245.3" rx="0.9" ry="0.8" fill="rgb(12,49,12)"/><ellipse cx="448.4" cy="219.7" rx="1.0" ry="0.5" fill="rgb(14,57,14)"/><ellipse cx="475.9" cy="258.8" rx="0.9" ry="0.9" fill="rgb(11,44,11)"/><ellipse cx="440.1" cy="220.2" rx="1.1" ry="0.7" fill="rgb(10,43,10)"/><ellipse cx="444.7" cy="206.6" rx="1.2" ry="0.7" fill="rgb(15,63,15)"/><ellipse cx="495.4" cy="235.2" rx="0.8" ry="0.9" fill="rgb(11,47,11)"/><ellipse cx="433.1" cy="238.0" rx="0.7" ry="0.6" fill="rgb(16,67,16)"/><ellipse cx="491.9" cy="216.1" rx="1.0" ry="0.6" fill="rgb(13,52,13)"/><ellipse cx="473.2" cy="201.2" rx="0.7" ry="0.5" fill="rgb(14,56,14)"/><ellipse cx="504.3" cy="254.4" rx="0.9" ry="1.0" fill="rgb(15,62,15)"/><ellipse cx="503.0" cy="213.0" rx="1.1" ry="0.8" fill="rgb(14,59,14)"/><ellipse cx="469.1" cy="217.2" rx="1.1" ry="0.9" fill="rgb(12,51,12)"/><ellipse cx="497.2" cy="260.2" rx="1.1" ry="0.5" fill="rgb(9,37,9)"/><ellipse cx="501.0" cy="242.7" rx="1.1" ry="0.9" fill="rgb(10,42,10)"/><ellipse cx="473.9" cy="199.8" rx="0.7" ry="0.6" fill="rgb(9,37,9)"/><ellipse cx="481.0" cy="232.1" rx="0.6" ry="1.0" fill="rgb(14,56,14)"/><ellipse cx="435.4" cy="206.9" rx="0.9" ry="0.9" fill="rgb(16,64,16)"/><ellipse cx="455.2" cy="211.4" rx="1.1" ry="0.6" fill="rgb(16,64,16)"/><ellipse cx="445.9" cy="216.2" rx="1.1" ry="0.5" fill="rgb(9,38,9)"/><ellipse cx="478.2" cy="253.3" rx="1.1" ry="0.6" fill="rgb(8,33,8)"/><ellipse cx="477.3" cy="231.7" rx="0.9" ry="0.9" fill="rgb(8,33,8)"/><ellipse cx="426.2" cy="202.5" rx="0.6" ry="0.5" fill="rgb(9,38,9)"/><ellipse cx="466.1" cy="201.1" rx="0.9" ry="0.7" fill="rgb(8,35,8)"/><ellipse cx="439.0" cy="203.5" rx="1.0" ry="0.8" fill="rgb(13,54,13)"/><ellipse cx="455.9" cy="211.0" rx="0.9" ry="0.6" fill="rgb(12,51,12)"/><ellipse cx="426.3" cy="244.6" rx="0.9" ry="0.5" fill="rgb(8,35,8)"/><ellipse cx="464.2" cy="240.0" rx="0.8" ry="0.9" fill="rgb(16,64,16)"/><ellipse cx="477.7" cy="226.2" rx="1.0" ry="0.9" fill="rgb(13,53,13)"/><ellipse cx="452.1" cy="258.9" rx="0.9" ry="0.6" fill="rgb(14,56,14)"/><ellipse cx="470.5" cy="242.8" rx="1.1" ry="0.6" fill="rgb(8,34,8)"/><ellipse cx="436.8" cy="200.8" rx="0.8" ry="0.9" fill="rgb(12,50,12)"/><ellipse cx="491.6" cy="215.5" rx="1.0" ry="1.0" fill="rgb(14,59,14)"/><ellipse cx="486.7" cy="252.5" rx="1.1" ry="0.8" fill="rgb(15,63,15)"/><ellipse cx="486.9" cy="234.5" rx="1.1" ry="0.9" fill="rgb(9,36,9)"/><ellipse cx="465.3" cy="213.9" rx="0.6" ry="0.5" fill="rgb(13,54,13)"/><ellipse cx="434.2" cy="254.5" rx="1.1" ry="0.7" fill="rgb(10,41,10)"/><ellipse cx="496.7" cy="200.6" rx="1.0" ry="0.9" fill="rgb(9,37,9)"/><ellipse cx="505.1" cy="235.5" rx="0.6" ry="0.9" fill="rgb(8,35,8)"/><ellipse cx="468.4" cy="244.1" rx="0.9" ry="0.5" fill="rgb(9,36,9)"/><ellipse cx="471.9" cy="233.7" rx="0.7" ry="0.5" fill="rgb(16,66,16)"/><ellipse cx="508.9" cy="230.5" rx="1.2" ry="1.1" fill="rgb(24,99,24)"/><ellipse cx="459.3" cy="247.7" rx="1.5" ry="0.9" fill="rgb(23,95,23)"/><ellipse cx="506.2" cy="247.3" rx="1.5" ry="0.8" fill="rgb(21,85,21)"/><ellipse cx="488.3" cy="257.5" rx="1.2" ry="0.9" fill="rgb(28,114,28)"/><ellipse cx="502.8" cy="227.8" rx="1.3" ry="1.1" fill="rgb(19,79,19)"/><ellipse cx="439.2" cy="259.8" rx="1.1" ry="1.0" fill="rgb(29,117,29)"/><ellipse cx="505.0" cy="234.5" rx="0.9" ry="0.8" fill="rgb(31,124,31)"/><ellipse cx="443.3" cy="234.6" rx="1.5" ry="1.1" fill="rgb(22,90,22)"/><ellipse cx="471.1" cy="221.1" rx="1.3" ry="0.8" fill="rgb(28,112,28)"/><ellipse cx="497.0" cy="234.6" rx="1.4" ry="0.8" fill="rgb(21,87,21)"/><ellipse cx="449.0" cy="219.3" rx="0.9" ry="0.8" fill="rgb(20,82,20)"/><ellipse cx="453.4" cy="221.5" rx="1.1" ry="1.0" fill="rgb(19,79,19)"/><ellipse cx="484.5" cy="255.7" rx="1.4" ry="1.1" fill="rgb(26,107,26)"/><ellipse cx="472.7" cy="241.2" rx="0.9" ry="1.2" fill="rgb(29,116,29)"/><ellipse cx="491.2" cy="213.4" rx="1.1" ry="0.7" fill="rgb(18,72,18)"/><ellipse cx="446.3" cy="225.5" rx="0.8" ry="0.7" fill="rgb(28,113,28)"/><ellipse cx="447.8" cy="212.7" rx="1.0" ry="0.7" fill="rgb(29,119,29)"/><ellipse cx="484.8" cy="215.1" rx="0.9" ry="0.6" fill="rgb(21,86,21)"/><ellipse cx="442.0" cy="260.0" rx="0.9" ry="0.7" fill="rgb(30,121,30)"/><ellipse cx="495.4" cy="251.7" rx="1.1" ry="1.0" fill="rgb(23,92,23)"/><ellipse cx="454.6" cy="261.6" rx="1.1" ry="0.9" fill="rgb(22,91,22)"/><ellipse cx="444.2" cy="234.6" rx="1.1" ry="0.9" fill="rgb(25,101,25)"/><ellipse cx="436.8" cy="252.5" rx="1.1" ry="0.9" fill="rgb(28,112,28)"/><ellipse cx="470.3" cy="253.6" rx="1.5" ry="0.8" fill="rgb(25,103,25)"/><ellipse cx="490.3" cy="222.7" rx="1.3" ry="1.0" fill="rgb(22,88,22)"/><ellipse cx="504.4" cy="218.3" rx="1.3" ry="1.2" fill="rgb(19,76,19)"/><ellipse cx="482.2" cy="237.8" rx="1.3" ry="0.9" fill="rgb(19,77,19)"/><ellipse cx="431.9" cy="251.5" rx="1.2" ry="0.7" fill="rgb(29,116,29)"/><ellipse cx="479.9" cy="231.6" rx="1.1" ry="1.2" fill="rgb(20,81,20)"/><ellipse cx="464.2" cy="259.4" rx="0.9" ry="0.8" fill="rgb(26,105,26)"/><ellipse cx="486.1" cy="233.8" rx="1.0" ry="0.7" fill="rgb(26,105,26)"/><ellipse cx="466.6" cy="220.9" rx="0.8" ry="1.0" fill="rgb(28,115,28)"/><ellipse cx="488.9" cy="237.3" rx="1.1" ry="0.7" fill="rgb(29,117,29)"/><ellipse cx="449.2" cy="261.0" rx="0.8" ry="0.9" fill="rgb(19,78,19)"/><ellipse cx="447.3" cy="221.9" rx="1.4" ry="1.2" fill="rgb(23,92,23)"/><ellipse cx="463.8" cy="218.9" rx="1.0" ry="1.1" fill="rgb(18,74,18)"/><ellipse cx="436.2" cy="252.7" rx="1.3" ry="0.9" fill="rgb(19,76,19)"/><ellipse cx="501.6" cy="259.3" rx="0.9" ry="0.8" fill="rgb(28,114,28)"/><ellipse cx="488.0" cy="218.4" rx="0.9" ry="1.0" fill="rgb(29,117,29)"/><ellipse cx="497.5" cy="219.7" rx="1.2" ry="0.9" fill="rgb(26,104,26)"/><ellipse cx="443.6" cy="253.7" rx="1.0" ry="1.1" fill="rgb(30,120,30)"/><ellipse cx="463.5" cy="245.5" rx="1.1" ry="0.9" fill="rgb(30,122,30)"/><ellipse cx="474.8" cy="231.4" rx="1.3" ry="0.8" fill="rgb(25,103,25)"/><ellipse cx="497.5" cy="241.0" rx="0.9" ry="1.0" fill="rgb(27,108,27)"/><ellipse cx="435.8" cy="222.8" rx="1.1" ry="0.9" fill="rgb(21,84,21)"/><ellipse cx="454.3" cy="211.6" rx="1.1" ry="1.2" fill="rgb(23,94,23)"/><ellipse cx="428.7" cy="213.7" rx="1.0" ry="1.1" fill="rgb(19,78,19)"/><ellipse cx="429.7" cy="220.5" rx="1.1" ry="0.9" fill="rgb(23,93,23)"/><ellipse cx="466.3" cy="212.2" rx="1.1" ry="1.2" fill="rgb(18,74,18)"/><ellipse cx="438.6" cy="209.5" rx="1.0" ry="1.1" fill="rgb(17,68,17)"/><ellipse cx="454.3" cy="217.4" rx="1.0" ry="1.1" fill="rgb(24,97,24)"/><ellipse cx="441.8" cy="201.7" rx="1.2" ry="1.2" fill="rgb(21,86,21)"/><ellipse cx="488.5" cy="217.9" rx="1.0" ry="1.2" fill="rgb(18,73,18)"/><ellipse cx="470.7" cy="228.9" rx="1.4" ry="1.2" fill="rgb(16,67,16)"/><ellipse cx="479.0" cy="229.4" rx="1.6" ry="0.9" fill="rgb(21,86,21)"/><ellipse cx="468.0" cy="221.6" rx="1.5" ry="1.0" fill="rgb(17,69,17)"/><ellipse cx="446.0" cy="236.3" rx="1.3" ry="0.9" fill="rgb(19,79,19)"/><ellipse cx="437.0" cy="232.6" rx="1.2" ry="1.2" fill="rgb(16,67,16)"/><ellipse cx="460.6" cy="257.7" rx="1.2" ry="1.0" fill="rgb(18,75,18)"/><ellipse cx="428.7" cy="245.2" rx="1.3" ry="1.0" fill="rgb(17,69,17)"/><ellipse cx="427.1" cy="253.5" rx="1.2" ry="1.0" fill="rgb(24,96,24)"/><ellipse cx="437.6" cy="258.7" rx="1.3" ry="1.0" fill="rgb(22,90,22)"/><ellipse cx="462.7" cy="238.9" rx="1.4" ry="1.0" fill="rgb(16,67,16)"/><ellipse cx="486.4" cy="240.5" rx="1.3" ry="1.0" fill="rgb(22,88,22)"/><ellipse cx="487.4" cy="252.0" rx="1.1" ry="0.8" fill="rgb(22,90,22)"/><ellipse cx="506.8" cy="252.5" rx="1.2" ry="1.0" fill="rgb(19,78,19)"/><ellipse cx="500.5" cy="255.1" rx="1.3" ry="0.9" fill="rgb(23,94,23)"/><ellipse cx="471.2" cy="238.9" rx="1.1" ry="1.0" fill="rgb(16,66,16)"/><ellipse cx="495.8" cy="237.8" rx="1.4" ry="0.9" fill="rgb(18,75,18)"/><ellipse cx="482.7" cy="232.0" rx="1.3" ry="0.9" fill="rgb(18,75,18)"/><ellipse cx="500.5" cy="232.6" rx="1.2" ry="1.0" fill="rgb(16,66,16)"/><ellipse cx="473.8" cy="255.1" rx="2.0" ry="1.6" fill="rgb(33,132,33)"/><ellipse cx="462.7" cy="221.6" rx="1.6" ry="1.4" fill="rgb(33,133,33)"/><ellipse cx="501.0" cy="213.7" rx="1.5" ry="1.3" fill="rgb(36,145,36)"/><ellipse cx="502.0" cy="221.6" rx="1.4" ry="1.2" fill="rgb(38,155,38)"/><ellipse cx="508.9" cy="223.7" rx="1.2" ry="1.6" fill="rgb(33,132,33)"/><ellipse cx="474.4" cy="223.7" rx="1.5" ry="1.2" fill="rgb(38,155,38)"/><ellipse cx="483.3" cy="225.8" rx="2.0" ry="1.1" fill="rgb(40,161,40)"/><ellipse cx="436.5" cy="250.9" rx="2.0" ry="1.8" fill="rgb(32,131,32)"/><ellipse cx="449.1" cy="250.9" rx="2.0" ry="1.8" fill="rgb(36,144,36)"/><ellipse cx="455.3" cy="241.5" rx="1.8" ry="1.5" fill="rgb(36,145,36)"/><ellipse cx="464.8" cy="252.5" rx="1.4" ry="1.2" fill="rgb(34,136,34)"/><ellipse cx="438.6" cy="239.9" rx="2.0" ry="1.2" fill="rgb(38,154,38)"/><ellipse cx="466.5" cy="212.7" rx="1.3" ry="1.5" fill="rgb(40,160,40)"/><ellipse cx="466.5" cy="212.0" rx="1.3" ry="1.6" fill="rgb(35,142,35)"/><ellipse cx="454.8" cy="217.3" rx="1.4" ry="1.2" fill="rgb(35,140,35)"/><ellipse cx="498.5" cy="240.7" rx="1.6" ry="1.2" fill="rgb(37,151,37)"/><ellipse cx="443.0" cy="243.9" rx="1.5" ry="1.3" fill="rgb(42,169,42)"/><ellipse cx="449.5" cy="249.2" rx="1.5" ry="1.3" fill="rgb(34,137,34)"/><ellipse cx="487.8" cy="252.4" rx="1.3" ry="1.2" fill="rgb(38,152,38)"/><ellipse cx="500.6" cy="214.0" rx="1.4" ry="1.4" fill="rgb(34,137,34)"/><ellipse cx="437.8" cy="250.3" rx="1.4" ry="1.2" fill="rgb(42,168,42)"/><ellipse cx="435.7" cy="240.7" rx="1.5" ry="1.0" fill="rgb(33,133,33)"/><ellipse cx="445.3" cy="240.7" rx="1.5" ry="1.0" fill="rgb(37,148,37)"/><ellipse cx="455.9" cy="241.7" rx="1.6" ry="1.1" fill="rgb(36,147,36)"/><ellipse cx="485.7" cy="240.7" rx="1.3" ry="1.1" fill="rgb(39,159,39)"/><ellipse cx="463.4" cy="253.4" rx="1.4" ry="1.3" fill="rgb(37,149,37)"/><ellipse cx="469.7" cy="235.4" rx="1.3" ry="1.1" fill="rgb(40,161,40)"/><ellipse cx="480.4" cy="235.4" rx="1.3" ry="1.1" fill="rgb(36,145,36)"/><ellipse cx="463.4" cy="221.0" rx="1.5" ry="1.3" fill="rgb(41,165,41)"/><ellipse cx="440.0" cy="222.0" rx="1.5" ry="1.3" fill="rgb(36,147,36)"/><ellipse cx="478.0" cy="241.5" rx="2.6" ry="2.1" fill="rgb(47,191,38)"/><ellipse cx="474.9" cy="249.9" rx="2.3" ry="1.8" fill="rgb(52,211,42)"/><ellipse cx="501.6" cy="241.5" rx="2.6" ry="1.4" fill="rgb(53,212,42)"/><ellipse cx="505.5" cy="260.8" rx="3.0" ry="1.8" fill="rgb(52,210,42)"/><ellipse cx="509.0" cy="258.5" rx="1.5" ry="2.2" fill="rgb(48,195,39)"/><ellipse cx="443.3" cy="244.1" rx="1.6" ry="1.5" fill="rgb(48,193,38)"/><ellipse cx="439.7" cy="222.0" rx="1.5" ry="1.3" fill="rgb(54,217,43)"/><ellipse cx="506" cy="260" rx="6.5" ry="4.5" fill="url(#blob)"/><ellipse cx="509.5" cy="223" rx="2.5" ry="4.5" fill="url(#blob2)"/></g></g>
<rect x="0" y="0" width="520" height="1.5" fill="#000"/>
<rect x="0" y="0" width="1.5" height="325" fill="#000"/>
<rect x="518.4" y="0" width="1.6" height="325" fill="#000"/>
<rect x="0" y="323.2" width="520" height="1.8" fill="#000"/>
</svg>
</body></html>
